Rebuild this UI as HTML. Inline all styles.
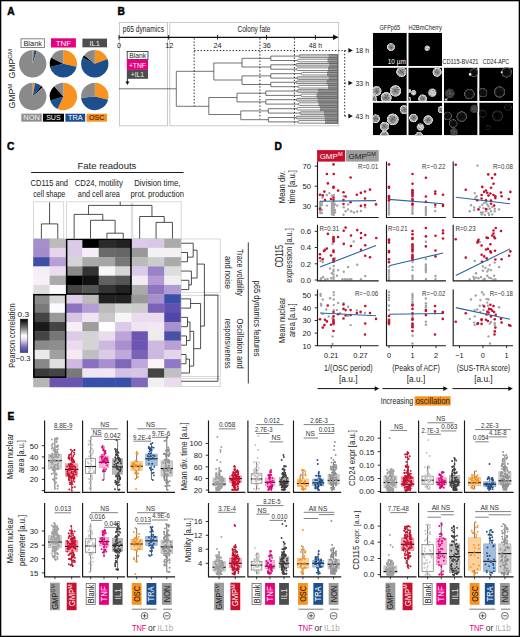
<!DOCTYPE html>
<html><head><meta charset="utf-8"><title>Figure</title>
<style>html,body{margin:0;padding:0;background:#fff;}body{width:520px;height:637px;overflow:hidden;font-family:"Liberation Sans",sans-serif;}svg{display:block;}</style>
</head><body>
<svg width="520" height="637" viewBox="0 0 520 637" font-family='"Liberation Sans", sans-serif'><defs><radialGradient id="cg"><stop offset="0" stop-color="#727272"/><stop offset="0.5" stop-color="#a0a0a0"/><stop offset="0.78" stop-color="#d6d6d6"/><stop offset="0.9" stop-color="#ececec"/><stop offset="0.97" stop-color="#8a8a8a"/><stop offset="1" stop-color="#000" stop-opacity="0"/></radialGradient><filter id="mot" x="-20%" y="-20%" width="140%" height="140%"><feTurbulence type="fractalNoise" baseFrequency="0.85" numOctaves="2" seed="7" result="t"/><feColorMatrix in="t" type="matrix" values="0 0 0 0 0  0 0 0 0 0  0 0 0 0 0  1.9 0 0 0 -0.75" result="m"/><feComposite in="m" in2="SourceGraphic" operator="in" result="d"/><feMerge><feMergeNode in="SourceGraphic"/><feMergeNode in="d"/></feMerge></filter><radialGradient id="cb"><stop offset="0" stop-color="#e0e0e0"/><stop offset="0.7" stop-color="#d4d4d4"/><stop offset="1" stop-color="#000" stop-opacity="0"/></radialGradient><radialGradient id="cd"><stop offset="0" stop-color="#101010"/><stop offset="0.65" stop-color="#1a1a1a"/><stop offset="0.86" stop-color="#5a5a5a"/><stop offset="0.93" stop-color="#666"/><stop offset="1" stop-color="#000" stop-opacity="0"/></radialGradient><radialGradient id="cdd"><stop offset="0" stop-color="#0a0a0a"/><stop offset="0.7" stop-color="#141414"/><stop offset="0.88" stop-color="#3c3c3c"/><stop offset="1" stop-color="#000" stop-opacity="0"/></radialGradient><radialGradient id="cdb"><stop offset="0" stop-color="#5a5a5a"/><stop offset="0.6" stop-color="#4a4a4a"/><stop offset="0.85" stop-color="#3a3a3a"/><stop offset="1" stop-color="#000" stop-opacity="0"/></radialGradient><filter id="nz" x="0" y="0" width="1" height="1"><feTurbulence type="fractalNoise" baseFrequency="1.3" numOctaves="1" seed="4" result="t"/><feColorMatrix type="matrix" values="0 0 0 0 1  0 0 0 0 1  0 0 0 0 1  0 0 0 0.9 -0.55" in="t" result="n"/><feComposite in="n" in2="SourceGraphic" operator="in"/></filter><clipPath id="im1"><rect x="372.8" y="32.8" width="34" height="33.3"/></clipPath><clipPath id="im2"><rect x="408.3" y="32.8" width="33.7" height="33.3"/></clipPath><clipPath id="im3"><rect x="372.8" y="67.6" width="34" height="33.5"/></clipPath><clipPath id="im4"><rect x="408.3" y="67.6" width="33.7" height="33.5"/></clipPath><clipPath id="im5"><rect x="444" y="67.6" width="33.6" height="33.5"/></clipPath><clipPath id="im6"><rect x="479.2" y="67.6" width="33.8" height="33.5"/></clipPath><clipPath id="im7"><rect x="372.8" y="102.5" width="34" height="32.8"/></clipPath><clipPath id="im8"><rect x="408.3" y="102.5" width="33.7" height="32.8"/></clipPath><clipPath id="im9"><rect x="444" y="102.5" width="33.6" height="32.8"/></clipPath><clipPath id="im10"><rect x="479.2" y="102.5" width="33.8" height="32.8"/></clipPath><linearGradient id="cbar" x1="0" y1="0" x2="0" y2="1"><stop offset="0" stop-color="#000"/><stop offset="0.25" stop-color="#6e6e6e"/><stop offset="0.5" stop-color="#ffffff"/><stop offset="0.62" stop-color="#e6d8ee"/><stop offset="0.8" stop-color="#8f78c2"/><stop offset="1" stop-color="#3440a0"/></linearGradient></defs><rect x="0.65" y="0.65" width="518.7" height="635.7" fill="none" stroke="#000" stroke-width="1.3"/>
<text x="7.2" y="15.2" font-size="10.2" fill="#000" font-weight="bold" stroke="#000" stroke-width="0.45">A</text>
<text x="117.6" y="15.4" font-size="10.2" fill="#000" font-weight="bold" stroke="#000" stroke-width="0.45">B</text>
<text x="7" y="149.8" font-size="10.2" fill="#000" font-weight="bold" stroke="#000" stroke-width="0.45">C</text>
<text x="274.4" y="149.6" font-size="10.2" fill="#000" font-weight="bold" stroke="#000" stroke-width="0.45">D</text>
<text x="7.6" y="420.3" font-size="10.2" fill="#000" font-weight="bold" stroke="#000" stroke-width="0.45">E</text>
<path d="M32.7 63.8L32.7 50.1A13.7 13.7 0 0 1 33.89 50.15Z" fill="#f7931e"/>
<path d="M32.7 63.8L33.89 50.15A13.7 13.7 0 0 1 36.93 50.77Z" fill="#1d4f8c"/>
<path d="M32.7 63.8L36.93 50.77A13.7 13.7 0 1 1 32.7 50.1Z" fill="#8a8a8a"/>
<path d="M63.3 63.8L63.3 50.1A13.7 13.7 0 0 1 76.7 66.65Z" fill="#f7931e"/>
<path d="M63.3 63.8L76.7 66.65A13.7 13.7 0 0 1 49.95 66.88Z" fill="#1d4f8c"/>
<path d="M63.3 63.8L49.95 66.88A13.7 13.7 0 0 1 51.09 57.58Z" fill="#000"/>
<path d="M63.3 63.8L51.09 57.58A13.7 13.7 0 0 1 63.3 50.1Z" fill="#8a8a8a"/>
<path d="M94.8 63.8L94.8 50.1A13.7 13.7 0 0 1 107.59 58.89Z" fill="#f7931e"/>
<path d="M94.8 63.8L107.59 58.89A13.7 13.7 0 1 1 82.59 57.58Z" fill="#1d4f8c"/>
<path d="M94.8 63.8L82.59 57.58A13.7 13.7 0 0 1 84.15 55.18Z" fill="#000"/>
<path d="M94.8 63.8L84.15 55.18A13.7 13.7 0 0 1 94.8 50.1Z" fill="#8a8a8a"/>
<path d="M32.7 96.5L32.7 82.8A13.7 13.7 0 0 1 35.08 83.01Z" fill="#f7931e"/>
<path d="M32.7 96.5L35.08 83.01A13.7 13.7 0 0 1 41.13 85.7Z" fill="#1d4f8c"/>
<path d="M32.7 96.5L41.13 85.7A13.7 13.7 0 0 1 42.72 87.16Z" fill="#000"/>
<path d="M32.7 96.5L42.72 87.16A13.7 13.7 0 1 1 32.7 82.8Z" fill="#8a8a8a"/>
<path d="M63.4 96.5L63.4 82.8A13.7 13.7 0 1 1 57.61 108.92Z" fill="#f7931e"/>
<path d="M63.4 96.5L57.61 108.92A13.7 13.7 0 0 1 50.3 100.51Z" fill="#1d4f8c"/>
<path d="M63.4 96.5L50.3 100.51A13.7 13.7 0 0 1 54.23 86.32Z" fill="#000"/>
<path d="M63.4 96.5L54.23 86.32A13.7 13.7 0 0 1 63.4 82.8Z" fill="#8a8a8a"/>
<path d="M94.8 96.5L94.8 82.8A13.7 13.7 0 0 1 108.09 99.81Z" fill="#f7931e"/>
<path d="M94.8 96.5L108.09 99.81A13.7 13.7 0 0 1 81.15 97.69Z" fill="#1d4f8c"/>
<path d="M94.8 96.5L81.15 97.69A13.7 13.7 0 0 1 94.8 82.8Z" fill="#8a8a8a"/>
<rect x="21" y="38.8" width="23.4" height="8.7" fill="#fff" stroke="#777" stroke-width="0.9"/>
<text x="32.7" y="46" font-size="8" fill="#222" text-anchor="middle" textLength="18.5" lengthAdjust="spacingAndGlyphs">Blank</text>
<rect x="51" y="38.3" width="24.9" height="9.2" fill="#e6007e"/>
<text x="63.4" y="46" font-size="8" fill="#fff" text-anchor="middle" textLength="15.5" lengthAdjust="spacingAndGlyphs">TNF</text>
<rect x="82.4" y="38.6" width="24.6" height="8.7" fill="#4d4d4d"/>
<text x="94.7" y="46" font-size="8" fill="#eee" text-anchor="middle" textLength="10.5" lengthAdjust="spacingAndGlyphs">IL1</text>
<text x="15.2" y="78.6" font-size="8.6" fill="#222" transform="rotate(-90 15.2 78.6)" textLength="29.5" lengthAdjust="spacingAndGlyphs">GMP<tspan font-size="5.8" dy="-3.4">GM</tspan></text>
<text x="15.2" y="108.6" font-size="8.6" fill="#222" transform="rotate(-90 15.2 108.6)" textLength="24.9" lengthAdjust="spacingAndGlyphs">GMP<tspan font-size="5.8" dy="-3.4">M</tspan></text>
<rect x="21.5" y="113.9" width="20.2" height="7.6" fill="#8c8c8c" stroke="#b0b0b0" stroke-width="0.6"/>
<text x="31.6" y="120.4" font-size="7.6" fill="#f4f4f4" text-anchor="middle" textLength="16.5" lengthAdjust="spacingAndGlyphs">NON</text>
<rect x="42.9" y="113.7" width="21.1" height="8" fill="#000"/>
<text x="53.4" y="120.4" font-size="7.6" fill="#fff" text-anchor="middle" textLength="14.5" lengthAdjust="spacingAndGlyphs">SUS</text>
<rect x="65.4" y="113.7" width="19.8" height="8" fill="#1d4f8c"/>
<text x="75.3" y="120.4" font-size="7.6" fill="#fff" text-anchor="middle" textLength="14.5" lengthAdjust="spacingAndGlyphs">TRA</text>
<rect x="86.5" y="113.7" width="20.5" height="8" fill="#f7931e"/>
<text x="96.7" y="120.4" font-size="7.6" fill="#111" text-anchor="middle" textLength="15.5" lengthAdjust="spacingAndGlyphs">OSC</text>
<rect x="119.4" y="22.4" width="48.1" height="103.4" fill="none" stroke="#c4c4c4" stroke-width="0.9"/>
<rect x="169.8" y="22.4" width="168.8" height="103.4" fill="none" stroke="#c4c4c4" stroke-width="0.9"/>
<text x="143.4" y="32.1" font-size="8.4" fill="#222" text-anchor="middle" textLength="41.2" lengthAdjust="spacingAndGlyphs">p65 dynamics</text>
<text x="254" y="31.8" font-size="9" fill="#222" text-anchor="middle" textLength="32.9" lengthAdjust="spacingAndGlyphs">Colony fate</text>
<line x1="119" y1="37.3" x2="334.5" y2="37.3" stroke="#111" stroke-width="1.25"/>
<path d="M333 34.6L338.6 37.3L333 40Z" fill="#111"/>
<line x1="119" y1="35" x2="119" y2="39.6" stroke="#111" stroke-width="0.9"/>
<line x1="168.6" y1="35" x2="168.6" y2="39.6" stroke="#111" stroke-width="0.9"/>
<line x1="217.6" y1="35" x2="217.6" y2="39.6" stroke="#111" stroke-width="0.9"/>
<line x1="266.5" y1="35" x2="266.5" y2="39.6" stroke="#111" stroke-width="0.9"/>
<line x1="315.4" y1="35" x2="315.4" y2="39.6" stroke="#111" stroke-width="0.9"/>
<text x="119" y="47.6" font-size="7.3" fill="#222" text-anchor="middle">0</text>
<text x="169.2" y="47.6" font-size="7.3" fill="#222" text-anchor="middle">12</text>
<text x="217.6" y="47.6" font-size="7.3" fill="#222" text-anchor="middle">24</text>
<text x="266.8" y="47.6" font-size="7.3" fill="#222" text-anchor="middle">36</text>
<text x="315.4" y="47.6" font-size="7.4" fill="#222" text-anchor="middle" textLength="13.2" lengthAdjust="spacingAndGlyphs">48 h</text>
<rect x="127.2" y="51.4" width="20.8" height="8.1" fill="#fff" stroke="#222" stroke-width="0.8"/>
<text x="137.6" y="58.3" font-size="7" fill="#222" text-anchor="middle" textLength="16.8" lengthAdjust="spacingAndGlyphs">Blank</text>
<rect x="126.8" y="59.5" width="21.2" height="10.4" fill="#e6007e"/>
<text x="137.4" y="67.5" font-size="7" fill="#fff" text-anchor="middle" textLength="17" lengthAdjust="spacingAndGlyphs">+TNF</text>
<rect x="126.8" y="69.9" width="21.2" height="8.9" fill="#4d4d4d"/>
<text x="137.4" y="77" font-size="7" fill="#eee" text-anchor="middle" textLength="13.5" lengthAdjust="spacingAndGlyphs">+IL1</text>
<line x1="127.4" y1="78.8" x2="127.4" y2="82" stroke="#111" stroke-width="0.9"/>
<path d="M125.4 81.6L129.4 81.6L127.4 85Z" fill="#111"/>
<path d="M119 88.8H176.3M176.3 71.3V106.3M176.3 71.3H213.8M213.8 63V80M213.8 63H242M242 58.3V67M213.8 80H242M242 75.9V84.5M176.3 106.3H208.8M208.8 97.5V114.5M208.8 97.5H237M237 93.2V101.9M208.8 114.5H240.8M240.8 110.9V119.7M242 58.3H270.8M270.8 56.1V60.5M270.8 56.1H299M270.8 60.5H297.5M242 67H270.8M270.8 64.8V69.2M270.8 64.8H296M270.8 69.2H296.5M242 75.9H270.8M270.8 73.7V78.1M270.8 73.7H301.5M270.8 78.1H297M242 84.5H270.8M270.8 82.3V86.7M270.8 82.3H296M270.8 86.7H298M237 93.2H265.8M265.8 91V95.4M265.8 91H297M265.8 95.4H301M237 101.9H265.8M265.8 99.7V104.1M265.8 99.7H296.5M265.8 104.1H298.5M240.8 110.9H268.3M268.3 108.7V113.1M268.3 108.7H297M268.3 113.1H300M240.8 119.7H268.3M268.3 117.5V121.9M268.3 117.5H296M268.3 121.9H298" stroke="#444" stroke-width="0.75" fill="none"/>
<rect x="299" y="54.8" width="29.5" height="2.6" fill="#d4d4d4"/>
<rect x="297.5" y="59.2" width="30" height="2.6" fill="#ffffff"/>
<rect x="296" y="63.5" width="33" height="2.6" fill="#d4d4d4"/>
<rect x="296.5" y="67.9" width="31.5" height="2.6" fill="#ffffff"/>
<rect x="301.5" y="72.4" width="25.5" height="2.6" fill="#ffffff"/>
<rect x="297" y="76.8" width="31.5" height="2.6" fill="#d4d4d4"/>
<rect x="296" y="81" width="30.5" height="2.6" fill="#d4d4d4"/>
<rect x="298" y="85.4" width="30" height="2.6" fill="#ffffff"/>
<rect x="297" y="89.7" width="21" height="2.6" fill="#d4d4d4"/>
<rect x="301" y="94.1" width="15.5" height="2.6" fill="#ffffff"/>
<rect x="296.5" y="98.4" width="21" height="2.6" fill="#d4d4d4"/>
<rect x="298.5" y="102.8" width="20" height="2.6" fill="#ffffff"/>
<rect x="297" y="107.4" width="23" height="2.6" fill="#ffffff"/>
<rect x="300" y="111.8" width="24" height="2.6" fill="#d4d4d4"/>
<rect x="296" y="116.2" width="28.5" height="2.6" fill="#d4d4d4"/>
<rect x="298" y="120.6" width="27" height="2.6" fill="#ffffff"/>
<path d="M338.2 53.9L328.5 53.9L328.5 58.3L327.5 58.3L327.5 62.7L329 62.6L329 67L328 67L328 71.4L327 71.5L327 75.9L328.5 75.9L328.5 80.3L326.5 80.1L326.5 84.5L328 84.5L328 88.9L318 88.8L318 93.2L316.5 93.2L316.5 97.6L317.5 97.5L317.5 101.9L318.5 101.9L318.5 106.3L320 106.5L320 110.9L324 110.9L324 115.3L324.5 115.3L324.5 119.7L325 119.7L325 124.1L338.2 124.1Z" fill="#9b9b9b"/>
<path d="M337.4 54.8H300.2A1.3 1.3 0 0 0 300.2 57.4H337.4M337.4 59.2H298.7A1.3 1.3 0 0 0 298.7 61.8H337.4M337.4 63.5H297.2A1.3 1.3 0 0 0 297.2 66.1H337.4M337.4 67.9H297.7A1.3 1.3 0 0 0 297.7 70.5H337.4M337.4 72.4H302.7A1.3 1.3 0 0 0 302.7 75H337.4M337.4 76.8H298.2A1.3 1.3 0 0 0 298.2 79.4H337.4M337.4 81H297.2A1.3 1.3 0 0 0 297.2 83.6H337.4M337.4 85.4H299.2A1.3 1.3 0 0 0 299.2 88H337.4M337.4 89.7H298.2A1.3 1.3 0 0 0 298.2 92.3H337.4M337.4 94.1H302.2A1.3 1.3 0 0 0 302.2 96.7H337.4M337.4 98.4H297.7A1.3 1.3 0 0 0 297.7 101H337.4M337.4 102.8H299.7A1.3 1.3 0 0 0 299.7 105.4H337.4M337.4 107.4H298.2A1.3 1.3 0 0 0 298.2 110H337.4M337.4 111.8H301.2A1.3 1.3 0 0 0 301.2 114.4H337.4M337.4 116.2H297.2A1.3 1.3 0 0 0 297.2 118.8H337.4M337.4 120.6H299.2A1.3 1.3 0 0 0 299.2 123.2H337.4" stroke="#505050" stroke-width="0.7" fill="none"/>
<line x1="337.6" y1="54.5" x2="337.6" y2="123.5" stroke="#555" stroke-width="0.8"/>
<line x1="194.2" y1="38.2" x2="194.2" y2="106.3" stroke="#111" stroke-width="0.9" stroke-dasharray="1.4 1.8"/>
<line x1="194.2" y1="50.6" x2="346" y2="50.6" stroke="#111" stroke-width="0.9" stroke-dasharray="1.4 1.8"/>
<line x1="259.9" y1="38.2" x2="259.9" y2="118.8" stroke="#111" stroke-width="0.9" stroke-dasharray="1.4 1.8"/>
<line x1="294.4" y1="38.2" x2="294.4" y2="125" stroke="#111" stroke-width="0.9" stroke-dasharray="1.4 1.8"/>
<line x1="344.7" y1="50.6" x2="344.7" y2="116.4" stroke="#111" stroke-width="0.9" stroke-dasharray="1.4 1.8"/>
<path d="M348.4 48.1L352.8 50.4L348.4 52.7Z" fill="#111"/>
<text x="355.4" y="53.3" font-size="7.4" fill="#222" textLength="13.7" lengthAdjust="spacingAndGlyphs">18 h</text>
<path d="M348.4 80.7L352.8 83L348.4 85.3Z" fill="#111"/>
<text x="355.4" y="85.9" font-size="7.4" fill="#222" textLength="13.7" lengthAdjust="spacingAndGlyphs">33 h</text>
<path d="M348.4 113.8L352.8 116.1L348.4 118.4Z" fill="#111"/>
<text x="355.4" y="119" font-size="7.4" fill="#222" textLength="13.7" lengthAdjust="spacingAndGlyphs">43 h</text>
<line x1="344.6" y1="83" x2="347.4" y2="83" stroke="#111" stroke-width="0.9" stroke-dasharray="1.4 1.8"/>
<line x1="344.6" y1="116.1" x2="347.4" y2="116.1" stroke="#111" stroke-width="0.9" stroke-dasharray="1.4 1.8"/>
<g clip-path="url(#im1)">
<rect x="372.8" y="32.8" width="34" height="33.3" fill="#000"/>
<g filter="url(#mot)">
<circle cx="390.9" cy="47.1" r="4.2" fill="url(#cg)"/>
</g></g>
<g clip-path="url(#im2)">
<rect x="408.3" y="32.8" width="33.7" height="33.3" fill="#000"/>
<g filter="url(#mot)">
<circle cx="427.2" cy="48.2" r="3.4" fill="url(#cb)"/>
</g></g>
<g clip-path="url(#im3)">
<rect x="372.8" y="67.6" width="34" height="33.5" fill="#000"/>
<g filter="url(#mot)">
<circle cx="401.4" cy="71.9" r="5.4" fill="url(#cg)"/>
<circle cx="376.6" cy="90.9" r="5.2" fill="url(#cg)"/>
<circle cx="395.5" cy="90.9" r="6" fill="url(#cg)"/>
<circle cx="386.2" cy="97.6" r="5.8" fill="url(#cg)"/>
<circle cx="373.5" cy="99" r="4" fill="url(#cg)"/>
</g></g>
<g clip-path="url(#im4)">
<rect x="408.3" y="67.6" width="33.7" height="33.5" fill="#000"/>
<g filter="url(#mot)">
<circle cx="437.1" cy="72.2" r="4.8" fill="url(#cg)"/>
<circle cx="432.3" cy="92.7" r="5.2" fill="url(#cb)"/>
<circle cx="413.6" cy="92.7" r="3.4" fill="url(#cb)"/>
<circle cx="409.2" cy="91" r="2.6" fill="url(#cb)"/>
<circle cx="422.6" cy="98.8" r="4.6" fill="url(#cg)"/>
<circle cx="408.4" cy="99.5" r="3" fill="url(#cg)"/>
</g></g>
<g clip-path="url(#im5)">
<rect x="444" y="67.6" width="33.6" height="33.5" fill="#000"/>
<g filter="url(#mot)">
<circle cx="474" cy="72.6" r="4.6" fill="url(#cd)"/>
<circle cx="449.7" cy="93.4" r="5.6" fill="url(#cdb)"/>
<circle cx="469.4" cy="94.1" r="5.6" fill="url(#cd)"/>
<circle cx="446.2" cy="99.5" r="2.2" fill="url(#cdb)"/>
</g></g>
<g clip-path="url(#im6)">
<rect x="479.2" y="67.6" width="33.8" height="33.5" fill="#000"/>
<g filter="url(#mot)">
<circle cx="506.6" cy="72.3" r="5.6" fill="url(#cd)"/>
<circle cx="482.7" cy="92.7" r="5" fill="url(#cd)"/>
<circle cx="499.6" cy="92" r="6" fill="url(#cd)"/>
</g></g>
<g clip-path="url(#im7)">
<rect x="372.8" y="102.5" width="34" height="32.8" fill="#000"/>
<g filter="url(#mot)">
<circle cx="375.6" cy="118.7" r="4.6" fill="url(#cg)"/>
<circle cx="404.2" cy="109.7" r="4.8" fill="url(#cg)"/>
<circle cx="392.8" cy="119.4" r="6.2" fill="url(#cg)"/>
<circle cx="384.5" cy="126.5" r="5" fill="url(#cg)"/>
<circle cx="384.5" cy="135.2" r="4.6" fill="url(#cg)"/>
</g></g>
<g clip-path="url(#im8)">
<rect x="408.3" y="102.5" width="33.7" height="32.8" fill="#000"/>
<g filter="url(#mot)">
<circle cx="413.5" cy="118" r="4.6" fill="url(#cg)"/>
<circle cx="428.1" cy="120.1" r="5" fill="url(#cg)"/>
<circle cx="420.5" cy="127" r="4.6" fill="url(#cb)"/>
<circle cx="441.3" cy="109.7" r="3.8" fill="url(#cg)"/>
<circle cx="419" cy="135.5" r="4" fill="url(#cg)"/>
</g></g>
<g clip-path="url(#im9)">
<rect x="444" y="102.5" width="33.6" height="32.8" fill="#000"/>
<g filter="url(#mot)">
<circle cx="474.3" cy="108.8" r="4.8" fill="url(#cdb)"/>
<circle cx="447.6" cy="115.9" r="4.6" fill="url(#cd)"/>
<circle cx="461.7" cy="116.6" r="5.6" fill="url(#cd)"/>
<circle cx="453.2" cy="123.6" r="4.6" fill="url(#cd)"/>
<circle cx="453.9" cy="132" r="4.6" fill="url(#cdb)"/>
</g></g>
<g clip-path="url(#im10)">
<rect x="479.2" y="102.5" width="33.8" height="32.8" fill="#000"/>
<g filter="url(#mot)">
<circle cx="482.7" cy="113.8" r="4.2" fill="url(#cdd)"/>
<circle cx="497.5" cy="115.9" r="6" fill="url(#cdd)"/>
<circle cx="508" cy="107.4" r="4.2" fill="url(#cdd)"/>
<circle cx="488.3" cy="127.8" r="3" fill="url(#cdd)"/>
</g></g>
<circle cx="470.1" cy="74.4" r="1.3" fill="#fff"/>
<circle cx="501.7" cy="72.3" r="1" fill="#eee"/>
<circle cx="446" cy="99.6" r="0.9" fill="#ddd"/>
<text x="389.8" y="29.6" font-size="6.8" fill="#222" text-anchor="middle" textLength="20.5" lengthAdjust="spacingAndGlyphs">GFPp65</text>
<text x="425.2" y="29.6" font-size="6.8" fill="#222" text-anchor="middle" textLength="33.5" lengthAdjust="spacingAndGlyphs">H2BmCherry</text>
<text x="460.4" y="64.3" font-size="6.8" fill="#222" text-anchor="middle" textLength="36.2" lengthAdjust="spacingAndGlyphs">CD115-BV421</text>
<text x="496" y="64.3" font-size="6.8" fill="#222" text-anchor="middle" textLength="26.4" lengthAdjust="spacingAndGlyphs">CD24-APC</text>
<text x="396.8" y="64.4" font-size="6.6" fill="#fff" text-anchor="middle" textLength="18" lengthAdjust="spacingAndGlyphs">10 µm</text>
<rect x="33.2" y="238.6" width="16.73" height="9.62" fill="#a78fcc"/>
<rect x="49.58" y="238.6" width="16.73" height="9.62" fill="#bbbbbb"/>
<rect x="65.96" y="238.6" width="16.73" height="9.62" fill="#dccbe8"/>
<rect x="82.34" y="238.6" width="16.73" height="9.62" fill="#000000"/>
<rect x="98.72" y="238.6" width="16.73" height="9.62" fill="#2a2a2a"/>
<rect x="115.1" y="238.6" width="16.73" height="9.62" fill="#222222"/>
<rect x="131.48" y="238.6" width="16.73" height="9.62" fill="#dccbe8"/>
<rect x="147.86" y="238.6" width="16.73" height="9.62" fill="#d8c8e6"/>
<rect x="164.24" y="238.6" width="16.73" height="9.62" fill="#aaaaaa"/>
<rect x="33.2" y="247.87" width="16.73" height="9.62" fill="#a48bc9"/>
<rect x="49.58" y="247.87" width="16.73" height="9.62" fill="#e5d4ec"/>
<rect x="65.96" y="247.87" width="16.73" height="9.62" fill="#dccbe8"/>
<rect x="82.34" y="247.87" width="16.73" height="9.62" fill="#f5eef8"/>
<rect x="98.72" y="247.87" width="16.73" height="9.62" fill="#6a6a6a"/>
<rect x="115.1" y="247.87" width="16.73" height="9.62" fill="#666666"/>
<rect x="131.48" y="247.87" width="16.73" height="9.62" fill="#999999"/>
<rect x="147.86" y="247.87" width="16.73" height="9.62" fill="#f2f2f2"/>
<rect x="164.24" y="247.87" width="16.73" height="9.62" fill="#f2f2f2"/>
<rect x="33.2" y="257.14" width="16.73" height="9.62" fill="#3f4fa8"/>
<rect x="49.58" y="257.14" width="16.73" height="9.62" fill="#b89fd5"/>
<rect x="65.96" y="257.14" width="16.73" height="9.62" fill="#d4d4d4"/>
<rect x="82.34" y="257.14" width="16.73" height="9.62" fill="#a9a9a9"/>
<rect x="98.72" y="257.14" width="16.73" height="9.62" fill="#a5a5a5"/>
<rect x="115.1" y="257.14" width="16.73" height="9.62" fill="#777777"/>
<rect x="131.48" y="257.14" width="16.73" height="9.62" fill="#bbbbbb"/>
<rect x="147.86" y="257.14" width="16.73" height="9.62" fill="#cccccc"/>
<rect x="164.24" y="257.14" width="16.73" height="9.62" fill="#aaaaaa"/>
<rect x="33.2" y="266.41" width="16.73" height="9.62" fill="#f5eef8"/>
<rect x="49.58" y="266.41" width="16.73" height="9.62" fill="#eddcf0"/>
<rect x="65.96" y="266.41" width="16.73" height="9.62" fill="#888888"/>
<rect x="82.34" y="266.41" width="16.73" height="9.62" fill="#333333"/>
<rect x="98.72" y="266.41" width="16.73" height="9.62" fill="#f5f7f7"/>
<rect x="115.1" y="266.41" width="16.73" height="9.62" fill="#d5d5d5"/>
<rect x="131.48" y="266.41" width="16.73" height="9.62" fill="#dccbe8"/>
<rect x="147.86" y="266.41" width="16.73" height="9.62" fill="#9882c8"/>
<rect x="164.24" y="266.41" width="16.73" height="9.62" fill="#dddddd"/>
<rect x="33.2" y="275.68" width="16.73" height="9.62" fill="#f8f0f8"/>
<rect x="49.58" y="275.68" width="16.73" height="9.62" fill="#aaaaaa"/>
<rect x="65.96" y="275.68" width="16.73" height="9.62" fill="#000000"/>
<rect x="82.34" y="275.68" width="16.73" height="9.62" fill="#111111"/>
<rect x="98.72" y="275.68" width="16.73" height="9.62" fill="#616161"/>
<rect x="115.1" y="275.68" width="16.73" height="9.62" fill="#555555"/>
<rect x="131.48" y="275.68" width="16.73" height="9.62" fill="#f4eaf4"/>
<rect x="147.86" y="275.68" width="16.73" height="9.62" fill="#b39ad4"/>
<rect x="164.24" y="275.68" width="16.73" height="9.62" fill="#eeeeee"/>
<rect x="33.2" y="284.95" width="16.73" height="9.62" fill="#dddddd"/>
<rect x="49.58" y="284.95" width="16.73" height="9.62" fill="#fcfafc"/>
<rect x="65.96" y="284.95" width="16.73" height="9.62" fill="#444444"/>
<rect x="82.34" y="284.95" width="16.73" height="9.62" fill="#555555"/>
<rect x="98.72" y="284.95" width="16.73" height="9.62" fill="#333333"/>
<rect x="115.1" y="284.95" width="16.73" height="9.62" fill="#222222"/>
<rect x="131.48" y="284.95" width="16.73" height="9.62" fill="#aaaaaa"/>
<rect x="147.86" y="284.95" width="16.73" height="9.62" fill="#8c76c0"/>
<rect x="164.24" y="284.95" width="16.73" height="9.62" fill="#b39ad4"/>
<rect x="33.2" y="294.22" width="16.73" height="9.62" fill="#8a8a8a"/>
<rect x="49.58" y="294.22" width="16.73" height="9.62" fill="#d8d8d8"/>
<rect x="65.96" y="294.22" width="16.73" height="9.62" fill="#e0cde8"/>
<rect x="82.34" y="294.22" width="16.73" height="9.62" fill="#bbbbbb"/>
<rect x="98.72" y="294.22" width="16.73" height="9.62" fill="#222222"/>
<rect x="115.1" y="294.22" width="16.73" height="9.62" fill="#222222"/>
<rect x="131.48" y="294.22" width="16.73" height="9.62" fill="#999999"/>
<rect x="147.86" y="294.22" width="16.73" height="9.62" fill="#a890cc"/>
<rect x="164.24" y="294.22" width="16.73" height="9.62" fill="#3a4fa8"/>
<rect x="33.2" y="303.49" width="16.73" height="9.62" fill="#7a7a7a"/>
<rect x="49.58" y="303.49" width="16.73" height="9.62" fill="#fafbff"/>
<rect x="65.96" y="303.49" width="16.73" height="9.62" fill="#8d74bf"/>
<rect x="82.34" y="303.49" width="16.73" height="9.62" fill="#b49dd4"/>
<rect x="98.72" y="303.49" width="16.73" height="9.62" fill="#bbbbbb"/>
<rect x="115.1" y="303.49" width="16.73" height="9.62" fill="#d0d0d0"/>
<rect x="131.48" y="303.49" width="16.73" height="9.62" fill="#cccccc"/>
<rect x="147.86" y="303.49" width="16.73" height="9.62" fill="#7a62b4"/>
<rect x="164.24" y="303.49" width="16.73" height="9.62" fill="#6050b0"/>
<rect x="33.2" y="312.76" width="16.73" height="9.62" fill="#444444"/>
<rect x="49.58" y="312.76" width="16.73" height="9.62" fill="#999999"/>
<rect x="65.96" y="312.76" width="16.73" height="9.62" fill="#d8c4e4"/>
<rect x="82.34" y="312.76" width="16.73" height="9.62" fill="#f0e4f2"/>
<rect x="98.72" y="312.76" width="16.73" height="9.62" fill="#c8c8c8"/>
<rect x="115.1" y="312.76" width="16.73" height="9.62" fill="#f5f5f5"/>
<rect x="131.48" y="312.76" width="16.73" height="9.62" fill="#eadcee"/>
<rect x="147.86" y="312.76" width="16.73" height="9.62" fill="#eadcee"/>
<rect x="164.24" y="312.76" width="16.73" height="9.62" fill="#5048a8"/>
<rect x="33.2" y="322.03" width="16.73" height="9.62" fill="#1a1a1a"/>
<rect x="49.58" y="322.03" width="16.73" height="9.62" fill="#444444"/>
<rect x="65.96" y="322.03" width="16.73" height="9.62" fill="#f6f0f6"/>
<rect x="82.34" y="322.03" width="16.73" height="9.62" fill="#9e9e9e"/>
<rect x="98.72" y="322.03" width="16.73" height="9.62" fill="#ffffff"/>
<rect x="115.1" y="322.03" width="16.73" height="9.62" fill="#dccbe6"/>
<rect x="131.48" y="322.03" width="16.73" height="9.62" fill="#f0e4f2"/>
<rect x="147.86" y="322.03" width="16.73" height="9.62" fill="#f2e8f4"/>
<rect x="164.24" y="322.03" width="16.73" height="9.62" fill="#a890cc"/>
<rect x="33.2" y="331.3" width="16.73" height="9.62" fill="#444444"/>
<rect x="49.58" y="331.3" width="16.73" height="9.62" fill="#777777"/>
<rect x="65.96" y="331.3" width="16.73" height="9.62" fill="#dccbe6"/>
<rect x="82.34" y="331.3" width="16.73" height="9.62" fill="#d4d4d4"/>
<rect x="98.72" y="331.3" width="16.73" height="9.62" fill="#eadcee"/>
<rect x="115.1" y="331.3" width="16.73" height="9.62" fill="#bba4d8"/>
<rect x="131.48" y="331.3" width="16.73" height="9.62" fill="#6b55b0"/>
<rect x="147.86" y="331.3" width="16.73" height="9.62" fill="#ececec"/>
<rect x="164.24" y="331.3" width="16.73" height="9.62" fill="#4850a8"/>
<rect x="33.2" y="340.57" width="16.73" height="9.62" fill="#8a8a8a"/>
<rect x="49.58" y="340.57" width="16.73" height="9.62" fill="#8e8e8e"/>
<rect x="65.96" y="340.57" width="16.73" height="9.62" fill="#eadcee"/>
<rect x="82.34" y="340.57" width="16.73" height="9.62" fill="#d4d4d4"/>
<rect x="98.72" y="340.57" width="16.73" height="9.62" fill="#cdb8e0"/>
<rect x="115.1" y="340.57" width="16.73" height="9.62" fill="#a890cc"/>
<rect x="131.48" y="340.57" width="16.73" height="9.62" fill="#6b55b0"/>
<rect x="147.86" y="340.57" width="16.73" height="9.62" fill="#cdb8e0"/>
<rect x="164.24" y="340.57" width="16.73" height="9.62" fill="#b8a0d4"/>
<rect x="33.2" y="349.84" width="16.73" height="9.62" fill="#eaeaea"/>
<rect x="49.58" y="349.84" width="16.73" height="9.62" fill="#a0a0a0"/>
<rect x="65.96" y="349.84" width="16.73" height="9.62" fill="#f4eaf4"/>
<rect x="82.34" y="349.84" width="16.73" height="9.62" fill="#bfbfbf"/>
<rect x="98.72" y="349.84" width="16.73" height="9.62" fill="#dccbe6"/>
<rect x="115.1" y="349.84" width="16.73" height="9.62" fill="#c0a8dc"/>
<rect x="131.48" y="349.84" width="16.73" height="9.62" fill="#7a62b4"/>
<rect x="147.86" y="349.84" width="16.73" height="9.62" fill="#cdb8e0"/>
<rect x="164.24" y="349.84" width="16.73" height="9.62" fill="#e4d4ea"/>
<rect x="33.2" y="359.11" width="16.73" height="9.62" fill="#888888"/>
<rect x="49.58" y="359.11" width="16.73" height="9.62" fill="#e0e0e0"/>
<rect x="65.96" y="359.11" width="16.73" height="9.62" fill="#d0b8e0"/>
<rect x="82.34" y="359.11" width="16.73" height="9.62" fill="#8a70c0"/>
<rect x="98.72" y="359.11" width="16.73" height="9.62" fill="#a890cc"/>
<rect x="115.1" y="359.11" width="16.73" height="9.62" fill="#8068b8"/>
<rect x="131.48" y="359.11" width="16.73" height="9.62" fill="#c0a8dc"/>
<rect x="147.86" y="359.11" width="16.73" height="9.62" fill="#f8f4f8"/>
<rect x="164.24" y="359.11" width="16.73" height="9.62" fill="#9078c4"/>
<rect x="33.2" y="368.38" width="16.73" height="9.62" fill="#3a3a3a"/>
<rect x="49.58" y="368.38" width="16.73" height="9.62" fill="#444444"/>
<rect x="65.96" y="368.38" width="16.73" height="9.62" fill="#7a7a7a"/>
<rect x="82.34" y="368.38" width="16.73" height="9.62" fill="#f2e6f4"/>
<rect x="98.72" y="368.38" width="16.73" height="9.62" fill="#f2e6f4"/>
<rect x="115.1" y="368.38" width="16.73" height="9.62" fill="#d4c0e4"/>
<rect x="131.48" y="368.38" width="16.73" height="9.62" fill="#d8c4e4"/>
<rect x="147.86" y="368.38" width="16.73" height="9.62" fill="#444444"/>
<rect x="164.24" y="368.38" width="16.73" height="9.62" fill="#c0c0c0"/>
<rect x="33.2" y="377.65" width="16.73" height="9.62" fill="#b5b5b5"/>
<rect x="49.58" y="377.65" width="16.73" height="9.62" fill="#6b55b0"/>
<rect x="65.96" y="377.65" width="16.73" height="9.62" fill="#6b55b0"/>
<rect x="82.34" y="377.65" width="16.73" height="9.62" fill="#3850a8"/>
<rect x="98.72" y="377.65" width="16.73" height="9.62" fill="#3850a8"/>
<rect x="115.1" y="377.65" width="16.73" height="9.62" fill="#3850a8"/>
<rect x="131.48" y="377.65" width="16.73" height="9.62" fill="#8068b8"/>
<rect x="147.86" y="377.65" width="16.73" height="9.62" fill="#f0f0f0"/>
<rect x="164.24" y="377.65" width="16.73" height="9.62" fill="#eadcee"/>
<rect x="66.66" y="239.3" width="64.32" height="54.72" fill="none" stroke="#000" stroke-width="1.5"/>
<rect x="33.9" y="294.72" width="31.76" height="82.43" fill="none" stroke="#000" stroke-width="1.5"/>
<rect x="33.6" y="201.8" width="30.1" height="36.8" fill="none" stroke="#cfcfcf" stroke-width="0.8"/>
<rect x="66.4" y="201.8" width="64.9" height="36.8" fill="none" stroke="#cfcfcf" stroke-width="0.8"/>
<rect x="132.8" y="201.8" width="48.4" height="36.8" fill="none" stroke="#cfcfcf" stroke-width="0.8"/>
<rect x="181.2" y="239" width="39.1" height="53.3" fill="none" stroke="#cfcfcf" stroke-width="0.8"/>
<rect x="181.2" y="295.3" width="39.1" height="81.2" fill="none" stroke="#cfcfcf" stroke-width="0.8"/>
<rect x="181.2" y="378.6" width="39.1" height="8" fill="none" stroke="#cfcfcf" stroke-width="0.8"/>
<path d="M41.39 238.6V223.9H57.77V238.6M49.58 223.9V202.4M106.91 238.6V233.2H123.29V238.6M90.53 238.6V220.3H115.1V233.2M74.15 238.6V214.4H102.81V220.3M156.05 238.6V222.4H172.43V238.6M139.67 238.6V216.5H164.24V222.4M88.48 214.4V205.4H151.96V216.5M120.22 205.4V201.8" stroke="#222" stroke-width="0.8" fill="none"/>
<path d="M181.2 252.5H187.5V261.77H181.2M181.2 243.23H193.2V257.14H187.5M181.2 280.31H188.8V289.58H181.2M181.2 271.05H191.4V284.95H188.8M193.2 250.19H197.1V278H191.4M181.2 298.86H190.6V308.12H181.2M181.2 317.39H187.5V326.66H181.2M181.2 335.94H186.5V345.2H181.2M187.5 322.03H190V340.57H186.5M181.2 354.48H186V363.75H181.2M186 359.11H189.5V373.01H181.2M190 331.3H193.7V366.06H189.5M190.6 303.49H200.6V348.68H193.7M197.1 264.09H204.4V326.09H200.6M204.4 295.09H217.9V381.28H181.2" stroke="#222" stroke-width="0.8" fill="none"/>
<text x="106.9" y="168.9" font-size="9.6" fill="#222" text-anchor="middle" textLength="59" lengthAdjust="spacingAndGlyphs">Fate readouts</text>
<line x1="31.2" y1="172.5" x2="183.5" y2="172.5" stroke="#1a1a1a" stroke-width="1"/>
<text x="49.3" y="185.8" font-size="8.3" fill="#222" text-anchor="middle" textLength="37.5" lengthAdjust="spacingAndGlyphs">CD115 and</text>
<text x="49.3" y="196.5" font-size="8.3" fill="#222" text-anchor="middle" textLength="32" lengthAdjust="spacingAndGlyphs">cell shape</text>
<text x="98.8" y="185.8" font-size="8.3" fill="#222" text-anchor="middle" textLength="48" lengthAdjust="spacingAndGlyphs">CD24, motility</text>
<text x="98.8" y="196.5" font-size="8.3" fill="#222" text-anchor="middle" textLength="42" lengthAdjust="spacingAndGlyphs">and cell area</text>
<text x="157.3" y="185.8" font-size="8.3" fill="#222" text-anchor="middle" textLength="46.2" lengthAdjust="spacingAndGlyphs">Division time,</text>
<text x="157.3" y="196.5" font-size="8.3" fill="#222" text-anchor="middle" textLength="53.5" lengthAdjust="spacingAndGlyphs">prot. production</text>
<text x="237.4" y="272.5" font-size="8.5" fill="#222" text-anchor="middle" textLength="47" lengthAdjust="spacingAndGlyphs" transform="rotate(90 237.4 272.5)">Trace volatility</text>
<text x="225.3" y="272.5" font-size="8.5" fill="#222" text-anchor="middle" textLength="33" lengthAdjust="spacingAndGlyphs" transform="rotate(90 225.3 272.5)">and noise</text>
<text x="237.4" y="343.6" font-size="8.5" fill="#222" text-anchor="middle" textLength="50.2" lengthAdjust="spacingAndGlyphs" transform="rotate(90 237.4 343.6)">Oscillation and</text>
<text x="225.3" y="343.6" font-size="8.5" fill="#222" text-anchor="middle" textLength="50.2" lengthAdjust="spacingAndGlyphs" transform="rotate(90 225.3 343.6)">responsiveness</text>
<line x1="248.3" y1="242.4" x2="248.3" y2="383.4" stroke="#222" stroke-width="0.9"/>
<text x="253.9" y="318.5" font-size="8.5" fill="#222" text-anchor="middle" textLength="76" lengthAdjust="spacingAndGlyphs" transform="rotate(90 253.9 318.5)">p65 dynamics features</text>
<rect x="20.2" y="319.1" width="7.6" height="33.4" fill="url(#cbar)" stroke="#222" stroke-width="0.5"/>
<text x="23.3" y="316.7" font-size="7.6" fill="#222" text-anchor="middle" textLength="11.5" lengthAdjust="spacingAndGlyphs">0.3</text>
<text x="23" y="360.6" font-size="7.6" fill="#222" text-anchor="middle" textLength="15" lengthAdjust="spacingAndGlyphs">−0.3</text>
<text x="15" y="335.5" font-size="8.5" fill="#222" text-anchor="middle" textLength="64.4" lengthAdjust="spacingAndGlyphs" transform="rotate(-90 15 335.5)">Pearson correlation</text>
<circle cx="320.25" cy="201.88" r="1.2" fill="#a2a2a2"/>
<circle cx="320.25" cy="203.75" r="1.2" fill="#a2a2a2"/>
<circle cx="320.25" cy="205.62" r="1.2" fill="#a2a2a2"/>
<circle cx="320.25" cy="207.5" r="1.2" fill="#a2a2a2"/>
<circle cx="320.25" cy="209.38" r="1.2" fill="#a2a2a2"/>
<circle cx="320.25" cy="210.62" r="1.2" fill="#a2a2a2"/>
<circle cx="320.25" cy="211.88" r="1.2" fill="#a2a2a2"/>
<circle cx="320.25" cy="213.12" r="1.2" fill="#a2a2a2"/>
<circle cx="321.88" cy="202.5" r="1.2" fill="#a2a2a2"/>
<circle cx="321.88" cy="205" r="1.2" fill="#a2a2a2"/>
<circle cx="321.88" cy="210" r="1.2" fill="#a2a2a2"/>
<circle cx="321.88" cy="213.12" r="1.2" fill="#a2a2a2"/>
<circle cx="331.88" cy="203.12" r="1.2" fill="#a2a2a2"/>
<circle cx="331.88" cy="205" r="1.2" fill="#a2a2a2"/>
<circle cx="331.88" cy="206.88" r="1.2" fill="#a2a2a2"/>
<circle cx="331.88" cy="208.75" r="1.2" fill="#a2a2a2"/>
<circle cx="331.88" cy="210.62" r="1.2" fill="#a2a2a2"/>
<circle cx="331.88" cy="212.5" r="1.2" fill="#a2a2a2"/>
<circle cx="331.88" cy="214.38" r="1.2" fill="#a2a2a2"/>
<circle cx="333.75" cy="201.88" r="1.2" fill="#a2a2a2"/>
<circle cx="333.75" cy="203.75" r="1.2" fill="#a2a2a2"/>
<circle cx="333.75" cy="205.62" r="1.2" fill="#a2a2a2"/>
<circle cx="333.75" cy="207.5" r="1.2" fill="#a2a2a2"/>
<circle cx="333.75" cy="209.38" r="1.2" fill="#a2a2a2"/>
<circle cx="333.75" cy="211.25" r="1.2" fill="#a2a2a2"/>
<circle cx="333.75" cy="213.12" r="1.2" fill="#a2a2a2"/>
<circle cx="333.75" cy="215" r="1.2" fill="#a2a2a2"/>
<circle cx="335" cy="204.38" r="1.2" fill="#a2a2a2"/>
<circle cx="335" cy="210" r="1.2" fill="#a2a2a2"/>
<circle cx="335" cy="212.5" r="1.2" fill="#a2a2a2"/>
<circle cx="326.88" cy="195" r="1.2" fill="#a2a2a2"/>
<circle cx="329.38" cy="193.12" r="1.2" fill="#a2a2a2"/>
<circle cx="326.88" cy="205.62" r="1.2" fill="#a2a2a2"/>
<circle cx="337.25" cy="205.62" r="1.2" fill="#a2a2a2"/>
<circle cx="343.75" cy="207.25" r="1.2" fill="#a2a2a2"/>
<circle cx="348.12" cy="204.38" r="1.2" fill="#a2a2a2"/>
<circle cx="343.5" cy="214.75" r="1.2" fill="#a2a2a2"/>
<circle cx="345.62" cy="211.25" r="1.2" fill="#a2a2a2"/>
<circle cx="348.12" cy="209.38" r="1.2" fill="#a2a2a2"/>
<circle cx="351.25" cy="211.25" r="1.2" fill="#a2a2a2"/>
<circle cx="354" cy="212.5" r="1.2" fill="#a2a2a2"/>
<circle cx="357.12" cy="211.5" r="1.2" fill="#a2a2a2"/>
<circle cx="360.88" cy="211" r="1.2" fill="#a2a2a2"/>
<circle cx="365" cy="207.25" r="1.2" fill="#a2a2a2"/>
<circle cx="331.88" cy="195.62" r="1.2" fill="#a2a2a2"/>
<circle cx="333.75" cy="195" r="1.2" fill="#a2a2a2"/>
<circle cx="343.75" cy="196.25" r="1.2" fill="#a2a2a2"/>
<circle cx="322.5" cy="197.5" r="1.2" fill="#a2a2a2"/>
<circle cx="389" cy="195.62" r="1.2" fill="#a2a2a2"/>
<circle cx="389" cy="197.5" r="1.2" fill="#a2a2a2"/>
<circle cx="389" cy="200" r="1.2" fill="#a2a2a2"/>
<circle cx="389" cy="203.12" r="1.2" fill="#a2a2a2"/>
<circle cx="389" cy="205" r="1.2" fill="#a2a2a2"/>
<circle cx="389" cy="206.88" r="1.2" fill="#a2a2a2"/>
<circle cx="389" cy="208.75" r="1.2" fill="#a2a2a2"/>
<circle cx="389" cy="210.62" r="1.2" fill="#a2a2a2"/>
<circle cx="389" cy="212.5" r="1.2" fill="#a2a2a2"/>
<circle cx="389" cy="214.38" r="1.2" fill="#a2a2a2"/>
<circle cx="412.5" cy="205" r="1.2" fill="#a2a2a2"/>
<circle cx="412.5" cy="206.88" r="1.2" fill="#a2a2a2"/>
<circle cx="412.5" cy="208.75" r="1.2" fill="#a2a2a2"/>
<circle cx="412.5" cy="210.62" r="1.2" fill="#a2a2a2"/>
<circle cx="412.5" cy="212.5" r="1.2" fill="#a2a2a2"/>
<circle cx="412.5" cy="213.75" r="1.2" fill="#a2a2a2"/>
<circle cx="425.88" cy="206.88" r="1.2" fill="#a2a2a2"/>
<circle cx="425.88" cy="208.12" r="1.2" fill="#a2a2a2"/>
<circle cx="425.88" cy="209.38" r="1.2" fill="#a2a2a2"/>
<circle cx="425.88" cy="210.62" r="1.2" fill="#a2a2a2"/>
<circle cx="425.88" cy="211.88" r="1.2" fill="#a2a2a2"/>
<circle cx="425.88" cy="213.12" r="1.2" fill="#a2a2a2"/>
<circle cx="425.88" cy="215" r="1.2" fill="#a2a2a2"/>
<circle cx="435.25" cy="206.88" r="1.2" fill="#a2a2a2"/>
<circle cx="435.25" cy="211" r="1.2" fill="#a2a2a2"/>
<circle cx="477.5" cy="165.62" r="1.2" fill="#a2a2a2"/>
<circle cx="474.75" cy="193.12" r="1.2" fill="#a2a2a2"/>
<circle cx="476.62" cy="196.25" r="1.2" fill="#a2a2a2"/>
<circle cx="475.38" cy="198.12" r="1.2" fill="#a2a2a2"/>
<circle cx="471" cy="205.25" r="1.2" fill="#a2a2a2"/>
<circle cx="469.75" cy="211.25" r="1.2" fill="#a2a2a2"/>
<circle cx="474.12" cy="210" r="1.2" fill="#a2a2a2"/>
<circle cx="474.12" cy="207.5" r="1.2" fill="#a2a2a2"/>
<circle cx="479.75" cy="206.88" r="1.2" fill="#a2a2a2"/>
<circle cx="482.25" cy="205" r="1.2" fill="#a2a2a2"/>
<circle cx="484.12" cy="203.12" r="1.2" fill="#a2a2a2"/>
<circle cx="486" cy="202.25" r="1.2" fill="#a2a2a2"/>
<circle cx="487.25" cy="204.38" r="1.2" fill="#a2a2a2"/>
<circle cx="488.5" cy="206.25" r="1.2" fill="#a2a2a2"/>
<circle cx="489.75" cy="208.75" r="1.2" fill="#a2a2a2"/>
<circle cx="486" cy="211.25" r="1.2" fill="#a2a2a2"/>
<circle cx="488.5" cy="213.12" r="1.2" fill="#a2a2a2"/>
<circle cx="491" cy="211.25" r="1.2" fill="#a2a2a2"/>
<circle cx="492.25" cy="214.38" r="1.2" fill="#a2a2a2"/>
<circle cx="494.75" cy="208.75" r="1.2" fill="#a2a2a2"/>
<circle cx="494.75" cy="211.25" r="1.2" fill="#a2a2a2"/>
<circle cx="499.12" cy="209.38" r="1.2" fill="#a2a2a2"/>
<circle cx="482.88" cy="212.5" r="1.2" fill="#a2a2a2"/>
<circle cx="481" cy="212.5" r="1.2" fill="#a2a2a2"/>
<circle cx="481.62" cy="214.38" r="1.2" fill="#a2a2a2"/>
<circle cx="484.75" cy="215" r="1.2" fill="#a2a2a2"/>
<circle cx="489.12" cy="215" r="1.2" fill="#a2a2a2"/>
<circle cx="492.25" cy="206.88" r="1.2" fill="#a2a2a2"/>
<circle cx="483.5" cy="208.12" r="1.2" fill="#a2a2a2"/>
<circle cx="487.25" cy="209.38" r="1.2" fill="#a2a2a2"/>
<circle cx="353.75" cy="241.38" r="1.2" fill="#a2a2a2"/>
<circle cx="332.5" cy="243.88" r="1.2" fill="#a2a2a2"/>
<circle cx="333.5" cy="259.5" r="1.2" fill="#a2a2a2"/>
<circle cx="335" cy="258.5" r="1.2" fill="#a2a2a2"/>
<circle cx="320.62" cy="261" r="1.2" fill="#a2a2a2"/>
<circle cx="322.75" cy="262" r="1.2" fill="#a2a2a2"/>
<circle cx="333.75" cy="266" r="1.2" fill="#a2a2a2"/>
<circle cx="330" cy="268.5" r="1.2" fill="#a2a2a2"/>
<circle cx="333.5" cy="269.75" r="1.2" fill="#a2a2a2"/>
<circle cx="333.5" cy="271.38" r="1.2" fill="#a2a2a2"/>
<circle cx="338.12" cy="270.12" r="1.2" fill="#a2a2a2"/>
<circle cx="348.12" cy="267" r="1.2" fill="#a2a2a2"/>
<circle cx="357.25" cy="264.75" r="1.2" fill="#a2a2a2"/>
<circle cx="343.75" cy="271.75" r="1.2" fill="#a2a2a2"/>
<circle cx="333.5" cy="274.5" r="1.2" fill="#a2a2a2"/>
<circle cx="336.88" cy="275.75" r="1.2" fill="#a2a2a2"/>
<circle cx="333.5" cy="277" r="1.2" fill="#a2a2a2"/>
<circle cx="333.5" cy="278.88" r="1.2" fill="#a2a2a2"/>
<circle cx="327.5" cy="278.88" r="1.2" fill="#a2a2a2"/>
<circle cx="325" cy="279.5" r="1.2" fill="#a2a2a2"/>
<circle cx="321.25" cy="278.25" r="1.2" fill="#a2a2a2"/>
<circle cx="320.62" cy="279.75" r="1.2" fill="#a2a2a2"/>
<circle cx="342.5" cy="279.25" r="1.2" fill="#a2a2a2"/>
<circle cx="345" cy="279.25" r="1.2" fill="#a2a2a2"/>
<circle cx="347.5" cy="279.25" r="1.2" fill="#a2a2a2"/>
<circle cx="350" cy="279.25" r="1.2" fill="#a2a2a2"/>
<circle cx="351.25" cy="279.25" r="1.2" fill="#a2a2a2"/>
<circle cx="361" cy="279.25" r="1.2" fill="#a2a2a2"/>
<circle cx="365.25" cy="276" r="1.2" fill="#a2a2a2"/>
<circle cx="331.25" cy="278.25" r="1.2" fill="#a2a2a2"/>
<circle cx="323.12" cy="277" r="1.2" fill="#a2a2a2"/>
<circle cx="331.88" cy="273.25" r="1.2" fill="#a2a2a2"/>
<circle cx="389" cy="262.62" r="1.2" fill="#a2a2a2"/>
<circle cx="389" cy="267" r="1.2" fill="#a2a2a2"/>
<circle cx="389" cy="270.12" r="1.2" fill="#a2a2a2"/>
<circle cx="389" cy="272" r="1.2" fill="#a2a2a2"/>
<circle cx="389" cy="274.5" r="1.2" fill="#a2a2a2"/>
<circle cx="389" cy="277" r="1.2" fill="#a2a2a2"/>
<circle cx="389" cy="278.88" r="1.2" fill="#a2a2a2"/>
<circle cx="389" cy="280.12" r="1.2" fill="#a2a2a2"/>
<circle cx="412.5" cy="262" r="1.2" fill="#a2a2a2"/>
<circle cx="412.5" cy="267" r="1.2" fill="#a2a2a2"/>
<circle cx="412.5" cy="270.12" r="1.2" fill="#a2a2a2"/>
<circle cx="412.5" cy="275.75" r="1.2" fill="#a2a2a2"/>
<circle cx="412.5" cy="277" r="1.2" fill="#a2a2a2"/>
<circle cx="412.5" cy="278.88" r="1.2" fill="#a2a2a2"/>
<circle cx="425.88" cy="241.75" r="1.2" fill="#a2a2a2"/>
<circle cx="425.88" cy="258.88" r="1.2" fill="#a2a2a2"/>
<circle cx="425.88" cy="264.5" r="1.2" fill="#a2a2a2"/>
<circle cx="425.88" cy="266" r="1.2" fill="#a2a2a2"/>
<circle cx="425.88" cy="267.62" r="1.2" fill="#a2a2a2"/>
<circle cx="425.88" cy="269.25" r="1.2" fill="#a2a2a2"/>
<circle cx="425.88" cy="270.75" r="1.2" fill="#a2a2a2"/>
<circle cx="425.88" cy="272" r="1.2" fill="#a2a2a2"/>
<circle cx="425.88" cy="278.88" r="1.2" fill="#a2a2a2"/>
<circle cx="435.5" cy="276" r="1.2" fill="#a2a2a2"/>
<circle cx="435.5" cy="278.88" r="1.2" fill="#a2a2a2"/>
<circle cx="479.75" cy="242" r="1.2" fill="#a2a2a2"/>
<circle cx="474.75" cy="261" r="1.2" fill="#a2a2a2"/>
<circle cx="487.25" cy="260.12" r="1.2" fill="#a2a2a2"/>
<circle cx="489.75" cy="265.12" r="1.2" fill="#a2a2a2"/>
<circle cx="494.75" cy="262.62" r="1.2" fill="#a2a2a2"/>
<circle cx="499.12" cy="267" r="1.2" fill="#a2a2a2"/>
<circle cx="482.88" cy="266.38" r="1.2" fill="#a2a2a2"/>
<circle cx="485.38" cy="268" r="1.2" fill="#a2a2a2"/>
<circle cx="488.5" cy="269.5" r="1.2" fill="#a2a2a2"/>
<circle cx="491" cy="270.12" r="1.2" fill="#a2a2a2"/>
<circle cx="482.88" cy="270.75" r="1.2" fill="#a2a2a2"/>
<circle cx="487.25" cy="271.38" r="1.2" fill="#a2a2a2"/>
<circle cx="476" cy="273.25" r="1.2" fill="#a2a2a2"/>
<circle cx="473.5" cy="277" r="1.2" fill="#a2a2a2"/>
<circle cx="476" cy="277.62" r="1.2" fill="#a2a2a2"/>
<circle cx="478.5" cy="278.25" r="1.2" fill="#a2a2a2"/>
<circle cx="481" cy="277" r="1.2" fill="#a2a2a2"/>
<circle cx="484.75" cy="278.88" r="1.2" fill="#a2a2a2"/>
<circle cx="487.25" cy="275.75" r="1.2" fill="#a2a2a2"/>
<circle cx="489.12" cy="277.62" r="1.2" fill="#a2a2a2"/>
<circle cx="491" cy="278.25" r="1.2" fill="#a2a2a2"/>
<circle cx="494.12" cy="275.75" r="1.2" fill="#a2a2a2"/>
<circle cx="469.75" cy="279.5" r="1.2" fill="#a2a2a2"/>
<circle cx="474.12" cy="278.88" r="1.2" fill="#a2a2a2"/>
<circle cx="483.5" cy="279.5" r="1.2" fill="#a2a2a2"/>
<circle cx="493.5" cy="279.75" r="1.2" fill="#a2a2a2"/>
<circle cx="495.38" cy="279.25" r="1.2" fill="#a2a2a2"/>
<circle cx="320.62" cy="293.88" r="1.2" fill="#a2a2a2"/>
<circle cx="320.62" cy="295.75" r="1.2" fill="#a2a2a2"/>
<circle cx="322.75" cy="299.5" r="1.2" fill="#a2a2a2"/>
<circle cx="321" cy="303.88" r="1.2" fill="#a2a2a2"/>
<circle cx="321.25" cy="305.5" r="1.2" fill="#a2a2a2"/>
<circle cx="333.75" cy="292.25" r="1.2" fill="#a2a2a2"/>
<circle cx="333.75" cy="295.12" r="1.2" fill="#a2a2a2"/>
<circle cx="333.75" cy="299.5" r="1.2" fill="#a2a2a2"/>
<circle cx="333.75" cy="305.12" r="1.2" fill="#a2a2a2"/>
<circle cx="330" cy="298.25" r="1.2" fill="#a2a2a2"/>
<circle cx="338.12" cy="303" r="1.2" fill="#a2a2a2"/>
<circle cx="343.5" cy="303.25" r="1.2" fill="#a2a2a2"/>
<circle cx="348.12" cy="306.75" r="1.2" fill="#a2a2a2"/>
<circle cx="336.88" cy="310.12" r="1.2" fill="#a2a2a2"/>
<circle cx="326.25" cy="309.5" r="1.2" fill="#a2a2a2"/>
<circle cx="328.75" cy="316.38" r="1.2" fill="#a2a2a2"/>
<circle cx="333.75" cy="310.12" r="1.2" fill="#a2a2a2"/>
<circle cx="333.75" cy="324.5" r="1.2" fill="#a2a2a2"/>
<circle cx="332.5" cy="318.25" r="1.2" fill="#a2a2a2"/>
<circle cx="350.62" cy="325.12" r="1.2" fill="#a2a2a2"/>
<circle cx="356.88" cy="310.5" r="1.2" fill="#a2a2a2"/>
<circle cx="360.62" cy="312.62" r="1.2" fill="#a2a2a2"/>
<circle cx="365" cy="313" r="1.2" fill="#a2a2a2"/>
<circle cx="348.12" cy="315.75" r="1.2" fill="#a2a2a2"/>
<circle cx="332.5" cy="336.38" r="1.2" fill="#a2a2a2"/>
<circle cx="332.5" cy="343.88" r="1.2" fill="#a2a2a2"/>
<circle cx="340" cy="313.25" r="1.2" fill="#a2a2a2"/>
<circle cx="322.5" cy="313.88" r="1.2" fill="#a2a2a2"/>
<circle cx="389" cy="292" r="1.2" fill="#a2a2a2"/>
<circle cx="389" cy="295.12" r="1.2" fill="#a2a2a2"/>
<circle cx="389" cy="297.62" r="1.2" fill="#a2a2a2"/>
<circle cx="389" cy="300.12" r="1.2" fill="#a2a2a2"/>
<circle cx="389" cy="305.5" r="1.2" fill="#a2a2a2"/>
<circle cx="389" cy="310.12" r="1.2" fill="#a2a2a2"/>
<circle cx="389" cy="324.5" r="1.2" fill="#a2a2a2"/>
<circle cx="412.5" cy="293.88" r="1.2" fill="#a2a2a2"/>
<circle cx="412.5" cy="295.5" r="1.2" fill="#a2a2a2"/>
<circle cx="412.5" cy="297.25" r="1.2" fill="#a2a2a2"/>
<circle cx="412.5" cy="299.5" r="1.2" fill="#a2a2a2"/>
<circle cx="412.5" cy="302" r="1.2" fill="#a2a2a2"/>
<circle cx="412.5" cy="315.12" r="1.2" fill="#a2a2a2"/>
<circle cx="412.5" cy="317" r="1.2" fill="#a2a2a2"/>
<circle cx="412.5" cy="335.75" r="1.2" fill="#a2a2a2"/>
<circle cx="412.5" cy="343.5" r="1.2" fill="#a2a2a2"/>
<circle cx="425.88" cy="298.5" r="1.2" fill="#a2a2a2"/>
<circle cx="425.88" cy="303.25" r="1.2" fill="#a2a2a2"/>
<circle cx="425.88" cy="305.5" r="1.2" fill="#a2a2a2"/>
<circle cx="425.88" cy="307.25" r="1.2" fill="#a2a2a2"/>
<circle cx="425.88" cy="321.75" r="1.2" fill="#a2a2a2"/>
<circle cx="425.88" cy="324.75" r="1.2" fill="#a2a2a2"/>
<circle cx="435" cy="313.25" r="1.2" fill="#a2a2a2"/>
<circle cx="482" cy="292.25" r="1.2" fill="#a2a2a2"/>
<circle cx="483.75" cy="294.5" r="1.2" fill="#a2a2a2"/>
<circle cx="475.75" cy="295.5" r="1.2" fill="#a2a2a2"/>
<circle cx="471" cy="299.5" r="1.2" fill="#a2a2a2"/>
<circle cx="480.38" cy="300.12" r="1.2" fill="#a2a2a2"/>
<circle cx="486.62" cy="298.88" r="1.2" fill="#a2a2a2"/>
<circle cx="488.5" cy="299.5" r="1.2" fill="#a2a2a2"/>
<circle cx="487.25" cy="302.62" r="1.2" fill="#a2a2a2"/>
<circle cx="487.88" cy="305.75" r="1.2" fill="#a2a2a2"/>
<circle cx="479.75" cy="305.75" r="1.2" fill="#a2a2a2"/>
<circle cx="482.88" cy="305.12" r="1.2" fill="#a2a2a2"/>
<circle cx="499.12" cy="307.25" r="1.2" fill="#a2a2a2"/>
<circle cx="477.25" cy="309.5" r="1.2" fill="#a2a2a2"/>
<circle cx="474.75" cy="310.12" r="1.2" fill="#a2a2a2"/>
<circle cx="483.5" cy="310.12" r="1.2" fill="#a2a2a2"/>
<circle cx="488.5" cy="310.12" r="1.2" fill="#a2a2a2"/>
<circle cx="480.38" cy="312" r="1.2" fill="#a2a2a2"/>
<circle cx="469.75" cy="318.88" r="1.2" fill="#a2a2a2"/>
<circle cx="474.75" cy="316.38" r="1.2" fill="#a2a2a2"/>
<circle cx="474.12" cy="322.62" r="1.2" fill="#a2a2a2"/>
<circle cx="474.75" cy="325.12" r="1.2" fill="#a2a2a2"/>
<circle cx="491" cy="322" r="1.2" fill="#a2a2a2"/>
<circle cx="489.75" cy="323.5" r="1.2" fill="#a2a2a2"/>
<circle cx="494.75" cy="323.25" r="1.2" fill="#a2a2a2"/>
<circle cx="494.75" cy="325.12" r="1.2" fill="#a2a2a2"/>
<circle cx="488.5" cy="336.38" r="1.2" fill="#a2a2a2"/>
<circle cx="490" cy="343.5" r="1.2" fill="#a2a2a2"/>
<circle cx="333.5" cy="164.38" r="1.3" fill="#c8102e"/>
<circle cx="326.88" cy="174" r="1.3" fill="#c8102e"/>
<circle cx="333.75" cy="174" r="1.3" fill="#c8102e"/>
<circle cx="350.62" cy="177.5" r="1.3" fill="#c8102e"/>
<circle cx="327.88" cy="183.38" r="1.3" fill="#c8102e"/>
<circle cx="333.5" cy="186.88" r="1.3" fill="#c8102e"/>
<circle cx="333.5" cy="187.75" r="1.3" fill="#c8102e"/>
<circle cx="324.38" cy="191.62" r="1.3" fill="#c8102e"/>
<circle cx="338.12" cy="190.62" r="1.3" fill="#c8102e"/>
<circle cx="343.5" cy="192.25" r="1.3" fill="#c8102e"/>
<circle cx="370" cy="189.62" r="1.3" fill="#c8102e"/>
<circle cx="365" cy="191.5" r="1.3" fill="#c8102e"/>
<circle cx="360.88" cy="192.88" r="1.3" fill="#c8102e"/>
<circle cx="356.88" cy="194.75" r="1.3" fill="#c8102e"/>
<circle cx="320" cy="194.75" r="1.3" fill="#c8102e"/>
<circle cx="322.75" cy="195.38" r="1.3" fill="#c8102e"/>
<circle cx="345.62" cy="196.5" r="1.3" fill="#c8102e"/>
<circle cx="333.5" cy="197.5" r="1.3" fill="#c8102e"/>
<circle cx="331" cy="199" r="1.3" fill="#c8102e"/>
<circle cx="333.5" cy="199.75" r="1.3" fill="#c8102e"/>
<circle cx="325" cy="200" r="1.3" fill="#c8102e"/>
<circle cx="343.5" cy="200" r="1.3" fill="#c8102e"/>
<circle cx="365" cy="198.5" r="1.3" fill="#c8102e"/>
<circle cx="350.62" cy="202.25" r="1.3" fill="#c8102e"/>
<circle cx="343.5" cy="204" r="1.3" fill="#c8102e"/>
<circle cx="360.88" cy="205.88" r="1.3" fill="#c8102e"/>
<circle cx="365" cy="205" r="1.3" fill="#c8102e"/>
<circle cx="376" cy="204.38" r="1.3" fill="#c8102e"/>
<circle cx="320" cy="208.75" r="1.3" fill="#c8102e"/>
<circle cx="389" cy="164.38" r="1.3" fill="#c8102e"/>
<circle cx="389" cy="186.88" r="1.3" fill="#c8102e"/>
<circle cx="389" cy="187.75" r="1.3" fill="#c8102e"/>
<circle cx="389" cy="196.25" r="1.3" fill="#c8102e"/>
<circle cx="389" cy="198.12" r="1.3" fill="#c8102e"/>
<circle cx="389" cy="200" r="1.3" fill="#c8102e"/>
<circle cx="389" cy="200.62" r="1.3" fill="#c8102e"/>
<circle cx="412.5" cy="174" r="1.3" fill="#c8102e"/>
<circle cx="412.5" cy="183.75" r="1.3" fill="#c8102e"/>
<circle cx="412.5" cy="190" r="1.3" fill="#c8102e"/>
<circle cx="412.5" cy="191" r="1.3" fill="#c8102e"/>
<circle cx="412.5" cy="192.25" r="1.3" fill="#c8102e"/>
<circle cx="412.5" cy="193.5" r="1.3" fill="#c8102e"/>
<circle cx="412.5" cy="194.75" r="1.3" fill="#c8102e"/>
<circle cx="412.5" cy="196.25" r="1.3" fill="#c8102e"/>
<circle cx="412.5" cy="199" r="1.3" fill="#c8102e"/>
<circle cx="412.5" cy="200.25" r="1.3" fill="#c8102e"/>
<circle cx="412.5" cy="203.5" r="1.3" fill="#c8102e"/>
<circle cx="412.5" cy="204.38" r="1.3" fill="#c8102e"/>
<circle cx="425.88" cy="177.75" r="1.3" fill="#c8102e"/>
<circle cx="425.88" cy="196.5" r="1.3" fill="#c8102e"/>
<circle cx="425.88" cy="201.88" r="1.3" fill="#c8102e"/>
<circle cx="435.25" cy="191.5" r="1.3" fill="#c8102e"/>
<circle cx="435.25" cy="193.75" r="1.3" fill="#c8102e"/>
<circle cx="435.25" cy="204.75" r="1.3" fill="#c8102e"/>
<circle cx="443" cy="194.75" r="1.3" fill="#c8102e"/>
<circle cx="443" cy="204.75" r="1.3" fill="#c8102e"/>
<circle cx="443" cy="206" r="1.3" fill="#c8102e"/>
<circle cx="455.75" cy="164.75" r="1.3" fill="#c8102e"/>
<circle cx="488.25" cy="174.38" r="1.3" fill="#c8102e"/>
<circle cx="495" cy="174.38" r="1.3" fill="#c8102e"/>
<circle cx="492" cy="178.12" r="1.3" fill="#c8102e"/>
<circle cx="493.5" cy="183.75" r="1.3" fill="#c8102e"/>
<circle cx="482.25" cy="186.88" r="1.3" fill="#c8102e"/>
<circle cx="491" cy="187.75" r="1.3" fill="#c8102e"/>
<circle cx="465.75" cy="189.75" r="1.3" fill="#c8102e"/>
<circle cx="486" cy="190.62" r="1.3" fill="#c8102e"/>
<circle cx="484.12" cy="191.88" r="1.3" fill="#c8102e"/>
<circle cx="487.25" cy="192.75" r="1.3" fill="#c8102e"/>
<circle cx="490.38" cy="193.5" r="1.3" fill="#c8102e"/>
<circle cx="481.62" cy="195" r="1.3" fill="#c8102e"/>
<circle cx="488.5" cy="195.62" r="1.3" fill="#c8102e"/>
<circle cx="493.5" cy="195" r="1.3" fill="#c8102e"/>
<circle cx="495.38" cy="196.25" r="1.3" fill="#c8102e"/>
<circle cx="501" cy="192.5" r="1.3" fill="#c8102e"/>
<circle cx="501.62" cy="196.25" r="1.3" fill="#c8102e"/>
<circle cx="510.38" cy="191.88" r="1.3" fill="#c8102e"/>
<circle cx="508.75" cy="199" r="1.3" fill="#c8102e"/>
<circle cx="481.62" cy="198.5" r="1.3" fill="#c8102e"/>
<circle cx="477.25" cy="200.25" r="1.3" fill="#c8102e"/>
<circle cx="486" cy="200.25" r="1.3" fill="#c8102e"/>
<circle cx="491" cy="200.62" r="1.3" fill="#c8102e"/>
<circle cx="495.38" cy="198.12" r="1.3" fill="#c8102e"/>
<circle cx="491" cy="203.75" r="1.3" fill="#c8102e"/>
<circle cx="494.12" cy="205.62" r="1.3" fill="#c8102e"/>
<circle cx="478.5" cy="209.38" r="1.3" fill="#c8102e"/>
<circle cx="486" cy="209" r="1.3" fill="#c8102e"/>
<circle cx="345.62" cy="227.62" r="1.3" fill="#c8102e"/>
<circle cx="343.75" cy="230.75" r="1.3" fill="#c8102e"/>
<circle cx="357.25" cy="230.12" r="1.3" fill="#c8102e"/>
<circle cx="361" cy="233" r="1.3" fill="#c8102e"/>
<circle cx="365.25" cy="235.12" r="1.3" fill="#c8102e"/>
<circle cx="327.88" cy="233.88" r="1.3" fill="#c8102e"/>
<circle cx="333.5" cy="237" r="1.3" fill="#c8102e"/>
<circle cx="333.5" cy="238.25" r="1.3" fill="#c8102e"/>
<circle cx="333.5" cy="239.5" r="1.3" fill="#c8102e"/>
<circle cx="333.75" cy="240.75" r="1.3" fill="#c8102e"/>
<circle cx="333.5" cy="241.75" r="1.3" fill="#c8102e"/>
<circle cx="338.12" cy="237" r="1.3" fill="#c8102e"/>
<circle cx="351" cy="235.5" r="1.3" fill="#c8102e"/>
<circle cx="361" cy="238" r="1.3" fill="#c8102e"/>
<circle cx="376.25" cy="238" r="1.3" fill="#c8102e"/>
<circle cx="343.75" cy="243.88" r="1.3" fill="#c8102e"/>
<circle cx="351" cy="246" r="1.3" fill="#c8102e"/>
<circle cx="365.25" cy="245.25" r="1.3" fill="#c8102e"/>
<circle cx="326.88" cy="248.5" r="1.3" fill="#c8102e"/>
<circle cx="325" cy="249.75" r="1.3" fill="#c8102e"/>
<circle cx="324" cy="251" r="1.3" fill="#c8102e"/>
<circle cx="361" cy="249.75" r="1.3" fill="#c8102e"/>
<circle cx="333.5" cy="250.5" r="1.3" fill="#c8102e"/>
<circle cx="333.5" cy="252" r="1.3" fill="#c8102e"/>
<circle cx="320" cy="254.25" r="1.3" fill="#c8102e"/>
<circle cx="331" cy="255.5" r="1.3" fill="#c8102e"/>
<circle cx="365.25" cy="255.75" r="1.3" fill="#c8102e"/>
<circle cx="370" cy="257.25" r="1.3" fill="#c8102e"/>
<circle cx="320" cy="258" r="1.3" fill="#c8102e"/>
<circle cx="322.75" cy="259.25" r="1.3" fill="#c8102e"/>
<circle cx="333.5" cy="258.88" r="1.3" fill="#c8102e"/>
<circle cx="333.5" cy="261.75" r="1.3" fill="#c8102e"/>
<circle cx="333.75" cy="260.75" r="1.3" fill="#c8102e"/>
<circle cx="389" cy="239.5" r="1.3" fill="#c8102e"/>
<circle cx="389" cy="240.75" r="1.3" fill="#c8102e"/>
<circle cx="389" cy="242.62" r="1.3" fill="#c8102e"/>
<circle cx="389" cy="251" r="1.3" fill="#c8102e"/>
<circle cx="389" cy="252.25" r="1.3" fill="#c8102e"/>
<circle cx="389" cy="259.25" r="1.3" fill="#c8102e"/>
<circle cx="389" cy="262" r="1.3" fill="#c8102e"/>
<circle cx="412.5" cy="231" r="1.3" fill="#c8102e"/>
<circle cx="412.5" cy="234.25" r="1.3" fill="#c8102e"/>
<circle cx="412.5" cy="238" r="1.3" fill="#c8102e"/>
<circle cx="412.5" cy="238.88" r="1.3" fill="#c8102e"/>
<circle cx="412.5" cy="244.25" r="1.3" fill="#c8102e"/>
<circle cx="412.5" cy="245.75" r="1.3" fill="#c8102e"/>
<circle cx="412.5" cy="247" r="1.3" fill="#c8102e"/>
<circle cx="412.5" cy="248.88" r="1.3" fill="#c8102e"/>
<circle cx="412.5" cy="250.12" r="1.3" fill="#c8102e"/>
<circle cx="412.5" cy="251.38" r="1.3" fill="#c8102e"/>
<circle cx="412.5" cy="254.75" r="1.3" fill="#c8102e"/>
<circle cx="412.5" cy="256" r="1.3" fill="#c8102e"/>
<circle cx="412.5" cy="257.25" r="1.3" fill="#c8102e"/>
<circle cx="412.5" cy="258.5" r="1.3" fill="#c8102e"/>
<circle cx="412.5" cy="259.75" r="1.3" fill="#c8102e"/>
<circle cx="425.88" cy="228" r="1.3" fill="#c8102e"/>
<circle cx="425.88" cy="236.38" r="1.3" fill="#c8102e"/>
<circle cx="425.88" cy="246.38" r="1.3" fill="#c8102e"/>
<circle cx="435.5" cy="235.75" r="1.3" fill="#c8102e"/>
<circle cx="435.5" cy="250.5" r="1.3" fill="#c8102e"/>
<circle cx="435.5" cy="256.38" r="1.3" fill="#c8102e"/>
<circle cx="443" cy="230.5" r="1.3" fill="#c8102e"/>
<circle cx="443" cy="233.25" r="1.3" fill="#c8102e"/>
<circle cx="443" cy="238.5" r="1.3" fill="#c8102e"/>
<circle cx="495.75" cy="228" r="1.3" fill="#c8102e"/>
<circle cx="493.5" cy="230.5" r="1.3" fill="#c8102e"/>
<circle cx="501" cy="231" r="1.3" fill="#c8102e"/>
<circle cx="493.5" cy="233.5" r="1.3" fill="#c8102e"/>
<circle cx="492.25" cy="235.5" r="1.3" fill="#c8102e"/>
<circle cx="494.12" cy="236.75" r="1.3" fill="#c8102e"/>
<circle cx="486.62" cy="237.62" r="1.3" fill="#c8102e"/>
<circle cx="487.88" cy="238" r="1.3" fill="#c8102e"/>
<circle cx="495" cy="238.25" r="1.3" fill="#c8102e"/>
<circle cx="478.5" cy="239.75" r="1.3" fill="#c8102e"/>
<circle cx="477.88" cy="241.38" r="1.3" fill="#c8102e"/>
<circle cx="477.5" cy="242.62" r="1.3" fill="#c8102e"/>
<circle cx="455.75" cy="239.25" r="1.3" fill="#c8102e"/>
<circle cx="481.62" cy="245.5" r="1.3" fill="#c8102e"/>
<circle cx="490.38" cy="244.25" r="1.3" fill="#c8102e"/>
<circle cx="486" cy="249.5" r="1.3" fill="#c8102e"/>
<circle cx="487.88" cy="248.88" r="1.3" fill="#c8102e"/>
<circle cx="490.38" cy="251.38" r="1.3" fill="#c8102e"/>
<circle cx="491" cy="252.62" r="1.3" fill="#c8102e"/>
<circle cx="495" cy="250.75" r="1.3" fill="#c8102e"/>
<circle cx="510.38" cy="251.38" r="1.3" fill="#c8102e"/>
<circle cx="509.12" cy="255.75" r="1.3" fill="#c8102e"/>
<circle cx="501.62" cy="259.25" r="1.3" fill="#c8102e"/>
<circle cx="495.38" cy="259.5" r="1.3" fill="#c8102e"/>
<circle cx="481.62" cy="254.75" r="1.3" fill="#c8102e"/>
<circle cx="484.12" cy="256.38" r="1.3" fill="#c8102e"/>
<circle cx="486.62" cy="258.25" r="1.3" fill="#c8102e"/>
<circle cx="482" cy="261.75" r="1.3" fill="#c8102e"/>
<circle cx="465.75" cy="257.62" r="1.3" fill="#c8102e"/>
<circle cx="327.75" cy="305.5" r="1.3" fill="#c8102e"/>
<circle cx="343.5" cy="304.5" r="1.3" fill="#c8102e"/>
<circle cx="343.5" cy="308.88" r="1.3" fill="#c8102e"/>
<circle cx="350.62" cy="310.12" r="1.3" fill="#c8102e"/>
<circle cx="345.62" cy="310.12" r="1.3" fill="#c8102e"/>
<circle cx="338.12" cy="314.25" r="1.3" fill="#c8102e"/>
<circle cx="333.5" cy="312" r="1.3" fill="#c8102e"/>
<circle cx="333.5" cy="316.38" r="1.3" fill="#c8102e"/>
<circle cx="333.5" cy="319.75" r="1.3" fill="#c8102e"/>
<circle cx="333.5" cy="321" r="1.3" fill="#c8102e"/>
<circle cx="333.5" cy="322.25" r="1.3" fill="#c8102e"/>
<circle cx="333.5" cy="323.5" r="1.3" fill="#c8102e"/>
<circle cx="331" cy="324.75" r="1.3" fill="#c8102e"/>
<circle cx="333.5" cy="331" r="1.3" fill="#c8102e"/>
<circle cx="320" cy="319.25" r="1.3" fill="#c8102e"/>
<circle cx="325" cy="319.75" r="1.3" fill="#c8102e"/>
<circle cx="326.88" cy="321.38" r="1.3" fill="#c8102e"/>
<circle cx="324.38" cy="325.12" r="1.3" fill="#c8102e"/>
<circle cx="322.75" cy="327.62" r="1.3" fill="#c8102e"/>
<circle cx="343.5" cy="318.5" r="1.3" fill="#c8102e"/>
<circle cx="345.62" cy="315.5" r="1.3" fill="#c8102e"/>
<circle cx="350.62" cy="315.12" r="1.3" fill="#c8102e"/>
<circle cx="356.88" cy="313" r="1.3" fill="#c8102e"/>
<circle cx="360.62" cy="311.75" r="1.3" fill="#c8102e"/>
<circle cx="365.25" cy="306" r="1.3" fill="#c8102e"/>
<circle cx="370" cy="313" r="1.3" fill="#c8102e"/>
<circle cx="376" cy="318.88" r="1.3" fill="#c8102e"/>
<circle cx="365.25" cy="323.5" r="1.3" fill="#c8102e"/>
<circle cx="365" cy="334.5" r="1.3" fill="#c8102e"/>
<circle cx="389" cy="316" r="1.3" fill="#c8102e"/>
<circle cx="389" cy="319.75" r="1.3" fill="#c8102e"/>
<circle cx="389" cy="321" r="1.3" fill="#c8102e"/>
<circle cx="389" cy="322.25" r="1.3" fill="#c8102e"/>
<circle cx="389" cy="323.5" r="1.3" fill="#c8102e"/>
<circle cx="412.5" cy="304.5" r="1.3" fill="#c8102e"/>
<circle cx="412.5" cy="305.5" r="1.3" fill="#c8102e"/>
<circle cx="412.5" cy="308.88" r="1.3" fill="#c8102e"/>
<circle cx="412.5" cy="313.25" r="1.3" fill="#c8102e"/>
<circle cx="412.5" cy="318.88" r="1.3" fill="#c8102e"/>
<circle cx="412.5" cy="319.75" r="1.3" fill="#c8102e"/>
<circle cx="412.5" cy="323.5" r="1.3" fill="#c8102e"/>
<circle cx="412.5" cy="324.75" r="1.3" fill="#c8102e"/>
<circle cx="412.5" cy="326" r="1.3" fill="#c8102e"/>
<circle cx="412.5" cy="327.25" r="1.3" fill="#c8102e"/>
<circle cx="412.5" cy="331" r="1.3" fill="#c8102e"/>
<circle cx="425.88" cy="310.12" r="1.3" fill="#c8102e"/>
<circle cx="425.88" cy="311" r="1.3" fill="#c8102e"/>
<circle cx="425.88" cy="315.12" r="1.3" fill="#c8102e"/>
<circle cx="435" cy="306" r="1.3" fill="#c8102e"/>
<circle cx="435" cy="311.38" r="1.3" fill="#c8102e"/>
<circle cx="435" cy="334.5" r="1.3" fill="#c8102e"/>
<circle cx="442.75" cy="312" r="1.3" fill="#c8102e"/>
<circle cx="442.75" cy="313" r="1.3" fill="#c8102e"/>
<circle cx="442.75" cy="318.88" r="1.3" fill="#c8102e"/>
<circle cx="455.75" cy="321.75" r="1.3" fill="#c8102e"/>
<circle cx="465.75" cy="313.25" r="1.3" fill="#c8102e"/>
<circle cx="484.12" cy="306.38" r="1.3" fill="#c8102e"/>
<circle cx="490.38" cy="304.75" r="1.3" fill="#c8102e"/>
<circle cx="493.5" cy="306" r="1.3" fill="#c8102e"/>
<circle cx="489.12" cy="308.88" r="1.3" fill="#c8102e"/>
<circle cx="491" cy="309.25" r="1.3" fill="#c8102e"/>
<circle cx="492.25" cy="310.75" r="1.3" fill="#c8102e"/>
<circle cx="487.25" cy="311.75" r="1.3" fill="#c8102e"/>
<circle cx="488.5" cy="312.62" r="1.3" fill="#c8102e"/>
<circle cx="494.12" cy="312" r="1.3" fill="#c8102e"/>
<circle cx="495.75" cy="314.75" r="1.3" fill="#c8102e"/>
<circle cx="491" cy="316.38" r="1.3" fill="#c8102e"/>
<circle cx="486.62" cy="314.5" r="1.3" fill="#c8102e"/>
<circle cx="481.62" cy="319.25" r="1.3" fill="#c8102e"/>
<circle cx="481.62" cy="320.12" r="1.3" fill="#c8102e"/>
<circle cx="486" cy="319.75" r="1.3" fill="#c8102e"/>
<circle cx="487.88" cy="321" r="1.3" fill="#c8102e"/>
<circle cx="477.88" cy="323.25" r="1.3" fill="#c8102e"/>
<circle cx="481.62" cy="323.88" r="1.3" fill="#c8102e"/>
<circle cx="477.5" cy="323.88" r="1.3" fill="#c8102e"/>
<circle cx="494.75" cy="319.25" r="1.3" fill="#c8102e"/>
<circle cx="501" cy="318.88" r="1.3" fill="#c8102e"/>
<circle cx="501.62" cy="322.62" r="1.3" fill="#c8102e"/>
<circle cx="509.12" cy="325.12" r="1.3" fill="#c8102e"/>
<circle cx="510.38" cy="325.75" r="1.3" fill="#c8102e"/>
<circle cx="495.38" cy="327.62" r="1.3" fill="#c8102e"/>
<circle cx="494.75" cy="331.38" r="1.3" fill="#c8102e"/>
<circle cx="494.5" cy="334.5" r="1.3" fill="#c8102e"/>
<line x1="320" y1="201.25" x2="376" y2="200.62" stroke="#2a64a0" stroke-width="1.1"/>
<line x1="389" y1="199.38" x2="443" y2="203.75" stroke="#2a64a0" stroke-width="1.1"/>
<line x1="455.75" y1="197.25" x2="510" y2="203.75" stroke="#2a64a0" stroke-width="1.1"/>
<line x1="320" y1="267" x2="376" y2="245.5" stroke="#2a64a0" stroke-width="1.1"/>
<line x1="389" y1="265.75" x2="443" y2="253" stroke="#2a64a0" stroke-width="1.1"/>
<line x1="455.75" y1="275.5" x2="510" y2="248.88" stroke="#2a64a0" stroke-width="1.1"/>
<line x1="320" y1="313" x2="376" y2="315.75" stroke="#2a64a0" stroke-width="1.1"/>
<line x1="389" y1="314.25" x2="442.75" y2="313.5" stroke="#2a64a0" stroke-width="1.1"/>
<line x1="455.75" y1="307.62" x2="510" y2="319.25" stroke="#2a64a0" stroke-width="1.1"/>
<path d="M317.5 161.4V217.5H378.7" stroke="#1a1a1a" stroke-width="1.15" fill="none"/>
<path d="M386.5 161.4V217.5H445.9" stroke="#1a1a1a" stroke-width="1.15" fill="none"/>
<path d="M453.2 161.4V217.5H512.9" stroke="#1a1a1a" stroke-width="1.15" fill="none"/>
<path d="M317.5 224.8V280.8H378.7" stroke="#1a1a1a" stroke-width="1.15" fill="none"/>
<path d="M386.5 224.8V280.8H445.9" stroke="#1a1a1a" stroke-width="1.15" fill="none"/>
<path d="M453.2 224.8V280.8H512.9" stroke="#1a1a1a" stroke-width="1.15" fill="none"/>
<path d="M317.5 289.6V345.7H378.7" stroke="#1a1a1a" stroke-width="1.15" fill="none"/>
<path d="M386.5 289.6V345.7H445.9" stroke="#1a1a1a" stroke-width="1.15" fill="none"/>
<path d="M453.2 289.6V345.7H512.9" stroke="#1a1a1a" stroke-width="1.15" fill="none"/>
<line x1="314.7" y1="166.2" x2="317.5" y2="166.2" stroke="#1a1a1a" stroke-width="0.9"/>
<text x="311.1" y="169" font-size="7.7" fill="#222" text-anchor="end">70</text>
<line x1="314.7" y1="186.2" x2="317.5" y2="186.2" stroke="#1a1a1a" stroke-width="0.9"/>
<text x="311.1" y="189" font-size="7.7" fill="#222" text-anchor="end">50</text>
<line x1="314.7" y1="206.2" x2="317.5" y2="206.2" stroke="#1a1a1a" stroke-width="0.9"/>
<text x="311.1" y="209" font-size="7.7" fill="#222" text-anchor="end">30</text>
<line x1="314.7" y1="231.3" x2="317.5" y2="231.3" stroke="#1a1a1a" stroke-width="0.9"/>
<text x="311.1" y="234.1" font-size="7.7" fill="#222" text-anchor="end">0.6</text>
<line x1="314.7" y1="247.5" x2="317.5" y2="247.5" stroke="#1a1a1a" stroke-width="0.9"/>
<text x="311.1" y="250.3" font-size="7.7" fill="#222" text-anchor="end">0.4</text>
<line x1="314.7" y1="263.8" x2="317.5" y2="263.8" stroke="#1a1a1a" stroke-width="0.9"/>
<text x="311.1" y="266.6" font-size="7.7" fill="#222" text-anchor="end">0.2</text>
<line x1="314.7" y1="280" x2="317.5" y2="280" stroke="#1a1a1a" stroke-width="0.9"/>
<text x="311.1" y="282.8" font-size="7.7" fill="#222" text-anchor="end">0.0</text>
<line x1="314.7" y1="295" x2="317.5" y2="295" stroke="#1a1a1a" stroke-width="0.9"/>
<text x="311.1" y="297.8" font-size="7.7" fill="#222" text-anchor="end">50</text>
<line x1="314.7" y1="307.8" x2="317.5" y2="307.8" stroke="#1a1a1a" stroke-width="0.9"/>
<text x="311.1" y="310.6" font-size="7.7" fill="#222" text-anchor="end">40</text>
<line x1="314.7" y1="320.5" x2="317.5" y2="320.5" stroke="#1a1a1a" stroke-width="0.9"/>
<text x="311.1" y="323.3" font-size="7.7" fill="#222" text-anchor="end">30</text>
<line x1="314.7" y1="333.1" x2="317.5" y2="333.1" stroke="#1a1a1a" stroke-width="0.9"/>
<text x="311.1" y="335.9" font-size="7.7" fill="#222" text-anchor="end">20</text>
<line x1="314.7" y1="345.7" x2="317.5" y2="345.7" stroke="#1a1a1a" stroke-width="0.9"/>
<text x="311.1" y="348.5" font-size="7.7" fill="#222" text-anchor="end">10</text>
<line x1="331.2" y1="345.7" x2="331.2" y2="348.1" stroke="#1a1a1a" stroke-width="0.9"/>
<text x="331.2" y="357.8" font-size="7.4" fill="#222" text-anchor="middle">0.21</text>
<line x1="360.5" y1="345.7" x2="360.5" y2="348.1" stroke="#1a1a1a" stroke-width="0.9"/>
<text x="360.5" y="357.8" font-size="7.4" fill="#222" text-anchor="middle">0.27</text>
<line x1="389" y1="345.7" x2="389" y2="348.1" stroke="#1a1a1a" stroke-width="0.9"/>
<text x="389" y="357.8" font-size="7.4" fill="#222" text-anchor="middle">0</text>
<line x1="412.5" y1="345.7" x2="412.5" y2="348.1" stroke="#1a1a1a" stroke-width="0.9"/>
<text x="412.5" y="357.8" font-size="7.4" fill="#222" text-anchor="middle">1</text>
<line x1="436" y1="345.7" x2="436" y2="348.1" stroke="#1a1a1a" stroke-width="0.9"/>
<text x="436" y="357.8" font-size="7.4" fill="#222" text-anchor="middle">2</text>
<line x1="459.5" y1="345.7" x2="459.5" y2="348.1" stroke="#1a1a1a" stroke-width="0.9"/>
<text x="459.5" y="357.8" font-size="7.4" fill="#222" text-anchor="middle">−1</text>
<line x1="482.9" y1="345.7" x2="482.9" y2="348.1" stroke="#1a1a1a" stroke-width="0.9"/>
<text x="482.9" y="357.8" font-size="7.4" fill="#222" text-anchor="middle">0</text>
<line x1="506.6" y1="345.7" x2="506.6" y2="348.1" stroke="#1a1a1a" stroke-width="0.9"/>
<text x="506.6" y="357.8" font-size="7.4" fill="#222" text-anchor="middle">1</text>
<text x="348.3" y="371.4" font-size="9" fill="#222" text-anchor="middle" textLength="48.5" lengthAdjust="spacingAndGlyphs">1/(OSC period)</text>
<text x="348.3" y="381.6" font-size="9" fill="#222" text-anchor="middle" textLength="18.5" lengthAdjust="spacingAndGlyphs">[a.u.]</text>
<text x="416" y="371.4" font-size="9" fill="#222" text-anchor="middle" textLength="47.5" lengthAdjust="spacingAndGlyphs">(Peaks of ACF)</text>
<text x="416" y="381.6" font-size="9" fill="#222" text-anchor="middle" textLength="18.5" lengthAdjust="spacingAndGlyphs">[a.u.]</text>
<text x="483.4" y="371.4" font-size="9" fill="#222" text-anchor="middle" textLength="53.5" lengthAdjust="spacingAndGlyphs">(SUS-TRA score)</text>
<text x="483.4" y="381.6" font-size="9" fill="#222" text-anchor="middle" textLength="18.5" lengthAdjust="spacingAndGlyphs">[a.u.]</text>
<text x="378.1" y="168.6" font-size="7" fill="#333" text-anchor="end" textLength="20" lengthAdjust="spacingAndGlyphs">R=0.01</text>
<text x="445.3" y="168.6" font-size="7" fill="#333" text-anchor="end" textLength="23.2" lengthAdjust="spacingAndGlyphs">R=−0.22</text>
<text x="512.9" y="168.6" font-size="7" fill="#333" text-anchor="end" textLength="20" lengthAdjust="spacingAndGlyphs">R=0.08</text>
<text x="319.4" y="231.4" font-size="7" fill="#333" textLength="19.6" lengthAdjust="spacingAndGlyphs">R=0.31</text>
<text x="388" y="231.4" font-size="7" fill="#333" textLength="19.5" lengthAdjust="spacingAndGlyphs">R=0.21</text>
<text x="455.4" y="231.4" font-size="7" fill="#333" textLength="20.3" lengthAdjust="spacingAndGlyphs">R=0.23</text>
<text x="378.1" y="295.8" font-size="7" fill="#333" text-anchor="end" textLength="23.1" lengthAdjust="spacingAndGlyphs">R=−0.06</text>
<text x="445.3" y="295.8" font-size="7" fill="#333" text-anchor="end" textLength="23.2" lengthAdjust="spacingAndGlyphs">R=−0.02</text>
<text x="512.9" y="295.8" font-size="7" fill="#333" text-anchor="end" textLength="23.2" lengthAdjust="spacingAndGlyphs">R=−0.18</text>
<rect x="317.1" y="150.1" width="27.9" height="11.5" fill="#c8102e"/>
<text x="331.1" y="159.4" font-size="8" fill="#fff" text-anchor="middle">GMP<tspan font-size="5.6" dy="-3">M</tspan></text>
<rect x="345.8" y="150.1" width="32.9" height="11.5" fill="#9c9c9c"/>
<text x="362.2" y="159.4" font-size="8" fill="#222" text-anchor="middle">GMP<tspan font-size="5.6" dy="-3">GM</tspan></text>
<text x="285" y="187" font-size="9.2" fill="#222" text-anchor="middle" textLength="32.4" lengthAdjust="spacingAndGlyphs" transform="rotate(-90 285 187)">Mean div.</text>
<text x="294.6" y="186.8" font-size="9.2" fill="#222" text-anchor="middle" textLength="33.6" lengthAdjust="spacingAndGlyphs" transform="rotate(-90 294.6 186.8)">time [a.u.]</text>
<text x="283.4" y="256.1" font-size="10.2" fill="#222" text-anchor="middle" textLength="22.2" lengthAdjust="spacingAndGlyphs" transform="rotate(-90 283.4 256.1)">CD115</text>
<text x="292.2" y="255.4" font-size="8.8" fill="#222" text-anchor="middle" textLength="54.5" lengthAdjust="spacingAndGlyphs" transform="rotate(-90 292.2 255.4)">expression [a.u.]</text>
<text x="284.7" y="320.2" font-size="9" fill="#222" text-anchor="middle" textLength="45.5" lengthAdjust="spacingAndGlyphs" transform="rotate(-90 284.7 320.2)">Mean nuclear</text>
<text x="295.2" y="320.3" font-size="9" fill="#222" text-anchor="middle" textLength="33.6" lengthAdjust="spacingAndGlyphs" transform="rotate(-90 295.2 320.3)">area [a.u.]</text>
<line x1="317.5" y1="388.6" x2="375.7" y2="388.6" stroke="#111" stroke-width="1"/>
<path d="M374.7 386.3L379.2 388.6L374.7 390.9Z" fill="#111"/>
<line x1="382.5" y1="388.6" x2="444.3" y2="388.6" stroke="#111" stroke-width="1"/>
<path d="M443.3 386.3L447.8 388.6L443.3 390.9Z" fill="#111"/>
<line x1="452.5" y1="388.6" x2="509.3" y2="388.6" stroke="#111" stroke-width="1"/>
<path d="M508.3 386.3L512.8 388.6L508.3 390.9Z" fill="#111"/>
<rect x="414.6" y="396.3" width="36" height="9.3" fill="#f7931e"/>
<text x="380.7" y="403.9" font-size="9" fill="#222" textLength="32.6" lengthAdjust="spacingAndGlyphs">Increasing</text>
<text x="415.4" y="403.9" font-size="9" fill="#222" textLength="34.6" lengthAdjust="spacingAndGlyphs">oscillation</text>
<rect x="48.4" y="454.3" width="13" height="14.7" fill="#cacaca" stroke="#b8b8b8" stroke-width="0.6" fill-opacity="0.85"/>
<line x1="48" y1="460.7" x2="61.8" y2="460.7" stroke="#1a1a1a" stroke-width="1.1"/>
<line x1="54.9" y1="437.9" x2="54.9" y2="454.3" stroke="#333" stroke-width="0.7"/>
<line x1="54.9" y1="469" x2="54.9" y2="488.9" stroke="#333" stroke-width="0.7"/>
<circle cx="54.67" cy="451.28" r="0.95" fill="#a0a0a0"/>
<circle cx="55.01" cy="454.54" r="0.95" fill="#a0a0a0"/>
<circle cx="57.64" cy="456.93" r="0.95" fill="#a0a0a0"/>
<circle cx="56.99" cy="439.39" r="0.95" fill="#a0a0a0"/>
<circle cx="58.04" cy="469.05" r="0.95" fill="#a0a0a0"/>
<circle cx="50.36" cy="455.75" r="0.95" fill="#a0a0a0"/>
<circle cx="50.78" cy="456.3" r="0.95" fill="#a0a0a0"/>
<circle cx="54.56" cy="460.84" r="0.95" fill="#a0a0a0"/>
<circle cx="58.11" cy="463.49" r="0.95" fill="#a0a0a0"/>
<circle cx="56" cy="452.24" r="0.95" fill="#a0a0a0"/>
<circle cx="53.4" cy="450.43" r="0.95" fill="#a0a0a0"/>
<circle cx="56.3" cy="482.35" r="0.95" fill="#a0a0a0"/>
<circle cx="52.37" cy="460.11" r="0.95" fill="#a0a0a0"/>
<circle cx="54.23" cy="478.13" r="0.95" fill="#a0a0a0"/>
<circle cx="53.84" cy="468.93" r="0.95" fill="#a0a0a0"/>
<circle cx="52.18" cy="460.91" r="0.95" fill="#a0a0a0"/>
<circle cx="54.62" cy="460.39" r="0.95" fill="#a0a0a0"/>
<circle cx="56.11" cy="457.18" r="0.95" fill="#a0a0a0"/>
<circle cx="52.75" cy="463.35" r="0.95" fill="#a0a0a0"/>
<circle cx="56.64" cy="453.71" r="0.95" fill="#a0a0a0"/>
<circle cx="51.92" cy="439.56" r="0.95" fill="#a0a0a0"/>
<circle cx="54.41" cy="467.05" r="0.95" fill="#a0a0a0"/>
<circle cx="56.47" cy="473.71" r="0.95" fill="#a0a0a0"/>
<circle cx="54.36" cy="471.32" r="0.95" fill="#a0a0a0"/>
<circle cx="57.74" cy="456.97" r="0.95" fill="#a0a0a0"/>
<circle cx="53.91" cy="466.53" r="0.95" fill="#a0a0a0"/>
<circle cx="56.23" cy="455.55" r="0.95" fill="#a0a0a0"/>
<circle cx="53.27" cy="473.24" r="0.95" fill="#a0a0a0"/>
<circle cx="50.91" cy="456.19" r="0.95" fill="#a0a0a0"/>
<circle cx="55.58" cy="473.84" r="0.95" fill="#a0a0a0"/>
<circle cx="54.58" cy="469.04" r="0.95" fill="#a0a0a0"/>
<circle cx="57.38" cy="445.99" r="0.95" fill="#a0a0a0"/>
<circle cx="51.66" cy="462.21" r="0.95" fill="#a0a0a0"/>
<circle cx="52" cy="464.24" r="0.95" fill="#a0a0a0"/>
<circle cx="57.88" cy="452.9" r="0.95" fill="#a0a0a0"/>
<circle cx="55.6" cy="482.95" r="0.95" fill="#a0a0a0"/>
<circle cx="52.22" cy="453.49" r="0.95" fill="#a0a0a0"/>
<circle cx="56.28" cy="473.74" r="0.95" fill="#a0a0a0"/>
<circle cx="52.97" cy="467.51" r="0.95" fill="#a0a0a0"/>
<circle cx="53.06" cy="470.37" r="0.95" fill="#a0a0a0"/>
<circle cx="57.28" cy="447.07" r="0.95" fill="#a0a0a0"/>
<circle cx="52.13" cy="455.93" r="0.95" fill="#a0a0a0"/>
<circle cx="51.93" cy="445.21" r="0.95" fill="#a0a0a0"/>
<circle cx="52.41" cy="447.28" r="0.95" fill="#a0a0a0"/>
<circle cx="57.54" cy="485.5" r="0.95" fill="#a0a0a0"/>
<circle cx="55.47" cy="451.13" r="0.95" fill="#a0a0a0"/>
<circle cx="57.67" cy="438.19" r="0.95" fill="#a0a0a0"/>
<circle cx="58.03" cy="446.25" r="0.95" fill="#a0a0a0"/>
<circle cx="56.46" cy="478.6" r="0.95" fill="#a0a0a0"/>
<circle cx="55.33" cy="465.17" r="0.95" fill="#a0a0a0"/>
<circle cx="58.65" cy="460.68" r="0.95" fill="#a0a0a0"/>
<circle cx="58.78" cy="454.94" r="0.95" fill="#a0a0a0"/>
<circle cx="56.15" cy="441.47" r="0.95" fill="#a0a0a0"/>
<circle cx="57.62" cy="468.8" r="0.95" fill="#a0a0a0"/>
<circle cx="55.39" cy="452.19" r="0.95" fill="#a0a0a0"/>
<circle cx="55.64" cy="449.65" r="0.95" fill="#a0a0a0"/>
<circle cx="57.47" cy="488.77" r="0.95" fill="#a0a0a0"/>
<circle cx="54.15" cy="470.77" r="0.95" fill="#a0a0a0"/>
<circle cx="57.19" cy="450.06" r="0.95" fill="#a0a0a0"/>
<circle cx="55.58" cy="469.59" r="0.95" fill="#a0a0a0"/>
<circle cx="52.37" cy="454.77" r="0.95" fill="#a0a0a0"/>
<circle cx="57.74" cy="445.09" r="0.95" fill="#a0a0a0"/>
<circle cx="50.33" cy="460.97" r="0.95" fill="#a0a0a0"/>
<circle cx="51.81" cy="457.38" r="0.95" fill="#a0a0a0"/>
<circle cx="55.98" cy="453.85" r="0.95" fill="#a0a0a0"/>
<circle cx="56.45" cy="468.52" r="0.95" fill="#a0a0a0"/>
<circle cx="54.25" cy="454.37" r="0.95" fill="#a0a0a0"/>
<circle cx="54.12" cy="480.7" r="0.95" fill="#a0a0a0"/>
<circle cx="53.66" cy="448.74" r="0.95" fill="#a0a0a0"/>
<circle cx="57.26" cy="451.63" r="0.95" fill="#a0a0a0"/>
<circle cx="52.66" cy="469.36" r="0.95" fill="#a0a0a0"/>
<circle cx="52.8" cy="457.89" r="0.95" fill="#a0a0a0"/>
<circle cx="54.86" cy="447.11" r="0.95" fill="#a0a0a0"/>
<circle cx="58.07" cy="468.86" r="0.95" fill="#a0a0a0"/>
<circle cx="50.51" cy="456.44" r="0.95" fill="#a0a0a0"/>
<circle cx="50.61" cy="462.01" r="0.95" fill="#a0a0a0"/>
<circle cx="56.87" cy="451.92" r="0.95" fill="#a0a0a0"/>
<circle cx="51.69" cy="445.36" r="0.95" fill="#a0a0a0"/>
<circle cx="52.44" cy="456.53" r="0.95" fill="#a0a0a0"/>
<circle cx="54.54" cy="448.22" r="0.95" fill="#a0a0a0"/>
<circle cx="58" cy="449.17" r="0.95" fill="#a0a0a0"/>
<circle cx="52.87" cy="443.72" r="0.95" fill="#a0a0a0"/>
<circle cx="54.64" cy="461.42" r="0.95" fill="#a0a0a0"/>
<circle cx="51.9" cy="462.2" r="0.95" fill="#a0a0a0"/>
<circle cx="55.04" cy="450.81" r="0.95" fill="#a0a0a0"/>
<circle cx="56.63" cy="475.11" r="0.95" fill="#a0a0a0"/>
<circle cx="51.04" cy="467.11" r="0.95" fill="#a0a0a0"/>
<circle cx="54.47" cy="459.67" r="0.95" fill="#a0a0a0"/>
<circle cx="58.74" cy="454.82" r="0.95" fill="#a0a0a0"/>
<circle cx="56.91" cy="439.59" r="0.95" fill="#a0a0a0"/>
<circle cx="54.65" cy="450.96" r="0.95" fill="#a0a0a0"/>
<circle cx="57.88" cy="465.76" r="0.95" fill="#a0a0a0"/>
<circle cx="56.37" cy="478.07" r="0.95" fill="#a0a0a0"/>
<circle cx="58.13" cy="486.37" r="0.95" fill="#a0a0a0"/>
<circle cx="56.87" cy="442.05" r="0.95" fill="#a0a0a0"/>
<circle cx="53.88" cy="479.49" r="0.95" fill="#a0a0a0"/>
<circle cx="56.71" cy="446.92" r="0.95" fill="#a0a0a0"/>
<circle cx="51.71" cy="448.77" r="0.95" fill="#a0a0a0"/>
<circle cx="52.69" cy="479.36" r="0.95" fill="#a0a0a0"/>
<circle cx="57.59" cy="468.64" r="0.95" fill="#a0a0a0"/>
<circle cx="56.41" cy="446.37" r="0.95" fill="#a0a0a0"/>
<circle cx="54.85" cy="450.55" r="0.95" fill="#a0a0a0"/>
<circle cx="55.15" cy="467.56" r="0.95" fill="#a0a0a0"/>
<circle cx="57.04" cy="464.82" r="0.95" fill="#a0a0a0"/>
<circle cx="55.31" cy="439.14" r="0.95" fill="#a0a0a0"/>
<circle cx="53.79" cy="457.59" r="0.95" fill="#a0a0a0"/>
<circle cx="58.18" cy="466.97" r="0.95" fill="#a0a0a0"/>
<circle cx="55.13" cy="456.18" r="0.95" fill="#a0a0a0"/>
<circle cx="54.93" cy="464.95" r="0.95" fill="#a0a0a0"/>
<circle cx="51.71" cy="474.05" r="0.95" fill="#a0a0a0"/>
<circle cx="56.31" cy="437.9" r="0.95" fill="#a0a0a0"/>
<circle cx="54.95" cy="488.9" r="0.95" fill="#a0a0a0"/>
<rect x="65.4" y="463.8" width="12.5" height="12.5" fill="#ee9aaa" stroke="#e888a0" stroke-width="0.6" fill-opacity="0.85"/>
<line x1="65" y1="469.4" x2="78.3" y2="469.4" stroke="#1a1a1a" stroke-width="1.1"/>
<line x1="71.65" y1="449.6" x2="71.65" y2="463.8" stroke="#333" stroke-width="0.7"/>
<line x1="71.65" y1="476.3" x2="71.65" y2="490.6" stroke="#333" stroke-width="0.7"/>
<circle cx="71.57" cy="473.3" r="0.95" fill="#c8102e"/>
<circle cx="68.83" cy="457.66" r="0.95" fill="#c8102e"/>
<circle cx="74.4" cy="481.83" r="0.95" fill="#c8102e"/>
<circle cx="71.05" cy="464.46" r="0.95" fill="#c8102e"/>
<circle cx="75.25" cy="470.24" r="0.95" fill="#c8102e"/>
<circle cx="72.71" cy="466.83" r="0.95" fill="#c8102e"/>
<circle cx="68.32" cy="475.12" r="0.95" fill="#c8102e"/>
<circle cx="69.2" cy="475.65" r="0.95" fill="#c8102e"/>
<circle cx="70.05" cy="470.3" r="0.95" fill="#c8102e"/>
<circle cx="73.73" cy="466.1" r="0.95" fill="#c8102e"/>
<circle cx="69.69" cy="479.88" r="0.95" fill="#c8102e"/>
<circle cx="71.08" cy="466.31" r="0.95" fill="#c8102e"/>
<circle cx="69.44" cy="459.3" r="0.95" fill="#c8102e"/>
<circle cx="72.83" cy="475.51" r="0.95" fill="#c8102e"/>
<circle cx="72.38" cy="450.95" r="0.95" fill="#c8102e"/>
<circle cx="69.24" cy="465.93" r="0.95" fill="#c8102e"/>
<circle cx="70.45" cy="477.1" r="0.95" fill="#c8102e"/>
<circle cx="74.4" cy="450.13" r="0.95" fill="#c8102e"/>
<circle cx="69.27" cy="489.5" r="0.95" fill="#c8102e"/>
<circle cx="73.69" cy="469.19" r="0.95" fill="#c8102e"/>
<circle cx="71.14" cy="484.29" r="0.95" fill="#c8102e"/>
<circle cx="69.22" cy="479.8" r="0.95" fill="#c8102e"/>
<circle cx="68.96" cy="468.68" r="0.95" fill="#c8102e"/>
<circle cx="75.35" cy="467.73" r="0.95" fill="#c8102e"/>
<circle cx="73.33" cy="477.94" r="0.95" fill="#c8102e"/>
<circle cx="72.86" cy="476.97" r="0.95" fill="#c8102e"/>
<circle cx="67.49" cy="473.52" r="0.95" fill="#c8102e"/>
<circle cx="71.78" cy="471.35" r="0.95" fill="#c8102e"/>
<circle cx="68.99" cy="473.12" r="0.95" fill="#c8102e"/>
<circle cx="76.06" cy="474.29" r="0.95" fill="#c8102e"/>
<circle cx="75.71" cy="472.24" r="0.95" fill="#c8102e"/>
<circle cx="74.03" cy="471.34" r="0.95" fill="#c8102e"/>
<circle cx="71.2" cy="458.08" r="0.95" fill="#c8102e"/>
<circle cx="67.27" cy="471.79" r="0.95" fill="#c8102e"/>
<circle cx="71.24" cy="472.79" r="0.95" fill="#c8102e"/>
<circle cx="70.8" cy="464.35" r="0.95" fill="#c8102e"/>
<circle cx="67.29" cy="475.26" r="0.95" fill="#c8102e"/>
<circle cx="73.61" cy="479.32" r="0.95" fill="#c8102e"/>
<circle cx="71.03" cy="478.08" r="0.95" fill="#c8102e"/>
<circle cx="71.68" cy="459" r="0.95" fill="#c8102e"/>
<circle cx="75.35" cy="471.91" r="0.95" fill="#c8102e"/>
<circle cx="73.46" cy="462.4" r="0.95" fill="#c8102e"/>
<circle cx="74.12" cy="452.41" r="0.95" fill="#c8102e"/>
<circle cx="73.39" cy="480.84" r="0.95" fill="#c8102e"/>
<circle cx="68.86" cy="456.62" r="0.95" fill="#c8102e"/>
<circle cx="71.45" cy="478" r="0.95" fill="#c8102e"/>
<circle cx="72.46" cy="458.67" r="0.95" fill="#c8102e"/>
<circle cx="70.6" cy="482.79" r="0.95" fill="#c8102e"/>
<circle cx="72.28" cy="464.55" r="0.95" fill="#c8102e"/>
<circle cx="73.35" cy="460.04" r="0.95" fill="#c8102e"/>
<circle cx="68.55" cy="457.75" r="0.95" fill="#c8102e"/>
<circle cx="70.76" cy="468.88" r="0.95" fill="#c8102e"/>
<circle cx="69.04" cy="454.93" r="0.95" fill="#c8102e"/>
<circle cx="74.29" cy="462.01" r="0.95" fill="#c8102e"/>
<circle cx="72.26" cy="468.17" r="0.95" fill="#c8102e"/>
<circle cx="68.9" cy="458.07" r="0.95" fill="#c8102e"/>
<circle cx="73.34" cy="456.05" r="0.95" fill="#c8102e"/>
<circle cx="71.47" cy="478.59" r="0.95" fill="#c8102e"/>
<circle cx="68.78" cy="458.28" r="0.95" fill="#c8102e"/>
<circle cx="72.29" cy="459.07" r="0.95" fill="#c8102e"/>
<circle cx="69.72" cy="475.02" r="0.95" fill="#c8102e"/>
<circle cx="73.06" cy="462.11" r="0.95" fill="#c8102e"/>
<circle cx="67.28" cy="466.48" r="0.95" fill="#c8102e"/>
<circle cx="73.94" cy="474.81" r="0.95" fill="#c8102e"/>
<circle cx="75.23" cy="470.89" r="0.95" fill="#c8102e"/>
<circle cx="74.54" cy="478.33" r="0.95" fill="#c8102e"/>
<circle cx="71.5" cy="482.44" r="0.95" fill="#c8102e"/>
<circle cx="75.59" cy="469.86" r="0.95" fill="#c8102e"/>
<circle cx="71.44" cy="481.1" r="0.95" fill="#c8102e"/>
<circle cx="68.19" cy="474.72" r="0.95" fill="#c8102e"/>
<circle cx="71.36" cy="457.45" r="0.95" fill="#c8102e"/>
<circle cx="69.21" cy="480.56" r="0.95" fill="#c8102e"/>
<circle cx="73.16" cy="473.19" r="0.95" fill="#c8102e"/>
<circle cx="70.93" cy="468.43" r="0.95" fill="#c8102e"/>
<circle cx="71.85" cy="482.07" r="0.95" fill="#c8102e"/>
<circle cx="69.95" cy="484.37" r="0.95" fill="#c8102e"/>
<circle cx="72.46" cy="487.52" r="0.95" fill="#c8102e"/>
<circle cx="69.59" cy="464.81" r="0.95" fill="#c8102e"/>
<circle cx="72.52" cy="457.59" r="0.95" fill="#c8102e"/>
<circle cx="68.86" cy="464.3" r="0.95" fill="#c8102e"/>
<circle cx="75.06" cy="466.68" r="0.95" fill="#c8102e"/>
<circle cx="71.16" cy="453.45" r="0.95" fill="#c8102e"/>
<circle cx="68.87" cy="479.01" r="0.95" fill="#c8102e"/>
<circle cx="72.5" cy="484.17" r="0.95" fill="#c8102e"/>
<circle cx="71.51" cy="476.61" r="0.95" fill="#c8102e"/>
<circle cx="73.85" cy="460.58" r="0.95" fill="#c8102e"/>
<circle cx="72.45" cy="461.09" r="0.95" fill="#c8102e"/>
<circle cx="69.79" cy="482.62" r="0.95" fill="#c8102e"/>
<circle cx="70.47" cy="468.51" r="0.95" fill="#c8102e"/>
<circle cx="74.83" cy="486.9" r="0.95" fill="#c8102e"/>
<circle cx="74.39" cy="454.22" r="0.95" fill="#c8102e"/>
<circle cx="70.47" cy="464.61" r="0.95" fill="#c8102e"/>
<circle cx="68.94" cy="477.42" r="0.95" fill="#c8102e"/>
<circle cx="70.34" cy="454.84" r="0.95" fill="#c8102e"/>
<circle cx="67.83" cy="470.79" r="0.95" fill="#c8102e"/>
<circle cx="69.88" cy="467.32" r="0.95" fill="#c8102e"/>
<circle cx="73.4" cy="466.02" r="0.95" fill="#c8102e"/>
<circle cx="73.68" cy="475.04" r="0.95" fill="#c8102e"/>
<circle cx="69.16" cy="476.48" r="0.95" fill="#c8102e"/>
<circle cx="74.51" cy="449.87" r="0.95" fill="#c8102e"/>
<circle cx="71.25" cy="460.32" r="0.95" fill="#c8102e"/>
<circle cx="70.75" cy="466.56" r="0.95" fill="#c8102e"/>
<circle cx="74.22" cy="477.31" r="0.95" fill="#c8102e"/>
<circle cx="70.76" cy="463.48" r="0.95" fill="#c8102e"/>
<circle cx="70.92" cy="476.41" r="0.95" fill="#c8102e"/>
<circle cx="70.73" cy="449.6" r="0.95" fill="#c8102e"/>
<circle cx="71.84" cy="490.6" r="0.95" fill="#c8102e"/>
<rect x="85.7" y="458.8" width="10" height="14.5" fill="#ffffff" stroke="#5a5a5a" stroke-width="0.6" fill-opacity="0.85"/>
<line x1="85.3" y1="466.5" x2="96.1" y2="466.5" stroke="#1a1a1a" stroke-width="1.1"/>
<line x1="90.7" y1="436.7" x2="90.7" y2="458.8" stroke="#333" stroke-width="0.7"/>
<line x1="90.7" y1="473.3" x2="90.7" y2="490.6" stroke="#333" stroke-width="0.7"/>
<circle cx="91.03" cy="445.96" r="0.95" fill="#c4c4c4"/>
<circle cx="89.56" cy="488.54" r="0.95" fill="#c4c4c4"/>
<circle cx="91.05" cy="482.71" r="0.95" fill="#c4c4c4"/>
<circle cx="91.79" cy="461.15" r="0.95" fill="#c4c4c4"/>
<circle cx="92.2" cy="479.41" r="0.95" fill="#c4c4c4"/>
<circle cx="92.78" cy="452.99" r="0.95" fill="#c4c4c4"/>
<circle cx="91.98" cy="475.79" r="0.95" fill="#c4c4c4"/>
<circle cx="88.87" cy="472" r="0.95" fill="#c4c4c4"/>
<circle cx="92.61" cy="467.8" r="0.95" fill="#c4c4c4"/>
<circle cx="89.86" cy="453.02" r="0.95" fill="#c4c4c4"/>
<circle cx="90.97" cy="460.4" r="0.95" fill="#c4c4c4"/>
<circle cx="91.78" cy="455" r="0.95" fill="#c4c4c4"/>
<circle cx="91.57" cy="448.84" r="0.95" fill="#c4c4c4"/>
<circle cx="92.29" cy="477.61" r="0.95" fill="#c4c4c4"/>
<circle cx="91.43" cy="487.97" r="0.95" fill="#c4c4c4"/>
<circle cx="91.79" cy="448.43" r="0.95" fill="#c4c4c4"/>
<circle cx="88.86" cy="456.23" r="0.95" fill="#c4c4c4"/>
<circle cx="94.24" cy="472.01" r="0.95" fill="#c4c4c4"/>
<circle cx="90.16" cy="470.23" r="0.95" fill="#c4c4c4"/>
<circle cx="94.08" cy="473.05" r="0.95" fill="#c4c4c4"/>
<circle cx="91.47" cy="439.24" r="0.95" fill="#c4c4c4"/>
<circle cx="90.4" cy="468.22" r="0.95" fill="#c4c4c4"/>
<circle cx="93.65" cy="470.12" r="0.95" fill="#c4c4c4"/>
<circle cx="89.23" cy="440.78" r="0.95" fill="#c4c4c4"/>
<circle cx="88.71" cy="463.44" r="0.95" fill="#c4c4c4"/>
<circle cx="89.56" cy="451.82" r="0.95" fill="#c4c4c4"/>
<circle cx="90.95" cy="478.69" r="0.95" fill="#c4c4c4"/>
<circle cx="92.71" cy="457.91" r="0.95" fill="#c4c4c4"/>
<circle cx="89.56" cy="467.61" r="0.95" fill="#c4c4c4"/>
<circle cx="89.25" cy="478.84" r="0.95" fill="#c4c4c4"/>
<circle cx="90.1" cy="487.16" r="0.95" fill="#c4c4c4"/>
<circle cx="90.81" cy="463.08" r="0.95" fill="#c4c4c4"/>
<circle cx="89.34" cy="482.8" r="0.95" fill="#c4c4c4"/>
<circle cx="92.24" cy="444.91" r="0.95" fill="#c4c4c4"/>
<circle cx="91.46" cy="465.5" r="0.95" fill="#c4c4c4"/>
<circle cx="89.45" cy="443.81" r="0.95" fill="#c4c4c4"/>
<circle cx="93.26" cy="450.7" r="0.95" fill="#c4c4c4"/>
<circle cx="90.95" cy="464.89" r="0.95" fill="#c4c4c4"/>
<circle cx="92.37" cy="473.32" r="0.95" fill="#c4c4c4"/>
<circle cx="89.04" cy="468.52" r="0.95" fill="#c4c4c4"/>
<circle cx="87.8" cy="462.34" r="0.95" fill="#c4c4c4"/>
<circle cx="91.15" cy="439.21" r="0.95" fill="#c4c4c4"/>
<circle cx="89.29" cy="471.94" r="0.95" fill="#c4c4c4"/>
<circle cx="88.57" cy="444.94" r="0.95" fill="#c4c4c4"/>
<circle cx="89.18" cy="478.89" r="0.95" fill="#c4c4c4"/>
<circle cx="90.83" cy="436.7" r="0.95" fill="#c4c4c4"/>
<circle cx="90.78" cy="490.6" r="0.95" fill="#c4c4c4"/>
<rect x="99.2" y="456" width="9.6" height="11.5" fill="#f4a6d0" stroke="#f08cc4" stroke-width="0.6" fill-opacity="0.85"/>
<line x1="98.8" y1="462.3" x2="109.2" y2="462.3" stroke="#1a1a1a" stroke-width="1.1"/>
<line x1="104" y1="446" x2="104" y2="456" stroke="#333" stroke-width="0.7"/>
<line x1="104" y1="467.5" x2="104" y2="480" stroke="#333" stroke-width="0.7"/>
<circle cx="103.06" cy="471.39" r="0.95" fill="#e6007e"/>
<circle cx="105.07" cy="450.67" r="0.95" fill="#e6007e"/>
<circle cx="103.27" cy="460.69" r="0.95" fill="#e6007e"/>
<circle cx="107.23" cy="458.44" r="0.95" fill="#e6007e"/>
<circle cx="103.15" cy="461.51" r="0.95" fill="#e6007e"/>
<circle cx="102.19" cy="461.15" r="0.95" fill="#e6007e"/>
<circle cx="107.4" cy="461.06" r="0.95" fill="#e6007e"/>
<circle cx="101.97" cy="462.63" r="0.95" fill="#e6007e"/>
<circle cx="104.27" cy="460.14" r="0.95" fill="#e6007e"/>
<circle cx="103.19" cy="470.62" r="0.95" fill="#e6007e"/>
<circle cx="101.93" cy="458.9" r="0.95" fill="#e6007e"/>
<circle cx="102.82" cy="456.4" r="0.95" fill="#e6007e"/>
<circle cx="103.16" cy="449.2" r="0.95" fill="#e6007e"/>
<circle cx="101.18" cy="456.84" r="0.95" fill="#e6007e"/>
<circle cx="105.04" cy="452.78" r="0.95" fill="#e6007e"/>
<circle cx="104.46" cy="454.37" r="0.95" fill="#e6007e"/>
<circle cx="102.12" cy="447.57" r="0.95" fill="#e6007e"/>
<circle cx="103.64" cy="471.08" r="0.95" fill="#e6007e"/>
<circle cx="105.6" cy="453.22" r="0.95" fill="#e6007e"/>
<circle cx="103.16" cy="450.24" r="0.95" fill="#e6007e"/>
<circle cx="105" cy="471.21" r="0.95" fill="#e6007e"/>
<circle cx="106" cy="463.17" r="0.95" fill="#e6007e"/>
<circle cx="102.83" cy="460.97" r="0.95" fill="#e6007e"/>
<circle cx="105.04" cy="461.22" r="0.95" fill="#e6007e"/>
<circle cx="105.44" cy="451.09" r="0.95" fill="#e6007e"/>
<circle cx="105.84" cy="458.33" r="0.95" fill="#e6007e"/>
<circle cx="104.33" cy="458.95" r="0.95" fill="#e6007e"/>
<circle cx="105.48" cy="457.41" r="0.95" fill="#e6007e"/>
<circle cx="104.11" cy="462.29" r="0.95" fill="#e6007e"/>
<circle cx="107.08" cy="465.3" r="0.95" fill="#e6007e"/>
<circle cx="101.91" cy="457.26" r="0.95" fill="#e6007e"/>
<circle cx="104.98" cy="451.76" r="0.95" fill="#e6007e"/>
<circle cx="103.82" cy="469.86" r="0.95" fill="#e6007e"/>
<circle cx="106.02" cy="469.2" r="0.95" fill="#e6007e"/>
<circle cx="104.42" cy="458.69" r="0.95" fill="#e6007e"/>
<circle cx="107.4" cy="460.55" r="0.95" fill="#e6007e"/>
<circle cx="106.24" cy="458.66" r="0.95" fill="#e6007e"/>
<circle cx="106.74" cy="459.61" r="0.95" fill="#e6007e"/>
<circle cx="102.43" cy="447.38" r="0.95" fill="#e6007e"/>
<circle cx="101.88" cy="454.86" r="0.95" fill="#e6007e"/>
<circle cx="102.6" cy="446" r="0.95" fill="#e6007e"/>
<circle cx="103.04" cy="480" r="0.95" fill="#e6007e"/>
<rect x="112.6" y="458.8" width="10" height="15.4" fill="#ababab" stroke="#9a9a9a" stroke-width="0.6" fill-opacity="0.85"/>
<line x1="112.2" y1="466.9" x2="123" y2="466.9" stroke="#1a1a1a" stroke-width="1.1"/>
<line x1="117.6" y1="440" x2="117.6" y2="458.8" stroke="#333" stroke-width="0.7"/>
<line x1="117.6" y1="474.2" x2="117.6" y2="490" stroke="#333" stroke-width="0.7"/>
<circle cx="116.6" cy="483.02" r="0.95" fill="#3f3f3f"/>
<circle cx="119.31" cy="460.45" r="0.95" fill="#3f3f3f"/>
<circle cx="115.09" cy="448.99" r="0.95" fill="#3f3f3f"/>
<circle cx="117.43" cy="455.23" r="0.95" fill="#3f3f3f"/>
<circle cx="115.9" cy="450.71" r="0.95" fill="#3f3f3f"/>
<circle cx="116.39" cy="465.58" r="0.95" fill="#3f3f3f"/>
<circle cx="115.2" cy="482.19" r="0.95" fill="#3f3f3f"/>
<circle cx="118.12" cy="485.31" r="0.95" fill="#3f3f3f"/>
<circle cx="118.58" cy="452.84" r="0.95" fill="#3f3f3f"/>
<circle cx="118.91" cy="475.65" r="0.95" fill="#3f3f3f"/>
<circle cx="119.45" cy="489.5" r="0.95" fill="#3f3f3f"/>
<circle cx="117.12" cy="466.14" r="0.95" fill="#3f3f3f"/>
<circle cx="117.73" cy="478.88" r="0.95" fill="#3f3f3f"/>
<circle cx="119.7" cy="458.78" r="0.95" fill="#3f3f3f"/>
<circle cx="119.68" cy="484.84" r="0.95" fill="#3f3f3f"/>
<circle cx="118.3" cy="473.32" r="0.95" fill="#3f3f3f"/>
<circle cx="114.5" cy="461.54" r="0.95" fill="#3f3f3f"/>
<circle cx="117.06" cy="449.45" r="0.95" fill="#3f3f3f"/>
<circle cx="116.24" cy="482.51" r="0.95" fill="#3f3f3f"/>
<circle cx="117.06" cy="481.86" r="0.95" fill="#3f3f3f"/>
<circle cx="120.03" cy="477.77" r="0.95" fill="#3f3f3f"/>
<circle cx="119.19" cy="475.18" r="0.95" fill="#3f3f3f"/>
<circle cx="118.88" cy="457.68" r="0.95" fill="#3f3f3f"/>
<circle cx="119.7" cy="471.33" r="0.95" fill="#3f3f3f"/>
<circle cx="115" cy="489.23" r="0.95" fill="#3f3f3f"/>
<circle cx="116.15" cy="463.82" r="0.95" fill="#3f3f3f"/>
<circle cx="119.24" cy="476.55" r="0.95" fill="#3f3f3f"/>
<circle cx="115.24" cy="457.15" r="0.95" fill="#3f3f3f"/>
<circle cx="117.59" cy="479.06" r="0.95" fill="#3f3f3f"/>
<circle cx="120.08" cy="479.23" r="0.95" fill="#3f3f3f"/>
<circle cx="120.64" cy="469.58" r="0.95" fill="#3f3f3f"/>
<circle cx="116.02" cy="476.44" r="0.95" fill="#3f3f3f"/>
<circle cx="115.89" cy="458.74" r="0.95" fill="#3f3f3f"/>
<circle cx="120.18" cy="477.53" r="0.95" fill="#3f3f3f"/>
<circle cx="120.34" cy="461.7" r="0.95" fill="#3f3f3f"/>
<circle cx="116.63" cy="453.64" r="0.95" fill="#3f3f3f"/>
<circle cx="120.26" cy="461.19" r="0.95" fill="#3f3f3f"/>
<circle cx="119.88" cy="479" r="0.95" fill="#3f3f3f"/>
<circle cx="115.41" cy="480.6" r="0.95" fill="#3f3f3f"/>
<circle cx="115.41" cy="460.34" r="0.95" fill="#3f3f3f"/>
<circle cx="116.22" cy="484.36" r="0.95" fill="#3f3f3f"/>
<circle cx="118.77" cy="469.78" r="0.95" fill="#3f3f3f"/>
<circle cx="118.07" cy="455.83" r="0.95" fill="#3f3f3f"/>
<circle cx="118.47" cy="458.38" r="0.95" fill="#3f3f3f"/>
<circle cx="121.08" cy="463.62" r="0.95" fill="#3f3f3f"/>
<circle cx="117.8" cy="462.94" r="0.95" fill="#3f3f3f"/>
<circle cx="116.48" cy="482.28" r="0.95" fill="#3f3f3f"/>
<circle cx="119.78" cy="471.41" r="0.95" fill="#3f3f3f"/>
<circle cx="116.28" cy="454.21" r="0.95" fill="#3f3f3f"/>
<circle cx="120.46" cy="459.64" r="0.95" fill="#3f3f3f"/>
<circle cx="114.24" cy="464.64" r="0.95" fill="#3f3f3f"/>
<circle cx="120.69" cy="466.94" r="0.95" fill="#3f3f3f"/>
<circle cx="115.94" cy="455.23" r="0.95" fill="#3f3f3f"/>
<circle cx="118.74" cy="460.04" r="0.95" fill="#3f3f3f"/>
<circle cx="117.69" cy="458.06" r="0.95" fill="#3f3f3f"/>
<circle cx="117.71" cy="477.05" r="0.95" fill="#3f3f3f"/>
<circle cx="115.9" cy="452.05" r="0.95" fill="#3f3f3f"/>
<circle cx="116.22" cy="475.14" r="0.95" fill="#3f3f3f"/>
<circle cx="119.02" cy="480.87" r="0.95" fill="#3f3f3f"/>
<circle cx="117.52" cy="469.12" r="0.95" fill="#3f3f3f"/>
<circle cx="118.02" cy="458.5" r="0.95" fill="#3f3f3f"/>
<circle cx="118.72" cy="482.48" r="0.95" fill="#3f3f3f"/>
<circle cx="120.28" cy="470.42" r="0.95" fill="#3f3f3f"/>
<circle cx="117.57" cy="468.2" r="0.95" fill="#3f3f3f"/>
<circle cx="117.18" cy="468.73" r="0.95" fill="#3f3f3f"/>
<circle cx="120.53" cy="468.28" r="0.95" fill="#3f3f3f"/>
<circle cx="117.91" cy="462.51" r="0.95" fill="#3f3f3f"/>
<circle cx="116.24" cy="467.4" r="0.95" fill="#3f3f3f"/>
<circle cx="117.73" cy="451.68" r="0.95" fill="#3f3f3f"/>
<circle cx="118.24" cy="473.54" r="0.95" fill="#3f3f3f"/>
<circle cx="116.37" cy="440" r="0.95" fill="#3f3f3f"/>
<circle cx="118.56" cy="490" r="0.95" fill="#3f3f3f"/>
<rect x="130.9" y="461.7" width="11.5" height="8.7" fill="#fcc98c" stroke="#f9b060" stroke-width="0.6" fill-opacity="0.85"/>
<line x1="130.5" y1="466.2" x2="142.8" y2="466.2" stroke="#1a1a1a" stroke-width="1.1"/>
<line x1="136.65" y1="452" x2="136.65" y2="461.7" stroke="#333" stroke-width="0.7"/>
<line x1="136.65" y1="470.4" x2="136.65" y2="479" stroke="#333" stroke-width="0.7"/>
<circle cx="137.79" cy="453.55" r="0.95" fill="#f7931e"/>
<circle cx="135.91" cy="466.74" r="0.95" fill="#f7931e"/>
<circle cx="134.3" cy="463.89" r="0.95" fill="#f7931e"/>
<circle cx="138.21" cy="473.69" r="0.95" fill="#f7931e"/>
<circle cx="133.71" cy="468.23" r="0.95" fill="#f7931e"/>
<circle cx="134.5" cy="466.14" r="0.95" fill="#f7931e"/>
<circle cx="133.68" cy="464.31" r="0.95" fill="#f7931e"/>
<circle cx="133.14" cy="464.11" r="0.95" fill="#f7931e"/>
<circle cx="138.05" cy="476.96" r="0.95" fill="#f7931e"/>
<circle cx="135.17" cy="472.92" r="0.95" fill="#f7931e"/>
<circle cx="140.23" cy="466.59" r="0.95" fill="#f7931e"/>
<circle cx="135.68" cy="473.64" r="0.95" fill="#f7931e"/>
<circle cx="135.85" cy="464.74" r="0.95" fill="#f7931e"/>
<circle cx="132.99" cy="464.98" r="0.95" fill="#f7931e"/>
<circle cx="137.19" cy="461.64" r="0.95" fill="#f7931e"/>
<circle cx="136.43" cy="453.62" r="0.95" fill="#f7931e"/>
<circle cx="138.98" cy="469.82" r="0.95" fill="#f7931e"/>
<circle cx="135.74" cy="460.73" r="0.95" fill="#f7931e"/>
<circle cx="134.2" cy="462.39" r="0.95" fill="#f7931e"/>
<circle cx="136.38" cy="464.97" r="0.95" fill="#f7931e"/>
<circle cx="137.72" cy="473.11" r="0.95" fill="#f7931e"/>
<circle cx="133.11" cy="468.05" r="0.95" fill="#f7931e"/>
<circle cx="135.83" cy="472.51" r="0.95" fill="#f7931e"/>
<circle cx="135.23" cy="470.41" r="0.95" fill="#f7931e"/>
<circle cx="140.16" cy="466.69" r="0.95" fill="#f7931e"/>
<circle cx="133.78" cy="465.46" r="0.95" fill="#f7931e"/>
<circle cx="135.81" cy="472.49" r="0.95" fill="#f7931e"/>
<circle cx="132.68" cy="463.78" r="0.95" fill="#f7931e"/>
<circle cx="139.82" cy="464.11" r="0.95" fill="#f7931e"/>
<circle cx="138.89" cy="468.05" r="0.95" fill="#f7931e"/>
<circle cx="136.71" cy="452" r="0.95" fill="#f7931e"/>
<circle cx="135.31" cy="479" r="0.95" fill="#f7931e"/>
<circle cx="136.12" cy="489" r="0.95" fill="#f7931e"/>
<rect x="145.7" y="454" width="11.5" height="11.6" fill="#94b3d6" stroke="#7fa2cc" stroke-width="0.6" fill-opacity="0.85"/>
<line x1="145.3" y1="458.8" x2="157.6" y2="458.8" stroke="#1a1a1a" stroke-width="1.1"/>
<line x1="151.45" y1="443" x2="151.45" y2="454" stroke="#333" stroke-width="0.7"/>
<line x1="151.45" y1="465.6" x2="151.45" y2="480" stroke="#333" stroke-width="0.7"/>
<circle cx="152.24" cy="463.74" r="0.95" fill="#1d4f8c"/>
<circle cx="151.71" cy="447.66" r="0.95" fill="#1d4f8c"/>
<circle cx="152.8" cy="469.35" r="0.95" fill="#1d4f8c"/>
<circle cx="148.53" cy="460.09" r="0.95" fill="#1d4f8c"/>
<circle cx="150.67" cy="456.13" r="0.95" fill="#1d4f8c"/>
<circle cx="153.64" cy="472.64" r="0.95" fill="#1d4f8c"/>
<circle cx="149.1" cy="456.66" r="0.95" fill="#1d4f8c"/>
<circle cx="151.84" cy="449.93" r="0.95" fill="#1d4f8c"/>
<circle cx="154.29" cy="466.72" r="0.95" fill="#1d4f8c"/>
<circle cx="149.75" cy="449.21" r="0.95" fill="#1d4f8c"/>
<circle cx="153.65" cy="447.67" r="0.95" fill="#1d4f8c"/>
<circle cx="150.85" cy="456.19" r="0.95" fill="#1d4f8c"/>
<circle cx="147.81" cy="455.94" r="0.95" fill="#1d4f8c"/>
<circle cx="150.13" cy="453.86" r="0.95" fill="#1d4f8c"/>
<circle cx="149.46" cy="448.23" r="0.95" fill="#1d4f8c"/>
<circle cx="149.89" cy="468.03" r="0.95" fill="#1d4f8c"/>
<circle cx="149.36" cy="447.65" r="0.95" fill="#1d4f8c"/>
<circle cx="153.11" cy="455.39" r="0.95" fill="#1d4f8c"/>
<circle cx="148.84" cy="447.01" r="0.95" fill="#1d4f8c"/>
<circle cx="148.79" cy="448" r="0.95" fill="#1d4f8c"/>
<circle cx="150.41" cy="450.19" r="0.95" fill="#1d4f8c"/>
<circle cx="148.6" cy="453.64" r="0.95" fill="#1d4f8c"/>
<circle cx="150.03" cy="467.76" r="0.95" fill="#1d4f8c"/>
<circle cx="149.57" cy="451.55" r="0.95" fill="#1d4f8c"/>
<circle cx="150.63" cy="444.1" r="0.95" fill="#1d4f8c"/>
<circle cx="152.21" cy="473.14" r="0.95" fill="#1d4f8c"/>
<circle cx="150.92" cy="453.37" r="0.95" fill="#1d4f8c"/>
<circle cx="154.59" cy="456.05" r="0.95" fill="#1d4f8c"/>
<circle cx="153.9" cy="475.36" r="0.95" fill="#1d4f8c"/>
<circle cx="150.31" cy="448.58" r="0.95" fill="#1d4f8c"/>
<circle cx="148.9" cy="463.83" r="0.95" fill="#1d4f8c"/>
<circle cx="152.94" cy="458.07" r="0.95" fill="#1d4f8c"/>
<circle cx="150.82" cy="469.98" r="0.95" fill="#1d4f8c"/>
<circle cx="151.4" cy="458.87" r="0.95" fill="#1d4f8c"/>
<circle cx="151.81" cy="446.88" r="0.95" fill="#1d4f8c"/>
<circle cx="152.44" cy="443" r="0.95" fill="#1d4f8c"/>
<circle cx="152.86" cy="480" r="0.95" fill="#1d4f8c"/>
<rect x="161" y="460.8" width="11.6" height="15.4" fill="#c6c6c6" stroke="#b5b5b5" stroke-width="0.6" fill-opacity="0.85"/>
<line x1="160.6" y1="468.5" x2="173" y2="468.5" stroke="#1a1a1a" stroke-width="1.1"/>
<line x1="166.8" y1="437" x2="166.8" y2="460.8" stroke="#333" stroke-width="0.7"/>
<line x1="166.8" y1="476.2" x2="166.8" y2="490" stroke="#333" stroke-width="0.7"/>
<circle cx="165.52" cy="463.56" r="0.95" fill="#909090"/>
<circle cx="168.43" cy="461.21" r="0.95" fill="#909090"/>
<circle cx="169.6" cy="485.82" r="0.95" fill="#909090"/>
<circle cx="166.74" cy="477.4" r="0.95" fill="#909090"/>
<circle cx="166.01" cy="482.41" r="0.95" fill="#909090"/>
<circle cx="164.6" cy="468.4" r="0.95" fill="#909090"/>
<circle cx="165.74" cy="453.86" r="0.95" fill="#909090"/>
<circle cx="164.17" cy="477.94" r="0.95" fill="#909090"/>
<circle cx="164.46" cy="453.77" r="0.95" fill="#909090"/>
<circle cx="163.98" cy="470.38" r="0.95" fill="#909090"/>
<circle cx="169.03" cy="455.07" r="0.95" fill="#909090"/>
<circle cx="168.59" cy="449.08" r="0.95" fill="#909090"/>
<circle cx="168.6" cy="466.58" r="0.95" fill="#909090"/>
<circle cx="165.8" cy="459.68" r="0.95" fill="#909090"/>
<circle cx="167.21" cy="480.74" r="0.95" fill="#909090"/>
<circle cx="168.05" cy="449.92" r="0.95" fill="#909090"/>
<circle cx="164.54" cy="478.88" r="0.95" fill="#909090"/>
<circle cx="167.82" cy="449.9" r="0.95" fill="#909090"/>
<circle cx="167.51" cy="469.29" r="0.95" fill="#909090"/>
<circle cx="170.73" cy="470.31" r="0.95" fill="#909090"/>
<circle cx="167.59" cy="481.99" r="0.95" fill="#909090"/>
<circle cx="164.08" cy="454.07" r="0.95" fill="#909090"/>
<circle cx="165.01" cy="471.07" r="0.95" fill="#909090"/>
<circle cx="170.92" cy="470.86" r="0.95" fill="#909090"/>
<circle cx="167.06" cy="437.63" r="0.95" fill="#909090"/>
<circle cx="169.31" cy="461.37" r="0.95" fill="#909090"/>
<circle cx="164.99" cy="475.78" r="0.95" fill="#909090"/>
<circle cx="169.7" cy="453.6" r="0.95" fill="#909090"/>
<circle cx="167.97" cy="454.9" r="0.95" fill="#909090"/>
<circle cx="164.09" cy="470.57" r="0.95" fill="#909090"/>
<circle cx="166.73" cy="479.67" r="0.95" fill="#909090"/>
<circle cx="167.2" cy="437.46" r="0.95" fill="#909090"/>
<circle cx="165.16" cy="479.98" r="0.95" fill="#909090"/>
<circle cx="165.68" cy="462.15" r="0.95" fill="#909090"/>
<circle cx="170.08" cy="472.6" r="0.95" fill="#909090"/>
<circle cx="163.28" cy="469.87" r="0.95" fill="#909090"/>
<circle cx="164.31" cy="472.71" r="0.95" fill="#909090"/>
<circle cx="168.65" cy="456.3" r="0.95" fill="#909090"/>
<circle cx="163.11" cy="469.71" r="0.95" fill="#909090"/>
<circle cx="165.46" cy="459.36" r="0.95" fill="#909090"/>
<circle cx="169" cy="454.7" r="0.95" fill="#909090"/>
<circle cx="168.16" cy="447.47" r="0.95" fill="#909090"/>
<circle cx="164.5" cy="441.02" r="0.95" fill="#909090"/>
<circle cx="165.65" cy="454.93" r="0.95" fill="#909090"/>
<circle cx="163.85" cy="476.34" r="0.95" fill="#909090"/>
<circle cx="167.03" cy="470.21" r="0.95" fill="#909090"/>
<circle cx="169.24" cy="468.05" r="0.95" fill="#909090"/>
<circle cx="168.78" cy="451.28" r="0.95" fill="#909090"/>
<circle cx="169.73" cy="481.13" r="0.95" fill="#909090"/>
<circle cx="168.04" cy="481.75" r="0.95" fill="#909090"/>
<circle cx="167.44" cy="470.68" r="0.95" fill="#909090"/>
<circle cx="165.87" cy="467.11" r="0.95" fill="#909090"/>
<circle cx="165.98" cy="456.57" r="0.95" fill="#909090"/>
<circle cx="165.92" cy="450.47" r="0.95" fill="#909090"/>
<circle cx="164.35" cy="477.14" r="0.95" fill="#909090"/>
<circle cx="168.82" cy="462.64" r="0.95" fill="#909090"/>
<circle cx="168.31" cy="467.86" r="0.95" fill="#909090"/>
<circle cx="165.9" cy="440.4" r="0.95" fill="#909090"/>
<circle cx="163.84" cy="453.62" r="0.95" fill="#909090"/>
<circle cx="167.02" cy="459.93" r="0.95" fill="#909090"/>
<circle cx="164.33" cy="474.45" r="0.95" fill="#909090"/>
<circle cx="164.44" cy="459.95" r="0.95" fill="#909090"/>
<circle cx="166.38" cy="486.41" r="0.95" fill="#909090"/>
<circle cx="168.52" cy="470.8" r="0.95" fill="#909090"/>
<circle cx="169.5" cy="453.12" r="0.95" fill="#909090"/>
<circle cx="164.89" cy="480.41" r="0.95" fill="#909090"/>
<circle cx="167.93" cy="475.19" r="0.95" fill="#909090"/>
<circle cx="168" cy="468.06" r="0.95" fill="#909090"/>
<circle cx="168.95" cy="450.05" r="0.95" fill="#909090"/>
<circle cx="166.83" cy="451.97" r="0.95" fill="#909090"/>
<circle cx="167.95" cy="485.52" r="0.95" fill="#909090"/>
<circle cx="167.8" cy="483.34" r="0.95" fill="#909090"/>
<circle cx="167.64" cy="462.09" r="0.95" fill="#909090"/>
<circle cx="166.93" cy="474.18" r="0.95" fill="#909090"/>
<circle cx="167.36" cy="482.37" r="0.95" fill="#909090"/>
<circle cx="166.54" cy="474.68" r="0.95" fill="#909090"/>
<circle cx="168.79" cy="465.67" r="0.95" fill="#909090"/>
<circle cx="165.98" cy="465.53" r="0.95" fill="#909090"/>
<circle cx="168.85" cy="459.86" r="0.95" fill="#909090"/>
<circle cx="170.46" cy="468.98" r="0.95" fill="#909090"/>
<circle cx="170.92" cy="472.68" r="0.95" fill="#909090"/>
<circle cx="165.3" cy="486.02" r="0.95" fill="#909090"/>
<circle cx="166.52" cy="454.95" r="0.95" fill="#909090"/>
<circle cx="164.96" cy="473.69" r="0.95" fill="#909090"/>
<circle cx="163.24" cy="462.65" r="0.95" fill="#909090"/>
<circle cx="166.96" cy="437" r="0.95" fill="#909090"/>
<circle cx="167.66" cy="490" r="0.95" fill="#909090"/>
<path d="M44.6 420.6V492.4H80.4" stroke="#1a1a1a" stroke-width="1.15" fill="none"/>
<path d="M82.6 420.6V492.4H125.1" stroke="#1a1a1a" stroke-width="1.15" fill="none"/>
<path d="M127.4 420.6V492.4H175.1" stroke="#1a1a1a" stroke-width="1.15" fill="none"/>
<rect x="212.9" y="478" width="12.4" height="8" fill="#cacaca" stroke="#b8b8b8" stroke-width="0.6" fill-opacity="0.85"/>
<line x1="212.5" y1="484.1" x2="225.7" y2="484.1" stroke="#1a1a1a" stroke-width="1.1"/>
<line x1="219.1" y1="468" x2="219.1" y2="478" stroke="#333" stroke-width="0.7"/>
<line x1="219.1" y1="486" x2="219.1" y2="490.5" stroke="#333" stroke-width="0.7"/>
<circle cx="222.27" cy="484.67" r="0.95" fill="#a0a0a0"/>
<circle cx="221.01" cy="471.36" r="0.95" fill="#a0a0a0"/>
<circle cx="216.11" cy="469" r="0.95" fill="#a0a0a0"/>
<circle cx="222.36" cy="480.02" r="0.95" fill="#a0a0a0"/>
<circle cx="218.38" cy="486.98" r="0.95" fill="#a0a0a0"/>
<circle cx="219.85" cy="486.72" r="0.95" fill="#a0a0a0"/>
<circle cx="221.53" cy="486.43" r="0.95" fill="#a0a0a0"/>
<circle cx="218.65" cy="487.09" r="0.95" fill="#a0a0a0"/>
<circle cx="219.94" cy="471.15" r="0.95" fill="#a0a0a0"/>
<circle cx="217.04" cy="476.54" r="0.95" fill="#a0a0a0"/>
<circle cx="216.71" cy="488.1" r="0.95" fill="#a0a0a0"/>
<circle cx="218.18" cy="488.75" r="0.95" fill="#a0a0a0"/>
<circle cx="223.52" cy="478.38" r="0.95" fill="#a0a0a0"/>
<circle cx="217.41" cy="483.6" r="0.95" fill="#a0a0a0"/>
<circle cx="215.94" cy="478.3" r="0.95" fill="#a0a0a0"/>
<circle cx="218.51" cy="473.95" r="0.95" fill="#a0a0a0"/>
<circle cx="219.14" cy="489.29" r="0.95" fill="#a0a0a0"/>
<circle cx="216.73" cy="478.64" r="0.95" fill="#a0a0a0"/>
<circle cx="217.19" cy="481.38" r="0.95" fill="#a0a0a0"/>
<circle cx="222.97" cy="481.09" r="0.95" fill="#a0a0a0"/>
<circle cx="221.27" cy="478.03" r="0.95" fill="#a0a0a0"/>
<circle cx="218.38" cy="481.98" r="0.95" fill="#a0a0a0"/>
<circle cx="218.57" cy="484.81" r="0.95" fill="#a0a0a0"/>
<circle cx="220.64" cy="481.57" r="0.95" fill="#a0a0a0"/>
<circle cx="222.63" cy="481.32" r="0.95" fill="#a0a0a0"/>
<circle cx="218.39" cy="485.83" r="0.95" fill="#a0a0a0"/>
<circle cx="219.68" cy="489.24" r="0.95" fill="#a0a0a0"/>
<circle cx="216.52" cy="473.27" r="0.95" fill="#a0a0a0"/>
<circle cx="218.29" cy="489.07" r="0.95" fill="#a0a0a0"/>
<circle cx="220.19" cy="487.18" r="0.95" fill="#a0a0a0"/>
<circle cx="216.03" cy="475.1" r="0.95" fill="#a0a0a0"/>
<circle cx="218.79" cy="478.38" r="0.95" fill="#a0a0a0"/>
<circle cx="220.63" cy="485.22" r="0.95" fill="#a0a0a0"/>
<circle cx="223.5" cy="480.98" r="0.95" fill="#a0a0a0"/>
<circle cx="220.4" cy="488.33" r="0.95" fill="#a0a0a0"/>
<circle cx="216.31" cy="476.25" r="0.95" fill="#a0a0a0"/>
<circle cx="217.28" cy="476.78" r="0.95" fill="#a0a0a0"/>
<circle cx="217.23" cy="489.33" r="0.95" fill="#a0a0a0"/>
<circle cx="220.66" cy="487.94" r="0.95" fill="#a0a0a0"/>
<circle cx="219.89" cy="474.49" r="0.95" fill="#a0a0a0"/>
<circle cx="217.51" cy="488.92" r="0.95" fill="#a0a0a0"/>
<circle cx="215.7" cy="482.82" r="0.95" fill="#a0a0a0"/>
<circle cx="215.98" cy="473.53" r="0.95" fill="#a0a0a0"/>
<circle cx="214.85" cy="479.63" r="0.95" fill="#a0a0a0"/>
<circle cx="216.59" cy="476.69" r="0.95" fill="#a0a0a0"/>
<circle cx="217.33" cy="482.4" r="0.95" fill="#a0a0a0"/>
<circle cx="216.71" cy="489.75" r="0.95" fill="#a0a0a0"/>
<circle cx="220.89" cy="487.32" r="0.95" fill="#a0a0a0"/>
<circle cx="218.54" cy="489.72" r="0.95" fill="#a0a0a0"/>
<circle cx="219.47" cy="472.52" r="0.95" fill="#a0a0a0"/>
<circle cx="222.23" cy="485.81" r="0.95" fill="#a0a0a0"/>
<circle cx="218.5" cy="488.36" r="0.95" fill="#a0a0a0"/>
<circle cx="222.35" cy="481.77" r="0.95" fill="#a0a0a0"/>
<circle cx="216.01" cy="483.33" r="0.95" fill="#a0a0a0"/>
<circle cx="221.19" cy="484.57" r="0.95" fill="#a0a0a0"/>
<circle cx="216.06" cy="488.3" r="0.95" fill="#a0a0a0"/>
<circle cx="220.02" cy="477.66" r="0.95" fill="#a0a0a0"/>
<circle cx="216.17" cy="490.41" r="0.95" fill="#a0a0a0"/>
<circle cx="216.6" cy="488.32" r="0.95" fill="#a0a0a0"/>
<circle cx="218" cy="486.36" r="0.95" fill="#a0a0a0"/>
<circle cx="221.98" cy="476.82" r="0.95" fill="#a0a0a0"/>
<circle cx="219.11" cy="473.52" r="0.95" fill="#a0a0a0"/>
<circle cx="221.24" cy="480.01" r="0.95" fill="#a0a0a0"/>
<circle cx="218.25" cy="487.3" r="0.95" fill="#a0a0a0"/>
<circle cx="218.48" cy="478.36" r="0.95" fill="#a0a0a0"/>
<circle cx="215.08" cy="484.94" r="0.95" fill="#a0a0a0"/>
<circle cx="219.41" cy="486.95" r="0.95" fill="#a0a0a0"/>
<circle cx="217.96" cy="484.58" r="0.95" fill="#a0a0a0"/>
<circle cx="219" cy="486.87" r="0.95" fill="#a0a0a0"/>
<circle cx="214.72" cy="484.08" r="0.95" fill="#a0a0a0"/>
<circle cx="222.11" cy="476.99" r="0.95" fill="#a0a0a0"/>
<circle cx="218.23" cy="490.32" r="0.95" fill="#a0a0a0"/>
<circle cx="220.07" cy="480.56" r="0.95" fill="#a0a0a0"/>
<circle cx="217.91" cy="487.92" r="0.95" fill="#a0a0a0"/>
<circle cx="216.22" cy="473.85" r="0.95" fill="#a0a0a0"/>
<circle cx="221.01" cy="470.7" r="0.95" fill="#a0a0a0"/>
<circle cx="222.31" cy="483.05" r="0.95" fill="#a0a0a0"/>
<circle cx="215.4" cy="482.03" r="0.95" fill="#a0a0a0"/>
<circle cx="217.92" cy="486.79" r="0.95" fill="#a0a0a0"/>
<circle cx="221.67" cy="479.32" r="0.95" fill="#a0a0a0"/>
<circle cx="216.19" cy="487.75" r="0.95" fill="#a0a0a0"/>
<circle cx="219.99" cy="470.76" r="0.95" fill="#a0a0a0"/>
<circle cx="219.61" cy="489.39" r="0.95" fill="#a0a0a0"/>
<circle cx="220.26" cy="487.88" r="0.95" fill="#a0a0a0"/>
<circle cx="222.82" cy="479.57" r="0.95" fill="#a0a0a0"/>
<circle cx="220.72" cy="487.98" r="0.95" fill="#a0a0a0"/>
<circle cx="216.64" cy="477.86" r="0.95" fill="#a0a0a0"/>
<circle cx="220.61" cy="486.23" r="0.95" fill="#a0a0a0"/>
<circle cx="220.17" cy="476.34" r="0.95" fill="#a0a0a0"/>
<circle cx="217.88" cy="486.44" r="0.95" fill="#a0a0a0"/>
<circle cx="219.49" cy="486.12" r="0.95" fill="#a0a0a0"/>
<circle cx="219.42" cy="485.64" r="0.95" fill="#a0a0a0"/>
<circle cx="216.67" cy="490.28" r="0.95" fill="#a0a0a0"/>
<circle cx="218.49" cy="482.57" r="0.95" fill="#a0a0a0"/>
<circle cx="220.66" cy="484.37" r="0.95" fill="#a0a0a0"/>
<circle cx="218.38" cy="474.69" r="0.95" fill="#a0a0a0"/>
<circle cx="215.58" cy="484.48" r="0.95" fill="#a0a0a0"/>
<circle cx="217.18" cy="488.19" r="0.95" fill="#a0a0a0"/>
<circle cx="219.69" cy="487.04" r="0.95" fill="#a0a0a0"/>
<circle cx="218.38" cy="488.99" r="0.95" fill="#a0a0a0"/>
<circle cx="219.64" cy="487.28" r="0.95" fill="#a0a0a0"/>
<circle cx="223.39" cy="479.25" r="0.95" fill="#a0a0a0"/>
<circle cx="216.97" cy="482.64" r="0.95" fill="#a0a0a0"/>
<circle cx="219.77" cy="479.85" r="0.95" fill="#a0a0a0"/>
<circle cx="218.31" cy="488.61" r="0.95" fill="#a0a0a0"/>
<circle cx="219.48" cy="476.32" r="0.95" fill="#a0a0a0"/>
<circle cx="221.74" cy="487.6" r="0.95" fill="#a0a0a0"/>
<circle cx="221.36" cy="479.65" r="0.95" fill="#a0a0a0"/>
<circle cx="216.1" cy="476.47" r="0.95" fill="#a0a0a0"/>
<circle cx="219.71" cy="484.47" r="0.95" fill="#a0a0a0"/>
<circle cx="219.25" cy="468" r="0.95" fill="#a0a0a0"/>
<circle cx="218.6" cy="490.5" r="0.95" fill="#a0a0a0"/>
<circle cx="217.36" cy="437" r="0.95" fill="#a0a0a0"/>
<circle cx="221.35" cy="447" r="0.95" fill="#a0a0a0"/>
<circle cx="220.42" cy="450" r="0.95" fill="#a0a0a0"/>
<circle cx="220.63" cy="452" r="0.95" fill="#a0a0a0"/>
<circle cx="217.09" cy="460" r="0.95" fill="#a0a0a0"/>
<circle cx="220.52" cy="462" r="0.95" fill="#a0a0a0"/>
<rect x="229.3" y="475.9" width="12.1" height="6.6" fill="#ee9aaa" stroke="#e888a0" stroke-width="0.6" fill-opacity="0.85"/>
<line x1="228.9" y1="478.5" x2="241.8" y2="478.5" stroke="#1a1a1a" stroke-width="1.1"/>
<line x1="235.35" y1="466" x2="235.35" y2="475.9" stroke="#333" stroke-width="0.7"/>
<line x1="235.35" y1="482.5" x2="235.35" y2="490" stroke="#333" stroke-width="0.7"/>
<circle cx="236.31" cy="480.47" r="0.95" fill="#c8102e"/>
<circle cx="237.86" cy="486.87" r="0.95" fill="#c8102e"/>
<circle cx="236.54" cy="484.47" r="0.95" fill="#c8102e"/>
<circle cx="234.03" cy="486.2" r="0.95" fill="#c8102e"/>
<circle cx="237.33" cy="476.05" r="0.95" fill="#c8102e"/>
<circle cx="235.67" cy="478.51" r="0.95" fill="#c8102e"/>
<circle cx="233.55" cy="479.53" r="0.95" fill="#c8102e"/>
<circle cx="233.37" cy="482.46" r="0.95" fill="#c8102e"/>
<circle cx="233.95" cy="482.8" r="0.95" fill="#c8102e"/>
<circle cx="238.48" cy="480.6" r="0.95" fill="#c8102e"/>
<circle cx="236.3" cy="476.36" r="0.95" fill="#c8102e"/>
<circle cx="236.74" cy="477.87" r="0.95" fill="#c8102e"/>
<circle cx="237.08" cy="472.25" r="0.95" fill="#c8102e"/>
<circle cx="234.49" cy="489.74" r="0.95" fill="#c8102e"/>
<circle cx="233.03" cy="482.49" r="0.95" fill="#c8102e"/>
<circle cx="238.14" cy="472.86" r="0.95" fill="#c8102e"/>
<circle cx="235.77" cy="484.47" r="0.95" fill="#c8102e"/>
<circle cx="231.95" cy="479.89" r="0.95" fill="#c8102e"/>
<circle cx="238.85" cy="477.42" r="0.95" fill="#c8102e"/>
<circle cx="238.43" cy="483.4" r="0.95" fill="#c8102e"/>
<circle cx="238.59" cy="476.86" r="0.95" fill="#c8102e"/>
<circle cx="232.39" cy="483.01" r="0.95" fill="#c8102e"/>
<circle cx="237.59" cy="486.17" r="0.95" fill="#c8102e"/>
<circle cx="235.53" cy="477.67" r="0.95" fill="#c8102e"/>
<circle cx="235.52" cy="483.88" r="0.95" fill="#c8102e"/>
<circle cx="236.64" cy="475.13" r="0.95" fill="#c8102e"/>
<circle cx="235.23" cy="478.52" r="0.95" fill="#c8102e"/>
<circle cx="238.32" cy="471.52" r="0.95" fill="#c8102e"/>
<circle cx="233.92" cy="481.34" r="0.95" fill="#c8102e"/>
<circle cx="239.17" cy="481.72" r="0.95" fill="#c8102e"/>
<circle cx="237.61" cy="489.5" r="0.95" fill="#c8102e"/>
<circle cx="232.33" cy="474.92" r="0.95" fill="#c8102e"/>
<circle cx="236.06" cy="471.99" r="0.95" fill="#c8102e"/>
<circle cx="238.08" cy="474.33" r="0.95" fill="#c8102e"/>
<circle cx="232.4" cy="489.7" r="0.95" fill="#c8102e"/>
<circle cx="232.36" cy="489.68" r="0.95" fill="#c8102e"/>
<circle cx="235.47" cy="487.66" r="0.95" fill="#c8102e"/>
<circle cx="231" cy="478.93" r="0.95" fill="#c8102e"/>
<circle cx="237.45" cy="489.82" r="0.95" fill="#c8102e"/>
<circle cx="234.32" cy="469.29" r="0.95" fill="#c8102e"/>
<circle cx="233.85" cy="487.17" r="0.95" fill="#c8102e"/>
<circle cx="235.58" cy="479.32" r="0.95" fill="#c8102e"/>
<circle cx="233.04" cy="475.96" r="0.95" fill="#c8102e"/>
<circle cx="233.31" cy="473.52" r="0.95" fill="#c8102e"/>
<circle cx="237.13" cy="470.74" r="0.95" fill="#c8102e"/>
<circle cx="233.26" cy="479.05" r="0.95" fill="#c8102e"/>
<circle cx="233.81" cy="485.88" r="0.95" fill="#c8102e"/>
<circle cx="233.62" cy="479.98" r="0.95" fill="#c8102e"/>
<circle cx="237.32" cy="481.88" r="0.95" fill="#c8102e"/>
<circle cx="231.68" cy="480.09" r="0.95" fill="#c8102e"/>
<circle cx="233.74" cy="472.37" r="0.95" fill="#c8102e"/>
<circle cx="234.54" cy="486.38" r="0.95" fill="#c8102e"/>
<circle cx="234.64" cy="470.29" r="0.95" fill="#c8102e"/>
<circle cx="234.33" cy="488.37" r="0.95" fill="#c8102e"/>
<circle cx="235.94" cy="475.46" r="0.95" fill="#c8102e"/>
<circle cx="235.14" cy="481.37" r="0.95" fill="#c8102e"/>
<circle cx="234.6" cy="484.45" r="0.95" fill="#c8102e"/>
<circle cx="233.5" cy="483.58" r="0.95" fill="#c8102e"/>
<circle cx="239.36" cy="479.02" r="0.95" fill="#c8102e"/>
<circle cx="233.1" cy="472.1" r="0.95" fill="#c8102e"/>
<circle cx="238.15" cy="488.33" r="0.95" fill="#c8102e"/>
<circle cx="237.76" cy="483.53" r="0.95" fill="#c8102e"/>
<circle cx="238.18" cy="484.26" r="0.95" fill="#c8102e"/>
<circle cx="233.37" cy="476.71" r="0.95" fill="#c8102e"/>
<circle cx="231.62" cy="480.35" r="0.95" fill="#c8102e"/>
<circle cx="233.67" cy="477.57" r="0.95" fill="#c8102e"/>
<circle cx="232.06" cy="479.82" r="0.95" fill="#c8102e"/>
<circle cx="237" cy="472.13" r="0.95" fill="#c8102e"/>
<circle cx="239.25" cy="476.85" r="0.95" fill="#c8102e"/>
<circle cx="234.15" cy="466.76" r="0.95" fill="#c8102e"/>
<circle cx="233.21" cy="483.84" r="0.95" fill="#c8102e"/>
<circle cx="235.78" cy="475.74" r="0.95" fill="#c8102e"/>
<circle cx="235" cy="482.12" r="0.95" fill="#c8102e"/>
<circle cx="232.66" cy="481.72" r="0.95" fill="#c8102e"/>
<circle cx="238.36" cy="473.82" r="0.95" fill="#c8102e"/>
<circle cx="232.53" cy="485.5" r="0.95" fill="#c8102e"/>
<circle cx="233.54" cy="473.29" r="0.95" fill="#c8102e"/>
<circle cx="235.34" cy="473.91" r="0.95" fill="#c8102e"/>
<circle cx="232.3" cy="475.35" r="0.95" fill="#c8102e"/>
<circle cx="231.36" cy="479.2" r="0.95" fill="#c8102e"/>
<circle cx="235.18" cy="474.92" r="0.95" fill="#c8102e"/>
<circle cx="234.2" cy="475.19" r="0.95" fill="#c8102e"/>
<circle cx="234.83" cy="483.49" r="0.95" fill="#c8102e"/>
<circle cx="235.1" cy="474.04" r="0.95" fill="#c8102e"/>
<circle cx="239.15" cy="481.67" r="0.95" fill="#c8102e"/>
<circle cx="238.68" cy="476.59" r="0.95" fill="#c8102e"/>
<circle cx="234.02" cy="489.88" r="0.95" fill="#c8102e"/>
<circle cx="235.88" cy="484.26" r="0.95" fill="#c8102e"/>
<circle cx="232.81" cy="484.63" r="0.95" fill="#c8102e"/>
<circle cx="235.33" cy="474.78" r="0.95" fill="#c8102e"/>
<circle cx="235.44" cy="483.83" r="0.95" fill="#c8102e"/>
<circle cx="233.9" cy="484.45" r="0.95" fill="#c8102e"/>
<circle cx="236.5" cy="478.56" r="0.95" fill="#c8102e"/>
<circle cx="235.24" cy="483.53" r="0.95" fill="#c8102e"/>
<circle cx="239.45" cy="481.69" r="0.95" fill="#c8102e"/>
<circle cx="237.96" cy="476.5" r="0.95" fill="#c8102e"/>
<circle cx="238.22" cy="479.25" r="0.95" fill="#c8102e"/>
<circle cx="235.38" cy="478.18" r="0.95" fill="#c8102e"/>
<circle cx="235.7" cy="489.46" r="0.95" fill="#c8102e"/>
<circle cx="234.03" cy="472.69" r="0.95" fill="#c8102e"/>
<circle cx="235.38" cy="478.87" r="0.95" fill="#c8102e"/>
<circle cx="238.26" cy="479.67" r="0.95" fill="#c8102e"/>
<circle cx="239.52" cy="481.84" r="0.95" fill="#c8102e"/>
<circle cx="236.68" cy="474.9" r="0.95" fill="#c8102e"/>
<circle cx="237.25" cy="470.17" r="0.95" fill="#c8102e"/>
<circle cx="234.38" cy="466" r="0.95" fill="#c8102e"/>
<circle cx="236.29" cy="490" r="0.95" fill="#c8102e"/>
<rect x="251.2" y="473.8" width="10.7" height="9.7" fill="#ffffff" stroke="#5a5a5a" stroke-width="0.6" fill-opacity="0.85"/>
<line x1="250.8" y1="479" x2="262.3" y2="479" stroke="#1a1a1a" stroke-width="1.1"/>
<line x1="256.55" y1="462" x2="256.55" y2="473.8" stroke="#333" stroke-width="0.7"/>
<line x1="256.55" y1="483.5" x2="256.55" y2="490" stroke="#333" stroke-width="0.7"/>
<circle cx="252.87" cy="479.62" r="0.95" fill="#c4c4c4"/>
<circle cx="257.16" cy="471.7" r="0.95" fill="#c4c4c4"/>
<circle cx="254.13" cy="488.78" r="0.95" fill="#c4c4c4"/>
<circle cx="253.54" cy="474.59" r="0.95" fill="#c4c4c4"/>
<circle cx="254.13" cy="483.45" r="0.95" fill="#c4c4c4"/>
<circle cx="258.54" cy="474.35" r="0.95" fill="#c4c4c4"/>
<circle cx="258.3" cy="476.23" r="0.95" fill="#c4c4c4"/>
<circle cx="258.14" cy="488.5" r="0.95" fill="#c4c4c4"/>
<circle cx="257.08" cy="476.31" r="0.95" fill="#c4c4c4"/>
<circle cx="255.91" cy="473.43" r="0.95" fill="#c4c4c4"/>
<circle cx="253.9" cy="472.34" r="0.95" fill="#c4c4c4"/>
<circle cx="257.4" cy="484.99" r="0.95" fill="#c4c4c4"/>
<circle cx="255.13" cy="475.93" r="0.95" fill="#c4c4c4"/>
<circle cx="254.81" cy="470.56" r="0.95" fill="#c4c4c4"/>
<circle cx="255.61" cy="472.06" r="0.95" fill="#c4c4c4"/>
<circle cx="258.84" cy="462.59" r="0.95" fill="#c4c4c4"/>
<circle cx="259.12" cy="488.9" r="0.95" fill="#c4c4c4"/>
<circle cx="255.27" cy="475.92" r="0.95" fill="#c4c4c4"/>
<circle cx="253.96" cy="470.45" r="0.95" fill="#c4c4c4"/>
<circle cx="256.82" cy="477.78" r="0.95" fill="#c4c4c4"/>
<circle cx="254.23" cy="478.81" r="0.95" fill="#c4c4c4"/>
<circle cx="255.11" cy="473.35" r="0.95" fill="#c4c4c4"/>
<circle cx="255.44" cy="481.21" r="0.95" fill="#c4c4c4"/>
<circle cx="260.01" cy="480.04" r="0.95" fill="#c4c4c4"/>
<circle cx="255.08" cy="472.45" r="0.95" fill="#c4c4c4"/>
<circle cx="260.09" cy="482.91" r="0.95" fill="#c4c4c4"/>
<circle cx="258.01" cy="470.09" r="0.95" fill="#c4c4c4"/>
<circle cx="258.79" cy="467.87" r="0.95" fill="#c4c4c4"/>
<circle cx="256.78" cy="465.35" r="0.95" fill="#c4c4c4"/>
<circle cx="258.6" cy="474.24" r="0.95" fill="#c4c4c4"/>
<circle cx="255.28" cy="468.51" r="0.95" fill="#c4c4c4"/>
<circle cx="258.3" cy="478.16" r="0.95" fill="#c4c4c4"/>
<circle cx="258.14" cy="480.15" r="0.95" fill="#c4c4c4"/>
<circle cx="256.17" cy="468.28" r="0.95" fill="#c4c4c4"/>
<circle cx="258.71" cy="473.27" r="0.95" fill="#c4c4c4"/>
<circle cx="257.63" cy="465.18" r="0.95" fill="#c4c4c4"/>
<circle cx="256.96" cy="484.46" r="0.95" fill="#c4c4c4"/>
<circle cx="256.01" cy="484.65" r="0.95" fill="#c4c4c4"/>
<circle cx="253.06" cy="474.68" r="0.95" fill="#c4c4c4"/>
<circle cx="254.48" cy="469.63" r="0.95" fill="#c4c4c4"/>
<circle cx="254.17" cy="462.2" r="0.95" fill="#c4c4c4"/>
<circle cx="260.05" cy="475.54" r="0.95" fill="#c4c4c4"/>
<circle cx="256.45" cy="479.69" r="0.95" fill="#c4c4c4"/>
<circle cx="254.44" cy="470.43" r="0.95" fill="#c4c4c4"/>
<circle cx="256.62" cy="481.71" r="0.95" fill="#c4c4c4"/>
<circle cx="256.28" cy="462" r="0.95" fill="#c4c4c4"/>
<circle cx="256.25" cy="490" r="0.95" fill="#c4c4c4"/>
<circle cx="258.49" cy="436" r="0.95" fill="#c4c4c4"/>
<circle cx="255.34" cy="445" r="0.95" fill="#c4c4c4"/>
<circle cx="258.01" cy="450" r="0.95" fill="#c4c4c4"/>
<circle cx="257.59" cy="458" r="0.95" fill="#c4c4c4"/>
<rect x="265.2" y="478" width="9.6" height="7.8" fill="#f4a6d0" stroke="#f08cc4" stroke-width="0.6" fill-opacity="0.85"/>
<line x1="264.8" y1="482.3" x2="275.2" y2="482.3" stroke="#1a1a1a" stroke-width="1.1"/>
<line x1="270" y1="470" x2="270" y2="478" stroke="#333" stroke-width="0.7"/>
<line x1="270" y1="485.8" x2="270" y2="490" stroke="#333" stroke-width="0.7"/>
<circle cx="269.68" cy="478.02" r="0.95" fill="#e6007e"/>
<circle cx="270.62" cy="487.1" r="0.95" fill="#e6007e"/>
<circle cx="269.69" cy="478.88" r="0.95" fill="#e6007e"/>
<circle cx="269.38" cy="487.1" r="0.95" fill="#e6007e"/>
<circle cx="272.38" cy="477.76" r="0.95" fill="#e6007e"/>
<circle cx="271.2" cy="475.01" r="0.95" fill="#e6007e"/>
<circle cx="271.12" cy="487.49" r="0.95" fill="#e6007e"/>
<circle cx="269.68" cy="477.32" r="0.95" fill="#e6007e"/>
<circle cx="268.63" cy="474.9" r="0.95" fill="#e6007e"/>
<circle cx="268.91" cy="478.21" r="0.95" fill="#e6007e"/>
<circle cx="271.33" cy="488.49" r="0.95" fill="#e6007e"/>
<circle cx="270.78" cy="482.95" r="0.95" fill="#e6007e"/>
<circle cx="267.8" cy="486.66" r="0.95" fill="#e6007e"/>
<circle cx="269.46" cy="487.25" r="0.95" fill="#e6007e"/>
<circle cx="271.06" cy="471.99" r="0.95" fill="#e6007e"/>
<circle cx="268.28" cy="482.13" r="0.95" fill="#e6007e"/>
<circle cx="270.31" cy="474.41" r="0.95" fill="#e6007e"/>
<circle cx="271.94" cy="485.54" r="0.95" fill="#e6007e"/>
<circle cx="271.57" cy="482.04" r="0.95" fill="#e6007e"/>
<circle cx="270.2" cy="481.11" r="0.95" fill="#e6007e"/>
<circle cx="268.34" cy="489.97" r="0.95" fill="#e6007e"/>
<circle cx="268.95" cy="489.24" r="0.95" fill="#e6007e"/>
<circle cx="269.6" cy="476.81" r="0.95" fill="#e6007e"/>
<circle cx="270.15" cy="487.73" r="0.95" fill="#e6007e"/>
<circle cx="269.26" cy="476.02" r="0.95" fill="#e6007e"/>
<circle cx="270.96" cy="486.81" r="0.95" fill="#e6007e"/>
<circle cx="272.27" cy="484.61" r="0.95" fill="#e6007e"/>
<circle cx="270.26" cy="481.46" r="0.95" fill="#e6007e"/>
<circle cx="268.25" cy="475.26" r="0.95" fill="#e6007e"/>
<circle cx="271.86" cy="487.89" r="0.95" fill="#e6007e"/>
<circle cx="267.36" cy="482.31" r="0.95" fill="#e6007e"/>
<circle cx="268.82" cy="488.9" r="0.95" fill="#e6007e"/>
<circle cx="270.98" cy="486.06" r="0.95" fill="#e6007e"/>
<circle cx="268.56" cy="489.41" r="0.95" fill="#e6007e"/>
<circle cx="272.62" cy="480.6" r="0.95" fill="#e6007e"/>
<circle cx="269.87" cy="477.13" r="0.95" fill="#e6007e"/>
<circle cx="270.35" cy="472.05" r="0.95" fill="#e6007e"/>
<circle cx="272.43" cy="486.22" r="0.95" fill="#e6007e"/>
<circle cx="267.58" cy="483.72" r="0.95" fill="#e6007e"/>
<circle cx="269.52" cy="478.8" r="0.95" fill="#e6007e"/>
<circle cx="270.98" cy="470" r="0.95" fill="#e6007e"/>
<circle cx="271.25" cy="490" r="0.95" fill="#e6007e"/>
<rect x="279.2" y="477.7" width="9.6" height="8.1" fill="#ababab" stroke="#9a9a9a" stroke-width="0.6" fill-opacity="0.85"/>
<line x1="278.8" y1="481.5" x2="289.2" y2="481.5" stroke="#1a1a1a" stroke-width="1.1"/>
<line x1="284" y1="466" x2="284" y2="477.7" stroke="#333" stroke-width="0.7"/>
<line x1="284" y1="485.8" x2="284" y2="490" stroke="#333" stroke-width="0.7"/>
<circle cx="282.36" cy="487.14" r="0.95" fill="#3f3f3f"/>
<circle cx="286.65" cy="480.32" r="0.95" fill="#3f3f3f"/>
<circle cx="282.63" cy="477.31" r="0.95" fill="#3f3f3f"/>
<circle cx="280.87" cy="482.82" r="0.95" fill="#3f3f3f"/>
<circle cx="284.22" cy="486.08" r="0.95" fill="#3f3f3f"/>
<circle cx="282.98" cy="483.05" r="0.95" fill="#3f3f3f"/>
<circle cx="284.69" cy="482.56" r="0.95" fill="#3f3f3f"/>
<circle cx="280.69" cy="484.17" r="0.95" fill="#3f3f3f"/>
<circle cx="281.76" cy="482.61" r="0.95" fill="#3f3f3f"/>
<circle cx="283.11" cy="476.71" r="0.95" fill="#3f3f3f"/>
<circle cx="282.95" cy="473.17" r="0.95" fill="#3f3f3f"/>
<circle cx="282.26" cy="477.87" r="0.95" fill="#3f3f3f"/>
<circle cx="282.81" cy="486.13" r="0.95" fill="#3f3f3f"/>
<circle cx="282.85" cy="472.93" r="0.95" fill="#3f3f3f"/>
<circle cx="284.06" cy="487.77" r="0.95" fill="#3f3f3f"/>
<circle cx="284.61" cy="489.42" r="0.95" fill="#3f3f3f"/>
<circle cx="284.96" cy="474.7" r="0.95" fill="#3f3f3f"/>
<circle cx="284.02" cy="476.2" r="0.95" fill="#3f3f3f"/>
<circle cx="284.2" cy="484.72" r="0.95" fill="#3f3f3f"/>
<circle cx="282.09" cy="484.66" r="0.95" fill="#3f3f3f"/>
<circle cx="285.48" cy="466.37" r="0.95" fill="#3f3f3f"/>
<circle cx="282.93" cy="468.72" r="0.95" fill="#3f3f3f"/>
<circle cx="284.92" cy="489.54" r="0.95" fill="#3f3f3f"/>
<circle cx="285.22" cy="472.79" r="0.95" fill="#3f3f3f"/>
<circle cx="285.9" cy="475.18" r="0.95" fill="#3f3f3f"/>
<circle cx="286.08" cy="486.25" r="0.95" fill="#3f3f3f"/>
<circle cx="287.26" cy="485.69" r="0.95" fill="#3f3f3f"/>
<circle cx="284.1" cy="483.61" r="0.95" fill="#3f3f3f"/>
<circle cx="286.45" cy="486.36" r="0.95" fill="#3f3f3f"/>
<circle cx="282.24" cy="485.86" r="0.95" fill="#3f3f3f"/>
<circle cx="284.7" cy="475.77" r="0.95" fill="#3f3f3f"/>
<circle cx="283.68" cy="489.75" r="0.95" fill="#3f3f3f"/>
<circle cx="282.37" cy="474.6" r="0.95" fill="#3f3f3f"/>
<circle cx="286" cy="477.01" r="0.95" fill="#3f3f3f"/>
<circle cx="284.3" cy="482.9" r="0.95" fill="#3f3f3f"/>
<circle cx="284.39" cy="488.13" r="0.95" fill="#3f3f3f"/>
<circle cx="284.78" cy="485.86" r="0.95" fill="#3f3f3f"/>
<circle cx="281.05" cy="481.99" r="0.95" fill="#3f3f3f"/>
<circle cx="284.29" cy="473.62" r="0.95" fill="#3f3f3f"/>
<circle cx="285.57" cy="486.9" r="0.95" fill="#3f3f3f"/>
<circle cx="280.78" cy="481.61" r="0.95" fill="#3f3f3f"/>
<circle cx="281.52" cy="479.36" r="0.95" fill="#3f3f3f"/>
<circle cx="283.82" cy="485.16" r="0.95" fill="#3f3f3f"/>
<circle cx="282.76" cy="482.2" r="0.95" fill="#3f3f3f"/>
<circle cx="284.93" cy="483.37" r="0.95" fill="#3f3f3f"/>
<circle cx="287.01" cy="477.99" r="0.95" fill="#3f3f3f"/>
<circle cx="285.62" cy="487.41" r="0.95" fill="#3f3f3f"/>
<circle cx="283.97" cy="480.63" r="0.95" fill="#3f3f3f"/>
<circle cx="282.7" cy="477.61" r="0.95" fill="#3f3f3f"/>
<circle cx="281.83" cy="489.61" r="0.95" fill="#3f3f3f"/>
<circle cx="282.69" cy="476.88" r="0.95" fill="#3f3f3f"/>
<circle cx="286.39" cy="486.92" r="0.95" fill="#3f3f3f"/>
<circle cx="284.64" cy="473.48" r="0.95" fill="#3f3f3f"/>
<circle cx="280.95" cy="480.02" r="0.95" fill="#3f3f3f"/>
<circle cx="283.42" cy="474.38" r="0.95" fill="#3f3f3f"/>
<circle cx="287.34" cy="482.91" r="0.95" fill="#3f3f3f"/>
<circle cx="282.83" cy="481.95" r="0.95" fill="#3f3f3f"/>
<circle cx="282.4" cy="489.64" r="0.95" fill="#3f3f3f"/>
<circle cx="284.32" cy="470.88" r="0.95" fill="#3f3f3f"/>
<circle cx="281.85" cy="481.52" r="0.95" fill="#3f3f3f"/>
<circle cx="281.67" cy="487.37" r="0.95" fill="#3f3f3f"/>
<circle cx="284.6" cy="469.73" r="0.95" fill="#3f3f3f"/>
<circle cx="285.8" cy="483.91" r="0.95" fill="#3f3f3f"/>
<circle cx="281.57" cy="485.21" r="0.95" fill="#3f3f3f"/>
<circle cx="285.88" cy="466.33" r="0.95" fill="#3f3f3f"/>
<circle cx="286.39" cy="483.15" r="0.95" fill="#3f3f3f"/>
<circle cx="286.88" cy="482.5" r="0.95" fill="#3f3f3f"/>
<circle cx="282.46" cy="469.35" r="0.95" fill="#3f3f3f"/>
<circle cx="282.34" cy="473.49" r="0.95" fill="#3f3f3f"/>
<circle cx="282.25" cy="487.38" r="0.95" fill="#3f3f3f"/>
<circle cx="284.2" cy="466" r="0.95" fill="#3f3f3f"/>
<circle cx="284.02" cy="490" r="0.95" fill="#3f3f3f"/>
<circle cx="283.44" cy="455" r="0.95" fill="#3f3f3f"/>
<circle cx="283.87" cy="457" r="0.95" fill="#3f3f3f"/>
<circle cx="281.7" cy="460" r="0.95" fill="#3f3f3f"/>
<rect x="297.3" y="479" width="11.2" height="7.7" fill="#fcc98c" stroke="#f9b060" stroke-width="0.6" fill-opacity="0.85"/>
<line x1="296.9" y1="483.5" x2="308.9" y2="483.5" stroke="#1a1a1a" stroke-width="1.1"/>
<line x1="302.9" y1="470" x2="302.9" y2="479" stroke="#333" stroke-width="0.7"/>
<line x1="302.9" y1="486.7" x2="302.9" y2="490" stroke="#333" stroke-width="0.7"/>
<circle cx="298.94" cy="485.37" r="0.95" fill="#f7931e"/>
<circle cx="303.41" cy="488.52" r="0.95" fill="#f7931e"/>
<circle cx="299.93" cy="479.85" r="0.95" fill="#f7931e"/>
<circle cx="304.57" cy="482.01" r="0.95" fill="#f7931e"/>
<circle cx="300.23" cy="477.98" r="0.95" fill="#f7931e"/>
<circle cx="305.19" cy="480.88" r="0.95" fill="#f7931e"/>
<circle cx="302.28" cy="486.88" r="0.95" fill="#f7931e"/>
<circle cx="305.04" cy="481.77" r="0.95" fill="#f7931e"/>
<circle cx="305.03" cy="489.14" r="0.95" fill="#f7931e"/>
<circle cx="305.22" cy="471.71" r="0.95" fill="#f7931e"/>
<circle cx="305.17" cy="474.3" r="0.95" fill="#f7931e"/>
<circle cx="305.58" cy="488.1" r="0.95" fill="#f7931e"/>
<circle cx="300.75" cy="475.08" r="0.95" fill="#f7931e"/>
<circle cx="300.35" cy="476.17" r="0.95" fill="#f7931e"/>
<circle cx="303.76" cy="482.53" r="0.95" fill="#f7931e"/>
<circle cx="302.59" cy="488.64" r="0.95" fill="#f7931e"/>
<circle cx="302.12" cy="488.11" r="0.95" fill="#f7931e"/>
<circle cx="300.4" cy="483.12" r="0.95" fill="#f7931e"/>
<circle cx="301.61" cy="485.89" r="0.95" fill="#f7931e"/>
<circle cx="301.9" cy="470.02" r="0.95" fill="#f7931e"/>
<circle cx="299.39" cy="483.04" r="0.95" fill="#f7931e"/>
<circle cx="304.7" cy="484.25" r="0.95" fill="#f7931e"/>
<circle cx="301.84" cy="489.19" r="0.95" fill="#f7931e"/>
<circle cx="301.39" cy="481.05" r="0.95" fill="#f7931e"/>
<circle cx="300.87" cy="474.73" r="0.95" fill="#f7931e"/>
<circle cx="306.66" cy="485.58" r="0.95" fill="#f7931e"/>
<circle cx="299.15" cy="480.88" r="0.95" fill="#f7931e"/>
<circle cx="300.35" cy="481.14" r="0.95" fill="#f7931e"/>
<circle cx="305.63" cy="475.53" r="0.95" fill="#f7931e"/>
<circle cx="302.66" cy="470.32" r="0.95" fill="#f7931e"/>
<circle cx="303.87" cy="470" r="0.95" fill="#f7931e"/>
<circle cx="303.45" cy="490" r="0.95" fill="#f7931e"/>
<rect x="312.7" y="479" width="11.1" height="6.8" fill="#94b3d6" stroke="#7fa2cc" stroke-width="0.6" fill-opacity="0.85"/>
<line x1="312.3" y1="482.9" x2="324.2" y2="482.9" stroke="#1a1a1a" stroke-width="1.1"/>
<line x1="318.25" y1="472" x2="318.25" y2="479" stroke="#333" stroke-width="0.7"/>
<line x1="318.25" y1="485.8" x2="318.25" y2="490" stroke="#333" stroke-width="0.7"/>
<circle cx="321.1" cy="479.46" r="0.95" fill="#1d4f8c"/>
<circle cx="315.51" cy="488.58" r="0.95" fill="#1d4f8c"/>
<circle cx="315.54" cy="487.78" r="0.95" fill="#1d4f8c"/>
<circle cx="316.1" cy="475.72" r="0.95" fill="#1d4f8c"/>
<circle cx="315.22" cy="485.06" r="0.95" fill="#1d4f8c"/>
<circle cx="319.57" cy="478.61" r="0.95" fill="#1d4f8c"/>
<circle cx="320.35" cy="476.39" r="0.95" fill="#1d4f8c"/>
<circle cx="322.05" cy="480.6" r="0.95" fill="#1d4f8c"/>
<circle cx="318" cy="484.03" r="0.95" fill="#1d4f8c"/>
<circle cx="318.84" cy="473.84" r="0.95" fill="#1d4f8c"/>
<circle cx="318.31" cy="475.58" r="0.95" fill="#1d4f8c"/>
<circle cx="319.3" cy="476.25" r="0.95" fill="#1d4f8c"/>
<circle cx="317.9" cy="484.05" r="0.95" fill="#1d4f8c"/>
<circle cx="320" cy="478.73" r="0.95" fill="#1d4f8c"/>
<circle cx="317.66" cy="488.18" r="0.95" fill="#1d4f8c"/>
<circle cx="317.11" cy="480.02" r="0.95" fill="#1d4f8c"/>
<circle cx="315.82" cy="487.96" r="0.95" fill="#1d4f8c"/>
<circle cx="315.46" cy="484.42" r="0.95" fill="#1d4f8c"/>
<circle cx="319.77" cy="476.21" r="0.95" fill="#1d4f8c"/>
<circle cx="321.35" cy="481.5" r="0.95" fill="#1d4f8c"/>
<circle cx="315.43" cy="487.71" r="0.95" fill="#1d4f8c"/>
<circle cx="315.34" cy="480.13" r="0.95" fill="#1d4f8c"/>
<circle cx="320.24" cy="483.2" r="0.95" fill="#1d4f8c"/>
<circle cx="317.94" cy="486.7" r="0.95" fill="#1d4f8c"/>
<circle cx="317.3" cy="486.75" r="0.95" fill="#1d4f8c"/>
<circle cx="315.58" cy="486.26" r="0.95" fill="#1d4f8c"/>
<circle cx="320.57" cy="485" r="0.95" fill="#1d4f8c"/>
<circle cx="318.08" cy="489.73" r="0.95" fill="#1d4f8c"/>
<circle cx="321.58" cy="484.89" r="0.95" fill="#1d4f8c"/>
<circle cx="321.64" cy="481.63" r="0.95" fill="#1d4f8c"/>
<circle cx="319.19" cy="481.3" r="0.95" fill="#1d4f8c"/>
<circle cx="320.61" cy="481.06" r="0.95" fill="#1d4f8c"/>
<circle cx="318.52" cy="486.39" r="0.95" fill="#1d4f8c"/>
<circle cx="318.66" cy="485.52" r="0.95" fill="#1d4f8c"/>
<circle cx="315.6" cy="479.93" r="0.95" fill="#1d4f8c"/>
<circle cx="318.98" cy="472" r="0.95" fill="#1d4f8c"/>
<circle cx="319.03" cy="490" r="0.95" fill="#1d4f8c"/>
<circle cx="317.43" cy="460" r="0.95" fill="#1d4f8c"/>
<circle cx="317.85" cy="464" r="0.95" fill="#1d4f8c"/>
<rect x="328" y="474.6" width="11.2" height="9.6" fill="#c6c6c6" stroke="#b5b5b5" stroke-width="0.6" fill-opacity="0.85"/>
<line x1="327.6" y1="480.4" x2="339.6" y2="480.4" stroke="#1a1a1a" stroke-width="1.1"/>
<line x1="333.6" y1="462" x2="333.6" y2="474.6" stroke="#333" stroke-width="0.7"/>
<line x1="333.6" y1="484.2" x2="333.6" y2="490" stroke="#333" stroke-width="0.7"/>
<circle cx="330.52" cy="479.24" r="0.95" fill="#909090"/>
<circle cx="333.58" cy="472.41" r="0.95" fill="#909090"/>
<circle cx="332.81" cy="472.24" r="0.95" fill="#909090"/>
<circle cx="334.21" cy="489.37" r="0.95" fill="#909090"/>
<circle cx="334.26" cy="487.67" r="0.95" fill="#909090"/>
<circle cx="336.34" cy="468.67" r="0.95" fill="#909090"/>
<circle cx="334.46" cy="470.89" r="0.95" fill="#909090"/>
<circle cx="334.46" cy="474.43" r="0.95" fill="#909090"/>
<circle cx="332.41" cy="484.16" r="0.95" fill="#909090"/>
<circle cx="336.37" cy="483.81" r="0.95" fill="#909090"/>
<circle cx="334.43" cy="469.85" r="0.95" fill="#909090"/>
<circle cx="336.01" cy="479.04" r="0.95" fill="#909090"/>
<circle cx="332.01" cy="483.52" r="0.95" fill="#909090"/>
<circle cx="334.71" cy="483.43" r="0.95" fill="#909090"/>
<circle cx="330.25" cy="483.14" r="0.95" fill="#909090"/>
<circle cx="336.65" cy="480.7" r="0.95" fill="#909090"/>
<circle cx="333.39" cy="475.12" r="0.95" fill="#909090"/>
<circle cx="331.81" cy="478.43" r="0.95" fill="#909090"/>
<circle cx="330.86" cy="487.91" r="0.95" fill="#909090"/>
<circle cx="331.11" cy="482.53" r="0.95" fill="#909090"/>
<circle cx="334.2" cy="471.98" r="0.95" fill="#909090"/>
<circle cx="332.55" cy="469.54" r="0.95" fill="#909090"/>
<circle cx="336.35" cy="466.46" r="0.95" fill="#909090"/>
<circle cx="336.06" cy="474.19" r="0.95" fill="#909090"/>
<circle cx="336.08" cy="476.98" r="0.95" fill="#909090"/>
<circle cx="331.23" cy="484.76" r="0.95" fill="#909090"/>
<circle cx="330.83" cy="478.67" r="0.95" fill="#909090"/>
<circle cx="336.26" cy="466.5" r="0.95" fill="#909090"/>
<circle cx="334.45" cy="472.99" r="0.95" fill="#909090"/>
<circle cx="330.84" cy="482.31" r="0.95" fill="#909090"/>
<circle cx="333.1" cy="469.58" r="0.95" fill="#909090"/>
<circle cx="334.16" cy="477.81" r="0.95" fill="#909090"/>
<circle cx="335.49" cy="469.41" r="0.95" fill="#909090"/>
<circle cx="331.62" cy="462.59" r="0.95" fill="#909090"/>
<circle cx="333.32" cy="477.5" r="0.95" fill="#909090"/>
<circle cx="332.32" cy="487.79" r="0.95" fill="#909090"/>
<circle cx="335.37" cy="473.39" r="0.95" fill="#909090"/>
<circle cx="335.84" cy="484.74" r="0.95" fill="#909090"/>
<circle cx="334.13" cy="471.69" r="0.95" fill="#909090"/>
<circle cx="331.87" cy="472.75" r="0.95" fill="#909090"/>
<circle cx="332.19" cy="485.05" r="0.95" fill="#909090"/>
<circle cx="331.16" cy="483.55" r="0.95" fill="#909090"/>
<circle cx="334.26" cy="482.9" r="0.95" fill="#909090"/>
<circle cx="332.9" cy="489.05" r="0.95" fill="#909090"/>
<circle cx="331.73" cy="489.87" r="0.95" fill="#909090"/>
<circle cx="331.9" cy="487.6" r="0.95" fill="#909090"/>
<circle cx="335.93" cy="464.91" r="0.95" fill="#909090"/>
<circle cx="333.45" cy="464.59" r="0.95" fill="#909090"/>
<circle cx="334.46" cy="465.04" r="0.95" fill="#909090"/>
<circle cx="333.25" cy="481.69" r="0.95" fill="#909090"/>
<circle cx="332.84" cy="472.59" r="0.95" fill="#909090"/>
<circle cx="332.2" cy="475.79" r="0.95" fill="#909090"/>
<circle cx="331.53" cy="469.71" r="0.95" fill="#909090"/>
<circle cx="330.88" cy="466.53" r="0.95" fill="#909090"/>
<circle cx="335.57" cy="473.87" r="0.95" fill="#909090"/>
<circle cx="332.5" cy="466.65" r="0.95" fill="#909090"/>
<circle cx="332.91" cy="489.07" r="0.95" fill="#909090"/>
<circle cx="335.15" cy="462.19" r="0.95" fill="#909090"/>
<circle cx="330.24" cy="478.27" r="0.95" fill="#909090"/>
<circle cx="332.52" cy="467.51" r="0.95" fill="#909090"/>
<circle cx="333.21" cy="479.88" r="0.95" fill="#909090"/>
<circle cx="333.44" cy="474.15" r="0.95" fill="#909090"/>
<circle cx="336.99" cy="479.41" r="0.95" fill="#909090"/>
<circle cx="330.95" cy="475.98" r="0.95" fill="#909090"/>
<circle cx="331.39" cy="484.48" r="0.95" fill="#909090"/>
<circle cx="334.65" cy="467.2" r="0.95" fill="#909090"/>
<circle cx="335.92" cy="485.42" r="0.95" fill="#909090"/>
<circle cx="331.87" cy="478.02" r="0.95" fill="#909090"/>
<circle cx="332.95" cy="480.25" r="0.95" fill="#909090"/>
<circle cx="331.1" cy="469.1" r="0.95" fill="#909090"/>
<circle cx="334.95" cy="472.71" r="0.95" fill="#909090"/>
<circle cx="329.98" cy="480.78" r="0.95" fill="#909090"/>
<circle cx="333.97" cy="483.04" r="0.95" fill="#909090"/>
<circle cx="329.7" cy="474.78" r="0.95" fill="#909090"/>
<circle cx="332.28" cy="477.97" r="0.95" fill="#909090"/>
<circle cx="329.99" cy="476.19" r="0.95" fill="#909090"/>
<circle cx="332.42" cy="484.47" r="0.95" fill="#909090"/>
<circle cx="330.8" cy="468.06" r="0.95" fill="#909090"/>
<circle cx="333.81" cy="475.29" r="0.95" fill="#909090"/>
<circle cx="333.93" cy="471.9" r="0.95" fill="#909090"/>
<circle cx="332.69" cy="486.55" r="0.95" fill="#909090"/>
<circle cx="335.56" cy="467.31" r="0.95" fill="#909090"/>
<circle cx="335.42" cy="480.14" r="0.95" fill="#909090"/>
<circle cx="334.06" cy="471.55" r="0.95" fill="#909090"/>
<circle cx="336.17" cy="482.58" r="0.95" fill="#909090"/>
<circle cx="334.67" cy="462" r="0.95" fill="#909090"/>
<circle cx="332.26" cy="490" r="0.95" fill="#909090"/>
<circle cx="334.86" cy="442" r="0.95" fill="#909090"/>
<circle cx="334.18" cy="446" r="0.95" fill="#909090"/>
<circle cx="334.09" cy="450" r="0.95" fill="#909090"/>
<circle cx="335.64" cy="455" r="0.95" fill="#909090"/>
<circle cx="331.35" cy="458" r="0.95" fill="#909090"/>
<circle cx="333.48" cy="460" r="0.95" fill="#909090"/>
<path d="M208.5 420.6V492.4H245.4" stroke="#1a1a1a" stroke-width="1.15" fill="none"/>
<path d="M247.9 420.6V492.4H290.2" stroke="#1a1a1a" stroke-width="1.15" fill="none"/>
<path d="M293.5 420.6V492.4H341.2" stroke="#1a1a1a" stroke-width="1.15" fill="none"/>
<rect x="383.9" y="475.9" width="13" height="11.8" fill="#cacaca" stroke="#b8b8b8" stroke-width="0.6" fill-opacity="0.85"/>
<line x1="383.5" y1="482.5" x2="397.3" y2="482.5" stroke="#1a1a1a" stroke-width="1.1"/>
<line x1="390.4" y1="469" x2="390.4" y2="475.9" stroke="#333" stroke-width="0.7"/>
<line x1="390.4" y1="487.7" x2="390.4" y2="491" stroke="#333" stroke-width="0.7"/>
<circle cx="390.99" cy="487.66" r="0.95" fill="#a0a0a0"/>
<circle cx="391.99" cy="489.31" r="0.95" fill="#a0a0a0"/>
<circle cx="393.99" cy="480.77" r="0.95" fill="#a0a0a0"/>
<circle cx="392.96" cy="474.06" r="0.95" fill="#a0a0a0"/>
<circle cx="392.36" cy="481.91" r="0.95" fill="#a0a0a0"/>
<circle cx="386.29" cy="486.18" r="0.95" fill="#a0a0a0"/>
<circle cx="390.21" cy="480.17" r="0.95" fill="#a0a0a0"/>
<circle cx="386.7" cy="482.09" r="0.95" fill="#a0a0a0"/>
<circle cx="389.89" cy="486.78" r="0.95" fill="#a0a0a0"/>
<circle cx="392.01" cy="480.63" r="0.95" fill="#a0a0a0"/>
<circle cx="390.22" cy="471.83" r="0.95" fill="#a0a0a0"/>
<circle cx="393.32" cy="470.27" r="0.95" fill="#a0a0a0"/>
<circle cx="388.01" cy="485.61" r="0.95" fill="#a0a0a0"/>
<circle cx="391.74" cy="476.75" r="0.95" fill="#a0a0a0"/>
<circle cx="386.57" cy="481.81" r="0.95" fill="#a0a0a0"/>
<circle cx="392.56" cy="484.16" r="0.95" fill="#a0a0a0"/>
<circle cx="388.66" cy="488.95" r="0.95" fill="#a0a0a0"/>
<circle cx="394.12" cy="484.23" r="0.95" fill="#a0a0a0"/>
<circle cx="390.14" cy="479.93" r="0.95" fill="#a0a0a0"/>
<circle cx="388.26" cy="483.68" r="0.95" fill="#a0a0a0"/>
<circle cx="391.5" cy="471.73" r="0.95" fill="#a0a0a0"/>
<circle cx="394.81" cy="479.22" r="0.95" fill="#a0a0a0"/>
<circle cx="387.84" cy="478.57" r="0.95" fill="#a0a0a0"/>
<circle cx="393.59" cy="476.12" r="0.95" fill="#a0a0a0"/>
<circle cx="386.42" cy="487.57" r="0.95" fill="#a0a0a0"/>
<circle cx="392.67" cy="471.91" r="0.95" fill="#a0a0a0"/>
<circle cx="392.56" cy="485.61" r="0.95" fill="#a0a0a0"/>
<circle cx="394.08" cy="483.37" r="0.95" fill="#a0a0a0"/>
<circle cx="391.52" cy="469.63" r="0.95" fill="#a0a0a0"/>
<circle cx="389.16" cy="486.96" r="0.95" fill="#a0a0a0"/>
<circle cx="391.91" cy="490.55" r="0.95" fill="#a0a0a0"/>
<circle cx="389.94" cy="476.52" r="0.95" fill="#a0a0a0"/>
<circle cx="390.85" cy="483.95" r="0.95" fill="#a0a0a0"/>
<circle cx="388.68" cy="471.74" r="0.95" fill="#a0a0a0"/>
<circle cx="392.23" cy="484.18" r="0.95" fill="#a0a0a0"/>
<circle cx="393.84" cy="481.67" r="0.95" fill="#a0a0a0"/>
<circle cx="392.57" cy="480.84" r="0.95" fill="#a0a0a0"/>
<circle cx="386.39" cy="477.47" r="0.95" fill="#a0a0a0"/>
<circle cx="387.39" cy="489.05" r="0.95" fill="#a0a0a0"/>
<circle cx="391.12" cy="475.36" r="0.95" fill="#a0a0a0"/>
<circle cx="394.99" cy="478.34" r="0.95" fill="#a0a0a0"/>
<circle cx="391.7" cy="483.65" r="0.95" fill="#a0a0a0"/>
<circle cx="385.76" cy="475.93" r="0.95" fill="#a0a0a0"/>
<circle cx="391.57" cy="476.91" r="0.95" fill="#a0a0a0"/>
<circle cx="392.24" cy="472.66" r="0.95" fill="#a0a0a0"/>
<circle cx="389.43" cy="487.04" r="0.95" fill="#a0a0a0"/>
<circle cx="393.73" cy="471.42" r="0.95" fill="#a0a0a0"/>
<circle cx="386.63" cy="480.35" r="0.95" fill="#a0a0a0"/>
<circle cx="391.32" cy="478.8" r="0.95" fill="#a0a0a0"/>
<circle cx="393.23" cy="485.37" r="0.95" fill="#a0a0a0"/>
<circle cx="390.61" cy="488.43" r="0.95" fill="#a0a0a0"/>
<circle cx="385.85" cy="481.65" r="0.95" fill="#a0a0a0"/>
<circle cx="390.32" cy="488.47" r="0.95" fill="#a0a0a0"/>
<circle cx="388.21" cy="477.9" r="0.95" fill="#a0a0a0"/>
<circle cx="388.94" cy="490.22" r="0.95" fill="#a0a0a0"/>
<circle cx="392.93" cy="485.86" r="0.95" fill="#a0a0a0"/>
<circle cx="392.03" cy="472.27" r="0.95" fill="#a0a0a0"/>
<circle cx="392.7" cy="474.16" r="0.95" fill="#a0a0a0"/>
<circle cx="391.03" cy="483.34" r="0.95" fill="#a0a0a0"/>
<circle cx="391.38" cy="477.25" r="0.95" fill="#a0a0a0"/>
<circle cx="388.84" cy="489.38" r="0.95" fill="#a0a0a0"/>
<circle cx="391.98" cy="479.91" r="0.95" fill="#a0a0a0"/>
<circle cx="387.76" cy="484.79" r="0.95" fill="#a0a0a0"/>
<circle cx="391.94" cy="476.27" r="0.95" fill="#a0a0a0"/>
<circle cx="394.99" cy="477.53" r="0.95" fill="#a0a0a0"/>
<circle cx="392.59" cy="488.61" r="0.95" fill="#a0a0a0"/>
<circle cx="387.69" cy="487.95" r="0.95" fill="#a0a0a0"/>
<circle cx="386.91" cy="479.21" r="0.95" fill="#a0a0a0"/>
<circle cx="393.14" cy="482.06" r="0.95" fill="#a0a0a0"/>
<circle cx="390.37" cy="490.4" r="0.95" fill="#a0a0a0"/>
<circle cx="385.98" cy="482.42" r="0.95" fill="#a0a0a0"/>
<circle cx="394.38" cy="485.2" r="0.95" fill="#a0a0a0"/>
<circle cx="392.94" cy="480.07" r="0.95" fill="#a0a0a0"/>
<circle cx="389.82" cy="474.76" r="0.95" fill="#a0a0a0"/>
<circle cx="394.04" cy="481.3" r="0.95" fill="#a0a0a0"/>
<circle cx="392.23" cy="489.87" r="0.95" fill="#a0a0a0"/>
<circle cx="394.74" cy="482.68" r="0.95" fill="#a0a0a0"/>
<circle cx="394.91" cy="482.95" r="0.95" fill="#a0a0a0"/>
<circle cx="386.18" cy="487.51" r="0.95" fill="#a0a0a0"/>
<circle cx="391.54" cy="484.57" r="0.95" fill="#a0a0a0"/>
<circle cx="387.79" cy="480.61" r="0.95" fill="#a0a0a0"/>
<circle cx="389.86" cy="472.41" r="0.95" fill="#a0a0a0"/>
<circle cx="393.45" cy="488.84" r="0.95" fill="#a0a0a0"/>
<circle cx="387.72" cy="487.72" r="0.95" fill="#a0a0a0"/>
<circle cx="387.36" cy="490.59" r="0.95" fill="#a0a0a0"/>
<circle cx="388.59" cy="472.6" r="0.95" fill="#a0a0a0"/>
<circle cx="388.67" cy="489.79" r="0.95" fill="#a0a0a0"/>
<circle cx="393.26" cy="490.72" r="0.95" fill="#a0a0a0"/>
<circle cx="387.37" cy="469.82" r="0.95" fill="#a0a0a0"/>
<circle cx="388.48" cy="485.35" r="0.95" fill="#a0a0a0"/>
<circle cx="387.58" cy="488.87" r="0.95" fill="#a0a0a0"/>
<circle cx="387.63" cy="480.69" r="0.95" fill="#a0a0a0"/>
<circle cx="387.67" cy="472.59" r="0.95" fill="#a0a0a0"/>
<circle cx="387.4" cy="473.64" r="0.95" fill="#a0a0a0"/>
<circle cx="393.42" cy="485.02" r="0.95" fill="#a0a0a0"/>
<circle cx="389.68" cy="475.88" r="0.95" fill="#a0a0a0"/>
<circle cx="390.74" cy="482.76" r="0.95" fill="#a0a0a0"/>
<circle cx="387.81" cy="478.01" r="0.95" fill="#a0a0a0"/>
<circle cx="390.76" cy="475.17" r="0.95" fill="#a0a0a0"/>
<circle cx="387.36" cy="489.07" r="0.95" fill="#a0a0a0"/>
<circle cx="392.98" cy="490.5" r="0.95" fill="#a0a0a0"/>
<circle cx="394.93" cy="483.34" r="0.95" fill="#a0a0a0"/>
<circle cx="388.43" cy="490.81" r="0.95" fill="#a0a0a0"/>
<circle cx="392.45" cy="469.58" r="0.95" fill="#a0a0a0"/>
<circle cx="391.73" cy="478.07" r="0.95" fill="#a0a0a0"/>
<circle cx="391.37" cy="473.1" r="0.95" fill="#a0a0a0"/>
<circle cx="393.46" cy="483.16" r="0.95" fill="#a0a0a0"/>
<circle cx="390.34" cy="469.99" r="0.95" fill="#a0a0a0"/>
<circle cx="392.49" cy="489.95" r="0.95" fill="#a0a0a0"/>
<circle cx="392.62" cy="473.46" r="0.95" fill="#a0a0a0"/>
<circle cx="391.32" cy="469" r="0.95" fill="#a0a0a0"/>
<circle cx="389.55" cy="491" r="0.95" fill="#a0a0a0"/>
<circle cx="389.63" cy="438" r="0.95" fill="#a0a0a0"/>
<rect x="401.2" y="476.8" width="12.7" height="9.5" fill="#ee9aaa" stroke="#e888a0" stroke-width="0.6" fill-opacity="0.85"/>
<line x1="400.8" y1="484.2" x2="414.3" y2="484.2" stroke="#1a1a1a" stroke-width="1.1"/>
<line x1="407.55" y1="453" x2="407.55" y2="476.8" stroke="#333" stroke-width="0.7"/>
<line x1="407.55" y1="486.3" x2="407.55" y2="491" stroke="#333" stroke-width="0.7"/>
<circle cx="410.76" cy="488.53" r="0.95" fill="#c8102e"/>
<circle cx="410.65" cy="470.89" r="0.95" fill="#c8102e"/>
<circle cx="410.08" cy="490.35" r="0.95" fill="#c8102e"/>
<circle cx="403.56" cy="482.83" r="0.95" fill="#c8102e"/>
<circle cx="404.31" cy="481.65" r="0.95" fill="#c8102e"/>
<circle cx="404.78" cy="487.45" r="0.95" fill="#c8102e"/>
<circle cx="409.88" cy="489.16" r="0.95" fill="#c8102e"/>
<circle cx="407.16" cy="473.29" r="0.95" fill="#c8102e"/>
<circle cx="406.94" cy="488.98" r="0.95" fill="#c8102e"/>
<circle cx="405.04" cy="454.5" r="0.95" fill="#c8102e"/>
<circle cx="409.71" cy="456.27" r="0.95" fill="#c8102e"/>
<circle cx="405.3" cy="490.42" r="0.95" fill="#c8102e"/>
<circle cx="410.66" cy="477.31" r="0.95" fill="#c8102e"/>
<circle cx="403.42" cy="477.93" r="0.95" fill="#c8102e"/>
<circle cx="407.1" cy="475.98" r="0.95" fill="#c8102e"/>
<circle cx="405.35" cy="480.8" r="0.95" fill="#c8102e"/>
<circle cx="410.39" cy="488.22" r="0.95" fill="#c8102e"/>
<circle cx="403.24" cy="484.57" r="0.95" fill="#c8102e"/>
<circle cx="410.94" cy="485.45" r="0.95" fill="#c8102e"/>
<circle cx="405.88" cy="466.72" r="0.95" fill="#c8102e"/>
<circle cx="405.54" cy="477.82" r="0.95" fill="#c8102e"/>
<circle cx="405.34" cy="481.17" r="0.95" fill="#c8102e"/>
<circle cx="406.14" cy="477.49" r="0.95" fill="#c8102e"/>
<circle cx="408.09" cy="470.32" r="0.95" fill="#c8102e"/>
<circle cx="404.01" cy="480.4" r="0.95" fill="#c8102e"/>
<circle cx="404.91" cy="487.44" r="0.95" fill="#c8102e"/>
<circle cx="404.28" cy="479.18" r="0.95" fill="#c8102e"/>
<circle cx="411.51" cy="483.2" r="0.95" fill="#c8102e"/>
<circle cx="408.23" cy="466.54" r="0.95" fill="#c8102e"/>
<circle cx="405.94" cy="477.27" r="0.95" fill="#c8102e"/>
<circle cx="408.19" cy="477.48" r="0.95" fill="#c8102e"/>
<circle cx="409.01" cy="475.04" r="0.95" fill="#c8102e"/>
<circle cx="404.43" cy="472.84" r="0.95" fill="#c8102e"/>
<circle cx="407.86" cy="471.25" r="0.95" fill="#c8102e"/>
<circle cx="408.25" cy="489.89" r="0.95" fill="#c8102e"/>
<circle cx="408.03" cy="480.13" r="0.95" fill="#c8102e"/>
<circle cx="405.06" cy="475.8" r="0.95" fill="#c8102e"/>
<circle cx="406.18" cy="472.63" r="0.95" fill="#c8102e"/>
<circle cx="405.43" cy="476.21" r="0.95" fill="#c8102e"/>
<circle cx="403.76" cy="483.27" r="0.95" fill="#c8102e"/>
<circle cx="404.75" cy="483.32" r="0.95" fill="#c8102e"/>
<circle cx="408.49" cy="487.11" r="0.95" fill="#c8102e"/>
<circle cx="408.37" cy="489.04" r="0.95" fill="#c8102e"/>
<circle cx="407.22" cy="479.55" r="0.95" fill="#c8102e"/>
<circle cx="404.95" cy="480.23" r="0.95" fill="#c8102e"/>
<circle cx="408.32" cy="467.17" r="0.95" fill="#c8102e"/>
<circle cx="409.32" cy="474.06" r="0.95" fill="#c8102e"/>
<circle cx="409.69" cy="478.79" r="0.95" fill="#c8102e"/>
<circle cx="405.47" cy="489.78" r="0.95" fill="#c8102e"/>
<circle cx="412.08" cy="483.24" r="0.95" fill="#c8102e"/>
<circle cx="403.14" cy="481.87" r="0.95" fill="#c8102e"/>
<circle cx="409.55" cy="486.27" r="0.95" fill="#c8102e"/>
<circle cx="409.76" cy="485.8" r="0.95" fill="#c8102e"/>
<circle cx="408.44" cy="476.54" r="0.95" fill="#c8102e"/>
<circle cx="403.81" cy="479.54" r="0.95" fill="#c8102e"/>
<circle cx="408.89" cy="476.08" r="0.95" fill="#c8102e"/>
<circle cx="404.5" cy="482.63" r="0.95" fill="#c8102e"/>
<circle cx="411.1" cy="481.44" r="0.95" fill="#c8102e"/>
<circle cx="407.66" cy="487.1" r="0.95" fill="#c8102e"/>
<circle cx="404.83" cy="487.62" r="0.95" fill="#c8102e"/>
<circle cx="411.29" cy="484.95" r="0.95" fill="#c8102e"/>
<circle cx="404.48" cy="478.94" r="0.95" fill="#c8102e"/>
<circle cx="407.01" cy="478.03" r="0.95" fill="#c8102e"/>
<circle cx="407.36" cy="490.18" r="0.95" fill="#c8102e"/>
<circle cx="406.38" cy="486.8" r="0.95" fill="#c8102e"/>
<circle cx="408.2" cy="474.66" r="0.95" fill="#c8102e"/>
<circle cx="404.55" cy="470.16" r="0.95" fill="#c8102e"/>
<circle cx="407.44" cy="479.89" r="0.95" fill="#c8102e"/>
<circle cx="407.14" cy="487.06" r="0.95" fill="#c8102e"/>
<circle cx="408.22" cy="488.67" r="0.95" fill="#c8102e"/>
<circle cx="410.25" cy="478.17" r="0.95" fill="#c8102e"/>
<circle cx="405.15" cy="478.53" r="0.95" fill="#c8102e"/>
<circle cx="405.31" cy="477.88" r="0.95" fill="#c8102e"/>
<circle cx="406.97" cy="482.3" r="0.95" fill="#c8102e"/>
<circle cx="405.4" cy="483.66" r="0.95" fill="#c8102e"/>
<circle cx="408.26" cy="477.35" r="0.95" fill="#c8102e"/>
<circle cx="407.87" cy="486.99" r="0.95" fill="#c8102e"/>
<circle cx="403.82" cy="480.48" r="0.95" fill="#c8102e"/>
<circle cx="409.65" cy="486.59" r="0.95" fill="#c8102e"/>
<circle cx="403.25" cy="484.43" r="0.95" fill="#c8102e"/>
<circle cx="404.38" cy="473.08" r="0.95" fill="#c8102e"/>
<circle cx="406.33" cy="454.27" r="0.95" fill="#c8102e"/>
<circle cx="410.79" cy="482.13" r="0.95" fill="#c8102e"/>
<circle cx="405.17" cy="478.36" r="0.95" fill="#c8102e"/>
<circle cx="411.43" cy="480.7" r="0.95" fill="#c8102e"/>
<circle cx="404.81" cy="484.65" r="0.95" fill="#c8102e"/>
<circle cx="408.35" cy="486.19" r="0.95" fill="#c8102e"/>
<circle cx="407.59" cy="457.46" r="0.95" fill="#c8102e"/>
<circle cx="405.06" cy="478.71" r="0.95" fill="#c8102e"/>
<circle cx="410.82" cy="473.75" r="0.95" fill="#c8102e"/>
<circle cx="412.09" cy="477.93" r="0.95" fill="#c8102e"/>
<circle cx="403.75" cy="479.64" r="0.95" fill="#c8102e"/>
<circle cx="403.92" cy="483.92" r="0.95" fill="#c8102e"/>
<circle cx="405.54" cy="465.91" r="0.95" fill="#c8102e"/>
<circle cx="404.32" cy="485.05" r="0.95" fill="#c8102e"/>
<circle cx="410.82" cy="476.3" r="0.95" fill="#c8102e"/>
<circle cx="408.89" cy="475.65" r="0.95" fill="#c8102e"/>
<circle cx="409.44" cy="487.27" r="0.95" fill="#c8102e"/>
<circle cx="404.15" cy="484.84" r="0.95" fill="#c8102e"/>
<circle cx="404.67" cy="480.84" r="0.95" fill="#c8102e"/>
<circle cx="406.94" cy="480.49" r="0.95" fill="#c8102e"/>
<circle cx="410.01" cy="481.47" r="0.95" fill="#c8102e"/>
<circle cx="409" cy="481.16" r="0.95" fill="#c8102e"/>
<circle cx="408.79" cy="486.42" r="0.95" fill="#c8102e"/>
<circle cx="406.56" cy="477.42" r="0.95" fill="#c8102e"/>
<circle cx="408.37" cy="453" r="0.95" fill="#c8102e"/>
<circle cx="406.07" cy="491" r="0.95" fill="#c8102e"/>
<circle cx="407.46" cy="452" r="0.95" fill="#c8102e"/>
<circle cx="407.61" cy="454" r="0.95" fill="#c8102e"/>
<circle cx="405.79" cy="457" r="0.95" fill="#c8102e"/>
<circle cx="408.71" cy="459" r="0.95" fill="#c8102e"/>
<circle cx="406.32" cy="462" r="0.95" fill="#c8102e"/>
<circle cx="407.07" cy="465" r="0.95" fill="#c8102e"/>
<circle cx="406.29" cy="467" r="0.95" fill="#c8102e"/>
<circle cx="408.04" cy="469" r="0.95" fill="#c8102e"/>
<circle cx="407.2" cy="471" r="0.95" fill="#c8102e"/>
<circle cx="408.47" cy="473" r="0.95" fill="#c8102e"/>
<rect x="422" y="476.1" width="11.2" height="8.1" fill="#ffffff" stroke="#5a5a5a" stroke-width="0.6" fill-opacity="0.85"/>
<line x1="421.6" y1="480.2" x2="433.6" y2="480.2" stroke="#1a1a1a" stroke-width="1.1"/>
<line x1="427.6" y1="466" x2="427.6" y2="476.1" stroke="#333" stroke-width="0.7"/>
<line x1="427.6" y1="484.2" x2="427.6" y2="489" stroke="#333" stroke-width="0.7"/>
<circle cx="429.89" cy="479.28" r="0.95" fill="#c4c4c4"/>
<circle cx="426.16" cy="485.93" r="0.95" fill="#c4c4c4"/>
<circle cx="430.21" cy="484.65" r="0.95" fill="#c4c4c4"/>
<circle cx="428.64" cy="479.95" r="0.95" fill="#c4c4c4"/>
<circle cx="424.83" cy="467.29" r="0.95" fill="#c4c4c4"/>
<circle cx="431.35" cy="476.58" r="0.95" fill="#c4c4c4"/>
<circle cx="428.91" cy="481.01" r="0.95" fill="#c4c4c4"/>
<circle cx="426.05" cy="484.52" r="0.95" fill="#c4c4c4"/>
<circle cx="427.67" cy="480.69" r="0.95" fill="#c4c4c4"/>
<circle cx="428.2" cy="475.68" r="0.95" fill="#c4c4c4"/>
<circle cx="425.08" cy="481.13" r="0.95" fill="#c4c4c4"/>
<circle cx="428.37" cy="482.35" r="0.95" fill="#c4c4c4"/>
<circle cx="428.45" cy="474.93" r="0.95" fill="#c4c4c4"/>
<circle cx="429.59" cy="474.14" r="0.95" fill="#c4c4c4"/>
<circle cx="429.51" cy="467.78" r="0.95" fill="#c4c4c4"/>
<circle cx="425.56" cy="477.29" r="0.95" fill="#c4c4c4"/>
<circle cx="428.25" cy="485.39" r="0.95" fill="#c4c4c4"/>
<circle cx="428.22" cy="472.86" r="0.95" fill="#c4c4c4"/>
<circle cx="429.19" cy="480.55" r="0.95" fill="#c4c4c4"/>
<circle cx="426.54" cy="485.49" r="0.95" fill="#c4c4c4"/>
<circle cx="428.37" cy="473.95" r="0.95" fill="#c4c4c4"/>
<circle cx="429.76" cy="482.33" r="0.95" fill="#c4c4c4"/>
<circle cx="427.19" cy="477.64" r="0.95" fill="#c4c4c4"/>
<circle cx="430.26" cy="477.06" r="0.95" fill="#c4c4c4"/>
<circle cx="427.93" cy="475.8" r="0.95" fill="#c4c4c4"/>
<circle cx="425.81" cy="479.6" r="0.95" fill="#c4c4c4"/>
<circle cx="431.24" cy="480.88" r="0.95" fill="#c4c4c4"/>
<circle cx="429.3" cy="488.87" r="0.95" fill="#c4c4c4"/>
<circle cx="424.12" cy="481.75" r="0.95" fill="#c4c4c4"/>
<circle cx="429.49" cy="488.84" r="0.95" fill="#c4c4c4"/>
<circle cx="425.01" cy="476.7" r="0.95" fill="#c4c4c4"/>
<circle cx="427.58" cy="485.24" r="0.95" fill="#c4c4c4"/>
<circle cx="425.9" cy="483.6" r="0.95" fill="#c4c4c4"/>
<circle cx="424.04" cy="483.23" r="0.95" fill="#c4c4c4"/>
<circle cx="428.3" cy="483.92" r="0.95" fill="#c4c4c4"/>
<circle cx="428.9" cy="467.38" r="0.95" fill="#c4c4c4"/>
<circle cx="429.78" cy="487.28" r="0.95" fill="#c4c4c4"/>
<circle cx="428.18" cy="471.57" r="0.95" fill="#c4c4c4"/>
<circle cx="431.18" cy="479.37" r="0.95" fill="#c4c4c4"/>
<circle cx="425.23" cy="478.46" r="0.95" fill="#c4c4c4"/>
<circle cx="427.9" cy="471.72" r="0.95" fill="#c4c4c4"/>
<circle cx="427.43" cy="471.38" r="0.95" fill="#c4c4c4"/>
<circle cx="425.56" cy="475.29" r="0.95" fill="#c4c4c4"/>
<circle cx="425.38" cy="486.79" r="0.95" fill="#c4c4c4"/>
<circle cx="427.03" cy="487.74" r="0.95" fill="#c4c4c4"/>
<circle cx="428.81" cy="466" r="0.95" fill="#c4c4c4"/>
<circle cx="427.93" cy="489" r="0.95" fill="#c4c4c4"/>
<circle cx="428.39" cy="440" r="0.95" fill="#c4c4c4"/>
<circle cx="426.53" cy="453" r="0.95" fill="#c4c4c4"/>
<circle cx="429.59" cy="456" r="0.95" fill="#c4c4c4"/>
<rect x="436.2" y="477.7" width="10.1" height="7.1" fill="#f4a6d0" stroke="#f08cc4" stroke-width="0.6" fill-opacity="0.85"/>
<line x1="435.8" y1="482.2" x2="446.7" y2="482.2" stroke="#1a1a1a" stroke-width="1.1"/>
<line x1="441.25" y1="472" x2="441.25" y2="477.7" stroke="#333" stroke-width="0.7"/>
<line x1="441.25" y1="484.8" x2="441.25" y2="488" stroke="#333" stroke-width="0.7"/>
<circle cx="444.54" cy="484.5" r="0.95" fill="#e6007e"/>
<circle cx="438.91" cy="478.82" r="0.95" fill="#e6007e"/>
<circle cx="440.61" cy="485.21" r="0.95" fill="#e6007e"/>
<circle cx="440.52" cy="486.67" r="0.95" fill="#e6007e"/>
<circle cx="442.8" cy="472.53" r="0.95" fill="#e6007e"/>
<circle cx="444.7" cy="480.84" r="0.95" fill="#e6007e"/>
<circle cx="442.33" cy="476.59" r="0.95" fill="#e6007e"/>
<circle cx="440.79" cy="475.69" r="0.95" fill="#e6007e"/>
<circle cx="440.35" cy="486.92" r="0.95" fill="#e6007e"/>
<circle cx="437.67" cy="484.39" r="0.95" fill="#e6007e"/>
<circle cx="441.17" cy="487.31" r="0.95" fill="#e6007e"/>
<circle cx="442.21" cy="484.78" r="0.95" fill="#e6007e"/>
<circle cx="441.86" cy="485.55" r="0.95" fill="#e6007e"/>
<circle cx="440.05" cy="487.94" r="0.95" fill="#e6007e"/>
<circle cx="444.58" cy="480.57" r="0.95" fill="#e6007e"/>
<circle cx="442.49" cy="482.51" r="0.95" fill="#e6007e"/>
<circle cx="442.42" cy="486.48" r="0.95" fill="#e6007e"/>
<circle cx="442.64" cy="484.54" r="0.95" fill="#e6007e"/>
<circle cx="438.9" cy="483.67" r="0.95" fill="#e6007e"/>
<circle cx="438.94" cy="483.16" r="0.95" fill="#e6007e"/>
<circle cx="441.43" cy="483.15" r="0.95" fill="#e6007e"/>
<circle cx="438.77" cy="483.03" r="0.95" fill="#e6007e"/>
<circle cx="439.36" cy="485.05" r="0.95" fill="#e6007e"/>
<circle cx="441.3" cy="479.41" r="0.95" fill="#e6007e"/>
<circle cx="443.58" cy="481.29" r="0.95" fill="#e6007e"/>
<circle cx="443.63" cy="483.12" r="0.95" fill="#e6007e"/>
<circle cx="439.44" cy="475.08" r="0.95" fill="#e6007e"/>
<circle cx="443.88" cy="487.8" r="0.95" fill="#e6007e"/>
<circle cx="441.09" cy="481.4" r="0.95" fill="#e6007e"/>
<circle cx="442.19" cy="486.22" r="0.95" fill="#e6007e"/>
<circle cx="442.63" cy="472.64" r="0.95" fill="#e6007e"/>
<circle cx="440.13" cy="474.84" r="0.95" fill="#e6007e"/>
<circle cx="440.47" cy="477.71" r="0.95" fill="#e6007e"/>
<circle cx="443.68" cy="472.21" r="0.95" fill="#e6007e"/>
<circle cx="441.57" cy="481.62" r="0.95" fill="#e6007e"/>
<circle cx="439.17" cy="474.19" r="0.95" fill="#e6007e"/>
<circle cx="442.06" cy="480.17" r="0.95" fill="#e6007e"/>
<circle cx="442.38" cy="479.33" r="0.95" fill="#e6007e"/>
<circle cx="441.17" cy="478.1" r="0.95" fill="#e6007e"/>
<circle cx="439.38" cy="480.39" r="0.95" fill="#e6007e"/>
<circle cx="441.9" cy="472" r="0.95" fill="#e6007e"/>
<circle cx="440.25" cy="488" r="0.95" fill="#e6007e"/>
<rect x="449.3" y="475.7" width="10.5" height="10.1" fill="#ababab" stroke="#9a9a9a" stroke-width="0.6" fill-opacity="0.85"/>
<line x1="448.9" y1="482.2" x2="460.2" y2="482.2" stroke="#1a1a1a" stroke-width="1.1"/>
<line x1="454.55" y1="459" x2="454.55" y2="475.7" stroke="#333" stroke-width="0.7"/>
<line x1="454.55" y1="485.8" x2="454.55" y2="490" stroke="#333" stroke-width="0.7"/>
<circle cx="458.29" cy="481.77" r="0.95" fill="#3f3f3f"/>
<circle cx="458.09" cy="480.86" r="0.95" fill="#3f3f3f"/>
<circle cx="453.98" cy="468.93" r="0.95" fill="#3f3f3f"/>
<circle cx="452.82" cy="483.59" r="0.95" fill="#3f3f3f"/>
<circle cx="454.6" cy="480.52" r="0.95" fill="#3f3f3f"/>
<circle cx="452.25" cy="466.85" r="0.95" fill="#3f3f3f"/>
<circle cx="454.48" cy="477.61" r="0.95" fill="#3f3f3f"/>
<circle cx="452.26" cy="478.05" r="0.95" fill="#3f3f3f"/>
<circle cx="454.67" cy="484.77" r="0.95" fill="#3f3f3f"/>
<circle cx="455.38" cy="489.29" r="0.95" fill="#3f3f3f"/>
<circle cx="454.6" cy="486.9" r="0.95" fill="#3f3f3f"/>
<circle cx="452.02" cy="480.73" r="0.95" fill="#3f3f3f"/>
<circle cx="451.08" cy="484.03" r="0.95" fill="#3f3f3f"/>
<circle cx="455.46" cy="486.53" r="0.95" fill="#3f3f3f"/>
<circle cx="454.31" cy="489.98" r="0.95" fill="#3f3f3f"/>
<circle cx="455.68" cy="479.76" r="0.95" fill="#3f3f3f"/>
<circle cx="453.1" cy="481.96" r="0.95" fill="#3f3f3f"/>
<circle cx="455.1" cy="488.94" r="0.95" fill="#3f3f3f"/>
<circle cx="456.18" cy="486.54" r="0.95" fill="#3f3f3f"/>
<circle cx="455.3" cy="469.44" r="0.95" fill="#3f3f3f"/>
<circle cx="452.43" cy="471.24" r="0.95" fill="#3f3f3f"/>
<circle cx="455.26" cy="473.24" r="0.95" fill="#3f3f3f"/>
<circle cx="456.42" cy="489.47" r="0.95" fill="#3f3f3f"/>
<circle cx="450.84" cy="485.67" r="0.95" fill="#3f3f3f"/>
<circle cx="452.01" cy="474.98" r="0.95" fill="#3f3f3f"/>
<circle cx="453.28" cy="489" r="0.95" fill="#3f3f3f"/>
<circle cx="456.78" cy="489.88" r="0.95" fill="#3f3f3f"/>
<circle cx="455.37" cy="488.69" r="0.95" fill="#3f3f3f"/>
<circle cx="458.15" cy="482.74" r="0.95" fill="#3f3f3f"/>
<circle cx="454.26" cy="473.03" r="0.95" fill="#3f3f3f"/>
<circle cx="457.88" cy="484.66" r="0.95" fill="#3f3f3f"/>
<circle cx="456.71" cy="472.16" r="0.95" fill="#3f3f3f"/>
<circle cx="455.32" cy="481.14" r="0.95" fill="#3f3f3f"/>
<circle cx="458.03" cy="483.74" r="0.95" fill="#3f3f3f"/>
<circle cx="452.04" cy="480.07" r="0.95" fill="#3f3f3f"/>
<circle cx="454.21" cy="469.26" r="0.95" fill="#3f3f3f"/>
<circle cx="456.32" cy="481.06" r="0.95" fill="#3f3f3f"/>
<circle cx="453.57" cy="489.49" r="0.95" fill="#3f3f3f"/>
<circle cx="456.39" cy="488.97" r="0.95" fill="#3f3f3f"/>
<circle cx="454.35" cy="488.02" r="0.95" fill="#3f3f3f"/>
<circle cx="457" cy="484.64" r="0.95" fill="#3f3f3f"/>
<circle cx="451.15" cy="482.98" r="0.95" fill="#3f3f3f"/>
<circle cx="454.78" cy="488.34" r="0.95" fill="#3f3f3f"/>
<circle cx="453.48" cy="488" r="0.95" fill="#3f3f3f"/>
<circle cx="453.82" cy="487.18" r="0.95" fill="#3f3f3f"/>
<circle cx="455.5" cy="489.61" r="0.95" fill="#3f3f3f"/>
<circle cx="456.41" cy="477.51" r="0.95" fill="#3f3f3f"/>
<circle cx="455.26" cy="478.45" r="0.95" fill="#3f3f3f"/>
<circle cx="457.66" cy="485.12" r="0.95" fill="#3f3f3f"/>
<circle cx="456.15" cy="473.1" r="0.95" fill="#3f3f3f"/>
<circle cx="451.74" cy="481.07" r="0.95" fill="#3f3f3f"/>
<circle cx="453.93" cy="469.87" r="0.95" fill="#3f3f3f"/>
<circle cx="453.34" cy="485.53" r="0.95" fill="#3f3f3f"/>
<circle cx="452.11" cy="473.23" r="0.95" fill="#3f3f3f"/>
<circle cx="451.87" cy="487.05" r="0.95" fill="#3f3f3f"/>
<circle cx="454.29" cy="472.41" r="0.95" fill="#3f3f3f"/>
<circle cx="455.35" cy="489.9" r="0.95" fill="#3f3f3f"/>
<circle cx="455.52" cy="487.22" r="0.95" fill="#3f3f3f"/>
<circle cx="456.13" cy="460.44" r="0.95" fill="#3f3f3f"/>
<circle cx="456.82" cy="486.46" r="0.95" fill="#3f3f3f"/>
<circle cx="454.59" cy="489.51" r="0.95" fill="#3f3f3f"/>
<circle cx="452.75" cy="475.52" r="0.95" fill="#3f3f3f"/>
<circle cx="453.4" cy="466.22" r="0.95" fill="#3f3f3f"/>
<circle cx="452.09" cy="474.7" r="0.95" fill="#3f3f3f"/>
<circle cx="457.75" cy="484.85" r="0.95" fill="#3f3f3f"/>
<circle cx="455.27" cy="484.68" r="0.95" fill="#3f3f3f"/>
<circle cx="451.83" cy="476.39" r="0.95" fill="#3f3f3f"/>
<circle cx="453.85" cy="486.47" r="0.95" fill="#3f3f3f"/>
<circle cx="453.97" cy="483.49" r="0.95" fill="#3f3f3f"/>
<circle cx="457.82" cy="479.4" r="0.95" fill="#3f3f3f"/>
<circle cx="454.91" cy="459" r="0.95" fill="#3f3f3f"/>
<circle cx="453.64" cy="490" r="0.95" fill="#3f3f3f"/>
<circle cx="454.34" cy="458" r="0.95" fill="#3f3f3f"/>
<circle cx="452.12" cy="461" r="0.95" fill="#3f3f3f"/>
<circle cx="454.62" cy="464" r="0.95" fill="#3f3f3f"/>
<circle cx="452.4" cy="467" r="0.95" fill="#3f3f3f"/>
<circle cx="452.74" cy="470" r="0.95" fill="#3f3f3f"/>
<rect x="468.5" y="477.7" width="12.2" height="8.1" fill="#fcc98c" stroke="#f9b060" stroke-width="0.6" fill-opacity="0.85"/>
<line x1="468.1" y1="482.8" x2="481.1" y2="482.8" stroke="#1a1a1a" stroke-width="1.1"/>
<line x1="474.6" y1="471" x2="474.6" y2="477.7" stroke="#333" stroke-width="0.7"/>
<line x1="474.6" y1="485.8" x2="474.6" y2="489" stroke="#333" stroke-width="0.7"/>
<circle cx="475.33" cy="478.61" r="0.95" fill="#f7931e"/>
<circle cx="476.38" cy="481.78" r="0.95" fill="#f7931e"/>
<circle cx="472.52" cy="487.24" r="0.95" fill="#f7931e"/>
<circle cx="478.22" cy="480.87" r="0.95" fill="#f7931e"/>
<circle cx="473.81" cy="480.8" r="0.95" fill="#f7931e"/>
<circle cx="472.61" cy="477.44" r="0.95" fill="#f7931e"/>
<circle cx="472.34" cy="487.85" r="0.95" fill="#f7931e"/>
<circle cx="470.45" cy="479.14" r="0.95" fill="#f7931e"/>
<circle cx="477.84" cy="479.99" r="0.95" fill="#f7931e"/>
<circle cx="472.93" cy="485.44" r="0.95" fill="#f7931e"/>
<circle cx="475.62" cy="479.4" r="0.95" fill="#f7931e"/>
<circle cx="472.3" cy="478.5" r="0.95" fill="#f7931e"/>
<circle cx="471.98" cy="474.89" r="0.95" fill="#f7931e"/>
<circle cx="478.63" cy="481.31" r="0.95" fill="#f7931e"/>
<circle cx="471.46" cy="487.8" r="0.95" fill="#f7931e"/>
<circle cx="470.8" cy="479.36" r="0.95" fill="#f7931e"/>
<circle cx="471.54" cy="486.91" r="0.95" fill="#f7931e"/>
<circle cx="478.33" cy="478.31" r="0.95" fill="#f7931e"/>
<circle cx="474.6" cy="483.32" r="0.95" fill="#f7931e"/>
<circle cx="476.36" cy="476.5" r="0.95" fill="#f7931e"/>
<circle cx="471.73" cy="482.45" r="0.95" fill="#f7931e"/>
<circle cx="472.15" cy="477.01" r="0.95" fill="#f7931e"/>
<circle cx="477.31" cy="482.72" r="0.95" fill="#f7931e"/>
<circle cx="475.82" cy="477.37" r="0.95" fill="#f7931e"/>
<circle cx="475.43" cy="477.71" r="0.95" fill="#f7931e"/>
<circle cx="477.4" cy="475.48" r="0.95" fill="#f7931e"/>
<circle cx="471.88" cy="480.42" r="0.95" fill="#f7931e"/>
<circle cx="475.8" cy="479.07" r="0.95" fill="#f7931e"/>
<circle cx="473.94" cy="475.15" r="0.95" fill="#f7931e"/>
<circle cx="476.27" cy="479.83" r="0.95" fill="#f7931e"/>
<circle cx="476.02" cy="471" r="0.95" fill="#f7931e"/>
<circle cx="473.38" cy="489" r="0.95" fill="#f7931e"/>
<rect x="483.7" y="481.8" width="12.1" height="5" fill="#94b3d6" stroke="#7fa2cc" stroke-width="0.6" fill-opacity="0.85"/>
<line x1="483.3" y1="484.2" x2="496.2" y2="484.2" stroke="#1a1a1a" stroke-width="1.1"/>
<line x1="489.75" y1="477" x2="489.75" y2="481.8" stroke="#333" stroke-width="0.7"/>
<line x1="489.75" y1="486.8" x2="489.75" y2="490" stroke="#333" stroke-width="0.7"/>
<circle cx="490.74" cy="484.56" r="0.95" fill="#1d4f8c"/>
<circle cx="492.83" cy="479.63" r="0.95" fill="#1d4f8c"/>
<circle cx="489.18" cy="484.04" r="0.95" fill="#1d4f8c"/>
<circle cx="492.88" cy="480.75" r="0.95" fill="#1d4f8c"/>
<circle cx="491.75" cy="478.11" r="0.95" fill="#1d4f8c"/>
<circle cx="488.03" cy="478.16" r="0.95" fill="#1d4f8c"/>
<circle cx="490.3" cy="488.93" r="0.95" fill="#1d4f8c"/>
<circle cx="492.42" cy="480.26" r="0.95" fill="#1d4f8c"/>
<circle cx="490.47" cy="487.73" r="0.95" fill="#1d4f8c"/>
<circle cx="493.28" cy="483.31" r="0.95" fill="#1d4f8c"/>
<circle cx="492.75" cy="487.37" r="0.95" fill="#1d4f8c"/>
<circle cx="492.62" cy="489.17" r="0.95" fill="#1d4f8c"/>
<circle cx="486.9" cy="483.87" r="0.95" fill="#1d4f8c"/>
<circle cx="490.36" cy="485.94" r="0.95" fill="#1d4f8c"/>
<circle cx="491.37" cy="485.17" r="0.95" fill="#1d4f8c"/>
<circle cx="486.47" cy="485.52" r="0.95" fill="#1d4f8c"/>
<circle cx="489.97" cy="487.81" r="0.95" fill="#1d4f8c"/>
<circle cx="485.6" cy="483.75" r="0.95" fill="#1d4f8c"/>
<circle cx="488.38" cy="485.16" r="0.95" fill="#1d4f8c"/>
<circle cx="492.52" cy="477.99" r="0.95" fill="#1d4f8c"/>
<circle cx="492.6" cy="480.07" r="0.95" fill="#1d4f8c"/>
<circle cx="491.57" cy="479.21" r="0.95" fill="#1d4f8c"/>
<circle cx="487.13" cy="483.53" r="0.95" fill="#1d4f8c"/>
<circle cx="491.71" cy="483.14" r="0.95" fill="#1d4f8c"/>
<circle cx="489.21" cy="478.51" r="0.95" fill="#1d4f8c"/>
<circle cx="491.02" cy="484.93" r="0.95" fill="#1d4f8c"/>
<circle cx="490.92" cy="485.52" r="0.95" fill="#1d4f8c"/>
<circle cx="488.9" cy="487.92" r="0.95" fill="#1d4f8c"/>
<circle cx="490.37" cy="488.01" r="0.95" fill="#1d4f8c"/>
<circle cx="487.47" cy="479.29" r="0.95" fill="#1d4f8c"/>
<circle cx="488.01" cy="488.44" r="0.95" fill="#1d4f8c"/>
<circle cx="488.49" cy="486.72" r="0.95" fill="#1d4f8c"/>
<circle cx="488.29" cy="487.2" r="0.95" fill="#1d4f8c"/>
<circle cx="491.63" cy="486.52" r="0.95" fill="#1d4f8c"/>
<circle cx="489.94" cy="487.21" r="0.95" fill="#1d4f8c"/>
<circle cx="488.53" cy="477" r="0.95" fill="#1d4f8c"/>
<circle cx="489.1" cy="490" r="0.95" fill="#1d4f8c"/>
<circle cx="489.5" cy="464" r="0.95" fill="#1d4f8c"/>
<rect x="498.8" y="471.7" width="12.2" height="13.1" fill="#c6c6c6" stroke="#b5b5b5" stroke-width="0.6" fill-opacity="0.85"/>
<line x1="498.4" y1="480.8" x2="511.4" y2="480.8" stroke="#1a1a1a" stroke-width="1.1"/>
<line x1="504.9" y1="455" x2="504.9" y2="471.7" stroke="#333" stroke-width="0.7"/>
<line x1="504.9" y1="484.8" x2="504.9" y2="490" stroke="#333" stroke-width="0.7"/>
<circle cx="503.85" cy="467.71" r="0.95" fill="#909090"/>
<circle cx="503.06" cy="461.82" r="0.95" fill="#909090"/>
<circle cx="502.2" cy="476.13" r="0.95" fill="#909090"/>
<circle cx="507.03" cy="485.95" r="0.95" fill="#909090"/>
<circle cx="505.42" cy="485.23" r="0.95" fill="#909090"/>
<circle cx="504.32" cy="470.32" r="0.95" fill="#909090"/>
<circle cx="503.33" cy="486.4" r="0.95" fill="#909090"/>
<circle cx="505.57" cy="477.28" r="0.95" fill="#909090"/>
<circle cx="502.88" cy="459.4" r="0.95" fill="#909090"/>
<circle cx="506.08" cy="486.5" r="0.95" fill="#909090"/>
<circle cx="503.72" cy="485.16" r="0.95" fill="#909090"/>
<circle cx="507.02" cy="485.62" r="0.95" fill="#909090"/>
<circle cx="500.75" cy="482" r="0.95" fill="#909090"/>
<circle cx="504.27" cy="479.35" r="0.95" fill="#909090"/>
<circle cx="507.27" cy="457.13" r="0.95" fill="#909090"/>
<circle cx="507.96" cy="478.19" r="0.95" fill="#909090"/>
<circle cx="503.29" cy="458.68" r="0.95" fill="#909090"/>
<circle cx="506.26" cy="486.48" r="0.95" fill="#909090"/>
<circle cx="507.85" cy="463.77" r="0.95" fill="#909090"/>
<circle cx="505.29" cy="481.26" r="0.95" fill="#909090"/>
<circle cx="508.09" cy="483.95" r="0.95" fill="#909090"/>
<circle cx="509.16" cy="483.86" r="0.95" fill="#909090"/>
<circle cx="500.84" cy="473.95" r="0.95" fill="#909090"/>
<circle cx="507.01" cy="476.19" r="0.95" fill="#909090"/>
<circle cx="503.12" cy="484.23" r="0.95" fill="#909090"/>
<circle cx="505.07" cy="469.49" r="0.95" fill="#909090"/>
<circle cx="507.84" cy="477.94" r="0.95" fill="#909090"/>
<circle cx="503.58" cy="484.55" r="0.95" fill="#909090"/>
<circle cx="500.92" cy="475.8" r="0.95" fill="#909090"/>
<circle cx="507.69" cy="481.16" r="0.95" fill="#909090"/>
<circle cx="506.63" cy="488.09" r="0.95" fill="#909090"/>
<circle cx="501.34" cy="483.77" r="0.95" fill="#909090"/>
<circle cx="503.82" cy="476.18" r="0.95" fill="#909090"/>
<circle cx="507.05" cy="478.33" r="0.95" fill="#909090"/>
<circle cx="506.49" cy="488.53" r="0.95" fill="#909090"/>
<circle cx="502.83" cy="487.63" r="0.95" fill="#909090"/>
<circle cx="508.27" cy="480.38" r="0.95" fill="#909090"/>
<circle cx="503.98" cy="489.79" r="0.95" fill="#909090"/>
<circle cx="503.91" cy="478.38" r="0.95" fill="#909090"/>
<circle cx="506.9" cy="467.99" r="0.95" fill="#909090"/>
<circle cx="505.52" cy="484.37" r="0.95" fill="#909090"/>
<circle cx="502.42" cy="479.53" r="0.95" fill="#909090"/>
<circle cx="506.25" cy="488.86" r="0.95" fill="#909090"/>
<circle cx="502.32" cy="463.73" r="0.95" fill="#909090"/>
<circle cx="506.21" cy="487.78" r="0.95" fill="#909090"/>
<circle cx="508.27" cy="476.64" r="0.95" fill="#909090"/>
<circle cx="504.89" cy="473.78" r="0.95" fill="#909090"/>
<circle cx="508.02" cy="485.37" r="0.95" fill="#909090"/>
<circle cx="506.38" cy="458.88" r="0.95" fill="#909090"/>
<circle cx="504.83" cy="489.47" r="0.95" fill="#909090"/>
<circle cx="503.27" cy="486.74" r="0.95" fill="#909090"/>
<circle cx="507.74" cy="486.55" r="0.95" fill="#909090"/>
<circle cx="504.46" cy="486.37" r="0.95" fill="#909090"/>
<circle cx="505.61" cy="466.49" r="0.95" fill="#909090"/>
<circle cx="507.48" cy="470.45" r="0.95" fill="#909090"/>
<circle cx="503.73" cy="468.26" r="0.95" fill="#909090"/>
<circle cx="504.3" cy="480.39" r="0.95" fill="#909090"/>
<circle cx="505.39" cy="481.07" r="0.95" fill="#909090"/>
<circle cx="503.53" cy="476.29" r="0.95" fill="#909090"/>
<circle cx="501.41" cy="472.18" r="0.95" fill="#909090"/>
<circle cx="504.67" cy="467.94" r="0.95" fill="#909090"/>
<circle cx="503.45" cy="489.3" r="0.95" fill="#909090"/>
<circle cx="505.96" cy="475.64" r="0.95" fill="#909090"/>
<circle cx="506" cy="483.97" r="0.95" fill="#909090"/>
<circle cx="507.28" cy="483.17" r="0.95" fill="#909090"/>
<circle cx="503.43" cy="466.94" r="0.95" fill="#909090"/>
<circle cx="506.14" cy="476.86" r="0.95" fill="#909090"/>
<circle cx="503.4" cy="478.39" r="0.95" fill="#909090"/>
<circle cx="506.06" cy="484.47" r="0.95" fill="#909090"/>
<circle cx="501.73" cy="465.6" r="0.95" fill="#909090"/>
<circle cx="502.36" cy="464.66" r="0.95" fill="#909090"/>
<circle cx="507.53" cy="474.96" r="0.95" fill="#909090"/>
<circle cx="503.59" cy="469.79" r="0.95" fill="#909090"/>
<circle cx="501.91" cy="468.86" r="0.95" fill="#909090"/>
<circle cx="509.16" cy="472.2" r="0.95" fill="#909090"/>
<circle cx="505.69" cy="473.91" r="0.95" fill="#909090"/>
<circle cx="504.2" cy="466.79" r="0.95" fill="#909090"/>
<circle cx="503.07" cy="482.23" r="0.95" fill="#909090"/>
<circle cx="501.54" cy="479.32" r="0.95" fill="#909090"/>
<circle cx="509.2" cy="476.74" r="0.95" fill="#909090"/>
<circle cx="502.32" cy="472.71" r="0.95" fill="#909090"/>
<circle cx="501.84" cy="466.33" r="0.95" fill="#909090"/>
<circle cx="502.49" cy="485.69" r="0.95" fill="#909090"/>
<circle cx="504.68" cy="481.8" r="0.95" fill="#909090"/>
<circle cx="507.75" cy="485.33" r="0.95" fill="#909090"/>
<circle cx="506.35" cy="455" r="0.95" fill="#909090"/>
<circle cx="506.14" cy="490" r="0.95" fill="#909090"/>
<circle cx="503.08" cy="452" r="0.95" fill="#909090"/>
<circle cx="503.41" cy="455" r="0.95" fill="#909090"/>
<circle cx="506.79" cy="458" r="0.95" fill="#909090"/>
<circle cx="502.48" cy="461" r="0.95" fill="#909090"/>
<circle cx="503.14" cy="464" r="0.95" fill="#909090"/>
<circle cx="505.65" cy="467" r="0.95" fill="#909090"/>
<circle cx="507.22" cy="470" r="0.95" fill="#909090"/>
<path d="M380.5 420.6V492.4H416.6" stroke="#1a1a1a" stroke-width="1.15" fill="none"/>
<path d="M418.6 420.6V492.4H462.5" stroke="#1a1a1a" stroke-width="1.15" fill="none"/>
<path d="M464.5 420.6V492.4H513.6" stroke="#1a1a1a" stroke-width="1.15" fill="none"/>
<rect x="48.4" y="535.7" width="13" height="12.1" fill="#cacaca" stroke="#b8b8b8" stroke-width="0.6" fill-opacity="0.85"/>
<line x1="48" y1="542" x2="61.8" y2="542" stroke="#1a1a1a" stroke-width="1.1"/>
<line x1="54.9" y1="523" x2="54.9" y2="535.7" stroke="#333" stroke-width="0.7"/>
<line x1="54.9" y1="547.8" x2="54.9" y2="560" stroke="#333" stroke-width="0.7"/>
<circle cx="58.12" cy="544.22" r="0.95" fill="#a0a0a0"/>
<circle cx="58.64" cy="539.75" r="0.95" fill="#a0a0a0"/>
<circle cx="56.79" cy="543.25" r="0.95" fill="#a0a0a0"/>
<circle cx="55.39" cy="525.68" r="0.95" fill="#a0a0a0"/>
<circle cx="54.41" cy="540.1" r="0.95" fill="#a0a0a0"/>
<circle cx="56.86" cy="541.08" r="0.95" fill="#a0a0a0"/>
<circle cx="53.04" cy="556.32" r="0.95" fill="#a0a0a0"/>
<circle cx="58.36" cy="535.71" r="0.95" fill="#a0a0a0"/>
<circle cx="57.25" cy="553.07" r="0.95" fill="#a0a0a0"/>
<circle cx="52.99" cy="526.86" r="0.95" fill="#a0a0a0"/>
<circle cx="58.74" cy="545.83" r="0.95" fill="#a0a0a0"/>
<circle cx="56.88" cy="528.1" r="0.95" fill="#a0a0a0"/>
<circle cx="58.22" cy="529.07" r="0.95" fill="#a0a0a0"/>
<circle cx="57.05" cy="527.01" r="0.95" fill="#a0a0a0"/>
<circle cx="56.58" cy="539.11" r="0.95" fill="#a0a0a0"/>
<circle cx="50.5" cy="544.68" r="0.95" fill="#a0a0a0"/>
<circle cx="57.86" cy="537.26" r="0.95" fill="#a0a0a0"/>
<circle cx="52.63" cy="551.27" r="0.95" fill="#a0a0a0"/>
<circle cx="52.6" cy="555.4" r="0.95" fill="#a0a0a0"/>
<circle cx="52.98" cy="529.39" r="0.95" fill="#a0a0a0"/>
<circle cx="56.78" cy="546.45" r="0.95" fill="#a0a0a0"/>
<circle cx="58.79" cy="540.42" r="0.95" fill="#a0a0a0"/>
<circle cx="58.14" cy="536.23" r="0.95" fill="#a0a0a0"/>
<circle cx="58.75" cy="545.56" r="0.95" fill="#a0a0a0"/>
<circle cx="56.41" cy="548.03" r="0.95" fill="#a0a0a0"/>
<circle cx="54.09" cy="536.59" r="0.95" fill="#a0a0a0"/>
<circle cx="56.94" cy="553.82" r="0.95" fill="#a0a0a0"/>
<circle cx="57.04" cy="525.92" r="0.95" fill="#a0a0a0"/>
<circle cx="54.13" cy="527.8" r="0.95" fill="#a0a0a0"/>
<circle cx="57.33" cy="553.21" r="0.95" fill="#a0a0a0"/>
<circle cx="57.39" cy="541.57" r="0.95" fill="#a0a0a0"/>
<circle cx="51.99" cy="533.26" r="0.95" fill="#a0a0a0"/>
<circle cx="55.27" cy="532.85" r="0.95" fill="#a0a0a0"/>
<circle cx="53.98" cy="546.78" r="0.95" fill="#a0a0a0"/>
<circle cx="52.83" cy="548.57" r="0.95" fill="#a0a0a0"/>
<circle cx="54.14" cy="535.08" r="0.95" fill="#a0a0a0"/>
<circle cx="58.04" cy="529.56" r="0.95" fill="#a0a0a0"/>
<circle cx="54.91" cy="531.54" r="0.95" fill="#a0a0a0"/>
<circle cx="54.91" cy="553.29" r="0.95" fill="#a0a0a0"/>
<circle cx="51.89" cy="536.76" r="0.95" fill="#a0a0a0"/>
<circle cx="54.42" cy="529.97" r="0.95" fill="#a0a0a0"/>
<circle cx="53.68" cy="542.96" r="0.95" fill="#a0a0a0"/>
<circle cx="59.22" cy="535.75" r="0.95" fill="#a0a0a0"/>
<circle cx="56.81" cy="549.45" r="0.95" fill="#a0a0a0"/>
<circle cx="53.7" cy="537.16" r="0.95" fill="#a0a0a0"/>
<circle cx="54.76" cy="528.73" r="0.95" fill="#a0a0a0"/>
<circle cx="55.21" cy="541.9" r="0.95" fill="#a0a0a0"/>
<circle cx="55.01" cy="531.63" r="0.95" fill="#a0a0a0"/>
<circle cx="56.1" cy="532.45" r="0.95" fill="#a0a0a0"/>
<circle cx="50.67" cy="542.38" r="0.95" fill="#a0a0a0"/>
<circle cx="54.55" cy="541.99" r="0.95" fill="#a0a0a0"/>
<circle cx="58.04" cy="554.3" r="0.95" fill="#a0a0a0"/>
<circle cx="52.28" cy="533.82" r="0.95" fill="#a0a0a0"/>
<circle cx="52.85" cy="534.53" r="0.95" fill="#a0a0a0"/>
<circle cx="57.36" cy="535.69" r="0.95" fill="#a0a0a0"/>
<circle cx="59.32" cy="538.32" r="0.95" fill="#a0a0a0"/>
<circle cx="55.41" cy="527.1" r="0.95" fill="#a0a0a0"/>
<circle cx="54.5" cy="523.44" r="0.95" fill="#a0a0a0"/>
<circle cx="56.59" cy="530.07" r="0.95" fill="#a0a0a0"/>
<circle cx="52.33" cy="539.52" r="0.95" fill="#a0a0a0"/>
<circle cx="57.3" cy="558.91" r="0.95" fill="#a0a0a0"/>
<circle cx="53.49" cy="533.45" r="0.95" fill="#a0a0a0"/>
<circle cx="55.27" cy="533.58" r="0.95" fill="#a0a0a0"/>
<circle cx="56.93" cy="534.87" r="0.95" fill="#a0a0a0"/>
<circle cx="57.65" cy="533.86" r="0.95" fill="#a0a0a0"/>
<circle cx="51.89" cy="536.76" r="0.95" fill="#a0a0a0"/>
<circle cx="57.19" cy="538.11" r="0.95" fill="#a0a0a0"/>
<circle cx="56.21" cy="534.11" r="0.95" fill="#a0a0a0"/>
<circle cx="57.54" cy="527.73" r="0.95" fill="#a0a0a0"/>
<circle cx="54.14" cy="526.64" r="0.95" fill="#a0a0a0"/>
<circle cx="54.99" cy="539.93" r="0.95" fill="#a0a0a0"/>
<circle cx="56.29" cy="538.39" r="0.95" fill="#a0a0a0"/>
<circle cx="53.42" cy="526.2" r="0.95" fill="#a0a0a0"/>
<circle cx="55.89" cy="550.7" r="0.95" fill="#a0a0a0"/>
<circle cx="54.16" cy="531.91" r="0.95" fill="#a0a0a0"/>
<circle cx="57.27" cy="538.32" r="0.95" fill="#a0a0a0"/>
<circle cx="58.46" cy="536.84" r="0.95" fill="#a0a0a0"/>
<circle cx="52.4" cy="550.53" r="0.95" fill="#a0a0a0"/>
<circle cx="55.91" cy="538.66" r="0.95" fill="#a0a0a0"/>
<circle cx="55.24" cy="546.81" r="0.95" fill="#a0a0a0"/>
<circle cx="56.39" cy="530.01" r="0.95" fill="#a0a0a0"/>
<circle cx="57.11" cy="531.2" r="0.95" fill="#a0a0a0"/>
<circle cx="50.98" cy="539.09" r="0.95" fill="#a0a0a0"/>
<circle cx="56.59" cy="538.5" r="0.95" fill="#a0a0a0"/>
<circle cx="54.84" cy="549.44" r="0.95" fill="#a0a0a0"/>
<circle cx="59.31" cy="540.06" r="0.95" fill="#a0a0a0"/>
<circle cx="53.97" cy="531.05" r="0.95" fill="#a0a0a0"/>
<circle cx="54.51" cy="556.06" r="0.95" fill="#a0a0a0"/>
<circle cx="53.18" cy="557.29" r="0.95" fill="#a0a0a0"/>
<circle cx="51.96" cy="553.33" r="0.95" fill="#a0a0a0"/>
<circle cx="53.72" cy="550.88" r="0.95" fill="#a0a0a0"/>
<circle cx="51.72" cy="525.5" r="0.95" fill="#a0a0a0"/>
<circle cx="58.19" cy="548.66" r="0.95" fill="#a0a0a0"/>
<circle cx="53.97" cy="549.01" r="0.95" fill="#a0a0a0"/>
<circle cx="53.79" cy="543.72" r="0.95" fill="#a0a0a0"/>
<circle cx="52.76" cy="531.66" r="0.95" fill="#a0a0a0"/>
<circle cx="55.62" cy="543.68" r="0.95" fill="#a0a0a0"/>
<circle cx="52.21" cy="541.36" r="0.95" fill="#a0a0a0"/>
<circle cx="52.32" cy="531.79" r="0.95" fill="#a0a0a0"/>
<circle cx="52.95" cy="533.68" r="0.95" fill="#a0a0a0"/>
<circle cx="53.05" cy="546.79" r="0.95" fill="#a0a0a0"/>
<circle cx="54.26" cy="538.19" r="0.95" fill="#a0a0a0"/>
<circle cx="57.29" cy="556.71" r="0.95" fill="#a0a0a0"/>
<circle cx="51.28" cy="538.88" r="0.95" fill="#a0a0a0"/>
<circle cx="59.06" cy="537.48" r="0.95" fill="#a0a0a0"/>
<circle cx="57.4" cy="534.21" r="0.95" fill="#a0a0a0"/>
<circle cx="57.18" cy="531.84" r="0.95" fill="#a0a0a0"/>
<circle cx="54.31" cy="551.9" r="0.95" fill="#a0a0a0"/>
<circle cx="55.01" cy="529.79" r="0.95" fill="#a0a0a0"/>
<circle cx="57.55" cy="558.1" r="0.95" fill="#a0a0a0"/>
<circle cx="54.11" cy="523" r="0.95" fill="#a0a0a0"/>
<circle cx="55.73" cy="560" r="0.95" fill="#a0a0a0"/>
<rect x="65.4" y="540.3" width="12.5" height="11.4" fill="#ee9aaa" stroke="#e888a0" stroke-width="0.6" fill-opacity="0.85"/>
<line x1="65" y1="546.4" x2="78.3" y2="546.4" stroke="#1a1a1a" stroke-width="1.1"/>
<line x1="71.65" y1="526" x2="71.65" y2="540.3" stroke="#333" stroke-width="0.7"/>
<line x1="71.65" y1="551.7" x2="71.65" y2="566" stroke="#333" stroke-width="0.7"/>
<circle cx="71.68" cy="530.33" r="0.95" fill="#c8102e"/>
<circle cx="73.33" cy="537.5" r="0.95" fill="#c8102e"/>
<circle cx="69.65" cy="543.51" r="0.95" fill="#c8102e"/>
<circle cx="70.97" cy="547" r="0.95" fill="#c8102e"/>
<circle cx="73.37" cy="554.17" r="0.95" fill="#c8102e"/>
<circle cx="71.82" cy="545.88" r="0.95" fill="#c8102e"/>
<circle cx="72.26" cy="552.24" r="0.95" fill="#c8102e"/>
<circle cx="70.89" cy="553.71" r="0.95" fill="#c8102e"/>
<circle cx="68.11" cy="545.78" r="0.95" fill="#c8102e"/>
<circle cx="73.79" cy="547.91" r="0.95" fill="#c8102e"/>
<circle cx="69.46" cy="535.37" r="0.95" fill="#c8102e"/>
<circle cx="72.11" cy="560.84" r="0.95" fill="#c8102e"/>
<circle cx="75.27" cy="548.29" r="0.95" fill="#c8102e"/>
<circle cx="72.88" cy="539.11" r="0.95" fill="#c8102e"/>
<circle cx="75.64" cy="549.09" r="0.95" fill="#c8102e"/>
<circle cx="70.06" cy="530.41" r="0.95" fill="#c8102e"/>
<circle cx="72.61" cy="557.36" r="0.95" fill="#c8102e"/>
<circle cx="68.82" cy="564.26" r="0.95" fill="#c8102e"/>
<circle cx="71.98" cy="564.3" r="0.95" fill="#c8102e"/>
<circle cx="74.33" cy="536.95" r="0.95" fill="#c8102e"/>
<circle cx="73.25" cy="552.68" r="0.95" fill="#c8102e"/>
<circle cx="71.71" cy="557.57" r="0.95" fill="#c8102e"/>
<circle cx="70.35" cy="536.37" r="0.95" fill="#c8102e"/>
<circle cx="71.84" cy="544.25" r="0.95" fill="#c8102e"/>
<circle cx="72.54" cy="543.81" r="0.95" fill="#c8102e"/>
<circle cx="73.78" cy="554.71" r="0.95" fill="#c8102e"/>
<circle cx="75.14" cy="540.72" r="0.95" fill="#c8102e"/>
<circle cx="74.52" cy="537.41" r="0.95" fill="#c8102e"/>
<circle cx="71.96" cy="543.77" r="0.95" fill="#c8102e"/>
<circle cx="71.29" cy="539.69" r="0.95" fill="#c8102e"/>
<circle cx="67.84" cy="548.24" r="0.95" fill="#c8102e"/>
<circle cx="69.02" cy="559.16" r="0.95" fill="#c8102e"/>
<circle cx="70" cy="548.61" r="0.95" fill="#c8102e"/>
<circle cx="73.1" cy="539.47" r="0.95" fill="#c8102e"/>
<circle cx="75.44" cy="544.17" r="0.95" fill="#c8102e"/>
<circle cx="72.87" cy="538.62" r="0.95" fill="#c8102e"/>
<circle cx="71.72" cy="541.23" r="0.95" fill="#c8102e"/>
<circle cx="71.91" cy="539.92" r="0.95" fill="#c8102e"/>
<circle cx="72.28" cy="550.23" r="0.95" fill="#c8102e"/>
<circle cx="75.02" cy="540.85" r="0.95" fill="#c8102e"/>
<circle cx="71.05" cy="559.55" r="0.95" fill="#c8102e"/>
<circle cx="74.7" cy="531.4" r="0.95" fill="#c8102e"/>
<circle cx="72.33" cy="531.48" r="0.95" fill="#c8102e"/>
<circle cx="73.07" cy="543.48" r="0.95" fill="#c8102e"/>
<circle cx="73.64" cy="545.57" r="0.95" fill="#c8102e"/>
<circle cx="73.77" cy="547.2" r="0.95" fill="#c8102e"/>
<circle cx="70.04" cy="546.55" r="0.95" fill="#c8102e"/>
<circle cx="68.12" cy="542.23" r="0.95" fill="#c8102e"/>
<circle cx="69.04" cy="547.83" r="0.95" fill="#c8102e"/>
<circle cx="73.03" cy="541.66" r="0.95" fill="#c8102e"/>
<circle cx="73.98" cy="554.4" r="0.95" fill="#c8102e"/>
<circle cx="68.47" cy="555.17" r="0.95" fill="#c8102e"/>
<circle cx="75.14" cy="547.13" r="0.95" fill="#c8102e"/>
<circle cx="69.53" cy="546.7" r="0.95" fill="#c8102e"/>
<circle cx="68.19" cy="547.35" r="0.95" fill="#c8102e"/>
<circle cx="73.15" cy="535.22" r="0.95" fill="#c8102e"/>
<circle cx="71.06" cy="539.33" r="0.95" fill="#c8102e"/>
<circle cx="73.53" cy="556.7" r="0.95" fill="#c8102e"/>
<circle cx="69.56" cy="554.2" r="0.95" fill="#c8102e"/>
<circle cx="71.3" cy="531.99" r="0.95" fill="#c8102e"/>
<circle cx="72.38" cy="556.59" r="0.95" fill="#c8102e"/>
<circle cx="72.85" cy="565.72" r="0.95" fill="#c8102e"/>
<circle cx="71.48" cy="558.4" r="0.95" fill="#c8102e"/>
<circle cx="72.33" cy="556.2" r="0.95" fill="#c8102e"/>
<circle cx="73.2" cy="560.2" r="0.95" fill="#c8102e"/>
<circle cx="72.66" cy="539.31" r="0.95" fill="#c8102e"/>
<circle cx="74.21" cy="544.11" r="0.95" fill="#c8102e"/>
<circle cx="67.5" cy="543.73" r="0.95" fill="#c8102e"/>
<circle cx="67.3" cy="548.86" r="0.95" fill="#c8102e"/>
<circle cx="68.68" cy="533.23" r="0.95" fill="#c8102e"/>
<circle cx="69.02" cy="558.86" r="0.95" fill="#c8102e"/>
<circle cx="72.65" cy="542.26" r="0.95" fill="#c8102e"/>
<circle cx="67.3" cy="551.52" r="0.95" fill="#c8102e"/>
<circle cx="74.86" cy="561.99" r="0.95" fill="#c8102e"/>
<circle cx="71.79" cy="547.37" r="0.95" fill="#c8102e"/>
<circle cx="71.08" cy="538.43" r="0.95" fill="#c8102e"/>
<circle cx="75.33" cy="546.3" r="0.95" fill="#c8102e"/>
<circle cx="73.68" cy="555.62" r="0.95" fill="#c8102e"/>
<circle cx="72.64" cy="538.19" r="0.95" fill="#c8102e"/>
<circle cx="74.89" cy="557.74" r="0.95" fill="#c8102e"/>
<circle cx="73.01" cy="562.01" r="0.95" fill="#c8102e"/>
<circle cx="73.18" cy="546.38" r="0.95" fill="#c8102e"/>
<circle cx="70.82" cy="543.77" r="0.95" fill="#c8102e"/>
<circle cx="74.08" cy="542.94" r="0.95" fill="#c8102e"/>
<circle cx="69.18" cy="536.65" r="0.95" fill="#c8102e"/>
<circle cx="71.3" cy="546.5" r="0.95" fill="#c8102e"/>
<circle cx="67.27" cy="541.15" r="0.95" fill="#c8102e"/>
<circle cx="73.44" cy="541.46" r="0.95" fill="#c8102e"/>
<circle cx="70.27" cy="553.11" r="0.95" fill="#c8102e"/>
<circle cx="74.87" cy="538.72" r="0.95" fill="#c8102e"/>
<circle cx="75.38" cy="541.96" r="0.95" fill="#c8102e"/>
<circle cx="68.53" cy="538.06" r="0.95" fill="#c8102e"/>
<circle cx="71.02" cy="533.79" r="0.95" fill="#c8102e"/>
<circle cx="67.73" cy="541.97" r="0.95" fill="#c8102e"/>
<circle cx="72.12" cy="541.98" r="0.95" fill="#c8102e"/>
<circle cx="70.39" cy="543.67" r="0.95" fill="#c8102e"/>
<circle cx="69.75" cy="544.87" r="0.95" fill="#c8102e"/>
<circle cx="74.05" cy="555.39" r="0.95" fill="#c8102e"/>
<circle cx="70.54" cy="565.06" r="0.95" fill="#c8102e"/>
<circle cx="74.59" cy="560.59" r="0.95" fill="#c8102e"/>
<circle cx="72.82" cy="533.48" r="0.95" fill="#c8102e"/>
<circle cx="73.2" cy="554.09" r="0.95" fill="#c8102e"/>
<circle cx="70.06" cy="558.91" r="0.95" fill="#c8102e"/>
<circle cx="68.78" cy="549.33" r="0.95" fill="#c8102e"/>
<circle cx="69.69" cy="543.88" r="0.95" fill="#c8102e"/>
<circle cx="71.08" cy="526" r="0.95" fill="#c8102e"/>
<circle cx="72.47" cy="566" r="0.95" fill="#c8102e"/>
<rect x="85.7" y="538.8" width="10" height="13.9" fill="#ffffff" stroke="#5a5a5a" stroke-width="0.6" fill-opacity="0.85"/>
<line x1="85.3" y1="546" x2="96.1" y2="546" stroke="#1a1a1a" stroke-width="1.1"/>
<line x1="90.7" y1="524" x2="90.7" y2="538.8" stroke="#333" stroke-width="0.7"/>
<line x1="90.7" y1="552.7" x2="90.7" y2="572" stroke="#333" stroke-width="0.7"/>
<circle cx="93.84" cy="547.29" r="0.95" fill="#c4c4c4"/>
<circle cx="89.77" cy="529.53" r="0.95" fill="#c4c4c4"/>
<circle cx="90.97" cy="546.02" r="0.95" fill="#c4c4c4"/>
<circle cx="90.5" cy="528.32" r="0.95" fill="#c4c4c4"/>
<circle cx="92.4" cy="544.88" r="0.95" fill="#c4c4c4"/>
<circle cx="89.08" cy="554.16" r="0.95" fill="#c4c4c4"/>
<circle cx="92.64" cy="545.48" r="0.95" fill="#c4c4c4"/>
<circle cx="89.83" cy="528.89" r="0.95" fill="#c4c4c4"/>
<circle cx="92.43" cy="545.24" r="0.95" fill="#c4c4c4"/>
<circle cx="90.48" cy="540.07" r="0.95" fill="#c4c4c4"/>
<circle cx="89.75" cy="555.13" r="0.95" fill="#c4c4c4"/>
<circle cx="92.49" cy="533.45" r="0.95" fill="#c4c4c4"/>
<circle cx="88.41" cy="541" r="0.95" fill="#c4c4c4"/>
<circle cx="88.7" cy="535.26" r="0.95" fill="#c4c4c4"/>
<circle cx="94.22" cy="544.25" r="0.95" fill="#c4c4c4"/>
<circle cx="89.41" cy="541.99" r="0.95" fill="#c4c4c4"/>
<circle cx="87.72" cy="544.08" r="0.95" fill="#c4c4c4"/>
<circle cx="88.46" cy="538.62" r="0.95" fill="#c4c4c4"/>
<circle cx="89.31" cy="563.4" r="0.95" fill="#c4c4c4"/>
<circle cx="89.99" cy="554.21" r="0.95" fill="#c4c4c4"/>
<circle cx="92.95" cy="553.8" r="0.95" fill="#c4c4c4"/>
<circle cx="93.09" cy="561.85" r="0.95" fill="#c4c4c4"/>
<circle cx="91.69" cy="533.36" r="0.95" fill="#c4c4c4"/>
<circle cx="87.65" cy="542.99" r="0.95" fill="#c4c4c4"/>
<circle cx="87.39" cy="552.54" r="0.95" fill="#c4c4c4"/>
<circle cx="88.34" cy="531.37" r="0.95" fill="#c4c4c4"/>
<circle cx="88.76" cy="549.98" r="0.95" fill="#c4c4c4"/>
<circle cx="91.8" cy="554.11" r="0.95" fill="#c4c4c4"/>
<circle cx="87.37" cy="542.24" r="0.95" fill="#c4c4c4"/>
<circle cx="89.64" cy="526.6" r="0.95" fill="#c4c4c4"/>
<circle cx="90.59" cy="559.64" r="0.95" fill="#c4c4c4"/>
<circle cx="88.4" cy="545.86" r="0.95" fill="#c4c4c4"/>
<circle cx="92.93" cy="557.91" r="0.95" fill="#c4c4c4"/>
<circle cx="89.28" cy="549.15" r="0.95" fill="#c4c4c4"/>
<circle cx="91.41" cy="533.45" r="0.95" fill="#c4c4c4"/>
<circle cx="93.51" cy="545.84" r="0.95" fill="#c4c4c4"/>
<circle cx="91.65" cy="564.93" r="0.95" fill="#c4c4c4"/>
<circle cx="88.5" cy="541.32" r="0.95" fill="#c4c4c4"/>
<circle cx="87.25" cy="552.3" r="0.95" fill="#c4c4c4"/>
<circle cx="88.8" cy="536.45" r="0.95" fill="#c4c4c4"/>
<circle cx="93.05" cy="552.1" r="0.95" fill="#c4c4c4"/>
<circle cx="92.82" cy="542.71" r="0.95" fill="#c4c4c4"/>
<circle cx="91.83" cy="531" r="0.95" fill="#c4c4c4"/>
<circle cx="91.93" cy="539.82" r="0.95" fill="#c4c4c4"/>
<circle cx="88.89" cy="535.52" r="0.95" fill="#c4c4c4"/>
<circle cx="90.44" cy="524" r="0.95" fill="#c4c4c4"/>
<circle cx="89.54" cy="572" r="0.95" fill="#c4c4c4"/>
<rect x="99.2" y="537.3" width="9.6" height="8.7" fill="#f4a6d0" stroke="#f08cc4" stroke-width="0.6" fill-opacity="0.85"/>
<line x1="98.8" y1="541.5" x2="109.2" y2="541.5" stroke="#1a1a1a" stroke-width="1.1"/>
<line x1="104" y1="530" x2="104" y2="537.3" stroke="#333" stroke-width="0.7"/>
<line x1="104" y1="546" x2="104" y2="556" stroke="#333" stroke-width="0.7"/>
<circle cx="107.31" cy="544.36" r="0.95" fill="#e6007e"/>
<circle cx="104" cy="547.15" r="0.95" fill="#e6007e"/>
<circle cx="104.6" cy="530.77" r="0.95" fill="#e6007e"/>
<circle cx="105.2" cy="531.05" r="0.95" fill="#e6007e"/>
<circle cx="102.45" cy="539.98" r="0.95" fill="#e6007e"/>
<circle cx="104.35" cy="547.11" r="0.95" fill="#e6007e"/>
<circle cx="102.9" cy="534.57" r="0.95" fill="#e6007e"/>
<circle cx="101.03" cy="542.87" r="0.95" fill="#e6007e"/>
<circle cx="104.25" cy="544.22" r="0.95" fill="#e6007e"/>
<circle cx="102.6" cy="534.61" r="0.95" fill="#e6007e"/>
<circle cx="104.37" cy="549.67" r="0.95" fill="#e6007e"/>
<circle cx="107.37" cy="541.76" r="0.95" fill="#e6007e"/>
<circle cx="101.64" cy="549.14" r="0.95" fill="#e6007e"/>
<circle cx="105.67" cy="549.72" r="0.95" fill="#e6007e"/>
<circle cx="106.28" cy="543.91" r="0.95" fill="#e6007e"/>
<circle cx="102.41" cy="541.85" r="0.95" fill="#e6007e"/>
<circle cx="106.66" cy="542.74" r="0.95" fill="#e6007e"/>
<circle cx="102.55" cy="531.53" r="0.95" fill="#e6007e"/>
<circle cx="100.86" cy="538.57" r="0.95" fill="#e6007e"/>
<circle cx="102.98" cy="544" r="0.95" fill="#e6007e"/>
<circle cx="104.3" cy="551.32" r="0.95" fill="#e6007e"/>
<circle cx="103.66" cy="542.06" r="0.95" fill="#e6007e"/>
<circle cx="103.82" cy="552.29" r="0.95" fill="#e6007e"/>
<circle cx="103.82" cy="532.92" r="0.95" fill="#e6007e"/>
<circle cx="104.9" cy="544.76" r="0.95" fill="#e6007e"/>
<circle cx="106.48" cy="546.91" r="0.95" fill="#e6007e"/>
<circle cx="102.86" cy="534.97" r="0.95" fill="#e6007e"/>
<circle cx="105.8" cy="533.07" r="0.95" fill="#e6007e"/>
<circle cx="102.75" cy="532.56" r="0.95" fill="#e6007e"/>
<circle cx="104.68" cy="533.83" r="0.95" fill="#e6007e"/>
<circle cx="102.39" cy="537.6" r="0.95" fill="#e6007e"/>
<circle cx="102.8" cy="531.19" r="0.95" fill="#e6007e"/>
<circle cx="101.75" cy="540.24" r="0.95" fill="#e6007e"/>
<circle cx="104.15" cy="538.6" r="0.95" fill="#e6007e"/>
<circle cx="106.31" cy="551.65" r="0.95" fill="#e6007e"/>
<circle cx="104.15" cy="539.5" r="0.95" fill="#e6007e"/>
<circle cx="102.47" cy="539.43" r="0.95" fill="#e6007e"/>
<circle cx="102.88" cy="552.56" r="0.95" fill="#e6007e"/>
<circle cx="104.98" cy="549.98" r="0.95" fill="#e6007e"/>
<circle cx="107.06" cy="541.1" r="0.95" fill="#e6007e"/>
<circle cx="104.66" cy="530" r="0.95" fill="#e6007e"/>
<circle cx="104.03" cy="556" r="0.95" fill="#e6007e"/>
<rect x="112.6" y="538.3" width="10" height="12.9" fill="#ababab" stroke="#9a9a9a" stroke-width="0.6" fill-opacity="0.85"/>
<line x1="112.2" y1="545.4" x2="123" y2="545.4" stroke="#1a1a1a" stroke-width="1.1"/>
<line x1="117.6" y1="524" x2="117.6" y2="538.3" stroke="#333" stroke-width="0.7"/>
<line x1="117.6" y1="551.2" x2="117.6" y2="570" stroke="#333" stroke-width="0.7"/>
<circle cx="116.09" cy="524.35" r="0.95" fill="#3f3f3f"/>
<circle cx="116.46" cy="550.55" r="0.95" fill="#3f3f3f"/>
<circle cx="115.18" cy="549.73" r="0.95" fill="#3f3f3f"/>
<circle cx="118.05" cy="542.43" r="0.95" fill="#3f3f3f"/>
<circle cx="120.18" cy="528.61" r="0.95" fill="#3f3f3f"/>
<circle cx="116.15" cy="544.79" r="0.95" fill="#3f3f3f"/>
<circle cx="116.28" cy="543.57" r="0.95" fill="#3f3f3f"/>
<circle cx="116.54" cy="551.01" r="0.95" fill="#3f3f3f"/>
<circle cx="116.55" cy="562.36" r="0.95" fill="#3f3f3f"/>
<circle cx="120.11" cy="549.57" r="0.95" fill="#3f3f3f"/>
<circle cx="120.02" cy="541.83" r="0.95" fill="#3f3f3f"/>
<circle cx="114.13" cy="544.22" r="0.95" fill="#3f3f3f"/>
<circle cx="115.27" cy="551.14" r="0.95" fill="#3f3f3f"/>
<circle cx="116.1" cy="535.69" r="0.95" fill="#3f3f3f"/>
<circle cx="118.68" cy="535.41" r="0.95" fill="#3f3f3f"/>
<circle cx="118.46" cy="527.07" r="0.95" fill="#3f3f3f"/>
<circle cx="118.51" cy="556.43" r="0.95" fill="#3f3f3f"/>
<circle cx="116.95" cy="557.09" r="0.95" fill="#3f3f3f"/>
<circle cx="117.82" cy="555.18" r="0.95" fill="#3f3f3f"/>
<circle cx="115.78" cy="558.35" r="0.95" fill="#3f3f3f"/>
<circle cx="119.57" cy="550.31" r="0.95" fill="#3f3f3f"/>
<circle cx="119.31" cy="528.75" r="0.95" fill="#3f3f3f"/>
<circle cx="121.2" cy="544.4" r="0.95" fill="#3f3f3f"/>
<circle cx="120.16" cy="532.51" r="0.95" fill="#3f3f3f"/>
<circle cx="115.51" cy="546.61" r="0.95" fill="#3f3f3f"/>
<circle cx="116.81" cy="529.18" r="0.95" fill="#3f3f3f"/>
<circle cx="118.62" cy="551.9" r="0.95" fill="#3f3f3f"/>
<circle cx="116.64" cy="531.15" r="0.95" fill="#3f3f3f"/>
<circle cx="115.58" cy="544.51" r="0.95" fill="#3f3f3f"/>
<circle cx="114.55" cy="546.8" r="0.95" fill="#3f3f3f"/>
<circle cx="116.25" cy="569.22" r="0.95" fill="#3f3f3f"/>
<circle cx="118.94" cy="531.5" r="0.95" fill="#3f3f3f"/>
<circle cx="114.45" cy="549.81" r="0.95" fill="#3f3f3f"/>
<circle cx="116.58" cy="550.47" r="0.95" fill="#3f3f3f"/>
<circle cx="116.42" cy="552.62" r="0.95" fill="#3f3f3f"/>
<circle cx="118.07" cy="557.57" r="0.95" fill="#3f3f3f"/>
<circle cx="115.26" cy="551.63" r="0.95" fill="#3f3f3f"/>
<circle cx="119.37" cy="552.76" r="0.95" fill="#3f3f3f"/>
<circle cx="116.14" cy="561.59" r="0.95" fill="#3f3f3f"/>
<circle cx="117.58" cy="529.17" r="0.95" fill="#3f3f3f"/>
<circle cx="120.58" cy="551.04" r="0.95" fill="#3f3f3f"/>
<circle cx="116.93" cy="539.99" r="0.95" fill="#3f3f3f"/>
<circle cx="118.74" cy="545.66" r="0.95" fill="#3f3f3f"/>
<circle cx="116.88" cy="539.07" r="0.95" fill="#3f3f3f"/>
<circle cx="117.03" cy="536.59" r="0.95" fill="#3f3f3f"/>
<circle cx="115.92" cy="532.25" r="0.95" fill="#3f3f3f"/>
<circle cx="115.23" cy="536.99" r="0.95" fill="#3f3f3f"/>
<circle cx="115.83" cy="560.68" r="0.95" fill="#3f3f3f"/>
<circle cx="114.71" cy="549.52" r="0.95" fill="#3f3f3f"/>
<circle cx="116.08" cy="537.05" r="0.95" fill="#3f3f3f"/>
<circle cx="114.06" cy="546.16" r="0.95" fill="#3f3f3f"/>
<circle cx="117.27" cy="543.36" r="0.95" fill="#3f3f3f"/>
<circle cx="115.7" cy="555.66" r="0.95" fill="#3f3f3f"/>
<circle cx="117.39" cy="529.51" r="0.95" fill="#3f3f3f"/>
<circle cx="115.34" cy="549.67" r="0.95" fill="#3f3f3f"/>
<circle cx="117.83" cy="551.36" r="0.95" fill="#3f3f3f"/>
<circle cx="114.5" cy="544.82" r="0.95" fill="#3f3f3f"/>
<circle cx="117.16" cy="550.17" r="0.95" fill="#3f3f3f"/>
<circle cx="115.07" cy="564.79" r="0.95" fill="#3f3f3f"/>
<circle cx="115.23" cy="566.27" r="0.95" fill="#3f3f3f"/>
<circle cx="118.66" cy="534.5" r="0.95" fill="#3f3f3f"/>
<circle cx="119.05" cy="546.35" r="0.95" fill="#3f3f3f"/>
<circle cx="117.5" cy="527.92" r="0.95" fill="#3f3f3f"/>
<circle cx="114.44" cy="549.45" r="0.95" fill="#3f3f3f"/>
<circle cx="118.09" cy="569.32" r="0.95" fill="#3f3f3f"/>
<circle cx="118.4" cy="548.67" r="0.95" fill="#3f3f3f"/>
<circle cx="115.89" cy="541.69" r="0.95" fill="#3f3f3f"/>
<circle cx="115.24" cy="562.93" r="0.95" fill="#3f3f3f"/>
<circle cx="118.79" cy="555.42" r="0.95" fill="#3f3f3f"/>
<circle cx="115.91" cy="540.1" r="0.95" fill="#3f3f3f"/>
<circle cx="117.16" cy="524" r="0.95" fill="#3f3f3f"/>
<circle cx="117.63" cy="570" r="0.95" fill="#3f3f3f"/>
<rect x="130.9" y="539.2" width="11.5" height="10.6" fill="#fcc98c" stroke="#f9b060" stroke-width="0.6" fill-opacity="0.85"/>
<line x1="130.5" y1="544" x2="142.8" y2="544" stroke="#1a1a1a" stroke-width="1.1"/>
<line x1="136.65" y1="528" x2="136.65" y2="539.2" stroke="#333" stroke-width="0.7"/>
<line x1="136.65" y1="549.8" x2="136.65" y2="562" stroke="#333" stroke-width="0.7"/>
<circle cx="135.72" cy="542.17" r="0.95" fill="#f7931e"/>
<circle cx="139.11" cy="533.94" r="0.95" fill="#f7931e"/>
<circle cx="139.91" cy="543.83" r="0.95" fill="#f7931e"/>
<circle cx="133.5" cy="539.6" r="0.95" fill="#f7931e"/>
<circle cx="134.03" cy="559.19" r="0.95" fill="#f7931e"/>
<circle cx="134.05" cy="543.43" r="0.95" fill="#f7931e"/>
<circle cx="136.18" cy="540.68" r="0.95" fill="#f7931e"/>
<circle cx="136.49" cy="534.33" r="0.95" fill="#f7931e"/>
<circle cx="136.88" cy="550.96" r="0.95" fill="#f7931e"/>
<circle cx="139.97" cy="540.47" r="0.95" fill="#f7931e"/>
<circle cx="135.56" cy="537.67" r="0.95" fill="#f7931e"/>
<circle cx="138.02" cy="548.56" r="0.95" fill="#f7931e"/>
<circle cx="133.7" cy="531.94" r="0.95" fill="#f7931e"/>
<circle cx="138.25" cy="542.39" r="0.95" fill="#f7931e"/>
<circle cx="140.18" cy="546.31" r="0.95" fill="#f7931e"/>
<circle cx="137.37" cy="538.65" r="0.95" fill="#f7931e"/>
<circle cx="134.31" cy="545.72" r="0.95" fill="#f7931e"/>
<circle cx="139.91" cy="548.97" r="0.95" fill="#f7931e"/>
<circle cx="133.93" cy="558.04" r="0.95" fill="#f7931e"/>
<circle cx="138.32" cy="555.9" r="0.95" fill="#f7931e"/>
<circle cx="135.48" cy="537.75" r="0.95" fill="#f7931e"/>
<circle cx="136.05" cy="561.16" r="0.95" fill="#f7931e"/>
<circle cx="137.57" cy="545.4" r="0.95" fill="#f7931e"/>
<circle cx="134" cy="541.1" r="0.95" fill="#f7931e"/>
<circle cx="138.83" cy="536.87" r="0.95" fill="#f7931e"/>
<circle cx="134.54" cy="538.43" r="0.95" fill="#f7931e"/>
<circle cx="135.03" cy="542.6" r="0.95" fill="#f7931e"/>
<circle cx="135.03" cy="550.06" r="0.95" fill="#f7931e"/>
<circle cx="140.28" cy="541.69" r="0.95" fill="#f7931e"/>
<circle cx="133.01" cy="541.46" r="0.95" fill="#f7931e"/>
<circle cx="135.43" cy="528" r="0.95" fill="#f7931e"/>
<circle cx="136.8" cy="562" r="0.95" fill="#f7931e"/>
<circle cx="135.38" cy="574" r="0.95" fill="#f7931e"/>
<rect x="145.7" y="536.3" width="11.5" height="9.1" fill="#94b3d6" stroke="#7fa2cc" stroke-width="0.6" fill-opacity="0.85"/>
<line x1="145.3" y1="540.8" x2="157.6" y2="540.8" stroke="#1a1a1a" stroke-width="1.1"/>
<line x1="151.45" y1="527" x2="151.45" y2="536.3" stroke="#333" stroke-width="0.7"/>
<line x1="151.45" y1="545.4" x2="151.45" y2="556" stroke="#333" stroke-width="0.7"/>
<circle cx="153.28" cy="547.71" r="0.95" fill="#1d4f8c"/>
<circle cx="152.9" cy="531.39" r="0.95" fill="#1d4f8c"/>
<circle cx="155.34" cy="536.79" r="0.95" fill="#1d4f8c"/>
<circle cx="149.17" cy="545.66" r="0.95" fill="#1d4f8c"/>
<circle cx="149.24" cy="543.56" r="0.95" fill="#1d4f8c"/>
<circle cx="153.82" cy="543.73" r="0.95" fill="#1d4f8c"/>
<circle cx="151.99" cy="529.75" r="0.95" fill="#1d4f8c"/>
<circle cx="151.28" cy="528.89" r="0.95" fill="#1d4f8c"/>
<circle cx="148.94" cy="537.22" r="0.95" fill="#1d4f8c"/>
<circle cx="150.29" cy="531.86" r="0.95" fill="#1d4f8c"/>
<circle cx="151.44" cy="535.75" r="0.95" fill="#1d4f8c"/>
<circle cx="151.79" cy="554.81" r="0.95" fill="#1d4f8c"/>
<circle cx="150.54" cy="545.32" r="0.95" fill="#1d4f8c"/>
<circle cx="152.34" cy="545.71" r="0.95" fill="#1d4f8c"/>
<circle cx="151.6" cy="541.52" r="0.95" fill="#1d4f8c"/>
<circle cx="151.83" cy="531.13" r="0.95" fill="#1d4f8c"/>
<circle cx="155.47" cy="536.94" r="0.95" fill="#1d4f8c"/>
<circle cx="150.94" cy="548.08" r="0.95" fill="#1d4f8c"/>
<circle cx="150.85" cy="541.9" r="0.95" fill="#1d4f8c"/>
<circle cx="150.17" cy="550.92" r="0.95" fill="#1d4f8c"/>
<circle cx="153.3" cy="534.96" r="0.95" fill="#1d4f8c"/>
<circle cx="154.95" cy="537.02" r="0.95" fill="#1d4f8c"/>
<circle cx="153.14" cy="539.33" r="0.95" fill="#1d4f8c"/>
<circle cx="154.04" cy="536.9" r="0.95" fill="#1d4f8c"/>
<circle cx="152.44" cy="527.02" r="0.95" fill="#1d4f8c"/>
<circle cx="151.8" cy="536.78" r="0.95" fill="#1d4f8c"/>
<circle cx="151.73" cy="531.28" r="0.95" fill="#1d4f8c"/>
<circle cx="152.52" cy="545.2" r="0.95" fill="#1d4f8c"/>
<circle cx="148.98" cy="555.1" r="0.95" fill="#1d4f8c"/>
<circle cx="152.76" cy="547.35" r="0.95" fill="#1d4f8c"/>
<circle cx="152.03" cy="550.55" r="0.95" fill="#1d4f8c"/>
<circle cx="150.95" cy="538.71" r="0.95" fill="#1d4f8c"/>
<circle cx="151.73" cy="534.23" r="0.95" fill="#1d4f8c"/>
<circle cx="151.54" cy="551.47" r="0.95" fill="#1d4f8c"/>
<circle cx="152.7" cy="547.43" r="0.95" fill="#1d4f8c"/>
<circle cx="150.68" cy="527" r="0.95" fill="#1d4f8c"/>
<circle cx="149.95" cy="556" r="0.95" fill="#1d4f8c"/>
<rect x="161" y="540.2" width="11.6" height="13.5" fill="#c6c6c6" stroke="#b5b5b5" stroke-width="0.6" fill-opacity="0.85"/>
<line x1="160.6" y1="546.9" x2="173" y2="546.9" stroke="#1a1a1a" stroke-width="1.1"/>
<line x1="166.8" y1="524" x2="166.8" y2="540.2" stroke="#333" stroke-width="0.7"/>
<line x1="166.8" y1="553.7" x2="166.8" y2="572" stroke="#333" stroke-width="0.7"/>
<circle cx="164.25" cy="532.21" r="0.95" fill="#909090"/>
<circle cx="168.34" cy="530.55" r="0.95" fill="#909090"/>
<circle cx="166.71" cy="553.76" r="0.95" fill="#909090"/>
<circle cx="164.57" cy="539.89" r="0.95" fill="#909090"/>
<circle cx="165.05" cy="551.08" r="0.95" fill="#909090"/>
<circle cx="170.8" cy="551.02" r="0.95" fill="#909090"/>
<circle cx="167.47" cy="548.5" r="0.95" fill="#909090"/>
<circle cx="165.28" cy="562.15" r="0.95" fill="#909090"/>
<circle cx="170.08" cy="546.82" r="0.95" fill="#909090"/>
<circle cx="165.18" cy="565.57" r="0.95" fill="#909090"/>
<circle cx="165.96" cy="541.2" r="0.95" fill="#909090"/>
<circle cx="164.83" cy="559.76" r="0.95" fill="#909090"/>
<circle cx="164.57" cy="563.9" r="0.95" fill="#909090"/>
<circle cx="170.6" cy="541.93" r="0.95" fill="#909090"/>
<circle cx="163.09" cy="548.71" r="0.95" fill="#909090"/>
<circle cx="168.44" cy="535.06" r="0.95" fill="#909090"/>
<circle cx="168.68" cy="526.79" r="0.95" fill="#909090"/>
<circle cx="167.24" cy="531.64" r="0.95" fill="#909090"/>
<circle cx="166.44" cy="559.36" r="0.95" fill="#909090"/>
<circle cx="170.86" cy="545.04" r="0.95" fill="#909090"/>
<circle cx="163.95" cy="537.79" r="0.95" fill="#909090"/>
<circle cx="166.1" cy="539.39" r="0.95" fill="#909090"/>
<circle cx="165.53" cy="555.07" r="0.95" fill="#909090"/>
<circle cx="167.13" cy="557.68" r="0.95" fill="#909090"/>
<circle cx="169.26" cy="559.97" r="0.95" fill="#909090"/>
<circle cx="165.1" cy="545.52" r="0.95" fill="#909090"/>
<circle cx="166.71" cy="558.08" r="0.95" fill="#909090"/>
<circle cx="164.03" cy="551.42" r="0.95" fill="#909090"/>
<circle cx="165.01" cy="548.31" r="0.95" fill="#909090"/>
<circle cx="164.78" cy="547.16" r="0.95" fill="#909090"/>
<circle cx="167.34" cy="534.63" r="0.95" fill="#909090"/>
<circle cx="169.41" cy="554.11" r="0.95" fill="#909090"/>
<circle cx="163.26" cy="542.36" r="0.95" fill="#909090"/>
<circle cx="166.97" cy="534.46" r="0.95" fill="#909090"/>
<circle cx="169.5" cy="562.87" r="0.95" fill="#909090"/>
<circle cx="169.38" cy="525.18" r="0.95" fill="#909090"/>
<circle cx="166.34" cy="550.89" r="0.95" fill="#909090"/>
<circle cx="166.45" cy="544.94" r="0.95" fill="#909090"/>
<circle cx="167.17" cy="524.83" r="0.95" fill="#909090"/>
<circle cx="164.76" cy="548.8" r="0.95" fill="#909090"/>
<circle cx="163.94" cy="555.13" r="0.95" fill="#909090"/>
<circle cx="168.23" cy="552.42" r="0.95" fill="#909090"/>
<circle cx="164.43" cy="565.19" r="0.95" fill="#909090"/>
<circle cx="168.59" cy="546.57" r="0.95" fill="#909090"/>
<circle cx="163.96" cy="532.03" r="0.95" fill="#909090"/>
<circle cx="165.82" cy="551.23" r="0.95" fill="#909090"/>
<circle cx="170.78" cy="542.34" r="0.95" fill="#909090"/>
<circle cx="169.93" cy="550.25" r="0.95" fill="#909090"/>
<circle cx="164.29" cy="541.83" r="0.95" fill="#909090"/>
<circle cx="169.2" cy="555.87" r="0.95" fill="#909090"/>
<circle cx="164.83" cy="537.05" r="0.95" fill="#909090"/>
<circle cx="168.54" cy="525.6" r="0.95" fill="#909090"/>
<circle cx="167.98" cy="538.25" r="0.95" fill="#909090"/>
<circle cx="167.87" cy="553.23" r="0.95" fill="#909090"/>
<circle cx="167.73" cy="547.32" r="0.95" fill="#909090"/>
<circle cx="164.48" cy="553.57" r="0.95" fill="#909090"/>
<circle cx="166.96" cy="536.18" r="0.95" fill="#909090"/>
<circle cx="163.87" cy="538.63" r="0.95" fill="#909090"/>
<circle cx="169.65" cy="535.51" r="0.95" fill="#909090"/>
<circle cx="164.75" cy="528.42" r="0.95" fill="#909090"/>
<circle cx="169.48" cy="560.62" r="0.95" fill="#909090"/>
<circle cx="167.86" cy="524.8" r="0.95" fill="#909090"/>
<circle cx="167.58" cy="540.34" r="0.95" fill="#909090"/>
<circle cx="165.16" cy="535.89" r="0.95" fill="#909090"/>
<circle cx="169.43" cy="571.69" r="0.95" fill="#909090"/>
<circle cx="168.58" cy="540.45" r="0.95" fill="#909090"/>
<circle cx="166.99" cy="533.43" r="0.95" fill="#909090"/>
<circle cx="164.22" cy="561.19" r="0.95" fill="#909090"/>
<circle cx="163.37" cy="549.68" r="0.95" fill="#909090"/>
<circle cx="169.28" cy="551.07" r="0.95" fill="#909090"/>
<circle cx="167.15" cy="542.47" r="0.95" fill="#909090"/>
<circle cx="167.38" cy="561.04" r="0.95" fill="#909090"/>
<circle cx="167.69" cy="534.16" r="0.95" fill="#909090"/>
<circle cx="169.38" cy="559.08" r="0.95" fill="#909090"/>
<circle cx="166.78" cy="556.36" r="0.95" fill="#909090"/>
<circle cx="169.27" cy="554.74" r="0.95" fill="#909090"/>
<circle cx="169.67" cy="567.82" r="0.95" fill="#909090"/>
<circle cx="167.64" cy="548.28" r="0.95" fill="#909090"/>
<circle cx="167.96" cy="535.87" r="0.95" fill="#909090"/>
<circle cx="165.99" cy="556.75" r="0.95" fill="#909090"/>
<circle cx="166.9" cy="556.15" r="0.95" fill="#909090"/>
<circle cx="169.07" cy="549.36" r="0.95" fill="#909090"/>
<circle cx="164.26" cy="534.21" r="0.95" fill="#909090"/>
<circle cx="168.4" cy="546.41" r="0.95" fill="#909090"/>
<circle cx="164.7" cy="536.78" r="0.95" fill="#909090"/>
<circle cx="166.07" cy="524" r="0.95" fill="#909090"/>
<circle cx="168.12" cy="572" r="0.95" fill="#909090"/>
<path d="M44.6 503V576.8H80.4" stroke="#1a1a1a" stroke-width="1.15" fill="none"/>
<path d="M82.6 503V576.8H125.1" stroke="#1a1a1a" stroke-width="1.15" fill="none"/>
<path d="M127.4 503V576.8H175.1" stroke="#1a1a1a" stroke-width="1.15" fill="none"/>
<line x1="54.9" y1="576.8" x2="54.9" y2="579.2" stroke="#1a1a1a" stroke-width="0.8"/>
<line x1="71.65" y1="576.8" x2="71.65" y2="579.2" stroke="#1a1a1a" stroke-width="0.8"/>
<line x1="90.7" y1="576.8" x2="90.7" y2="579.2" stroke="#1a1a1a" stroke-width="0.8"/>
<line x1="104" y1="576.8" x2="104" y2="579.2" stroke="#1a1a1a" stroke-width="0.8"/>
<line x1="117.6" y1="576.8" x2="117.6" y2="579.2" stroke="#1a1a1a" stroke-width="0.8"/>
<line x1="136.65" y1="576.8" x2="136.65" y2="579.2" stroke="#1a1a1a" stroke-width="0.8"/>
<line x1="151.45" y1="576.8" x2="151.45" y2="579.2" stroke="#1a1a1a" stroke-width="0.8"/>
<line x1="166.8" y1="576.8" x2="166.8" y2="579.2" stroke="#1a1a1a" stroke-width="0.8"/>
<rect x="212.9" y="561.6" width="12.4" height="9.5" fill="#cacaca" stroke="#b8b8b8" stroke-width="0.6" fill-opacity="0.85"/>
<line x1="212.5" y1="567.3" x2="225.7" y2="567.3" stroke="#1a1a1a" stroke-width="1.1"/>
<line x1="219.1" y1="552" x2="219.1" y2="561.6" stroke="#333" stroke-width="0.7"/>
<line x1="219.1" y1="571.1" x2="219.1" y2="574.5" stroke="#333" stroke-width="0.7"/>
<circle cx="219.47" cy="565.52" r="0.95" fill="#a0a0a0"/>
<circle cx="218.46" cy="573.65" r="0.95" fill="#a0a0a0"/>
<circle cx="217.95" cy="556.8" r="0.95" fill="#a0a0a0"/>
<circle cx="218.28" cy="571.37" r="0.95" fill="#a0a0a0"/>
<circle cx="216.01" cy="561.35" r="0.95" fill="#a0a0a0"/>
<circle cx="220.99" cy="558.1" r="0.95" fill="#a0a0a0"/>
<circle cx="223.49" cy="569.28" r="0.95" fill="#a0a0a0"/>
<circle cx="216.03" cy="555.35" r="0.95" fill="#a0a0a0"/>
<circle cx="223.51" cy="563.06" r="0.95" fill="#a0a0a0"/>
<circle cx="220.02" cy="567.16" r="0.95" fill="#a0a0a0"/>
<circle cx="217.12" cy="565.41" r="0.95" fill="#a0a0a0"/>
<circle cx="214.69" cy="569.1" r="0.95" fill="#a0a0a0"/>
<circle cx="217.83" cy="573.87" r="0.95" fill="#a0a0a0"/>
<circle cx="216.4" cy="555.9" r="0.95" fill="#a0a0a0"/>
<circle cx="215.21" cy="566.95" r="0.95" fill="#a0a0a0"/>
<circle cx="217.1" cy="574.28" r="0.95" fill="#a0a0a0"/>
<circle cx="221.79" cy="560.76" r="0.95" fill="#a0a0a0"/>
<circle cx="222.7" cy="564.81" r="0.95" fill="#a0a0a0"/>
<circle cx="216.83" cy="565.92" r="0.95" fill="#a0a0a0"/>
<circle cx="217.72" cy="571.8" r="0.95" fill="#a0a0a0"/>
<circle cx="217.49" cy="574.39" r="0.95" fill="#a0a0a0"/>
<circle cx="215.65" cy="567.26" r="0.95" fill="#a0a0a0"/>
<circle cx="218.63" cy="568.6" r="0.95" fill="#a0a0a0"/>
<circle cx="216.32" cy="564.29" r="0.95" fill="#a0a0a0"/>
<circle cx="221.35" cy="562.57" r="0.95" fill="#a0a0a0"/>
<circle cx="217.52" cy="557.63" r="0.95" fill="#a0a0a0"/>
<circle cx="220.35" cy="569.8" r="0.95" fill="#a0a0a0"/>
<circle cx="220.46" cy="560.76" r="0.95" fill="#a0a0a0"/>
<circle cx="220.78" cy="574.34" r="0.95" fill="#a0a0a0"/>
<circle cx="219.24" cy="568.68" r="0.95" fill="#a0a0a0"/>
<circle cx="216.07" cy="560.51" r="0.95" fill="#a0a0a0"/>
<circle cx="219.37" cy="561.06" r="0.95" fill="#a0a0a0"/>
<circle cx="221.06" cy="563.01" r="0.95" fill="#a0a0a0"/>
<circle cx="216.87" cy="557.03" r="0.95" fill="#a0a0a0"/>
<circle cx="219.16" cy="567.15" r="0.95" fill="#a0a0a0"/>
<circle cx="218.8" cy="568.06" r="0.95" fill="#a0a0a0"/>
<circle cx="219.54" cy="565.86" r="0.95" fill="#a0a0a0"/>
<circle cx="220.47" cy="565.89" r="0.95" fill="#a0a0a0"/>
<circle cx="221.89" cy="561.19" r="0.95" fill="#a0a0a0"/>
<circle cx="219.29" cy="560.19" r="0.95" fill="#a0a0a0"/>
<circle cx="222.25" cy="563.2" r="0.95" fill="#a0a0a0"/>
<circle cx="218.71" cy="572.25" r="0.95" fill="#a0a0a0"/>
<circle cx="215.13" cy="563.56" r="0.95" fill="#a0a0a0"/>
<circle cx="220.72" cy="557.32" r="0.95" fill="#a0a0a0"/>
<circle cx="221.29" cy="564.93" r="0.95" fill="#a0a0a0"/>
<circle cx="216.52" cy="566.22" r="0.95" fill="#a0a0a0"/>
<circle cx="220.38" cy="573.16" r="0.95" fill="#a0a0a0"/>
<circle cx="217.03" cy="574.09" r="0.95" fill="#a0a0a0"/>
<circle cx="215.38" cy="567.11" r="0.95" fill="#a0a0a0"/>
<circle cx="216.35" cy="568.62" r="0.95" fill="#a0a0a0"/>
<circle cx="221.93" cy="564.51" r="0.95" fill="#a0a0a0"/>
<circle cx="215.81" cy="568.5" r="0.95" fill="#a0a0a0"/>
<circle cx="219.07" cy="556.43" r="0.95" fill="#a0a0a0"/>
<circle cx="222.56" cy="567.78" r="0.95" fill="#a0a0a0"/>
<circle cx="221.09" cy="567.57" r="0.95" fill="#a0a0a0"/>
<circle cx="217.3" cy="557.34" r="0.95" fill="#a0a0a0"/>
<circle cx="219.19" cy="560.59" r="0.95" fill="#a0a0a0"/>
<circle cx="219.97" cy="572.52" r="0.95" fill="#a0a0a0"/>
<circle cx="217.84" cy="566.35" r="0.95" fill="#a0a0a0"/>
<circle cx="218.87" cy="574.49" r="0.95" fill="#a0a0a0"/>
<circle cx="221.22" cy="571.39" r="0.95" fill="#a0a0a0"/>
<circle cx="216.74" cy="567.09" r="0.95" fill="#a0a0a0"/>
<circle cx="218.21" cy="561.18" r="0.95" fill="#a0a0a0"/>
<circle cx="221.4" cy="567.09" r="0.95" fill="#a0a0a0"/>
<circle cx="222.28" cy="562.02" r="0.95" fill="#a0a0a0"/>
<circle cx="221" cy="573.78" r="0.95" fill="#a0a0a0"/>
<circle cx="219.62" cy="574.13" r="0.95" fill="#a0a0a0"/>
<circle cx="217.99" cy="567.8" r="0.95" fill="#a0a0a0"/>
<circle cx="222.64" cy="562.69" r="0.95" fill="#a0a0a0"/>
<circle cx="218.6" cy="571.62" r="0.95" fill="#a0a0a0"/>
<circle cx="218.74" cy="563.57" r="0.95" fill="#a0a0a0"/>
<circle cx="218.3" cy="560.94" r="0.95" fill="#a0a0a0"/>
<circle cx="221.79" cy="574.12" r="0.95" fill="#a0a0a0"/>
<circle cx="214.72" cy="561.77" r="0.95" fill="#a0a0a0"/>
<circle cx="218.22" cy="573.34" r="0.95" fill="#a0a0a0"/>
<circle cx="219.69" cy="573.02" r="0.95" fill="#a0a0a0"/>
<circle cx="222.65" cy="565.5" r="0.95" fill="#a0a0a0"/>
<circle cx="218.04" cy="559.73" r="0.95" fill="#a0a0a0"/>
<circle cx="220.41" cy="564.85" r="0.95" fill="#a0a0a0"/>
<circle cx="216.16" cy="572.87" r="0.95" fill="#a0a0a0"/>
<circle cx="216.61" cy="569.06" r="0.95" fill="#a0a0a0"/>
<circle cx="218.7" cy="574.37" r="0.95" fill="#a0a0a0"/>
<circle cx="216.53" cy="558.91" r="0.95" fill="#a0a0a0"/>
<circle cx="221.53" cy="563.02" r="0.95" fill="#a0a0a0"/>
<circle cx="217.92" cy="569.97" r="0.95" fill="#a0a0a0"/>
<circle cx="219.06" cy="561" r="0.95" fill="#a0a0a0"/>
<circle cx="215.99" cy="564.62" r="0.95" fill="#a0a0a0"/>
<circle cx="220.27" cy="565.61" r="0.95" fill="#a0a0a0"/>
<circle cx="218.75" cy="571.24" r="0.95" fill="#a0a0a0"/>
<circle cx="222.24" cy="562.69" r="0.95" fill="#a0a0a0"/>
<circle cx="217.59" cy="572.29" r="0.95" fill="#a0a0a0"/>
<circle cx="219.65" cy="566.74" r="0.95" fill="#a0a0a0"/>
<circle cx="217.5" cy="554.86" r="0.95" fill="#a0a0a0"/>
<circle cx="220.67" cy="569.88" r="0.95" fill="#a0a0a0"/>
<circle cx="218.83" cy="567.11" r="0.95" fill="#a0a0a0"/>
<circle cx="219.18" cy="574.14" r="0.95" fill="#a0a0a0"/>
<circle cx="222.57" cy="568.73" r="0.95" fill="#a0a0a0"/>
<circle cx="219.54" cy="565.13" r="0.95" fill="#a0a0a0"/>
<circle cx="218.04" cy="570.25" r="0.95" fill="#a0a0a0"/>
<circle cx="219.67" cy="569.33" r="0.95" fill="#a0a0a0"/>
<circle cx="219.19" cy="563.54" r="0.95" fill="#a0a0a0"/>
<circle cx="220.61" cy="561.91" r="0.95" fill="#a0a0a0"/>
<circle cx="221.8" cy="563.46" r="0.95" fill="#a0a0a0"/>
<circle cx="220.18" cy="571.43" r="0.95" fill="#a0a0a0"/>
<circle cx="221.63" cy="571.37" r="0.95" fill="#a0a0a0"/>
<circle cx="215.07" cy="569.96" r="0.95" fill="#a0a0a0"/>
<circle cx="217.53" cy="568.36" r="0.95" fill="#a0a0a0"/>
<circle cx="218.12" cy="571.32" r="0.95" fill="#a0a0a0"/>
<circle cx="223.23" cy="565.23" r="0.95" fill="#a0a0a0"/>
<circle cx="221.98" cy="562.6" r="0.95" fill="#a0a0a0"/>
<circle cx="218.87" cy="552" r="0.95" fill="#a0a0a0"/>
<circle cx="219.54" cy="574.5" r="0.95" fill="#a0a0a0"/>
<circle cx="221.38" cy="537" r="0.95" fill="#a0a0a0"/>
<circle cx="216.9" cy="549" r="0.95" fill="#a0a0a0"/>
<rect x="229.3" y="558.1" width="12.1" height="9.6" fill="#ee9aaa" stroke="#e888a0" stroke-width="0.6" fill-opacity="0.85"/>
<line x1="228.9" y1="563.3" x2="241.8" y2="563.3" stroke="#1a1a1a" stroke-width="1.1"/>
<line x1="235.35" y1="545" x2="235.35" y2="558.1" stroke="#333" stroke-width="0.7"/>
<line x1="235.35" y1="567.7" x2="235.35" y2="574.5" stroke="#333" stroke-width="0.7"/>
<circle cx="235.99" cy="547.03" r="0.95" fill="#c8102e"/>
<circle cx="233.08" cy="552.88" r="0.95" fill="#c8102e"/>
<circle cx="239.35" cy="566.79" r="0.95" fill="#c8102e"/>
<circle cx="233.49" cy="569.21" r="0.95" fill="#c8102e"/>
<circle cx="234.26" cy="547.16" r="0.95" fill="#c8102e"/>
<circle cx="234.61" cy="562.92" r="0.95" fill="#c8102e"/>
<circle cx="234.23" cy="567.53" r="0.95" fill="#c8102e"/>
<circle cx="235.09" cy="560.93" r="0.95" fill="#c8102e"/>
<circle cx="236.65" cy="561.77" r="0.95" fill="#c8102e"/>
<circle cx="234.57" cy="559.39" r="0.95" fill="#c8102e"/>
<circle cx="232.04" cy="563.15" r="0.95" fill="#c8102e"/>
<circle cx="234.1" cy="573.4" r="0.95" fill="#c8102e"/>
<circle cx="232.29" cy="562.86" r="0.95" fill="#c8102e"/>
<circle cx="232.58" cy="554.06" r="0.95" fill="#c8102e"/>
<circle cx="233.75" cy="549.64" r="0.95" fill="#c8102e"/>
<circle cx="232.24" cy="566.75" r="0.95" fill="#c8102e"/>
<circle cx="233.81" cy="559.62" r="0.95" fill="#c8102e"/>
<circle cx="233.32" cy="555.08" r="0.95" fill="#c8102e"/>
<circle cx="237.47" cy="554.7" r="0.95" fill="#c8102e"/>
<circle cx="232.47" cy="555.8" r="0.95" fill="#c8102e"/>
<circle cx="235.86" cy="555.69" r="0.95" fill="#c8102e"/>
<circle cx="232.44" cy="573.42" r="0.95" fill="#c8102e"/>
<circle cx="238.31" cy="563.17" r="0.95" fill="#c8102e"/>
<circle cx="238.43" cy="571.5" r="0.95" fill="#c8102e"/>
<circle cx="233.42" cy="573.83" r="0.95" fill="#c8102e"/>
<circle cx="234.27" cy="546.55" r="0.95" fill="#c8102e"/>
<circle cx="234.45" cy="563.46" r="0.95" fill="#c8102e"/>
<circle cx="232.37" cy="558.64" r="0.95" fill="#c8102e"/>
<circle cx="232.44" cy="548.93" r="0.95" fill="#c8102e"/>
<circle cx="234.93" cy="571.53" r="0.95" fill="#c8102e"/>
<circle cx="238.26" cy="561.92" r="0.95" fill="#c8102e"/>
<circle cx="233.95" cy="554.4" r="0.95" fill="#c8102e"/>
<circle cx="238.44" cy="569.35" r="0.95" fill="#c8102e"/>
<circle cx="236.84" cy="561.58" r="0.95" fill="#c8102e"/>
<circle cx="233.49" cy="553.6" r="0.95" fill="#c8102e"/>
<circle cx="237.1" cy="555.68" r="0.95" fill="#c8102e"/>
<circle cx="236.62" cy="569.07" r="0.95" fill="#c8102e"/>
<circle cx="233.95" cy="564.34" r="0.95" fill="#c8102e"/>
<circle cx="235.02" cy="556.92" r="0.95" fill="#c8102e"/>
<circle cx="233.1" cy="551.92" r="0.95" fill="#c8102e"/>
<circle cx="232.09" cy="558.26" r="0.95" fill="#c8102e"/>
<circle cx="233.5" cy="567.93" r="0.95" fill="#c8102e"/>
<circle cx="231.69" cy="563.97" r="0.95" fill="#c8102e"/>
<circle cx="236.64" cy="557.31" r="0.95" fill="#c8102e"/>
<circle cx="233.64" cy="567.34" r="0.95" fill="#c8102e"/>
<circle cx="233.91" cy="561.85" r="0.95" fill="#c8102e"/>
<circle cx="236.92" cy="570.28" r="0.95" fill="#c8102e"/>
<circle cx="238.4" cy="568.6" r="0.95" fill="#c8102e"/>
<circle cx="233.42" cy="558.72" r="0.95" fill="#c8102e"/>
<circle cx="237.21" cy="552" r="0.95" fill="#c8102e"/>
<circle cx="234.47" cy="556.89" r="0.95" fill="#c8102e"/>
<circle cx="237.72" cy="568.66" r="0.95" fill="#c8102e"/>
<circle cx="234.11" cy="568.95" r="0.95" fill="#c8102e"/>
<circle cx="234.98" cy="573.06" r="0.95" fill="#c8102e"/>
<circle cx="232.67" cy="563.36" r="0.95" fill="#c8102e"/>
<circle cx="234.2" cy="568.43" r="0.95" fill="#c8102e"/>
<circle cx="234" cy="559.52" r="0.95" fill="#c8102e"/>
<circle cx="234.16" cy="564.61" r="0.95" fill="#c8102e"/>
<circle cx="236.32" cy="562.96" r="0.95" fill="#c8102e"/>
<circle cx="232.3" cy="561.89" r="0.95" fill="#c8102e"/>
<circle cx="233.51" cy="555.62" r="0.95" fill="#c8102e"/>
<circle cx="237.58" cy="567.37" r="0.95" fill="#c8102e"/>
<circle cx="234.01" cy="561.37" r="0.95" fill="#c8102e"/>
<circle cx="238.36" cy="569.06" r="0.95" fill="#c8102e"/>
<circle cx="237.72" cy="570.13" r="0.95" fill="#c8102e"/>
<circle cx="237.18" cy="558.21" r="0.95" fill="#c8102e"/>
<circle cx="236.73" cy="556.47" r="0.95" fill="#c8102e"/>
<circle cx="237.91" cy="565.73" r="0.95" fill="#c8102e"/>
<circle cx="233.32" cy="573.76" r="0.95" fill="#c8102e"/>
<circle cx="236.64" cy="565.1" r="0.95" fill="#c8102e"/>
<circle cx="235.85" cy="558.18" r="0.95" fill="#c8102e"/>
<circle cx="238.47" cy="559.47" r="0.95" fill="#c8102e"/>
<circle cx="235.49" cy="558.34" r="0.95" fill="#c8102e"/>
<circle cx="238.33" cy="556.65" r="0.95" fill="#c8102e"/>
<circle cx="233.39" cy="555.58" r="0.95" fill="#c8102e"/>
<circle cx="237.88" cy="565.49" r="0.95" fill="#c8102e"/>
<circle cx="232.28" cy="569.44" r="0.95" fill="#c8102e"/>
<circle cx="232.28" cy="560.49" r="0.95" fill="#c8102e"/>
<circle cx="236.89" cy="552.22" r="0.95" fill="#c8102e"/>
<circle cx="232.48" cy="567.35" r="0.95" fill="#c8102e"/>
<circle cx="233.19" cy="570.69" r="0.95" fill="#c8102e"/>
<circle cx="234.33" cy="569.4" r="0.95" fill="#c8102e"/>
<circle cx="232.65" cy="550.28" r="0.95" fill="#c8102e"/>
<circle cx="232.48" cy="567.85" r="0.95" fill="#c8102e"/>
<circle cx="233.06" cy="569.28" r="0.95" fill="#c8102e"/>
<circle cx="238.33" cy="569.07" r="0.95" fill="#c8102e"/>
<circle cx="232.43" cy="567.48" r="0.95" fill="#c8102e"/>
<circle cx="231.72" cy="565.79" r="0.95" fill="#c8102e"/>
<circle cx="234.7" cy="565.08" r="0.95" fill="#c8102e"/>
<circle cx="234.42" cy="549.42" r="0.95" fill="#c8102e"/>
<circle cx="234.96" cy="551.81" r="0.95" fill="#c8102e"/>
<circle cx="236.21" cy="564.49" r="0.95" fill="#c8102e"/>
<circle cx="238.98" cy="558.57" r="0.95" fill="#c8102e"/>
<circle cx="236.02" cy="550.63" r="0.95" fill="#c8102e"/>
<circle cx="233.95" cy="568.61" r="0.95" fill="#c8102e"/>
<circle cx="231.64" cy="565.83" r="0.95" fill="#c8102e"/>
<circle cx="236.52" cy="569.27" r="0.95" fill="#c8102e"/>
<circle cx="235.01" cy="555.53" r="0.95" fill="#c8102e"/>
<circle cx="233.87" cy="558.18" r="0.95" fill="#c8102e"/>
<circle cx="238.35" cy="573.1" r="0.95" fill="#c8102e"/>
<circle cx="235.86" cy="559.35" r="0.95" fill="#c8102e"/>
<circle cx="234.57" cy="572.84" r="0.95" fill="#c8102e"/>
<circle cx="238.74" cy="560.24" r="0.95" fill="#c8102e"/>
<circle cx="234.86" cy="572.98" r="0.95" fill="#c8102e"/>
<circle cx="233.41" cy="569.13" r="0.95" fill="#c8102e"/>
<circle cx="235.44" cy="545" r="0.95" fill="#c8102e"/>
<circle cx="234.6" cy="574.5" r="0.95" fill="#c8102e"/>
<circle cx="234.52" cy="525" r="0.95" fill="#c8102e"/>
<circle cx="235.1" cy="526" r="0.95" fill="#c8102e"/>
<rect x="251.2" y="561.3" width="10.7" height="8.7" fill="#ffffff" stroke="#5a5a5a" stroke-width="0.6" fill-opacity="0.85"/>
<line x1="250.8" y1="565.2" x2="262.3" y2="565.2" stroke="#1a1a1a" stroke-width="1.1"/>
<line x1="256.55" y1="553" x2="256.55" y2="561.3" stroke="#333" stroke-width="0.7"/>
<line x1="256.55" y1="570" x2="256.55" y2="574" stroke="#333" stroke-width="0.7"/>
<circle cx="257.25" cy="569.86" r="0.95" fill="#c4c4c4"/>
<circle cx="258.87" cy="572.69" r="0.95" fill="#c4c4c4"/>
<circle cx="257.73" cy="573.1" r="0.95" fill="#c4c4c4"/>
<circle cx="259.87" cy="562.72" r="0.95" fill="#c4c4c4"/>
<circle cx="254.55" cy="561.37" r="0.95" fill="#c4c4c4"/>
<circle cx="257.52" cy="567.06" r="0.95" fill="#c4c4c4"/>
<circle cx="257.19" cy="558.13" r="0.95" fill="#c4c4c4"/>
<circle cx="252.91" cy="569.73" r="0.95" fill="#c4c4c4"/>
<circle cx="256.33" cy="566.52" r="0.95" fill="#c4c4c4"/>
<circle cx="257.47" cy="561.58" r="0.95" fill="#c4c4c4"/>
<circle cx="254.11" cy="560.74" r="0.95" fill="#c4c4c4"/>
<circle cx="258.69" cy="570.57" r="0.95" fill="#c4c4c4"/>
<circle cx="252.8" cy="564.06" r="0.95" fill="#c4c4c4"/>
<circle cx="256.25" cy="559.52" r="0.95" fill="#c4c4c4"/>
<circle cx="257.53" cy="555.73" r="0.95" fill="#c4c4c4"/>
<circle cx="256.02" cy="566.69" r="0.95" fill="#c4c4c4"/>
<circle cx="257.28" cy="560.06" r="0.95" fill="#c4c4c4"/>
<circle cx="254.75" cy="558.99" r="0.95" fill="#c4c4c4"/>
<circle cx="258.29" cy="566.76" r="0.95" fill="#c4c4c4"/>
<circle cx="257.23" cy="571.57" r="0.95" fill="#c4c4c4"/>
<circle cx="258.38" cy="571.9" r="0.95" fill="#c4c4c4"/>
<circle cx="259.93" cy="565.93" r="0.95" fill="#c4c4c4"/>
<circle cx="256.65" cy="556.18" r="0.95" fill="#c4c4c4"/>
<circle cx="254.75" cy="562.41" r="0.95" fill="#c4c4c4"/>
<circle cx="254.79" cy="570.92" r="0.95" fill="#c4c4c4"/>
<circle cx="258.24" cy="571.74" r="0.95" fill="#c4c4c4"/>
<circle cx="254.38" cy="558.89" r="0.95" fill="#c4c4c4"/>
<circle cx="253.76" cy="567.69" r="0.95" fill="#c4c4c4"/>
<circle cx="258.66" cy="560.86" r="0.95" fill="#c4c4c4"/>
<circle cx="258.58" cy="553.89" r="0.95" fill="#c4c4c4"/>
<circle cx="257.09" cy="563.96" r="0.95" fill="#c4c4c4"/>
<circle cx="259" cy="556.85" r="0.95" fill="#c4c4c4"/>
<circle cx="258.15" cy="558.92" r="0.95" fill="#c4c4c4"/>
<circle cx="254.86" cy="569.74" r="0.95" fill="#c4c4c4"/>
<circle cx="258.75" cy="557.65" r="0.95" fill="#c4c4c4"/>
<circle cx="257.94" cy="559.81" r="0.95" fill="#c4c4c4"/>
<circle cx="256.35" cy="561.43" r="0.95" fill="#c4c4c4"/>
<circle cx="258.81" cy="560.17" r="0.95" fill="#c4c4c4"/>
<circle cx="256.95" cy="560.67" r="0.95" fill="#c4c4c4"/>
<circle cx="254.3" cy="564.21" r="0.95" fill="#c4c4c4"/>
<circle cx="257.48" cy="565.06" r="0.95" fill="#c4c4c4"/>
<circle cx="255.82" cy="555.08" r="0.95" fill="#c4c4c4"/>
<circle cx="257.7" cy="554.07" r="0.95" fill="#c4c4c4"/>
<circle cx="258.38" cy="554.52" r="0.95" fill="#c4c4c4"/>
<circle cx="257.56" cy="570.98" r="0.95" fill="#c4c4c4"/>
<circle cx="257.41" cy="553" r="0.95" fill="#c4c4c4"/>
<circle cx="257.47" cy="574" r="0.95" fill="#c4c4c4"/>
<circle cx="255" cy="548" r="0.95" fill="#c4c4c4"/>
<rect x="265.2" y="560.4" width="9.6" height="8.6" fill="#f4a6d0" stroke="#f08cc4" stroke-width="0.6" fill-opacity="0.85"/>
<line x1="264.8" y1="566.2" x2="275.2" y2="566.2" stroke="#1a1a1a" stroke-width="1.1"/>
<line x1="270" y1="551" x2="270" y2="560.4" stroke="#333" stroke-width="0.7"/>
<line x1="270" y1="569" x2="270" y2="574" stroke="#333" stroke-width="0.7"/>
<circle cx="271.02" cy="573.01" r="0.95" fill="#e6007e"/>
<circle cx="269.77" cy="555.89" r="0.95" fill="#e6007e"/>
<circle cx="269.98" cy="572.87" r="0.95" fill="#e6007e"/>
<circle cx="267.97" cy="562.95" r="0.95" fill="#e6007e"/>
<circle cx="271.56" cy="569.45" r="0.95" fill="#e6007e"/>
<circle cx="268.51" cy="568.61" r="0.95" fill="#e6007e"/>
<circle cx="268.74" cy="572.81" r="0.95" fill="#e6007e"/>
<circle cx="271.06" cy="555.36" r="0.95" fill="#e6007e"/>
<circle cx="270.84" cy="551.48" r="0.95" fill="#e6007e"/>
<circle cx="268.33" cy="573.56" r="0.95" fill="#e6007e"/>
<circle cx="271.6" cy="567.45" r="0.95" fill="#e6007e"/>
<circle cx="271.07" cy="564.51" r="0.95" fill="#e6007e"/>
<circle cx="270.4" cy="565.24" r="0.95" fill="#e6007e"/>
<circle cx="270.5" cy="551.28" r="0.95" fill="#e6007e"/>
<circle cx="269.92" cy="564.6" r="0.95" fill="#e6007e"/>
<circle cx="270.9" cy="554.98" r="0.95" fill="#e6007e"/>
<circle cx="271.72" cy="566.43" r="0.95" fill="#e6007e"/>
<circle cx="271.35" cy="570.61" r="0.95" fill="#e6007e"/>
<circle cx="267.74" cy="563.1" r="0.95" fill="#e6007e"/>
<circle cx="268.44" cy="567.3" r="0.95" fill="#e6007e"/>
<circle cx="267.97" cy="572.45" r="0.95" fill="#e6007e"/>
<circle cx="268.02" cy="571.09" r="0.95" fill="#e6007e"/>
<circle cx="267.22" cy="563.7" r="0.95" fill="#e6007e"/>
<circle cx="267.86" cy="571.91" r="0.95" fill="#e6007e"/>
<circle cx="271.03" cy="561.01" r="0.95" fill="#e6007e"/>
<circle cx="266.99" cy="565.11" r="0.95" fill="#e6007e"/>
<circle cx="272.11" cy="557.85" r="0.95" fill="#e6007e"/>
<circle cx="272.08" cy="571.05" r="0.95" fill="#e6007e"/>
<circle cx="268.05" cy="571.29" r="0.95" fill="#e6007e"/>
<circle cx="271.03" cy="568.82" r="0.95" fill="#e6007e"/>
<circle cx="269.62" cy="559.33" r="0.95" fill="#e6007e"/>
<circle cx="271.73" cy="555.7" r="0.95" fill="#e6007e"/>
<circle cx="269.24" cy="556.51" r="0.95" fill="#e6007e"/>
<circle cx="266.55" cy="561.25" r="0.95" fill="#e6007e"/>
<circle cx="268.58" cy="572.98" r="0.95" fill="#e6007e"/>
<circle cx="270.69" cy="566.11" r="0.95" fill="#e6007e"/>
<circle cx="269.32" cy="555.94" r="0.95" fill="#e6007e"/>
<circle cx="272.85" cy="567.83" r="0.95" fill="#e6007e"/>
<circle cx="270.99" cy="567.93" r="0.95" fill="#e6007e"/>
<circle cx="269.62" cy="567.53" r="0.95" fill="#e6007e"/>
<circle cx="270.55" cy="551" r="0.95" fill="#e6007e"/>
<circle cx="269.89" cy="574" r="0.95" fill="#e6007e"/>
<rect x="279.2" y="556.9" width="9.6" height="10.8" fill="#ababab" stroke="#9a9a9a" stroke-width="0.6" fill-opacity="0.85"/>
<line x1="278.8" y1="563.3" x2="289.2" y2="563.3" stroke="#1a1a1a" stroke-width="1.1"/>
<line x1="284" y1="542" x2="284" y2="556.9" stroke="#333" stroke-width="0.7"/>
<line x1="284" y1="567.7" x2="284" y2="574" stroke="#333" stroke-width="0.7"/>
<circle cx="281.9" cy="567.71" r="0.95" fill="#3f3f3f"/>
<circle cx="286.11" cy="563.86" r="0.95" fill="#3f3f3f"/>
<circle cx="283.34" cy="571.53" r="0.95" fill="#3f3f3f"/>
<circle cx="282.1" cy="568.43" r="0.95" fill="#3f3f3f"/>
<circle cx="283.19" cy="555.16" r="0.95" fill="#3f3f3f"/>
<circle cx="285.67" cy="555.32" r="0.95" fill="#3f3f3f"/>
<circle cx="287.03" cy="560.76" r="0.95" fill="#3f3f3f"/>
<circle cx="285.22" cy="547.42" r="0.95" fill="#3f3f3f"/>
<circle cx="286.47" cy="570.56" r="0.95" fill="#3f3f3f"/>
<circle cx="284.49" cy="548.77" r="0.95" fill="#3f3f3f"/>
<circle cx="284.04" cy="551.75" r="0.95" fill="#3f3f3f"/>
<circle cx="282.01" cy="555.24" r="0.95" fill="#3f3f3f"/>
<circle cx="282.23" cy="554.49" r="0.95" fill="#3f3f3f"/>
<circle cx="282.05" cy="552.08" r="0.95" fill="#3f3f3f"/>
<circle cx="283.37" cy="558.28" r="0.95" fill="#3f3f3f"/>
<circle cx="282.06" cy="569.26" r="0.95" fill="#3f3f3f"/>
<circle cx="281.68" cy="569.16" r="0.95" fill="#3f3f3f"/>
<circle cx="287.06" cy="563.63" r="0.95" fill="#3f3f3f"/>
<circle cx="285.27" cy="554.4" r="0.95" fill="#3f3f3f"/>
<circle cx="282.37" cy="549.16" r="0.95" fill="#3f3f3f"/>
<circle cx="282.97" cy="565.84" r="0.95" fill="#3f3f3f"/>
<circle cx="282.13" cy="570.45" r="0.95" fill="#3f3f3f"/>
<circle cx="282.75" cy="564.93" r="0.95" fill="#3f3f3f"/>
<circle cx="284.49" cy="573.95" r="0.95" fill="#3f3f3f"/>
<circle cx="283.19" cy="553.3" r="0.95" fill="#3f3f3f"/>
<circle cx="285.26" cy="548.85" r="0.95" fill="#3f3f3f"/>
<circle cx="282.58" cy="559.8" r="0.95" fill="#3f3f3f"/>
<circle cx="286.06" cy="563.74" r="0.95" fill="#3f3f3f"/>
<circle cx="283.65" cy="553.68" r="0.95" fill="#3f3f3f"/>
<circle cx="283.28" cy="552.99" r="0.95" fill="#3f3f3f"/>
<circle cx="283.99" cy="573.23" r="0.95" fill="#3f3f3f"/>
<circle cx="281.64" cy="558.49" r="0.95" fill="#3f3f3f"/>
<circle cx="282.69" cy="567.46" r="0.95" fill="#3f3f3f"/>
<circle cx="285.4" cy="556.2" r="0.95" fill="#3f3f3f"/>
<circle cx="282.85" cy="564.23" r="0.95" fill="#3f3f3f"/>
<circle cx="282.91" cy="572.99" r="0.95" fill="#3f3f3f"/>
<circle cx="282.07" cy="564.01" r="0.95" fill="#3f3f3f"/>
<circle cx="284.36" cy="556.6" r="0.95" fill="#3f3f3f"/>
<circle cx="283.96" cy="566.85" r="0.95" fill="#3f3f3f"/>
<circle cx="284.38" cy="554.76" r="0.95" fill="#3f3f3f"/>
<circle cx="284.85" cy="543.72" r="0.95" fill="#3f3f3f"/>
<circle cx="283.34" cy="561.47" r="0.95" fill="#3f3f3f"/>
<circle cx="282.51" cy="572.44" r="0.95" fill="#3f3f3f"/>
<circle cx="280.89" cy="561.2" r="0.95" fill="#3f3f3f"/>
<circle cx="284.74" cy="569.06" r="0.95" fill="#3f3f3f"/>
<circle cx="283.51" cy="564.25" r="0.95" fill="#3f3f3f"/>
<circle cx="282.28" cy="554.19" r="0.95" fill="#3f3f3f"/>
<circle cx="283.9" cy="549.3" r="0.95" fill="#3f3f3f"/>
<circle cx="282.33" cy="561.51" r="0.95" fill="#3f3f3f"/>
<circle cx="283.43" cy="570.85" r="0.95" fill="#3f3f3f"/>
<circle cx="282.08" cy="558.17" r="0.95" fill="#3f3f3f"/>
<circle cx="282.74" cy="569.16" r="0.95" fill="#3f3f3f"/>
<circle cx="285.67" cy="555.11" r="0.95" fill="#3f3f3f"/>
<circle cx="284.53" cy="567.83" r="0.95" fill="#3f3f3f"/>
<circle cx="286.15" cy="573.89" r="0.95" fill="#3f3f3f"/>
<circle cx="281.88" cy="559.68" r="0.95" fill="#3f3f3f"/>
<circle cx="282.55" cy="565.02" r="0.95" fill="#3f3f3f"/>
<circle cx="280.98" cy="559.59" r="0.95" fill="#3f3f3f"/>
<circle cx="287.08" cy="558.68" r="0.95" fill="#3f3f3f"/>
<circle cx="282.01" cy="566.98" r="0.95" fill="#3f3f3f"/>
<circle cx="286.23" cy="568.16" r="0.95" fill="#3f3f3f"/>
<circle cx="283.92" cy="562.17" r="0.95" fill="#3f3f3f"/>
<circle cx="281.42" cy="565.86" r="0.95" fill="#3f3f3f"/>
<circle cx="286.09" cy="547.95" r="0.95" fill="#3f3f3f"/>
<circle cx="283.58" cy="562" r="0.95" fill="#3f3f3f"/>
<circle cx="283.69" cy="557.77" r="0.95" fill="#3f3f3f"/>
<circle cx="282.25" cy="556.85" r="0.95" fill="#3f3f3f"/>
<circle cx="286.41" cy="573.45" r="0.95" fill="#3f3f3f"/>
<circle cx="281.27" cy="564.28" r="0.95" fill="#3f3f3f"/>
<circle cx="282.94" cy="566.68" r="0.95" fill="#3f3f3f"/>
<circle cx="283.61" cy="542" r="0.95" fill="#3f3f3f"/>
<circle cx="283.09" cy="574" r="0.95" fill="#3f3f3f"/>
<circle cx="285" cy="521" r="0.95" fill="#3f3f3f"/>
<circle cx="282.46" cy="524" r="0.95" fill="#3f3f3f"/>
<circle cx="286.27" cy="526" r="0.95" fill="#3f3f3f"/>
<circle cx="281.62" cy="538" r="0.95" fill="#3f3f3f"/>
<rect x="297.3" y="558.5" width="11.2" height="9.5" fill="#fcc98c" stroke="#f9b060" stroke-width="0.6" fill-opacity="0.85"/>
<line x1="296.9" y1="563.8" x2="308.9" y2="563.8" stroke="#1a1a1a" stroke-width="1.1"/>
<line x1="302.9" y1="546" x2="302.9" y2="558.5" stroke="#333" stroke-width="0.7"/>
<line x1="302.9" y1="568" x2="302.9" y2="574" stroke="#333" stroke-width="0.7"/>
<circle cx="302.91" cy="557.13" r="0.95" fill="#f7931e"/>
<circle cx="305.32" cy="568.05" r="0.95" fill="#f7931e"/>
<circle cx="303.84" cy="549.56" r="0.95" fill="#f7931e"/>
<circle cx="299.83" cy="559.7" r="0.95" fill="#f7931e"/>
<circle cx="300.98" cy="565.85" r="0.95" fill="#f7931e"/>
<circle cx="301.21" cy="572.31" r="0.95" fill="#f7931e"/>
<circle cx="304.59" cy="558.52" r="0.95" fill="#f7931e"/>
<circle cx="305.29" cy="567.4" r="0.95" fill="#f7931e"/>
<circle cx="302.34" cy="570.95" r="0.95" fill="#f7931e"/>
<circle cx="305.39" cy="551.93" r="0.95" fill="#f7931e"/>
<circle cx="301.32" cy="549.76" r="0.95" fill="#f7931e"/>
<circle cx="301.31" cy="559.14" r="0.95" fill="#f7931e"/>
<circle cx="305.1" cy="551.21" r="0.95" fill="#f7931e"/>
<circle cx="303.29" cy="573.92" r="0.95" fill="#f7931e"/>
<circle cx="306.25" cy="564.6" r="0.95" fill="#f7931e"/>
<circle cx="304.76" cy="558.67" r="0.95" fill="#f7931e"/>
<circle cx="300.05" cy="562.86" r="0.95" fill="#f7931e"/>
<circle cx="304.7" cy="563.11" r="0.95" fill="#f7931e"/>
<circle cx="305.36" cy="567.7" r="0.95" fill="#f7931e"/>
<circle cx="305.08" cy="552.82" r="0.95" fill="#f7931e"/>
<circle cx="300.88" cy="552" r="0.95" fill="#f7931e"/>
<circle cx="301.62" cy="559.91" r="0.95" fill="#f7931e"/>
<circle cx="302.1" cy="568.82" r="0.95" fill="#f7931e"/>
<circle cx="300.57" cy="566.79" r="0.95" fill="#f7931e"/>
<circle cx="302.94" cy="563.19" r="0.95" fill="#f7931e"/>
<circle cx="299.04" cy="560.11" r="0.95" fill="#f7931e"/>
<circle cx="299.34" cy="564.06" r="0.95" fill="#f7931e"/>
<circle cx="303.53" cy="568.25" r="0.95" fill="#f7931e"/>
<circle cx="303.82" cy="558.33" r="0.95" fill="#f7931e"/>
<circle cx="304.4" cy="556.03" r="0.95" fill="#f7931e"/>
<circle cx="301.7" cy="546" r="0.95" fill="#f7931e"/>
<circle cx="302.21" cy="574" r="0.95" fill="#f7931e"/>
<circle cx="302.87" cy="530" r="0.95" fill="#f7931e"/>
<rect x="312.7" y="560.4" width="11.1" height="6.7" fill="#94b3d6" stroke="#7fa2cc" stroke-width="0.6" fill-opacity="0.85"/>
<line x1="312.3" y1="563.3" x2="324.2" y2="563.3" stroke="#1a1a1a" stroke-width="1.1"/>
<line x1="318.25" y1="551" x2="318.25" y2="560.4" stroke="#333" stroke-width="0.7"/>
<line x1="318.25" y1="567.1" x2="318.25" y2="574" stroke="#333" stroke-width="0.7"/>
<circle cx="319.14" cy="565.05" r="0.95" fill="#1d4f8c"/>
<circle cx="321.62" cy="566.81" r="0.95" fill="#1d4f8c"/>
<circle cx="317.03" cy="567.81" r="0.95" fill="#1d4f8c"/>
<circle cx="321.53" cy="562.58" r="0.95" fill="#1d4f8c"/>
<circle cx="318.18" cy="572.56" r="0.95" fill="#1d4f8c"/>
<circle cx="316.81" cy="572.58" r="0.95" fill="#1d4f8c"/>
<circle cx="318.64" cy="563.25" r="0.95" fill="#1d4f8c"/>
<circle cx="319.87" cy="573.23" r="0.95" fill="#1d4f8c"/>
<circle cx="319.94" cy="562.09" r="0.95" fill="#1d4f8c"/>
<circle cx="316.06" cy="564.28" r="0.95" fill="#1d4f8c"/>
<circle cx="320.93" cy="560.29" r="0.95" fill="#1d4f8c"/>
<circle cx="319.91" cy="564.97" r="0.95" fill="#1d4f8c"/>
<circle cx="321.07" cy="559.33" r="0.95" fill="#1d4f8c"/>
<circle cx="321.05" cy="560.72" r="0.95" fill="#1d4f8c"/>
<circle cx="315.26" cy="561.53" r="0.95" fill="#1d4f8c"/>
<circle cx="316.47" cy="557.62" r="0.95" fill="#1d4f8c"/>
<circle cx="319.74" cy="562.49" r="0.95" fill="#1d4f8c"/>
<circle cx="318.32" cy="558.75" r="0.95" fill="#1d4f8c"/>
<circle cx="317.43" cy="556.59" r="0.95" fill="#1d4f8c"/>
<circle cx="320.35" cy="567.05" r="0.95" fill="#1d4f8c"/>
<circle cx="318.72" cy="559.88" r="0.95" fill="#1d4f8c"/>
<circle cx="316.31" cy="561.57" r="0.95" fill="#1d4f8c"/>
<circle cx="317.86" cy="570.28" r="0.95" fill="#1d4f8c"/>
<circle cx="319.93" cy="566.57" r="0.95" fill="#1d4f8c"/>
<circle cx="318.92" cy="563.42" r="0.95" fill="#1d4f8c"/>
<circle cx="314.95" cy="563.91" r="0.95" fill="#1d4f8c"/>
<circle cx="315.44" cy="556.97" r="0.95" fill="#1d4f8c"/>
<circle cx="315.61" cy="558.33" r="0.95" fill="#1d4f8c"/>
<circle cx="318.79" cy="571.41" r="0.95" fill="#1d4f8c"/>
<circle cx="315.3" cy="562.68" r="0.95" fill="#1d4f8c"/>
<circle cx="315.43" cy="559.18" r="0.95" fill="#1d4f8c"/>
<circle cx="318.27" cy="568.45" r="0.95" fill="#1d4f8c"/>
<circle cx="320.09" cy="566.87" r="0.95" fill="#1d4f8c"/>
<circle cx="316.54" cy="559.78" r="0.95" fill="#1d4f8c"/>
<circle cx="318.69" cy="554.18" r="0.95" fill="#1d4f8c"/>
<circle cx="318.83" cy="551" r="0.95" fill="#1d4f8c"/>
<circle cx="318.45" cy="574" r="0.95" fill="#1d4f8c"/>
<rect x="328" y="559.4" width="11.2" height="9.6" fill="#c6c6c6" stroke="#b5b5b5" stroke-width="0.6" fill-opacity="0.85"/>
<line x1="327.6" y1="564.2" x2="339.6" y2="564.2" stroke="#1a1a1a" stroke-width="1.1"/>
<line x1="333.6" y1="548" x2="333.6" y2="559.4" stroke="#333" stroke-width="0.7"/>
<line x1="333.6" y1="569" x2="333.6" y2="574" stroke="#333" stroke-width="0.7"/>
<circle cx="335.73" cy="552.07" r="0.95" fill="#909090"/>
<circle cx="331.96" cy="562.93" r="0.95" fill="#909090"/>
<circle cx="334.73" cy="573.66" r="0.95" fill="#909090"/>
<circle cx="335.93" cy="561.17" r="0.95" fill="#909090"/>
<circle cx="336.44" cy="566.68" r="0.95" fill="#909090"/>
<circle cx="334.44" cy="570.52" r="0.95" fill="#909090"/>
<circle cx="331.06" cy="549.37" r="0.95" fill="#909090"/>
<circle cx="331.05" cy="556.94" r="0.95" fill="#909090"/>
<circle cx="336.03" cy="566.84" r="0.95" fill="#909090"/>
<circle cx="334.66" cy="568.17" r="0.95" fill="#909090"/>
<circle cx="336.75" cy="567.55" r="0.95" fill="#909090"/>
<circle cx="331.99" cy="550.77" r="0.95" fill="#909090"/>
<circle cx="336.43" cy="570.69" r="0.95" fill="#909090"/>
<circle cx="334.81" cy="571.21" r="0.95" fill="#909090"/>
<circle cx="337.5" cy="564.53" r="0.95" fill="#909090"/>
<circle cx="335.53" cy="561.62" r="0.95" fill="#909090"/>
<circle cx="331.42" cy="573.33" r="0.95" fill="#909090"/>
<circle cx="331.3" cy="565.2" r="0.95" fill="#909090"/>
<circle cx="334.43" cy="571.93" r="0.95" fill="#909090"/>
<circle cx="335.39" cy="569.19" r="0.95" fill="#909090"/>
<circle cx="331.88" cy="570.32" r="0.95" fill="#909090"/>
<circle cx="331.74" cy="564.43" r="0.95" fill="#909090"/>
<circle cx="330.54" cy="567.25" r="0.95" fill="#909090"/>
<circle cx="331.39" cy="564.37" r="0.95" fill="#909090"/>
<circle cx="331.79" cy="557.2" r="0.95" fill="#909090"/>
<circle cx="329.97" cy="566.31" r="0.95" fill="#909090"/>
<circle cx="330.75" cy="559.22" r="0.95" fill="#909090"/>
<circle cx="333.73" cy="573.68" r="0.95" fill="#909090"/>
<circle cx="332.49" cy="561.34" r="0.95" fill="#909090"/>
<circle cx="332.41" cy="553.43" r="0.95" fill="#909090"/>
<circle cx="332.5" cy="548.56" r="0.95" fill="#909090"/>
<circle cx="335.67" cy="554.75" r="0.95" fill="#909090"/>
<circle cx="337.51" cy="563.15" r="0.95" fill="#909090"/>
<circle cx="335.19" cy="561.99" r="0.95" fill="#909090"/>
<circle cx="332.85" cy="568.29" r="0.95" fill="#909090"/>
<circle cx="330.7" cy="555.82" r="0.95" fill="#909090"/>
<circle cx="335.81" cy="553.43" r="0.95" fill="#909090"/>
<circle cx="336.42" cy="567.29" r="0.95" fill="#909090"/>
<circle cx="335.52" cy="559.32" r="0.95" fill="#909090"/>
<circle cx="332.08" cy="554.25" r="0.95" fill="#909090"/>
<circle cx="330.88" cy="560.1" r="0.95" fill="#909090"/>
<circle cx="330.74" cy="571.84" r="0.95" fill="#909090"/>
<circle cx="336.7" cy="565.47" r="0.95" fill="#909090"/>
<circle cx="330.38" cy="567.05" r="0.95" fill="#909090"/>
<circle cx="335.98" cy="555.6" r="0.95" fill="#909090"/>
<circle cx="334.83" cy="571.07" r="0.95" fill="#909090"/>
<circle cx="336.18" cy="561.32" r="0.95" fill="#909090"/>
<circle cx="336.06" cy="570.82" r="0.95" fill="#909090"/>
<circle cx="335.77" cy="553.68" r="0.95" fill="#909090"/>
<circle cx="329.6" cy="559.59" r="0.95" fill="#909090"/>
<circle cx="335.77" cy="571.49" r="0.95" fill="#909090"/>
<circle cx="331.34" cy="555.31" r="0.95" fill="#909090"/>
<circle cx="337.09" cy="564.72" r="0.95" fill="#909090"/>
<circle cx="333.34" cy="556.64" r="0.95" fill="#909090"/>
<circle cx="334.84" cy="552.89" r="0.95" fill="#909090"/>
<circle cx="331.06" cy="550.63" r="0.95" fill="#909090"/>
<circle cx="333.04" cy="570.22" r="0.95" fill="#909090"/>
<circle cx="334.36" cy="570.43" r="0.95" fill="#909090"/>
<circle cx="332.79" cy="553.5" r="0.95" fill="#909090"/>
<circle cx="334.73" cy="570.98" r="0.95" fill="#909090"/>
<circle cx="336.08" cy="551.32" r="0.95" fill="#909090"/>
<circle cx="331.05" cy="572.61" r="0.95" fill="#909090"/>
<circle cx="331.26" cy="573.67" r="0.95" fill="#909090"/>
<circle cx="336.09" cy="571.05" r="0.95" fill="#909090"/>
<circle cx="331.72" cy="555.66" r="0.95" fill="#909090"/>
<circle cx="335.79" cy="570.23" r="0.95" fill="#909090"/>
<circle cx="331.91" cy="554.66" r="0.95" fill="#909090"/>
<circle cx="331.4" cy="572.43" r="0.95" fill="#909090"/>
<circle cx="330.83" cy="569.07" r="0.95" fill="#909090"/>
<circle cx="334.27" cy="570.26" r="0.95" fill="#909090"/>
<circle cx="333.53" cy="566.22" r="0.95" fill="#909090"/>
<circle cx="333.41" cy="571" r="0.95" fill="#909090"/>
<circle cx="331.21" cy="566.03" r="0.95" fill="#909090"/>
<circle cx="330.91" cy="570.09" r="0.95" fill="#909090"/>
<circle cx="332.23" cy="552.87" r="0.95" fill="#909090"/>
<circle cx="333.57" cy="570.06" r="0.95" fill="#909090"/>
<circle cx="337.36" cy="566.1" r="0.95" fill="#909090"/>
<circle cx="333.72" cy="569.14" r="0.95" fill="#909090"/>
<circle cx="336.27" cy="567.58" r="0.95" fill="#909090"/>
<circle cx="332.43" cy="571.68" r="0.95" fill="#909090"/>
<circle cx="332.85" cy="556.7" r="0.95" fill="#909090"/>
<circle cx="336.68" cy="560" r="0.95" fill="#909090"/>
<circle cx="332.18" cy="573.76" r="0.95" fill="#909090"/>
<circle cx="335.91" cy="569.85" r="0.95" fill="#909090"/>
<circle cx="334.21" cy="563.55" r="0.95" fill="#909090"/>
<circle cx="334.08" cy="548" r="0.95" fill="#909090"/>
<circle cx="334.86" cy="574" r="0.95" fill="#909090"/>
<circle cx="331.45" cy="521" r="0.95" fill="#909090"/>
<circle cx="332.08" cy="545" r="0.95" fill="#909090"/>
<path d="M208.5 503V576.8H245.4" stroke="#1a1a1a" stroke-width="1.15" fill="none"/>
<path d="M247.9 503V576.8H290.2" stroke="#1a1a1a" stroke-width="1.15" fill="none"/>
<path d="M293.5 503V576.8H341.2" stroke="#1a1a1a" stroke-width="1.15" fill="none"/>
<line x1="219.1" y1="576.8" x2="219.1" y2="579.2" stroke="#1a1a1a" stroke-width="0.8"/>
<line x1="235.35" y1="576.8" x2="235.35" y2="579.2" stroke="#1a1a1a" stroke-width="0.8"/>
<line x1="256.55" y1="576.8" x2="256.55" y2="579.2" stroke="#1a1a1a" stroke-width="0.8"/>
<line x1="270" y1="576.8" x2="270" y2="579.2" stroke="#1a1a1a" stroke-width="0.8"/>
<line x1="284" y1="576.8" x2="284" y2="579.2" stroke="#1a1a1a" stroke-width="0.8"/>
<line x1="302.9" y1="576.8" x2="302.9" y2="579.2" stroke="#1a1a1a" stroke-width="0.8"/>
<line x1="318.25" y1="576.8" x2="318.25" y2="579.2" stroke="#1a1a1a" stroke-width="0.8"/>
<line x1="333.6" y1="576.8" x2="333.6" y2="579.2" stroke="#1a1a1a" stroke-width="0.8"/>
<rect x="383.9" y="565.9" width="13" height="7" fill="#cacaca" stroke="#b8b8b8" stroke-width="0.6" fill-opacity="0.85"/>
<line x1="383.5" y1="571.5" x2="397.3" y2="571.5" stroke="#1a1a1a" stroke-width="1.1"/>
<line x1="390.4" y1="560" x2="390.4" y2="565.9" stroke="#333" stroke-width="0.7"/>
<line x1="390.4" y1="572.9" x2="390.4" y2="575" stroke="#333" stroke-width="0.7"/>
<circle cx="391.45" cy="569.87" r="0.95" fill="#a0a0a0"/>
<circle cx="392.9" cy="573.53" r="0.95" fill="#a0a0a0"/>
<circle cx="387.37" cy="563.88" r="0.95" fill="#a0a0a0"/>
<circle cx="388.61" cy="571.13" r="0.95" fill="#a0a0a0"/>
<circle cx="393.12" cy="568.16" r="0.95" fill="#a0a0a0"/>
<circle cx="393.12" cy="569.06" r="0.95" fill="#a0a0a0"/>
<circle cx="390.05" cy="560.4" r="0.95" fill="#a0a0a0"/>
<circle cx="392.06" cy="560.86" r="0.95" fill="#a0a0a0"/>
<circle cx="386.24" cy="569.51" r="0.95" fill="#a0a0a0"/>
<circle cx="393.01" cy="564.02" r="0.95" fill="#a0a0a0"/>
<circle cx="387.24" cy="573.59" r="0.95" fill="#a0a0a0"/>
<circle cx="393.24" cy="568.51" r="0.95" fill="#a0a0a0"/>
<circle cx="390.51" cy="573.6" r="0.95" fill="#a0a0a0"/>
<circle cx="391.43" cy="560.38" r="0.95" fill="#a0a0a0"/>
<circle cx="387.25" cy="569.73" r="0.95" fill="#a0a0a0"/>
<circle cx="391.07" cy="564.24" r="0.95" fill="#a0a0a0"/>
<circle cx="388.1" cy="570.05" r="0.95" fill="#a0a0a0"/>
<circle cx="387.18" cy="571.88" r="0.95" fill="#a0a0a0"/>
<circle cx="388.35" cy="568.98" r="0.95" fill="#a0a0a0"/>
<circle cx="393.19" cy="573.11" r="0.95" fill="#a0a0a0"/>
<circle cx="392.49" cy="574.71" r="0.95" fill="#a0a0a0"/>
<circle cx="388.72" cy="574.41" r="0.95" fill="#a0a0a0"/>
<circle cx="391.51" cy="561.94" r="0.95" fill="#a0a0a0"/>
<circle cx="387.29" cy="564.26" r="0.95" fill="#a0a0a0"/>
<circle cx="389.54" cy="568.13" r="0.95" fill="#a0a0a0"/>
<circle cx="390.87" cy="574.78" r="0.95" fill="#a0a0a0"/>
<circle cx="390.19" cy="572.94" r="0.95" fill="#a0a0a0"/>
<circle cx="387.94" cy="574.78" r="0.95" fill="#a0a0a0"/>
<circle cx="391.54" cy="569.36" r="0.95" fill="#a0a0a0"/>
<circle cx="389.31" cy="573.35" r="0.95" fill="#a0a0a0"/>
<circle cx="390.67" cy="573.2" r="0.95" fill="#a0a0a0"/>
<circle cx="389.34" cy="570.14" r="0.95" fill="#a0a0a0"/>
<circle cx="392.03" cy="568.92" r="0.95" fill="#a0a0a0"/>
<circle cx="393.88" cy="572.31" r="0.95" fill="#a0a0a0"/>
<circle cx="392.53" cy="572.34" r="0.95" fill="#a0a0a0"/>
<circle cx="392.89" cy="574.87" r="0.95" fill="#a0a0a0"/>
<circle cx="390.73" cy="568.23" r="0.95" fill="#a0a0a0"/>
<circle cx="390.27" cy="573.79" r="0.95" fill="#a0a0a0"/>
<circle cx="393.67" cy="573.31" r="0.95" fill="#a0a0a0"/>
<circle cx="388.38" cy="560.46" r="0.95" fill="#a0a0a0"/>
<circle cx="386.35" cy="567.65" r="0.95" fill="#a0a0a0"/>
<circle cx="389.33" cy="564.06" r="0.95" fill="#a0a0a0"/>
<circle cx="388.88" cy="566.12" r="0.95" fill="#a0a0a0"/>
<circle cx="391.63" cy="574.87" r="0.95" fill="#a0a0a0"/>
<circle cx="388.04" cy="571.24" r="0.95" fill="#a0a0a0"/>
<circle cx="391.15" cy="573.97" r="0.95" fill="#a0a0a0"/>
<circle cx="392.39" cy="566.61" r="0.95" fill="#a0a0a0"/>
<circle cx="393.75" cy="572.18" r="0.95" fill="#a0a0a0"/>
<circle cx="390.37" cy="565.02" r="0.95" fill="#a0a0a0"/>
<circle cx="385.93" cy="570.2" r="0.95" fill="#a0a0a0"/>
<circle cx="392.8" cy="564.61" r="0.95" fill="#a0a0a0"/>
<circle cx="388.68" cy="574.9" r="0.95" fill="#a0a0a0"/>
<circle cx="388.32" cy="570.81" r="0.95" fill="#a0a0a0"/>
<circle cx="387.02" cy="569.61" r="0.95" fill="#a0a0a0"/>
<circle cx="389.88" cy="569.24" r="0.95" fill="#a0a0a0"/>
<circle cx="386.56" cy="569.1" r="0.95" fill="#a0a0a0"/>
<circle cx="390.01" cy="573.54" r="0.95" fill="#a0a0a0"/>
<circle cx="391.77" cy="570.76" r="0.95" fill="#a0a0a0"/>
<circle cx="390.57" cy="574.82" r="0.95" fill="#a0a0a0"/>
<circle cx="393.61" cy="572.46" r="0.95" fill="#a0a0a0"/>
<circle cx="387.19" cy="564.32" r="0.95" fill="#a0a0a0"/>
<circle cx="388.43" cy="561.5" r="0.95" fill="#a0a0a0"/>
<circle cx="388.13" cy="571.01" r="0.95" fill="#a0a0a0"/>
<circle cx="391.7" cy="572.71" r="0.95" fill="#a0a0a0"/>
<circle cx="391.5" cy="561.97" r="0.95" fill="#a0a0a0"/>
<circle cx="390.99" cy="567.76" r="0.95" fill="#a0a0a0"/>
<circle cx="389.17" cy="569.14" r="0.95" fill="#a0a0a0"/>
<circle cx="393.44" cy="562.67" r="0.95" fill="#a0a0a0"/>
<circle cx="389.25" cy="570.18" r="0.95" fill="#a0a0a0"/>
<circle cx="389.83" cy="567.82" r="0.95" fill="#a0a0a0"/>
<circle cx="387.73" cy="572.77" r="0.95" fill="#a0a0a0"/>
<circle cx="389.37" cy="573.75" r="0.95" fill="#a0a0a0"/>
<circle cx="387.12" cy="562.61" r="0.95" fill="#a0a0a0"/>
<circle cx="387.4" cy="564.23" r="0.95" fill="#a0a0a0"/>
<circle cx="393.24" cy="574.26" r="0.95" fill="#a0a0a0"/>
<circle cx="391.31" cy="572.26" r="0.95" fill="#a0a0a0"/>
<circle cx="390.34" cy="574.72" r="0.95" fill="#a0a0a0"/>
<circle cx="389.21" cy="568.35" r="0.95" fill="#a0a0a0"/>
<circle cx="388.14" cy="565.43" r="0.95" fill="#a0a0a0"/>
<circle cx="389.01" cy="571.46" r="0.95" fill="#a0a0a0"/>
<circle cx="391.72" cy="568.23" r="0.95" fill="#a0a0a0"/>
<circle cx="387.09" cy="574.67" r="0.95" fill="#a0a0a0"/>
<circle cx="394.06" cy="571.35" r="0.95" fill="#a0a0a0"/>
<circle cx="386.37" cy="569.95" r="0.95" fill="#a0a0a0"/>
<circle cx="392.62" cy="570.62" r="0.95" fill="#a0a0a0"/>
<circle cx="388.81" cy="571.66" r="0.95" fill="#a0a0a0"/>
<circle cx="390.17" cy="572.62" r="0.95" fill="#a0a0a0"/>
<circle cx="392.26" cy="570.66" r="0.95" fill="#a0a0a0"/>
<circle cx="392.67" cy="566.75" r="0.95" fill="#a0a0a0"/>
<circle cx="391.89" cy="568.42" r="0.95" fill="#a0a0a0"/>
<circle cx="393.08" cy="574.02" r="0.95" fill="#a0a0a0"/>
<circle cx="391.11" cy="564.89" r="0.95" fill="#a0a0a0"/>
<circle cx="386.56" cy="568.38" r="0.95" fill="#a0a0a0"/>
<circle cx="390.68" cy="569.19" r="0.95" fill="#a0a0a0"/>
<circle cx="394.69" cy="567.61" r="0.95" fill="#a0a0a0"/>
<circle cx="388.44" cy="574.43" r="0.95" fill="#a0a0a0"/>
<circle cx="393.17" cy="570.55" r="0.95" fill="#a0a0a0"/>
<circle cx="393.32" cy="572.97" r="0.95" fill="#a0a0a0"/>
<circle cx="392.24" cy="572.87" r="0.95" fill="#a0a0a0"/>
<circle cx="391.98" cy="569.39" r="0.95" fill="#a0a0a0"/>
<circle cx="389.64" cy="573.33" r="0.95" fill="#a0a0a0"/>
<circle cx="386.7" cy="568.25" r="0.95" fill="#a0a0a0"/>
<circle cx="390.85" cy="574.61" r="0.95" fill="#a0a0a0"/>
<circle cx="392.54" cy="564" r="0.95" fill="#a0a0a0"/>
<circle cx="388.09" cy="562.97" r="0.95" fill="#a0a0a0"/>
<circle cx="392.53" cy="574.97" r="0.95" fill="#a0a0a0"/>
<circle cx="389.3" cy="573.42" r="0.95" fill="#a0a0a0"/>
<circle cx="387.56" cy="574.65" r="0.95" fill="#a0a0a0"/>
<circle cx="391.49" cy="573.67" r="0.95" fill="#a0a0a0"/>
<circle cx="387.76" cy="573.98" r="0.95" fill="#a0a0a0"/>
<circle cx="389.29" cy="560" r="0.95" fill="#a0a0a0"/>
<circle cx="389.65" cy="575" r="0.95" fill="#a0a0a0"/>
<circle cx="389.87" cy="535" r="0.95" fill="#a0a0a0"/>
<circle cx="390.6" cy="545" r="0.95" fill="#a0a0a0"/>
<circle cx="392.63" cy="547" r="0.95" fill="#a0a0a0"/>
<circle cx="388.85" cy="555" r="0.95" fill="#a0a0a0"/>
<circle cx="388.87" cy="560" r="0.95" fill="#a0a0a0"/>
<rect x="401.2" y="537.9" width="12.7" height="12.8" fill="#ee9aaa" stroke="#e888a0" stroke-width="0.6" fill-opacity="0.85"/>
<line x1="400.8" y1="544.3" x2="414.3" y2="544.3" stroke="#1a1a1a" stroke-width="1.1"/>
<line x1="407.55" y1="526" x2="407.55" y2="537.9" stroke="#333" stroke-width="0.7"/>
<line x1="407.55" y1="550.7" x2="407.55" y2="568" stroke="#333" stroke-width="0.7"/>
<circle cx="405.72" cy="532.36" r="0.95" fill="#c8102e"/>
<circle cx="408.55" cy="557.83" r="0.95" fill="#c8102e"/>
<circle cx="404.86" cy="553.79" r="0.95" fill="#c8102e"/>
<circle cx="410.56" cy="566.39" r="0.95" fill="#c8102e"/>
<circle cx="408.58" cy="549.03" r="0.95" fill="#c8102e"/>
<circle cx="410.01" cy="535.77" r="0.95" fill="#c8102e"/>
<circle cx="411.33" cy="543.03" r="0.95" fill="#c8102e"/>
<circle cx="409.42" cy="544.33" r="0.95" fill="#c8102e"/>
<circle cx="405.7" cy="558.34" r="0.95" fill="#c8102e"/>
<circle cx="409.84" cy="553.03" r="0.95" fill="#c8102e"/>
<circle cx="411.27" cy="543" r="0.95" fill="#c8102e"/>
<circle cx="410.8" cy="536.59" r="0.95" fill="#c8102e"/>
<circle cx="410.45" cy="555.87" r="0.95" fill="#c8102e"/>
<circle cx="409.98" cy="543.05" r="0.95" fill="#c8102e"/>
<circle cx="406.75" cy="531.98" r="0.95" fill="#c8102e"/>
<circle cx="405.55" cy="551.85" r="0.95" fill="#c8102e"/>
<circle cx="407.92" cy="526.3" r="0.95" fill="#c8102e"/>
<circle cx="409.75" cy="547.29" r="0.95" fill="#c8102e"/>
<circle cx="410.16" cy="532.49" r="0.95" fill="#c8102e"/>
<circle cx="407.17" cy="536.03" r="0.95" fill="#c8102e"/>
<circle cx="405.93" cy="534.52" r="0.95" fill="#c8102e"/>
<circle cx="405.28" cy="549.2" r="0.95" fill="#c8102e"/>
<circle cx="410.47" cy="542.61" r="0.95" fill="#c8102e"/>
<circle cx="409.36" cy="536.68" r="0.95" fill="#c8102e"/>
<circle cx="404.37" cy="530.91" r="0.95" fill="#c8102e"/>
<circle cx="406.13" cy="544.92" r="0.95" fill="#c8102e"/>
<circle cx="405.65" cy="558.74" r="0.95" fill="#c8102e"/>
<circle cx="403.08" cy="549.2" r="0.95" fill="#c8102e"/>
<circle cx="411.87" cy="547.43" r="0.95" fill="#c8102e"/>
<circle cx="405.8" cy="542.67" r="0.95" fill="#c8102e"/>
<circle cx="403.5" cy="550.53" r="0.95" fill="#c8102e"/>
<circle cx="405.27" cy="544.5" r="0.95" fill="#c8102e"/>
<circle cx="404.63" cy="528.2" r="0.95" fill="#c8102e"/>
<circle cx="404.83" cy="558.06" r="0.95" fill="#c8102e"/>
<circle cx="403.38" cy="547.6" r="0.95" fill="#c8102e"/>
<circle cx="407.07" cy="550.48" r="0.95" fill="#c8102e"/>
<circle cx="411.23" cy="542.91" r="0.95" fill="#c8102e"/>
<circle cx="405.68" cy="529.39" r="0.95" fill="#c8102e"/>
<circle cx="407.71" cy="541.25" r="0.95" fill="#c8102e"/>
<circle cx="406.18" cy="537.27" r="0.95" fill="#c8102e"/>
<circle cx="408.04" cy="558.1" r="0.95" fill="#c8102e"/>
<circle cx="411.51" cy="543.75" r="0.95" fill="#c8102e"/>
<circle cx="408.95" cy="552.97" r="0.95" fill="#c8102e"/>
<circle cx="411.37" cy="544.88" r="0.95" fill="#c8102e"/>
<circle cx="405.24" cy="534.63" r="0.95" fill="#c8102e"/>
<circle cx="407.47" cy="565.71" r="0.95" fill="#c8102e"/>
<circle cx="405.83" cy="542.31" r="0.95" fill="#c8102e"/>
<circle cx="408.65" cy="565.8" r="0.95" fill="#c8102e"/>
<circle cx="409.85" cy="556.67" r="0.95" fill="#c8102e"/>
<circle cx="404.4" cy="530.38" r="0.95" fill="#c8102e"/>
<circle cx="408.57" cy="558.84" r="0.95" fill="#c8102e"/>
<circle cx="406.48" cy="563.05" r="0.95" fill="#c8102e"/>
<circle cx="406.53" cy="532.34" r="0.95" fill="#c8102e"/>
<circle cx="409.31" cy="533.2" r="0.95" fill="#c8102e"/>
<circle cx="408.31" cy="554.32" r="0.95" fill="#c8102e"/>
<circle cx="404.56" cy="541.92" r="0.95" fill="#c8102e"/>
<circle cx="403.96" cy="541.08" r="0.95" fill="#c8102e"/>
<circle cx="407.22" cy="536.43" r="0.95" fill="#c8102e"/>
<circle cx="408.48" cy="530.1" r="0.95" fill="#c8102e"/>
<circle cx="407.69" cy="535.87" r="0.95" fill="#c8102e"/>
<circle cx="404.22" cy="548.35" r="0.95" fill="#c8102e"/>
<circle cx="406.13" cy="527.65" r="0.95" fill="#c8102e"/>
<circle cx="409.59" cy="544.15" r="0.95" fill="#c8102e"/>
<circle cx="406.09" cy="538.27" r="0.95" fill="#c8102e"/>
<circle cx="407.33" cy="544.25" r="0.95" fill="#c8102e"/>
<circle cx="404.3" cy="537.87" r="0.95" fill="#c8102e"/>
<circle cx="406.5" cy="560.91" r="0.95" fill="#c8102e"/>
<circle cx="410.03" cy="530.52" r="0.95" fill="#c8102e"/>
<circle cx="403.67" cy="545.6" r="0.95" fill="#c8102e"/>
<circle cx="410.48" cy="548.17" r="0.95" fill="#c8102e"/>
<circle cx="410.67" cy="541.77" r="0.95" fill="#c8102e"/>
<circle cx="410.1" cy="539.38" r="0.95" fill="#c8102e"/>
<circle cx="408.23" cy="557.41" r="0.95" fill="#c8102e"/>
<circle cx="411.63" cy="539.13" r="0.95" fill="#c8102e"/>
<circle cx="404.94" cy="536.12" r="0.95" fill="#c8102e"/>
<circle cx="410.1" cy="532.21" r="0.95" fill="#c8102e"/>
<circle cx="408.8" cy="556.97" r="0.95" fill="#c8102e"/>
<circle cx="409.59" cy="534.46" r="0.95" fill="#c8102e"/>
<circle cx="407" cy="543.82" r="0.95" fill="#c8102e"/>
<circle cx="407.91" cy="557.42" r="0.95" fill="#c8102e"/>
<circle cx="408.74" cy="555.62" r="0.95" fill="#c8102e"/>
<circle cx="406.61" cy="554.8" r="0.95" fill="#c8102e"/>
<circle cx="406.17" cy="526.42" r="0.95" fill="#c8102e"/>
<circle cx="404.92" cy="526.63" r="0.95" fill="#c8102e"/>
<circle cx="404.88" cy="535.49" r="0.95" fill="#c8102e"/>
<circle cx="408.29" cy="548.83" r="0.95" fill="#c8102e"/>
<circle cx="409.23" cy="547.88" r="0.95" fill="#c8102e"/>
<circle cx="406.9" cy="539.65" r="0.95" fill="#c8102e"/>
<circle cx="404.85" cy="537.79" r="0.95" fill="#c8102e"/>
<circle cx="408.61" cy="544.26" r="0.95" fill="#c8102e"/>
<circle cx="405.58" cy="528.71" r="0.95" fill="#c8102e"/>
<circle cx="406.04" cy="545.02" r="0.95" fill="#c8102e"/>
<circle cx="411.21" cy="545.97" r="0.95" fill="#c8102e"/>
<circle cx="410.09" cy="534.8" r="0.95" fill="#c8102e"/>
<circle cx="410.84" cy="537.55" r="0.95" fill="#c8102e"/>
<circle cx="407.89" cy="564.97" r="0.95" fill="#c8102e"/>
<circle cx="410.34" cy="556.36" r="0.95" fill="#c8102e"/>
<circle cx="405.03" cy="555.38" r="0.95" fill="#c8102e"/>
<circle cx="411.13" cy="541.93" r="0.95" fill="#c8102e"/>
<circle cx="408.05" cy="552.43" r="0.95" fill="#c8102e"/>
<circle cx="410" cy="538.81" r="0.95" fill="#c8102e"/>
<circle cx="410.8" cy="535.05" r="0.95" fill="#c8102e"/>
<circle cx="407.25" cy="546.35" r="0.95" fill="#c8102e"/>
<circle cx="409.98" cy="526.87" r="0.95" fill="#c8102e"/>
<circle cx="408.07" cy="542.53" r="0.95" fill="#c8102e"/>
<circle cx="408.53" cy="526" r="0.95" fill="#c8102e"/>
<circle cx="408.36" cy="568" r="0.95" fill="#c8102e"/>
<rect x="422" y="544.5" width="11.2" height="26.9" fill="#ffffff" stroke="#5a5a5a" stroke-width="0.6" fill-opacity="0.85"/>
<line x1="421.6" y1="554" x2="433.6" y2="554" stroke="#1a1a1a" stroke-width="1.1"/>
<line x1="427.6" y1="524.5" x2="427.6" y2="544.5" stroke="#333" stroke-width="0.7"/>
<line x1="427.6" y1="571.4" x2="427.6" y2="575" stroke="#333" stroke-width="0.7"/>
<circle cx="427.39" cy="563.31" r="0.95" fill="#c4c4c4"/>
<circle cx="431.51" cy="556.16" r="0.95" fill="#c4c4c4"/>
<circle cx="424.58" cy="564.03" r="0.95" fill="#c4c4c4"/>
<circle cx="427.97" cy="565.83" r="0.95" fill="#c4c4c4"/>
<circle cx="425.16" cy="554.83" r="0.95" fill="#c4c4c4"/>
<circle cx="428.82" cy="574.39" r="0.95" fill="#c4c4c4"/>
<circle cx="430.3" cy="533.69" r="0.95" fill="#c4c4c4"/>
<circle cx="427.69" cy="534.56" r="0.95" fill="#c4c4c4"/>
<circle cx="431.43" cy="557.41" r="0.95" fill="#c4c4c4"/>
<circle cx="426.96" cy="569.9" r="0.95" fill="#c4c4c4"/>
<circle cx="429.89" cy="549.84" r="0.95" fill="#c4c4c4"/>
<circle cx="429.53" cy="554.8" r="0.95" fill="#c4c4c4"/>
<circle cx="425.44" cy="562.76" r="0.95" fill="#c4c4c4"/>
<circle cx="425" cy="548.18" r="0.95" fill="#c4c4c4"/>
<circle cx="428.19" cy="524.67" r="0.95" fill="#c4c4c4"/>
<circle cx="429.84" cy="531.82" r="0.95" fill="#c4c4c4"/>
<circle cx="424.45" cy="567.69" r="0.95" fill="#c4c4c4"/>
<circle cx="427.21" cy="554.62" r="0.95" fill="#c4c4c4"/>
<circle cx="429.88" cy="561.93" r="0.95" fill="#c4c4c4"/>
<circle cx="425.32" cy="530.8" r="0.95" fill="#c4c4c4"/>
<circle cx="428.1" cy="525.18" r="0.95" fill="#c4c4c4"/>
<circle cx="427.81" cy="571.94" r="0.95" fill="#c4c4c4"/>
<circle cx="425.61" cy="545.15" r="0.95" fill="#c4c4c4"/>
<circle cx="426.51" cy="572.67" r="0.95" fill="#c4c4c4"/>
<circle cx="424.76" cy="540.64" r="0.95" fill="#c4c4c4"/>
<circle cx="428.54" cy="529.16" r="0.95" fill="#c4c4c4"/>
<circle cx="426.26" cy="539.18" r="0.95" fill="#c4c4c4"/>
<circle cx="430.13" cy="527.58" r="0.95" fill="#c4c4c4"/>
<circle cx="427.25" cy="567.62" r="0.95" fill="#c4c4c4"/>
<circle cx="428.73" cy="545.47" r="0.95" fill="#c4c4c4"/>
<circle cx="425.45" cy="574.69" r="0.95" fill="#c4c4c4"/>
<circle cx="431.46" cy="555.25" r="0.95" fill="#c4c4c4"/>
<circle cx="425.69" cy="533.84" r="0.95" fill="#c4c4c4"/>
<circle cx="424.73" cy="550.96" r="0.95" fill="#c4c4c4"/>
<circle cx="429.76" cy="541.85" r="0.95" fill="#c4c4c4"/>
<circle cx="424.59" cy="557.76" r="0.95" fill="#c4c4c4"/>
<circle cx="426.37" cy="524.63" r="0.95" fill="#c4c4c4"/>
<circle cx="429.78" cy="525.2" r="0.95" fill="#c4c4c4"/>
<circle cx="429.87" cy="574.95" r="0.95" fill="#c4c4c4"/>
<circle cx="426.56" cy="560.22" r="0.95" fill="#c4c4c4"/>
<circle cx="424.88" cy="553.51" r="0.95" fill="#c4c4c4"/>
<circle cx="424.01" cy="563.34" r="0.95" fill="#c4c4c4"/>
<circle cx="429.68" cy="533.52" r="0.95" fill="#c4c4c4"/>
<circle cx="430.58" cy="551.42" r="0.95" fill="#c4c4c4"/>
<circle cx="423.9" cy="556.29" r="0.95" fill="#c4c4c4"/>
<circle cx="427.6" cy="524.5" r="0.95" fill="#c4c4c4"/>
<circle cx="427.19" cy="575" r="0.95" fill="#c4c4c4"/>
<rect x="436.2" y="538.4" width="10.1" height="26.3" fill="#f4a6d0" stroke="#f08cc4" stroke-width="0.6" fill-opacity="0.85"/>
<line x1="435.8" y1="553.6" x2="446.7" y2="553.6" stroke="#1a1a1a" stroke-width="1.1"/>
<line x1="441.25" y1="523.3" x2="441.25" y2="538.4" stroke="#333" stroke-width="0.7"/>
<line x1="441.25" y1="564.7" x2="441.25" y2="575" stroke="#333" stroke-width="0.7"/>
<circle cx="440.82" cy="533.44" r="0.95" fill="#e6007e"/>
<circle cx="440.56" cy="545.02" r="0.95" fill="#e6007e"/>
<circle cx="438.9" cy="552" r="0.95" fill="#e6007e"/>
<circle cx="441.8" cy="524.73" r="0.95" fill="#e6007e"/>
<circle cx="439.64" cy="539.21" r="0.95" fill="#e6007e"/>
<circle cx="438.56" cy="541.67" r="0.95" fill="#e6007e"/>
<circle cx="438.56" cy="541.07" r="0.95" fill="#e6007e"/>
<circle cx="444.78" cy="539.31" r="0.95" fill="#e6007e"/>
<circle cx="441.44" cy="566.75" r="0.95" fill="#e6007e"/>
<circle cx="441.55" cy="541.07" r="0.95" fill="#e6007e"/>
<circle cx="442.66" cy="555.73" r="0.95" fill="#e6007e"/>
<circle cx="441.3" cy="533.96" r="0.95" fill="#e6007e"/>
<circle cx="442.03" cy="541.06" r="0.95" fill="#e6007e"/>
<circle cx="440.32" cy="556.52" r="0.95" fill="#e6007e"/>
<circle cx="442.4" cy="549.22" r="0.95" fill="#e6007e"/>
<circle cx="443.08" cy="571.27" r="0.95" fill="#e6007e"/>
<circle cx="439.37" cy="525.95" r="0.95" fill="#e6007e"/>
<circle cx="439.05" cy="558.09" r="0.95" fill="#e6007e"/>
<circle cx="438.54" cy="562" r="0.95" fill="#e6007e"/>
<circle cx="442.9" cy="574.18" r="0.95" fill="#e6007e"/>
<circle cx="438.42" cy="555.13" r="0.95" fill="#e6007e"/>
<circle cx="440.87" cy="548.76" r="0.95" fill="#e6007e"/>
<circle cx="438.89" cy="544.13" r="0.95" fill="#e6007e"/>
<circle cx="440.08" cy="551.83" r="0.95" fill="#e6007e"/>
<circle cx="443.23" cy="538.21" r="0.95" fill="#e6007e"/>
<circle cx="439.07" cy="565.05" r="0.95" fill="#e6007e"/>
<circle cx="439.66" cy="534.11" r="0.95" fill="#e6007e"/>
<circle cx="441.3" cy="565.67" r="0.95" fill="#e6007e"/>
<circle cx="439.22" cy="574.67" r="0.95" fill="#e6007e"/>
<circle cx="443.74" cy="560.7" r="0.95" fill="#e6007e"/>
<circle cx="441.76" cy="534.76" r="0.95" fill="#e6007e"/>
<circle cx="439.33" cy="546.28" r="0.95" fill="#e6007e"/>
<circle cx="438.02" cy="557.44" r="0.95" fill="#e6007e"/>
<circle cx="439.94" cy="536.58" r="0.95" fill="#e6007e"/>
<circle cx="441.39" cy="572.5" r="0.95" fill="#e6007e"/>
<circle cx="439.91" cy="574.11" r="0.95" fill="#e6007e"/>
<circle cx="438.47" cy="549.59" r="0.95" fill="#e6007e"/>
<circle cx="444.24" cy="557.21" r="0.95" fill="#e6007e"/>
<circle cx="441.93" cy="543.16" r="0.95" fill="#e6007e"/>
<circle cx="440.2" cy="553.5" r="0.95" fill="#e6007e"/>
<circle cx="441.4" cy="523.3" r="0.95" fill="#e6007e"/>
<circle cx="441.64" cy="575" r="0.95" fill="#e6007e"/>
<rect x="449.3" y="543.9" width="10.5" height="28.9" fill="#ababab" stroke="#9a9a9a" stroke-width="0.6" fill-opacity="0.85"/>
<line x1="448.9" y1="556.6" x2="460.2" y2="556.6" stroke="#1a1a1a" stroke-width="1.1"/>
<line x1="454.55" y1="526" x2="454.55" y2="543.9" stroke="#333" stroke-width="0.7"/>
<line x1="454.55" y1="572.8" x2="454.55" y2="575" stroke="#333" stroke-width="0.7"/>
<circle cx="453.05" cy="541.23" r="0.95" fill="#3f3f3f"/>
<circle cx="458.14" cy="545.96" r="0.95" fill="#3f3f3f"/>
<circle cx="457.06" cy="535.76" r="0.95" fill="#3f3f3f"/>
<circle cx="452.11" cy="530.54" r="0.95" fill="#3f3f3f"/>
<circle cx="451.61" cy="563.89" r="0.95" fill="#3f3f3f"/>
<circle cx="452.08" cy="545.11" r="0.95" fill="#3f3f3f"/>
<circle cx="453.47" cy="532.25" r="0.95" fill="#3f3f3f"/>
<circle cx="451.03" cy="568.09" r="0.95" fill="#3f3f3f"/>
<circle cx="451.97" cy="541.51" r="0.95" fill="#3f3f3f"/>
<circle cx="457.32" cy="561.01" r="0.95" fill="#3f3f3f"/>
<circle cx="458.3" cy="568.66" r="0.95" fill="#3f3f3f"/>
<circle cx="453.86" cy="532.06" r="0.95" fill="#3f3f3f"/>
<circle cx="457.2" cy="573.82" r="0.95" fill="#3f3f3f"/>
<circle cx="457.13" cy="527.87" r="0.95" fill="#3f3f3f"/>
<circle cx="458.12" cy="572.09" r="0.95" fill="#3f3f3f"/>
<circle cx="453.79" cy="570.4" r="0.95" fill="#3f3f3f"/>
<circle cx="451.46" cy="564.43" r="0.95" fill="#3f3f3f"/>
<circle cx="453.11" cy="561.21" r="0.95" fill="#3f3f3f"/>
<circle cx="455.29" cy="553.76" r="0.95" fill="#3f3f3f"/>
<circle cx="457.98" cy="547.55" r="0.95" fill="#3f3f3f"/>
<circle cx="456.87" cy="554.17" r="0.95" fill="#3f3f3f"/>
<circle cx="454" cy="537.9" r="0.95" fill="#3f3f3f"/>
<circle cx="451.39" cy="566.38" r="0.95" fill="#3f3f3f"/>
<circle cx="452.04" cy="560.48" r="0.95" fill="#3f3f3f"/>
<circle cx="456.14" cy="539.92" r="0.95" fill="#3f3f3f"/>
<circle cx="456" cy="546.69" r="0.95" fill="#3f3f3f"/>
<circle cx="456.1" cy="570.71" r="0.95" fill="#3f3f3f"/>
<circle cx="451.85" cy="535.79" r="0.95" fill="#3f3f3f"/>
<circle cx="451.52" cy="569.45" r="0.95" fill="#3f3f3f"/>
<circle cx="453.71" cy="536.59" r="0.95" fill="#3f3f3f"/>
<circle cx="451.23" cy="545.22" r="0.95" fill="#3f3f3f"/>
<circle cx="454.09" cy="529.51" r="0.95" fill="#3f3f3f"/>
<circle cx="454.91" cy="536.4" r="0.95" fill="#3f3f3f"/>
<circle cx="456.1" cy="561.38" r="0.95" fill="#3f3f3f"/>
<circle cx="455.08" cy="568.34" r="0.95" fill="#3f3f3f"/>
<circle cx="453.5" cy="526.84" r="0.95" fill="#3f3f3f"/>
<circle cx="452" cy="536.23" r="0.95" fill="#3f3f3f"/>
<circle cx="456.58" cy="573.01" r="0.95" fill="#3f3f3f"/>
<circle cx="458.16" cy="572.56" r="0.95" fill="#3f3f3f"/>
<circle cx="455.12" cy="573.34" r="0.95" fill="#3f3f3f"/>
<circle cx="458.23" cy="559.19" r="0.95" fill="#3f3f3f"/>
<circle cx="453.88" cy="571.04" r="0.95" fill="#3f3f3f"/>
<circle cx="456.94" cy="549.73" r="0.95" fill="#3f3f3f"/>
<circle cx="453.68" cy="536.15" r="0.95" fill="#3f3f3f"/>
<circle cx="457.5" cy="546.91" r="0.95" fill="#3f3f3f"/>
<circle cx="452.44" cy="568.75" r="0.95" fill="#3f3f3f"/>
<circle cx="456.8" cy="574.06" r="0.95" fill="#3f3f3f"/>
<circle cx="455.36" cy="544.71" r="0.95" fill="#3f3f3f"/>
<circle cx="453.13" cy="559.22" r="0.95" fill="#3f3f3f"/>
<circle cx="456.34" cy="556.97" r="0.95" fill="#3f3f3f"/>
<circle cx="450.8" cy="558.01" r="0.95" fill="#3f3f3f"/>
<circle cx="457.91" cy="557.27" r="0.95" fill="#3f3f3f"/>
<circle cx="454.1" cy="555.26" r="0.95" fill="#3f3f3f"/>
<circle cx="452.38" cy="570.68" r="0.95" fill="#3f3f3f"/>
<circle cx="451.22" cy="550.77" r="0.95" fill="#3f3f3f"/>
<circle cx="454.76" cy="559.7" r="0.95" fill="#3f3f3f"/>
<circle cx="452.8" cy="574.61" r="0.95" fill="#3f3f3f"/>
<circle cx="457.98" cy="551.75" r="0.95" fill="#3f3f3f"/>
<circle cx="453.49" cy="541.92" r="0.95" fill="#3f3f3f"/>
<circle cx="456.7" cy="563.87" r="0.95" fill="#3f3f3f"/>
<circle cx="456.74" cy="566.91" r="0.95" fill="#3f3f3f"/>
<circle cx="456.55" cy="543.78" r="0.95" fill="#3f3f3f"/>
<circle cx="456.2" cy="549.19" r="0.95" fill="#3f3f3f"/>
<circle cx="458.31" cy="550.89" r="0.95" fill="#3f3f3f"/>
<circle cx="458.11" cy="553.75" r="0.95" fill="#3f3f3f"/>
<circle cx="453.84" cy="574.86" r="0.95" fill="#3f3f3f"/>
<circle cx="452.92" cy="537.12" r="0.95" fill="#3f3f3f"/>
<circle cx="451.06" cy="565.54" r="0.95" fill="#3f3f3f"/>
<circle cx="452.78" cy="572.33" r="0.95" fill="#3f3f3f"/>
<circle cx="451.92" cy="528.04" r="0.95" fill="#3f3f3f"/>
<circle cx="453.78" cy="526" r="0.95" fill="#3f3f3f"/>
<circle cx="453.99" cy="575" r="0.95" fill="#3f3f3f"/>
<rect x="468.5" y="537.8" width="12.2" height="32.4" fill="#fcc98c" stroke="#f9b060" stroke-width="0.6" fill-opacity="0.85"/>
<line x1="468.1" y1="552.6" x2="481.1" y2="552.6" stroke="#1a1a1a" stroke-width="1.1"/>
<line x1="474.6" y1="522.3" x2="474.6" y2="537.8" stroke="#333" stroke-width="0.7"/>
<line x1="474.6" y1="570.2" x2="474.6" y2="575" stroke="#333" stroke-width="0.7"/>
<circle cx="477.19" cy="572.78" r="0.95" fill="#f7931e"/>
<circle cx="477.58" cy="569.24" r="0.95" fill="#f7931e"/>
<circle cx="473.85" cy="533.15" r="0.95" fill="#f7931e"/>
<circle cx="477.67" cy="531.84" r="0.95" fill="#f7931e"/>
<circle cx="474" cy="572.84" r="0.95" fill="#f7931e"/>
<circle cx="478.74" cy="548.63" r="0.95" fill="#f7931e"/>
<circle cx="473.36" cy="571.04" r="0.95" fill="#f7931e"/>
<circle cx="473.59" cy="564.16" r="0.95" fill="#f7931e"/>
<circle cx="474.77" cy="532.88" r="0.95" fill="#f7931e"/>
<circle cx="470.67" cy="555.28" r="0.95" fill="#f7931e"/>
<circle cx="477.53" cy="525.6" r="0.95" fill="#f7931e"/>
<circle cx="470.6" cy="566.92" r="0.95" fill="#f7931e"/>
<circle cx="476.61" cy="534.74" r="0.95" fill="#f7931e"/>
<circle cx="475.21" cy="572.59" r="0.95" fill="#f7931e"/>
<circle cx="476.24" cy="537.3" r="0.95" fill="#f7931e"/>
<circle cx="473.86" cy="544.83" r="0.95" fill="#f7931e"/>
<circle cx="478.93" cy="565.49" r="0.95" fill="#f7931e"/>
<circle cx="474.48" cy="551.88" r="0.95" fill="#f7931e"/>
<circle cx="474.69" cy="548.15" r="0.95" fill="#f7931e"/>
<circle cx="475.57" cy="527.61" r="0.95" fill="#f7931e"/>
<circle cx="474.07" cy="532.56" r="0.95" fill="#f7931e"/>
<circle cx="477.47" cy="527.08" r="0.95" fill="#f7931e"/>
<circle cx="471.17" cy="555.12" r="0.95" fill="#f7931e"/>
<circle cx="474.49" cy="555.33" r="0.95" fill="#f7931e"/>
<circle cx="475.5" cy="572.93" r="0.95" fill="#f7931e"/>
<circle cx="478.65" cy="545.02" r="0.95" fill="#f7931e"/>
<circle cx="478.11" cy="557.97" r="0.95" fill="#f7931e"/>
<circle cx="471.7" cy="530.75" r="0.95" fill="#f7931e"/>
<circle cx="472.28" cy="571.87" r="0.95" fill="#f7931e"/>
<circle cx="472.53" cy="533.03" r="0.95" fill="#f7931e"/>
<circle cx="475.64" cy="522.3" r="0.95" fill="#f7931e"/>
<circle cx="474.23" cy="575" r="0.95" fill="#f7931e"/>
<rect x="483.7" y="543.9" width="12.1" height="27.5" fill="#94b3d6" stroke="#7fa2cc" stroke-width="0.6" fill-opacity="0.85"/>
<line x1="483.3" y1="561.3" x2="496.2" y2="561.3" stroke="#1a1a1a" stroke-width="1.1"/>
<line x1="489.75" y1="530" x2="489.75" y2="543.9" stroke="#333" stroke-width="0.7"/>
<line x1="489.75" y1="571.4" x2="489.75" y2="575" stroke="#333" stroke-width="0.7"/>
<circle cx="493.78" cy="567.95" r="0.95" fill="#1d4f8c"/>
<circle cx="492.58" cy="531.99" r="0.95" fill="#1d4f8c"/>
<circle cx="487.49" cy="547.43" r="0.95" fill="#1d4f8c"/>
<circle cx="489.03" cy="566.09" r="0.95" fill="#1d4f8c"/>
<circle cx="490.42" cy="540.45" r="0.95" fill="#1d4f8c"/>
<circle cx="486.9" cy="553.16" r="0.95" fill="#1d4f8c"/>
<circle cx="494.04" cy="559.42" r="0.95" fill="#1d4f8c"/>
<circle cx="491.91" cy="540.79" r="0.95" fill="#1d4f8c"/>
<circle cx="490.25" cy="538.29" r="0.95" fill="#1d4f8c"/>
<circle cx="492.24" cy="537.28" r="0.95" fill="#1d4f8c"/>
<circle cx="488.22" cy="559.32" r="0.95" fill="#1d4f8c"/>
<circle cx="493.38" cy="565.07" r="0.95" fill="#1d4f8c"/>
<circle cx="489.64" cy="555.78" r="0.95" fill="#1d4f8c"/>
<circle cx="490.64" cy="561.71" r="0.95" fill="#1d4f8c"/>
<circle cx="489.52" cy="534.29" r="0.95" fill="#1d4f8c"/>
<circle cx="490.86" cy="534.91" r="0.95" fill="#1d4f8c"/>
<circle cx="491.08" cy="561.68" r="0.95" fill="#1d4f8c"/>
<circle cx="493.78" cy="545.55" r="0.95" fill="#1d4f8c"/>
<circle cx="486.81" cy="531.81" r="0.95" fill="#1d4f8c"/>
<circle cx="489.44" cy="538.34" r="0.95" fill="#1d4f8c"/>
<circle cx="490.45" cy="530.42" r="0.95" fill="#1d4f8c"/>
<circle cx="492.05" cy="542.77" r="0.95" fill="#1d4f8c"/>
<circle cx="487.33" cy="555.94" r="0.95" fill="#1d4f8c"/>
<circle cx="492.41" cy="532.3" r="0.95" fill="#1d4f8c"/>
<circle cx="488.46" cy="534.84" r="0.95" fill="#1d4f8c"/>
<circle cx="492.78" cy="540.35" r="0.95" fill="#1d4f8c"/>
<circle cx="492.98" cy="563.58" r="0.95" fill="#1d4f8c"/>
<circle cx="493.87" cy="571.34" r="0.95" fill="#1d4f8c"/>
<circle cx="491.55" cy="535.12" r="0.95" fill="#1d4f8c"/>
<circle cx="485.55" cy="564.39" r="0.95" fill="#1d4f8c"/>
<circle cx="486.83" cy="572.36" r="0.95" fill="#1d4f8c"/>
<circle cx="493.2" cy="546.47" r="0.95" fill="#1d4f8c"/>
<circle cx="491.08" cy="572.48" r="0.95" fill="#1d4f8c"/>
<circle cx="486.7" cy="570.73" r="0.95" fill="#1d4f8c"/>
<circle cx="492.23" cy="572.89" r="0.95" fill="#1d4f8c"/>
<circle cx="491.01" cy="530" r="0.95" fill="#1d4f8c"/>
<circle cx="490.7" cy="575" r="0.95" fill="#1d4f8c"/>
<rect x="498.8" y="543.9" width="12.2" height="28.9" fill="#c6c6c6" stroke="#b5b5b5" stroke-width="0.6" fill-opacity="0.85"/>
<line x1="498.4" y1="553.6" x2="511.4" y2="553.6" stroke="#1a1a1a" stroke-width="1.1"/>
<line x1="504.9" y1="524" x2="504.9" y2="543.9" stroke="#333" stroke-width="0.7"/>
<line x1="504.9" y1="572.8" x2="504.9" y2="575" stroke="#333" stroke-width="0.7"/>
<circle cx="500.59" cy="566.54" r="0.95" fill="#909090"/>
<circle cx="507.5" cy="568.62" r="0.95" fill="#909090"/>
<circle cx="507.91" cy="572.81" r="0.95" fill="#909090"/>
<circle cx="504.69" cy="550.22" r="0.95" fill="#909090"/>
<circle cx="501.9" cy="526.33" r="0.95" fill="#909090"/>
<circle cx="504.06" cy="569.43" r="0.95" fill="#909090"/>
<circle cx="507.79" cy="547.35" r="0.95" fill="#909090"/>
<circle cx="504.16" cy="550.63" r="0.95" fill="#909090"/>
<circle cx="500.78" cy="561.23" r="0.95" fill="#909090"/>
<circle cx="507.83" cy="574.58" r="0.95" fill="#909090"/>
<circle cx="502.25" cy="552.72" r="0.95" fill="#909090"/>
<circle cx="503.01" cy="565.05" r="0.95" fill="#909090"/>
<circle cx="506.98" cy="543.21" r="0.95" fill="#909090"/>
<circle cx="505.37" cy="540.61" r="0.95" fill="#909090"/>
<circle cx="502.04" cy="530.84" r="0.95" fill="#909090"/>
<circle cx="504.17" cy="573.93" r="0.95" fill="#909090"/>
<circle cx="504.75" cy="531.75" r="0.95" fill="#909090"/>
<circle cx="502.61" cy="539.25" r="0.95" fill="#909090"/>
<circle cx="505.64" cy="547.6" r="0.95" fill="#909090"/>
<circle cx="508.42" cy="559.59" r="0.95" fill="#909090"/>
<circle cx="505.67" cy="561.21" r="0.95" fill="#909090"/>
<circle cx="501.64" cy="557.07" r="0.95" fill="#909090"/>
<circle cx="507.26" cy="573.93" r="0.95" fill="#909090"/>
<circle cx="504.92" cy="560.55" r="0.95" fill="#909090"/>
<circle cx="501.96" cy="573.81" r="0.95" fill="#909090"/>
<circle cx="506.41" cy="560.04" r="0.95" fill="#909090"/>
<circle cx="500.51" cy="549.25" r="0.95" fill="#909090"/>
<circle cx="504.67" cy="572.18" r="0.95" fill="#909090"/>
<circle cx="506.62" cy="570.46" r="0.95" fill="#909090"/>
<circle cx="502.57" cy="556.28" r="0.95" fill="#909090"/>
<circle cx="504.23" cy="529.35" r="0.95" fill="#909090"/>
<circle cx="504.25" cy="573.41" r="0.95" fill="#909090"/>
<circle cx="504.19" cy="544.88" r="0.95" fill="#909090"/>
<circle cx="502.84" cy="572.83" r="0.95" fill="#909090"/>
<circle cx="505.63" cy="562.45" r="0.95" fill="#909090"/>
<circle cx="502.8" cy="562.39" r="0.95" fill="#909090"/>
<circle cx="507.13" cy="546.64" r="0.95" fill="#909090"/>
<circle cx="502.09" cy="573" r="0.95" fill="#909090"/>
<circle cx="503.87" cy="542.02" r="0.95" fill="#909090"/>
<circle cx="504.77" cy="557.79" r="0.95" fill="#909090"/>
<circle cx="501.73" cy="560.32" r="0.95" fill="#909090"/>
<circle cx="503.98" cy="541.22" r="0.95" fill="#909090"/>
<circle cx="505.8" cy="556.05" r="0.95" fill="#909090"/>
<circle cx="506.04" cy="568.19" r="0.95" fill="#909090"/>
<circle cx="506.98" cy="527.9" r="0.95" fill="#909090"/>
<circle cx="505.47" cy="549.93" r="0.95" fill="#909090"/>
<circle cx="506.49" cy="564.53" r="0.95" fill="#909090"/>
<circle cx="507.6" cy="531.66" r="0.95" fill="#909090"/>
<circle cx="507.14" cy="537.6" r="0.95" fill="#909090"/>
<circle cx="501.86" cy="542.43" r="0.95" fill="#909090"/>
<circle cx="506.49" cy="542.76" r="0.95" fill="#909090"/>
<circle cx="506.22" cy="527.8" r="0.95" fill="#909090"/>
<circle cx="507.46" cy="560.64" r="0.95" fill="#909090"/>
<circle cx="508.28" cy="547.84" r="0.95" fill="#909090"/>
<circle cx="505.45" cy="538.34" r="0.95" fill="#909090"/>
<circle cx="504.51" cy="540.44" r="0.95" fill="#909090"/>
<circle cx="500.91" cy="553.78" r="0.95" fill="#909090"/>
<circle cx="507.81" cy="548.33" r="0.95" fill="#909090"/>
<circle cx="501.74" cy="555.25" r="0.95" fill="#909090"/>
<circle cx="505.29" cy="539.99" r="0.95" fill="#909090"/>
<circle cx="507.06" cy="535.61" r="0.95" fill="#909090"/>
<circle cx="504.34" cy="566.22" r="0.95" fill="#909090"/>
<circle cx="502.2" cy="559.44" r="0.95" fill="#909090"/>
<circle cx="502.09" cy="536.74" r="0.95" fill="#909090"/>
<circle cx="507.34" cy="540.72" r="0.95" fill="#909090"/>
<circle cx="501.57" cy="572.64" r="0.95" fill="#909090"/>
<circle cx="505.57" cy="557.08" r="0.95" fill="#909090"/>
<circle cx="503.97" cy="573.39" r="0.95" fill="#909090"/>
<circle cx="508.66" cy="571.02" r="0.95" fill="#909090"/>
<circle cx="505.57" cy="564.12" r="0.95" fill="#909090"/>
<circle cx="507.2" cy="574.2" r="0.95" fill="#909090"/>
<circle cx="506.68" cy="529.34" r="0.95" fill="#909090"/>
<circle cx="504.05" cy="574.75" r="0.95" fill="#909090"/>
<circle cx="502.83" cy="532.7" r="0.95" fill="#909090"/>
<circle cx="502.44" cy="533.49" r="0.95" fill="#909090"/>
<circle cx="505.04" cy="564.92" r="0.95" fill="#909090"/>
<circle cx="504.22" cy="542.05" r="0.95" fill="#909090"/>
<circle cx="507.8" cy="529.13" r="0.95" fill="#909090"/>
<circle cx="507.14" cy="559.04" r="0.95" fill="#909090"/>
<circle cx="505.65" cy="539.83" r="0.95" fill="#909090"/>
<circle cx="505.02" cy="567.66" r="0.95" fill="#909090"/>
<circle cx="505.51" cy="526.04" r="0.95" fill="#909090"/>
<circle cx="509.1" cy="547.83" r="0.95" fill="#909090"/>
<circle cx="507.98" cy="573.12" r="0.95" fill="#909090"/>
<circle cx="507.28" cy="536.54" r="0.95" fill="#909090"/>
<circle cx="503.46" cy="524" r="0.95" fill="#909090"/>
<circle cx="504" cy="575" r="0.95" fill="#909090"/>
<path d="M380.5 503V576.8H416.6" stroke="#1a1a1a" stroke-width="1.15" fill="none"/>
<path d="M418.6 503V576.8H462.5" stroke="#1a1a1a" stroke-width="1.15" fill="none"/>
<path d="M464.5 503V576.8H513.6" stroke="#1a1a1a" stroke-width="1.15" fill="none"/>
<line x1="390.4" y1="576.8" x2="390.4" y2="579.2" stroke="#1a1a1a" stroke-width="0.8"/>
<line x1="407.55" y1="576.8" x2="407.55" y2="579.2" stroke="#1a1a1a" stroke-width="0.8"/>
<line x1="427.6" y1="576.8" x2="427.6" y2="579.2" stroke="#1a1a1a" stroke-width="0.8"/>
<line x1="441.25" y1="576.8" x2="441.25" y2="579.2" stroke="#1a1a1a" stroke-width="0.8"/>
<line x1="454.55" y1="576.8" x2="454.55" y2="579.2" stroke="#1a1a1a" stroke-width="0.8"/>
<line x1="474.6" y1="576.8" x2="474.6" y2="579.2" stroke="#1a1a1a" stroke-width="0.8"/>
<line x1="489.75" y1="576.8" x2="489.75" y2="579.2" stroke="#1a1a1a" stroke-width="0.8"/>
<line x1="504.9" y1="576.8" x2="504.9" y2="579.2" stroke="#1a1a1a" stroke-width="0.8"/>
<line x1="41.8" y1="445.7" x2="44.6" y2="445.7" stroke="#1a1a1a" stroke-width="0.9"/>
<text x="38.4" y="448.5" font-size="7.7" fill="#222" text-anchor="end">50</text>
<line x1="41.8" y1="456.9" x2="44.6" y2="456.9" stroke="#1a1a1a" stroke-width="0.9"/>
<text x="38.4" y="459.7" font-size="7.7" fill="#222" text-anchor="end">40</text>
<line x1="41.8" y1="468.1" x2="44.6" y2="468.1" stroke="#1a1a1a" stroke-width="0.9"/>
<text x="38.4" y="470.9" font-size="7.7" fill="#222" text-anchor="end">30</text>
<line x1="41.8" y1="479.4" x2="44.6" y2="479.4" stroke="#1a1a1a" stroke-width="0.9"/>
<text x="38.4" y="482.2" font-size="7.7" fill="#222" text-anchor="end">20</text>
<line x1="41.8" y1="490.6" x2="44.6" y2="490.6" stroke="#1a1a1a" stroke-width="0.9"/>
<line x1="205.7" y1="443.4" x2="208.5" y2="443.4" stroke="#1a1a1a" stroke-width="0.9"/>
<text x="202.3" y="446.2" font-size="7.7" fill="#222" text-anchor="end">100</text>
<line x1="205.7" y1="455.2" x2="208.5" y2="455.2" stroke="#1a1a1a" stroke-width="0.9"/>
<text x="202.3" y="458" font-size="7.7" fill="#222" text-anchor="end">80</text>
<line x1="205.7" y1="466.9" x2="208.5" y2="466.9" stroke="#1a1a1a" stroke-width="0.9"/>
<text x="202.3" y="469.7" font-size="7.7" fill="#222" text-anchor="end">60</text>
<line x1="205.7" y1="478.5" x2="208.5" y2="478.5" stroke="#1a1a1a" stroke-width="0.9"/>
<text x="202.3" y="481.3" font-size="7.7" fill="#222" text-anchor="end">40</text>
<line x1="205.7" y1="490.1" x2="208.5" y2="490.1" stroke="#1a1a1a" stroke-width="0.9"/>
<text x="202.3" y="492.9" font-size="7.7" fill="#222" text-anchor="end">20</text>
<line x1="377.7" y1="438.2" x2="380.5" y2="438.2" stroke="#1a1a1a" stroke-width="0.9"/>
<text x="374.3" y="441" font-size="7.7" fill="#222" text-anchor="end">0.20</text>
<line x1="377.7" y1="451.7" x2="380.5" y2="451.7" stroke="#1a1a1a" stroke-width="0.9"/>
<text x="374.3" y="454.5" font-size="7.7" fill="#222" text-anchor="end">0.15</text>
<line x1="377.7" y1="465.2" x2="380.5" y2="465.2" stroke="#1a1a1a" stroke-width="0.9"/>
<text x="374.3" y="468" font-size="7.7" fill="#222" text-anchor="end">0.10</text>
<line x1="377.7" y1="478.5" x2="380.5" y2="478.5" stroke="#1a1a1a" stroke-width="0.9"/>
<text x="374.3" y="481.3" font-size="7.7" fill="#222" text-anchor="end">0.05</text>
<line x1="377.7" y1="491.5" x2="380.5" y2="491.5" stroke="#1a1a1a" stroke-width="0.9"/>
<text x="374.3" y="494.3" font-size="7.7" fill="#222" text-anchor="end">0.00</text>
<line x1="41.8" y1="531" x2="44.6" y2="531" stroke="#1a1a1a" stroke-width="0.9"/>
<text x="38.4" y="533.8" font-size="7.7" fill="#222" text-anchor="end">30</text>
<line x1="41.8" y1="545.2" x2="44.6" y2="545.2" stroke="#1a1a1a" stroke-width="0.9"/>
<text x="38.4" y="548" font-size="7.7" fill="#222" text-anchor="end">25</text>
<line x1="41.8" y1="558.7" x2="44.6" y2="558.7" stroke="#1a1a1a" stroke-width="0.9"/>
<text x="38.4" y="561.5" font-size="7.7" fill="#222" text-anchor="end">20</text>
<line x1="41.8" y1="572.9" x2="44.6" y2="572.9" stroke="#1a1a1a" stroke-width="0.9"/>
<text x="38.4" y="575.7" font-size="7.7" fill="#222" text-anchor="end">15</text>
<line x1="205.7" y1="521.5" x2="208.5" y2="521.5" stroke="#1a1a1a" stroke-width="0.9"/>
<text x="202.3" y="524.3" font-size="7.7" fill="#222" text-anchor="end">16</text>
<line x1="205.7" y1="535.3" x2="208.5" y2="535.3" stroke="#1a1a1a" stroke-width="0.9"/>
<text x="202.3" y="538.1" font-size="7.7" fill="#222" text-anchor="end">12</text>
<line x1="205.7" y1="549.2" x2="208.5" y2="549.2" stroke="#1a1a1a" stroke-width="0.9"/>
<text x="202.3" y="552" font-size="7.7" fill="#222" text-anchor="end">8</text>
<line x1="205.7" y1="563.3" x2="208.5" y2="563.3" stroke="#1a1a1a" stroke-width="0.9"/>
<text x="202.3" y="566.1" font-size="7.7" fill="#222" text-anchor="end">4</text>
<line x1="377.7" y1="526.1" x2="380.5" y2="526.1" stroke="#1a1a1a" stroke-width="0.9"/>
<text x="374.3" y="528.9" font-size="7.7" fill="#222" text-anchor="end">0.6</text>
<line x1="377.7" y1="542.2" x2="380.5" y2="542.2" stroke="#1a1a1a" stroke-width="0.9"/>
<text x="374.3" y="545" font-size="7.7" fill="#222" text-anchor="end">0.4</text>
<line x1="377.7" y1="558.5" x2="380.5" y2="558.5" stroke="#1a1a1a" stroke-width="0.9"/>
<text x="374.3" y="561.3" font-size="7.7" fill="#222" text-anchor="end">0.2</text>
<line x1="377.7" y1="574.6" x2="380.5" y2="574.6" stroke="#1a1a1a" stroke-width="0.9"/>
<text x="374.3" y="577.4" font-size="7.7" fill="#222" text-anchor="end">0.0</text>
<text x="13.1" y="456.4" font-size="8.8" fill="#222" text-anchor="middle" textLength="45.4" lengthAdjust="spacingAndGlyphs" transform="rotate(-90 13.1 456.4)">Mean nuclear</text>
<text x="24.4" y="456.6" font-size="8.8" fill="#222" text-anchor="middle" textLength="32.7" lengthAdjust="spacingAndGlyphs" transform="rotate(-90 24.4 456.6)">area [a.u.]</text>
<text x="13.4" y="540.4" font-size="8.8" fill="#222" text-anchor="middle" textLength="45.8" lengthAdjust="spacingAndGlyphs" transform="rotate(-90 13.4 540.4)">Mean nuclear</text>
<text x="25.2" y="540.4" font-size="8.8" fill="#222" text-anchor="middle" textLength="51.1" lengthAdjust="spacingAndGlyphs" transform="rotate(-90 25.2 540.4)">perimeter [a.u.]</text>
<text x="187" y="456.4" font-size="9" fill="#222" text-anchor="middle" textLength="67.9" lengthAdjust="spacingAndGlyphs" transform="rotate(-90 187 456.4)">Mean div. time [a.u.]</text>
<text x="191.3" y="540.2" font-size="9.2" fill="#222" text-anchor="middle" textLength="44.3" lengthAdjust="spacingAndGlyphs" transform="rotate(-90 191.3 540.2)">Motility [a.u.]</text>
<text x="354.6" y="458" font-size="9.1" fill="#222" text-anchor="middle" textLength="55.9" lengthAdjust="spacingAndGlyphs" transform="rotate(-90 354.6 458)">CD24 expr [a.u.]</text>
<text x="359.1" y="540.3" font-size="9.2" fill="#222" text-anchor="middle" transform="rotate(-90 359.1 540.3)" textLength="59.1" lengthAdjust="spacingAndGlyphs">CD115 <tspan font-size="8">expr. [a.u.]</tspan></text>
<text x="63.2" y="427.8" font-size="6.6" fill="#333" text-anchor="middle" textLength="18.3" lengthAdjust="spacingAndGlyphs">8.8E-9</text>
<line x1="54" y1="429.4" x2="72.3" y2="429.4" stroke="#555" stroke-width="0.75"/>
<text x="104.9" y="427.2" font-size="6.6" fill="#333" text-anchor="middle">NS</text>
<line x1="91" y1="428.8" x2="118" y2="428.8" stroke="#555" stroke-width="0.75"/>
<text x="97.2" y="434.6" font-size="6.6" fill="#333" text-anchor="middle">NS</text>
<line x1="91" y1="436.2" x2="102" y2="436.2" stroke="#555" stroke-width="0.75"/>
<text x="112.4" y="437.9" font-size="6.6" fill="#333" text-anchor="middle" textLength="16.5" lengthAdjust="spacingAndGlyphs">0.042</text>
<line x1="104" y1="439.5" x2="120.5" y2="439.5" stroke="#555" stroke-width="0.75"/>
<text x="150.7" y="427.2" font-size="6.6" fill="#333" text-anchor="middle">NS</text>
<line x1="137.2" y1="428.8" x2="166.5" y2="428.8" stroke="#555" stroke-width="0.75"/>
<text x="141.9" y="439.6" font-size="6.6" fill="#333" text-anchor="middle" textLength="18" lengthAdjust="spacingAndGlyphs">9.2E-4</text>
<line x1="133.5" y1="441.2" x2="151" y2="441.2" stroke="#555" stroke-width="0.75"/>
<text x="161.1" y="435.7" font-size="6.6" fill="#333" text-anchor="middle" textLength="18.2" lengthAdjust="spacingAndGlyphs">9.7E-6</text>
<line x1="152" y1="437.3" x2="168.5" y2="437.3" stroke="#555" stroke-width="0.75"/>
<text x="227.2" y="427.3" font-size="6.6" fill="#333" text-anchor="middle" textLength="16.4" lengthAdjust="spacingAndGlyphs">0.058</text>
<line x1="219" y1="428.9" x2="235.4" y2="428.9" stroke="#555" stroke-width="0.75"/>
<text x="271.9" y="423" font-size="6.6" fill="#333" text-anchor="middle" textLength="16" lengthAdjust="spacingAndGlyphs">0.012</text>
<line x1="256.2" y1="424.6" x2="283.5" y2="424.6" stroke="#555" stroke-width="0.75"/>
<text x="263.7" y="431.9" font-size="6.6" fill="#333" text-anchor="middle" textLength="17.5" lengthAdjust="spacingAndGlyphs">2.7E-3</text>
<line x1="256.2" y1="433.5" x2="269.6" y2="433.5" stroke="#555" stroke-width="0.75"/>
<text x="276.2" y="440.3" font-size="6.6" fill="#333" text-anchor="middle">NS</text>
<line x1="269.6" y1="441.9" x2="283.1" y2="441.9" stroke="#555" stroke-width="0.75"/>
<text x="319" y="423" font-size="6.6" fill="#333" text-anchor="middle" textLength="17.5" lengthAdjust="spacingAndGlyphs">2.6E-3</text>
<line x1="303.7" y1="424.6" x2="334.4" y2="424.6" stroke="#555" stroke-width="0.75"/>
<text x="310.4" y="436.4" font-size="6.6" fill="#333" text-anchor="middle">NS</text>
<line x1="303.7" y1="438" x2="318" y2="438" stroke="#555" stroke-width="0.75"/>
<text x="326.7" y="431.9" font-size="6.6" fill="#333" text-anchor="middle" textLength="16" lengthAdjust="spacingAndGlyphs">0.013</text>
<line x1="319" y1="433.5" x2="334.4" y2="433.5" stroke="#555" stroke-width="0.75"/>
<text x="398.6" y="428.8" font-size="6.6" fill="#333" text-anchor="middle">NS</text>
<line x1="390.3" y1="430.4" x2="407" y2="430.4" stroke="#555" stroke-width="0.75"/>
<text x="440.9" y="421.2" font-size="6.6" fill="#333" text-anchor="middle">NS</text>
<line x1="427.5" y1="422.8" x2="453.8" y2="422.8" stroke="#555" stroke-width="0.75"/>
<text x="430.2" y="432.7" font-size="6.6" fill="#333" text-anchor="middle" textLength="17.5" lengthAdjust="spacingAndGlyphs">2.7E-3</text>
<line x1="427.5" y1="434.3" x2="440.9" y2="434.3" stroke="#555" stroke-width="0.75"/>
<text x="449.3" y="429.3" font-size="6.6" fill="#333" text-anchor="middle" textLength="16" lengthAdjust="spacingAndGlyphs">0.063</text>
<line x1="440.9" y1="430.9" x2="456.4" y2="430.9" stroke="#555" stroke-width="0.75"/>
<text x="489.7" y="428" font-size="6.6" fill="#333" text-anchor="middle" textLength="17.5" lengthAdjust="spacingAndGlyphs">2.2E-3</text>
<line x1="475.2" y1="429.6" x2="511" y2="429.6" stroke="#555" stroke-width="0.75"/>
<text x="480.7" y="440.2" font-size="6.6" fill="#333" text-anchor="middle" textLength="16" lengthAdjust="spacingAndGlyphs">0.054</text>
<line x1="475.2" y1="441.8" x2="488.7" y2="441.8" stroke="#555" stroke-width="0.75"/>
<text x="497.8" y="435.3" font-size="6.6" fill="#333" text-anchor="middle" textLength="17.5" lengthAdjust="spacingAndGlyphs">4.1E-8</text>
<line x1="488.7" y1="436.9" x2="506.9" y2="436.9" stroke="#555" stroke-width="0.75"/>
<text x="63" y="511.2" font-size="6.6" fill="#333" text-anchor="middle" textLength="16.5" lengthAdjust="spacingAndGlyphs">0.013</text>
<line x1="54.5" y1="512.8" x2="71" y2="512.8" stroke="#555" stroke-width="0.75"/>
<text x="104.9" y="511.1" font-size="6.6" fill="#333" text-anchor="middle">NS</text>
<line x1="91" y1="512.7" x2="118" y2="512.7" stroke="#555" stroke-width="0.75"/>
<text x="97.2" y="518.8" font-size="6.6" fill="#333" text-anchor="middle" textLength="16" lengthAdjust="spacingAndGlyphs">0.016</text>
<line x1="91" y1="520.4" x2="102" y2="520.4" stroke="#555" stroke-width="0.75"/>
<text x="112.2" y="525.7" font-size="6.6" fill="#333" text-anchor="middle" textLength="16" lengthAdjust="spacingAndGlyphs">0.048</text>
<line x1="104" y1="527.3" x2="120" y2="527.3" stroke="#555" stroke-width="0.75"/>
<text x="150.7" y="511.1" font-size="6.6" fill="#333" text-anchor="middle">NS</text>
<line x1="137.2" y1="512.7" x2="166.5" y2="512.7" stroke="#555" stroke-width="0.75"/>
<text x="143" y="522.2" font-size="6.6" fill="#333" text-anchor="middle" textLength="16" lengthAdjust="spacingAndGlyphs">0.013</text>
<line x1="137" y1="523.8" x2="151" y2="523.8" stroke="#555" stroke-width="0.75"/>
<text x="161" y="518.4" font-size="6.6" fill="#333" text-anchor="middle" textLength="17.5" lengthAdjust="spacingAndGlyphs">4.9E-6</text>
<line x1="152" y1="520" x2="168" y2="520" stroke="#555" stroke-width="0.75"/>
<text x="227" y="510.7" font-size="6.6" fill="#333" text-anchor="middle" textLength="17.7" lengthAdjust="spacingAndGlyphs">3.7E-4</text>
<line x1="218" y1="512.3" x2="235.7" y2="512.3" stroke="#555" stroke-width="0.75"/>
<text x="271.9" y="504" font-size="6.6" fill="#333" text-anchor="middle" textLength="17.5" lengthAdjust="spacingAndGlyphs">8.2E-5</text>
<line x1="256.2" y1="505.6" x2="283.5" y2="505.6" stroke="#555" stroke-width="0.75"/>
<text x="262" y="512.6" font-size="6.6" fill="#333" text-anchor="middle">NS</text>
<line x1="256.2" y1="514.2" x2="269.6" y2="514.2" stroke="#555" stroke-width="0.75"/>
<text x="279.6" y="518.8" font-size="6.6" fill="#333" text-anchor="middle" textLength="16" lengthAdjust="spacingAndGlyphs">0.010</text>
<line x1="269.6" y1="520.4" x2="283.1" y2="520.4" stroke="#555" stroke-width="0.75"/>
<text x="318.1" y="510.7" font-size="6.6" fill="#333" text-anchor="middle" textLength="18.5" lengthAdjust="spacingAndGlyphs">All NS</text>
<line x1="303.7" y1="512.3" x2="334.4" y2="512.3" stroke="#555" stroke-width="0.75"/>
<line x1="319" y1="514.6" x2="334.4" y2="514.6" stroke="#555" stroke-width="0.75"/>
<line x1="303.7" y1="518.5" x2="318" y2="518.5" stroke="#555" stroke-width="0.75"/>
<text x="398.3" y="511" font-size="6.6" fill="#333" text-anchor="middle" textLength="21" lengthAdjust="spacingAndGlyphs">7.7E-48</text>
<line x1="390.3" y1="512.6" x2="407" y2="512.6" stroke="#555" stroke-width="0.75"/>
<text x="440.9" y="510" font-size="6.6" fill="#333" text-anchor="middle" textLength="18.5" lengthAdjust="spacingAndGlyphs">All NS</text>
<line x1="427.5" y1="511.6" x2="453.8" y2="511.6" stroke="#555" stroke-width="0.75"/>
<line x1="440.9" y1="514.8" x2="453.8" y2="514.8" stroke="#555" stroke-width="0.75"/>
<line x1="427.5" y1="517.2" x2="440.9" y2="517.2" stroke="#555" stroke-width="0.75"/>
<text x="489.7" y="510" font-size="6.6" fill="#333" text-anchor="middle" textLength="18.5" lengthAdjust="spacingAndGlyphs">All NS</text>
<line x1="475.2" y1="511.6" x2="511" y2="511.6" stroke="#555" stroke-width="0.75"/>
<line x1="488.7" y1="514.8" x2="511" y2="514.8" stroke="#555" stroke-width="0.75"/>
<line x1="475.2" y1="517.2" x2="488.7" y2="517.2" stroke="#555" stroke-width="0.75"/>
<rect x="50" y="582.7" width="9.8" height="27.5" fill="#9c9c9c"/>
<text x="57.9" y="596.9" font-size="8.4" fill="#222" text-anchor="middle" transform="rotate(-90 57.9 596.9)" textLength="25.2" lengthAdjust="spacingAndGlyphs">GMP<tspan font-size="5.8" dy="-3.1">GM</tspan></text>
<rect x="66.75" y="582.7" width="9.8" height="27.5" fill="#c8102e"/>
<text x="74.65" y="595.3" font-size="8.4" fill="#fff" text-anchor="middle" transform="rotate(-90 74.65 595.3)" textLength="22.0" lengthAdjust="spacingAndGlyphs">GMP<tspan font-size="5.8" dy="-3.1">M</tspan></text>
<rect x="86.2" y="583.4" width="9" height="21" fill="#fff" stroke="#666" stroke-width="0.8"/>
<text x="93.7" y="593.9" font-size="8.4" fill="#222" text-anchor="middle" textLength="18.6" lengthAdjust="spacingAndGlyphs" transform="rotate(-90 93.7 593.9)">Blank</text>
<rect x="99.1" y="583" width="9.8" height="21.8" fill="#e6007e"/>
<text x="107" y="593.9" font-size="8.4" fill="#fff" text-anchor="middle" textLength="15" lengthAdjust="spacingAndGlyphs" transform="rotate(-90 107 593.9)">TNF</text>
<rect x="112.7" y="583" width="9.8" height="21.8" fill="#4d4d4d"/>
<text x="120.6" y="593.9" font-size="8.4" fill="#ddd" text-anchor="middle" textLength="11" lengthAdjust="spacingAndGlyphs" transform="rotate(-90 120.6 593.9)">IL1</text>
<rect x="131.75" y="583" width="9.8" height="21.8" fill="#f7931e"/>
<text x="139.65" y="593.9" font-size="8.4" fill="#111" text-anchor="middle" textLength="15.8" lengthAdjust="spacingAndGlyphs" transform="rotate(-90 139.65 593.9)">OSC</text>
<rect x="146.55" y="583" width="9.8" height="21.8" fill="#1d4f8c"/>
<text x="154.45" y="593.9" font-size="8.4" fill="#fff" text-anchor="middle" textLength="15" lengthAdjust="spacingAndGlyphs" transform="rotate(-90 154.45 593.9)">TRA</text>
<rect x="161.9" y="583" width="9.8" height="21.8" fill="#9a9a9a"/>
<text x="169.8" y="593.9" font-size="8.4" fill="#222" text-anchor="middle" textLength="16.8" lengthAdjust="spacingAndGlyphs" transform="rotate(-90 169.8 593.9)">NON</text>
<line x1="131.9" y1="609.2" x2="156.6" y2="609.2" stroke="#555" stroke-width="0.8"/>
<line x1="163.2" y1="609.2" x2="172" y2="609.2" stroke="#555" stroke-width="0.8"/>
<circle cx="144.55" cy="615.8" r="3.4" fill="none" stroke="#333" stroke-width="0.7"/>
<path d="M142.55 615.8H146.55M144.55 613.8V617.8" stroke="#333" stroke-width="0.8"/>
<circle cx="166.8" cy="615.8" r="3.4" fill="none" stroke="#333" stroke-width="0.7"/>
<path d="M164.8 615.8H168.8" stroke="#333" stroke-width="0.8"/>
<text x="131.9" y="630.6" font-size="8.6" fill="#e6007e" textLength="14.4" lengthAdjust="spacingAndGlyphs">TNF</text>
<text x="148.1" y="630.6" font-size="8.6" fill="#333" textLength="7.6" lengthAdjust="spacingAndGlyphs">or</text>
<text x="157.6" y="630.6" font-size="8.6" fill="#aaa" textLength="15.6" lengthAdjust="spacingAndGlyphs">IL1b</text>
<rect x="214.2" y="582.7" width="9.8" height="27.5" fill="#9c9c9c"/>
<text x="222.1" y="596.9" font-size="8.4" fill="#222" text-anchor="middle" transform="rotate(-90 222.1 596.9)" textLength="25.2" lengthAdjust="spacingAndGlyphs">GMP<tspan font-size="5.8" dy="-3.1">GM</tspan></text>
<rect x="230.45" y="582.7" width="9.8" height="27.5" fill="#c8102e"/>
<text x="238.35" y="595.3" font-size="8.4" fill="#fff" text-anchor="middle" transform="rotate(-90 238.35 595.3)" textLength="22.0" lengthAdjust="spacingAndGlyphs">GMP<tspan font-size="5.8" dy="-3.1">M</tspan></text>
<rect x="252.05" y="583.4" width="9" height="21" fill="#fff" stroke="#666" stroke-width="0.8"/>
<text x="259.55" y="593.9" font-size="8.4" fill="#222" text-anchor="middle" textLength="18.6" lengthAdjust="spacingAndGlyphs" transform="rotate(-90 259.55 593.9)">Blank</text>
<rect x="265.1" y="583" width="9.8" height="21.8" fill="#e6007e"/>
<text x="273" y="593.9" font-size="8.4" fill="#fff" text-anchor="middle" textLength="15" lengthAdjust="spacingAndGlyphs" transform="rotate(-90 273 593.9)">TNF</text>
<rect x="279.1" y="583" width="9.8" height="21.8" fill="#4d4d4d"/>
<text x="287" y="593.9" font-size="8.4" fill="#ddd" text-anchor="middle" textLength="11" lengthAdjust="spacingAndGlyphs" transform="rotate(-90 287 593.9)">IL1</text>
<rect x="298" y="583" width="9.8" height="21.8" fill="#f7931e"/>
<text x="305.9" y="593.9" font-size="8.4" fill="#111" text-anchor="middle" textLength="15.8" lengthAdjust="spacingAndGlyphs" transform="rotate(-90 305.9 593.9)">OSC</text>
<rect x="313.35" y="583" width="9.8" height="21.8" fill="#1d4f8c"/>
<text x="321.25" y="593.9" font-size="8.4" fill="#fff" text-anchor="middle" textLength="15" lengthAdjust="spacingAndGlyphs" transform="rotate(-90 321.25 593.9)">TRA</text>
<rect x="328.7" y="583" width="9.8" height="21.8" fill="#9a9a9a"/>
<text x="336.6" y="593.9" font-size="8.4" fill="#222" text-anchor="middle" textLength="16.8" lengthAdjust="spacingAndGlyphs" transform="rotate(-90 336.6 593.9)">NON</text>
<line x1="298.3" y1="609.2" x2="323.2" y2="609.2" stroke="#555" stroke-width="0.8"/>
<line x1="330.2" y1="609.2" x2="338.6" y2="609.2" stroke="#555" stroke-width="0.8"/>
<circle cx="311.05" cy="615.8" r="3.4" fill="none" stroke="#333" stroke-width="0.7"/>
<path d="M309.05 615.8H313.05M311.05 613.8V617.8" stroke="#333" stroke-width="0.8"/>
<circle cx="333.6" cy="615.8" r="3.4" fill="none" stroke="#333" stroke-width="0.7"/>
<path d="M331.6 615.8H335.6" stroke="#333" stroke-width="0.8"/>
<text x="298.3" y="630.6" font-size="8.6" fill="#e6007e" textLength="14.4" lengthAdjust="spacingAndGlyphs">TNF</text>
<text x="314.5" y="630.6" font-size="8.6" fill="#333" textLength="7.6" lengthAdjust="spacingAndGlyphs">or</text>
<text x="324" y="630.6" font-size="8.6" fill="#aaa" textLength="15.6" lengthAdjust="spacingAndGlyphs">IL1b</text>
<rect x="385.5" y="582.7" width="9.8" height="27.5" fill="#9c9c9c"/>
<text x="393.4" y="596.9" font-size="8.4" fill="#222" text-anchor="middle" transform="rotate(-90 393.4 596.9)" textLength="25.2" lengthAdjust="spacingAndGlyphs">GMP<tspan font-size="5.8" dy="-3.1">GM</tspan></text>
<rect x="402.65" y="582.7" width="9.8" height="27.5" fill="#c8102e"/>
<text x="410.55" y="595.3" font-size="8.4" fill="#fff" text-anchor="middle" transform="rotate(-90 410.55 595.3)" textLength="22.0" lengthAdjust="spacingAndGlyphs">GMP<tspan font-size="5.8" dy="-3.1">M</tspan></text>
<rect x="423.1" y="583.4" width="9" height="21" fill="#fff" stroke="#666" stroke-width="0.8"/>
<text x="430.6" y="593.9" font-size="8.4" fill="#222" text-anchor="middle" textLength="18.6" lengthAdjust="spacingAndGlyphs" transform="rotate(-90 430.6 593.9)">Blank</text>
<rect x="436.35" y="583" width="9.8" height="21.8" fill="#e6007e"/>
<text x="444.25" y="593.9" font-size="8.4" fill="#fff" text-anchor="middle" textLength="15" lengthAdjust="spacingAndGlyphs" transform="rotate(-90 444.25 593.9)">TNF</text>
<rect x="449.65" y="583" width="9.8" height="21.8" fill="#4d4d4d"/>
<text x="457.55" y="593.9" font-size="8.4" fill="#ddd" text-anchor="middle" textLength="11" lengthAdjust="spacingAndGlyphs" transform="rotate(-90 457.55 593.9)">IL1</text>
<rect x="469.7" y="583" width="9.8" height="21.8" fill="#f7931e"/>
<text x="477.6" y="593.9" font-size="8.4" fill="#111" text-anchor="middle" textLength="15.8" lengthAdjust="spacingAndGlyphs" transform="rotate(-90 477.6 593.9)">OSC</text>
<rect x="484.85" y="583" width="9.8" height="21.8" fill="#1d4f8c"/>
<text x="492.75" y="593.9" font-size="8.4" fill="#fff" text-anchor="middle" textLength="15" lengthAdjust="spacingAndGlyphs" transform="rotate(-90 492.75 593.9)">TRA</text>
<rect x="500" y="583" width="9.8" height="21.8" fill="#9a9a9a"/>
<text x="507.9" y="593.9" font-size="8.4" fill="#222" text-anchor="middle" textLength="16.8" lengthAdjust="spacingAndGlyphs" transform="rotate(-90 507.9 593.9)">NON</text>
<line x1="469.5" y1="609.2" x2="495.2" y2="609.2" stroke="#555" stroke-width="0.8"/>
<line x1="501" y1="609.2" x2="510.4" y2="609.2" stroke="#555" stroke-width="0.8"/>
<circle cx="482.65" cy="615.8" r="3.4" fill="none" stroke="#333" stroke-width="0.7"/>
<path d="M480.65 615.8H484.65M482.65 613.8V617.8" stroke="#333" stroke-width="0.8"/>
<circle cx="504.9" cy="615.8" r="3.4" fill="none" stroke="#333" stroke-width="0.7"/>
<path d="M502.9 615.8H506.9" stroke="#333" stroke-width="0.8"/>
<text x="469.5" y="630.6" font-size="8.6" fill="#e6007e" textLength="14.4" lengthAdjust="spacingAndGlyphs">TNF</text>
<text x="485.7" y="630.6" font-size="8.6" fill="#333" textLength="7.6" lengthAdjust="spacingAndGlyphs">or</text>
<text x="495.2" y="630.6" font-size="8.6" fill="#aaa" textLength="15.6" lengthAdjust="spacingAndGlyphs">IL1b</text></svg>
</body></html>
